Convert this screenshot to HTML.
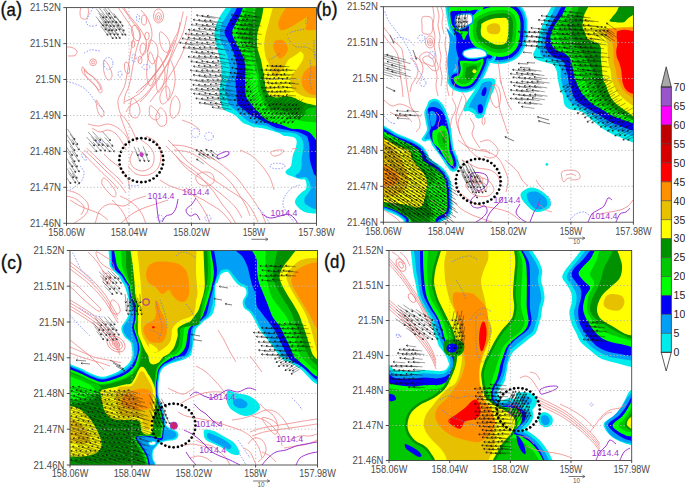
<!DOCTYPE html>
<html><head><meta charset="utf-8"><style>
html,body{margin:0;padding:0;background:#fff;}
svg{display:block;font-family:"Liberation Sans",sans-serif;}
</style></head><body>
<svg width="685" height="488" viewBox="0 0 685 488">
<rect width="685" height="488" fill="#fff"/>
<defs>
<clipPath id="clipa"><rect x="66.5" y="7.6" width="250.0" height="215.7"/></clipPath>
<clipPath id="clipb"><rect x="383.4" y="6.7" width="250.0" height="215.5"/></clipPath>
<clipPath id="clipc"><rect x="70.0" y="250.5" width="247.5" height="214.5"/></clipPath>
<clipPath id="clipd"><rect x="389.0" y="250.5" width="242.7" height="210.0"/></clipPath>
</defs>
<g clip-path="url(#clipa)">
<path d="M227.0,0.0 L226.0,7.6 C225.1,8.9 222.1,12.8 220.5,15.5 C218.9,18.2 217.5,21.1 216.5,24.0 C215.5,26.9 214.7,29.7 214.5,32.6 C214.3,35.5 214.7,38.4 215.2,41.2 C215.7,44.1 216.8,46.9 217.5,49.7 C218.2,52.5 219.0,55.4 219.6,58.2 C220.2,61.1 220.7,63.9 221.0,66.8 C221.3,69.6 221.6,72.6 221.5,75.3 C221.4,78.0 220.9,80.0 220.5,83.0 C220.1,86.0 219.1,90.2 219.2,93.5 C219.2,96.8 220.2,100.0 220.8,102.5 C221.4,105.0 221.5,106.7 222.5,108.2 C223.5,109.7 225.3,110.6 227.0,111.5 C228.7,112.4 230.8,112.7 232.7,113.8 C234.6,114.9 236.6,116.8 238.3,118.3 C240.0,119.8 241.1,121.7 242.8,122.8 C244.5,123.9 246.5,124.3 248.4,125.1 C250.3,125.8 251.9,126.8 254.1,127.3 C256.2,127.8 258.3,127.4 261.3,128.0 C264.3,128.6 268.9,129.8 272.0,130.7 C275.1,131.6 277.9,132.6 280.0,133.5 C282.1,134.4 282.4,135.6 284.4,136.1 C286.4,136.6 289.9,136.3 291.8,136.7 C293.7,137.1 294.7,137.6 295.5,138.5 C296.3,139.4 296.7,140.5 296.7,142.2 C296.7,143.8 296.1,146.3 295.5,148.4 C294.9,150.5 293.6,152.2 293.0,154.5 C292.4,156.8 292.2,159.8 291.8,161.9 C291.4,164.0 291.5,165.2 290.5,166.8 C289.5,168.4 286.2,170.0 285.6,171.2 C285.0,172.4 285.6,173.3 286.8,174.2 C288.0,175.1 290.7,175.8 293.0,176.7 C295.3,177.5 298.4,178.8 300.4,179.3 C302.4,179.8 303.8,178.8 304.8,179.5 C305.8,180.2 306.2,182.1 306.4,183.7 C306.6,185.3 306.7,187.6 305.9,189.1 C305.1,190.6 302.9,191.1 301.5,192.4 C300.1,193.7 298.3,195.1 297.2,196.7 C296.1,198.3 294.8,200.4 295.0,202.2 C295.2,204.0 297.0,206.1 298.3,207.6 C299.6,209.1 300.8,210.0 302.6,210.9 C304.4,211.8 306.8,212.6 309.1,213.0 C311.5,213.4 315.4,213.5 316.7,213.6 L330.0,214.0 L330.0,0.0 L227.0,0.0 Z" fill="#00ecec"/>
<path d="M232.5,0.0 L232.0,7.6 C231.2,8.9 228.7,12.8 227.0,15.5 C225.3,18.2 222.9,21.1 221.7,24.0 C220.5,26.9 219.9,29.7 219.8,32.6 C219.7,35.5 220.1,38.4 221.0,41.2 C221.9,44.1 223.8,46.9 225.0,49.7 C226.2,52.5 227.2,55.4 228.0,58.2 C228.8,61.1 229.2,63.9 229.5,66.8 C229.8,69.6 229.8,73.1 229.5,75.3 C229.2,77.5 228.2,78.1 227.5,80.0 C226.8,81.9 225.6,84.5 225.3,86.8 C225.0,89.0 225.4,90.9 225.9,93.5 C226.4,96.1 227.3,100.2 228.2,102.5 C229.1,104.8 230.0,105.5 231.5,107.0 C233.0,108.5 235.5,110.0 237.2,111.5 C238.9,113.0 240.0,114.5 241.7,116.0 C243.4,117.5 245.2,119.3 247.3,120.6 C249.4,121.9 251.8,123.2 254.1,123.9 C256.4,124.7 258.5,124.7 260.8,125.1 C263.1,125.5 265.3,125.5 268.0,126.5 C270.7,127.5 273.9,130.2 277.0,131.2 C280.1,132.2 283.7,132.0 286.8,132.4 C289.9,132.8 293.0,132.6 295.5,133.6 C298.0,134.6 300.3,136.7 301.6,138.5 C302.9,140.3 303.3,142.4 303.5,144.7 C303.7,147.0 303.1,149.6 302.8,152.1 C302.5,154.6 301.8,157.2 301.6,159.5 C301.4,161.8 301.9,163.5 301.6,165.6 C301.3,167.7 300.8,170.2 299.8,171.8 C298.8,173.5 295.8,174.5 295.5,175.5 C295.2,176.5 296.2,177.6 297.9,177.9 C299.6,178.2 304.0,176.6 305.9,177.2 C307.8,177.8 308.3,179.7 309.1,181.5 C309.9,183.3 311.0,186.0 310.8,188.0 C310.6,190.0 309.0,191.9 308.0,193.5 C307.0,195.1 305.3,196.2 304.8,197.8 C304.3,199.4 304.1,201.9 304.8,203.3 C305.5,204.8 307.7,205.6 309.1,206.5 C310.6,207.4 312.2,208.2 313.5,208.7 C314.8,209.1 316.2,209.1 316.7,209.2 L330.0,209.0 L330.0,0.0 L232.5,0.0 Z" fill="#01a0f6"/>
<path d="M237.5,0.0 L237.0,7.6 C236.3,8.9 234.5,12.8 233.0,15.5 C231.5,18.2 229.4,21.1 228.0,24.0 C226.6,26.9 224.4,29.7 224.5,32.6 C224.6,35.5 227.2,38.4 228.5,41.2 C229.8,44.1 231.3,46.9 232.5,49.7 C233.7,52.5 234.8,55.4 235.5,58.2 C236.2,61.1 236.8,63.9 237.0,66.8 C237.2,69.6 236.8,73.1 236.5,75.3 C236.2,77.5 235.6,78.1 235.5,80.0 C235.4,81.9 235.8,84.4 236.0,86.8 C236.2,89.2 236.4,91.8 236.6,94.6 C236.8,97.4 236.5,101.6 237.2,103.7 C237.9,105.8 239.1,105.7 240.6,107.0 C242.1,108.3 244.3,110.0 246.2,111.5 C248.1,113.0 249.9,114.9 251.8,116.0 C253.7,117.1 255.8,117.5 257.5,118.3 C259.2,119.1 260.5,120.0 262.3,120.9 C264.1,121.8 266.4,122.9 268.4,123.9 C270.4,124.9 273.1,126.3 274.5,127.0 C275.9,127.7 274.5,127.5 277.0,128.1 C279.5,128.7 285.6,129.8 289.3,130.5 C293.0,131.2 296.3,131.5 299.2,132.4 C302.1,133.3 304.9,134.7 306.5,136.1 C308.1,137.5 308.0,139.2 308.5,141.0 C309.0,142.8 309.3,144.7 309.5,147.2 C309.7,149.7 309.3,153.4 309.5,156.0 C309.7,158.6 310.0,160.8 310.5,163.0 C311.0,165.2 311.9,167.5 312.5,169.3 C313.1,171.1 313.3,172.8 314.0,174.0 C314.7,175.2 316.2,176.1 316.7,176.5 L330.0,177.0 L330.0,0.0 L237.5,0.0 Z" fill="#0000f6"/>
<path d="M243.5,0.0 L243.0,7.6 C242.5,8.9 241.2,12.8 240.0,15.5 C238.8,18.2 236.8,21.1 235.5,24.0 C234.2,26.9 232.1,29.7 232.0,32.6 C231.9,35.5 233.8,38.4 235.0,41.2 C236.2,44.1 238.1,46.9 239.5,49.7 C240.9,52.5 242.6,55.4 243.6,58.2 C244.6,61.1 245.0,63.9 245.3,66.8 C245.6,69.6 245.3,72.7 245.3,75.3 C245.3,77.9 245.1,79.9 245.1,82.2 C245.1,84.5 245.2,86.9 245.3,89.3 C245.5,91.7 245.3,94.3 246.0,96.5 C246.7,98.7 248.4,100.6 249.6,102.3 C250.8,104.0 252.1,105.3 253.2,106.6 C254.3,107.9 255.0,109.0 256.0,110.0 C257.0,111.0 257.9,111.4 259.0,112.5 C260.1,113.6 260.9,115.3 262.3,116.6 C263.7,117.9 265.4,119.2 267.2,120.2 C269.0,121.2 271.1,122.0 273.3,122.7 C275.6,123.4 278.3,123.7 280.7,124.5 C283.1,125.3 285.6,126.8 287.7,127.5 C289.8,128.2 291.1,128.7 293.4,129.0 C295.7,129.3 299.0,129.0 301.6,129.5 C304.2,130.0 306.9,130.7 309.0,132.0 C311.1,133.3 312.6,135.7 313.9,137.3 C315.2,138.9 316.5,140.8 317.0,141.5 L330.0,142.0 L330.0,0.0 L243.5,0.0 Z" fill="#00ff00"/>
<path d="M246.5,0.0 L246.0,7.6 C245.7,8.9 245.0,12.8 244.0,15.5 C243.0,18.2 241.2,21.1 240.0,24.0 C238.8,26.9 236.9,30.2 237.0,32.6 C237.1,35.0 238.9,36.0 240.4,38.2 C241.9,40.4 244.5,43.3 245.9,45.6 C247.3,47.9 248.0,49.6 249.0,52.0 C250.0,54.4 251.1,57.3 252.0,60.0 C252.9,62.7 253.7,65.5 254.5,68.0 C255.3,70.5 256.3,72.6 256.8,75.0 C257.3,77.4 257.3,79.8 257.5,82.2 C257.7,84.6 257.7,86.9 258.2,89.3 C258.7,91.7 259.4,94.1 260.4,96.5 C261.4,98.9 262.7,101.6 264.0,103.7 C265.3,105.8 266.7,107.5 268.0,109.0 C269.3,110.5 270.0,111.3 272.0,112.5 C274.0,113.7 277.0,115.1 280.0,116.0 C283.0,116.9 286.4,117.2 290.0,118.0 C293.6,118.8 297.1,120.2 301.6,121.0 C306.1,121.8 314.4,122.2 317.0,122.5 L330.0,123.0 L330.0,0.0 L246.5,0.0 Z" fill="#00c800"/>
<path d="M256.5,0.0 L256.0,7.6 C255.7,9.0 254.9,13.4 254.0,16.0 C253.1,18.6 251.3,20.9 250.5,23.4 C249.7,25.9 249.3,28.3 249.0,30.8 C248.7,33.3 248.4,35.7 248.7,38.2 C249.0,40.7 249.8,43.7 250.6,45.6 C251.4,47.5 253.0,47.6 253.8,49.7 C254.6,51.8 254.9,55.4 255.5,58.2 C256.1,61.1 256.6,64.0 257.2,66.8 C257.8,69.6 258.6,72.4 259.0,75.0 C259.4,77.6 259.3,79.8 259.7,82.2 C260.1,84.6 260.5,86.9 261.1,89.3 C261.7,91.7 262.2,94.1 263.3,96.5 C264.4,98.9 266.3,101.7 267.6,103.7 C268.9,105.7 269.4,107.3 271.0,108.5 C272.6,109.7 274.6,110.1 277.0,110.6 C279.4,111.1 282.5,110.7 285.2,111.4 C287.9,112.1 291.2,113.6 293.4,114.7 C295.6,115.8 296.9,117.6 298.3,118.0 C299.7,118.4 300.7,117.6 301.6,117.1 C302.6,116.5 303.3,115.8 304.0,114.7 C304.7,113.6 304.7,111.7 305.7,110.6 C306.7,109.5 307.9,108.6 309.8,108.1 C311.7,107.5 315.8,107.4 317.0,107.3 L330.0,107.0 L330.0,0.0 L256.5,0.0 Z" fill="#009000"/>
<path d="M264.0,0.0 L263.5,7.6 C263.3,9.0 262.7,13.4 262.1,16.0 C261.6,18.6 260.9,20.9 260.2,23.4 C259.5,25.9 258.4,28.3 257.9,30.8 C257.4,33.3 257.1,35.7 257.0,38.2 C256.9,40.7 256.8,43.3 257.0,45.6 C257.2,47.9 257.8,49.6 258.5,52.0 C259.2,54.4 260.3,57.3 261.0,60.0 C261.7,62.7 262.0,65.5 262.5,68.0 C263.0,70.5 263.6,72.6 264.0,75.0 C264.4,77.4 264.3,79.8 264.7,82.2 C265.1,84.6 265.4,87.2 266.1,89.3 C266.8,91.4 268.0,93.9 269.0,95.1 C270.0,96.3 270.7,96.1 272.0,96.5 C273.3,96.9 274.8,97.5 277.0,97.5 C279.2,97.5 282.5,96.6 285.2,96.6 C287.9,96.6 291.2,97.0 293.4,97.5 C295.6,98.0 296.5,99.1 298.3,99.9 C300.1,100.7 302.1,101.7 304.0,102.4 C305.9,103.1 307.6,103.5 309.8,104.0 C312.0,104.5 315.8,105.4 317.0,105.7 L330.0,106.0 L330.0,0.0 L264.0,0.0 Z" fill="#ffff00"/>
<path d="M273.5,0.0 L273.0,7.6 C272.6,9.0 271.2,13.4 270.5,16.0 C269.8,18.6 269.2,20.9 268.5,23.4 C267.8,25.9 267.1,28.3 266.5,30.8 C265.9,33.3 265.2,35.7 264.8,38.2 C264.4,40.7 264.2,43.1 264.2,45.6 C264.2,48.1 264.6,51.2 265.0,53.5 C265.4,55.8 265.8,57.6 266.6,59.6 C267.4,61.6 268.9,63.8 269.7,65.8 C270.5,67.8 270.8,70.3 271.5,71.9 C272.2,73.5 273.1,74.8 274.0,75.6 C274.9,76.4 275.9,77.4 277.0,76.8 C278.1,76.2 279.4,73.8 280.8,72.0 C282.2,70.2 283.8,67.9 285.1,65.8 C286.4,63.7 287.2,61.2 288.7,59.6 C290.2,58.0 292.6,57.0 294.3,55.9 C296.0,54.8 297.6,53.5 298.6,52.8 C299.7,52.1 299.8,51.3 300.6,51.6 C301.4,51.9 303.1,53.4 303.5,54.7 C303.9,56.0 303.6,57.8 302.9,59.6 C302.2,61.5 300.4,63.9 299.2,65.8 C298.0,67.6 296.7,69.3 295.5,70.7 C294.3,72.1 292.6,73.0 291.8,74.4 C291.0,75.8 290.7,77.2 290.6,79.3 C290.5,81.3 290.6,84.8 291.2,86.7 C291.8,88.7 293.2,89.8 294.5,91.0 C295.8,92.2 297.6,93.3 299.2,94.2 C300.8,95.1 302.2,95.9 304.1,96.5 C306.0,97.1 308.2,97.5 310.3,97.8 C312.4,98.1 315.9,98.4 317.0,98.5 L330.0,99.0 L330.0,0.0 L273.5,0.0 Z" fill="#e7c000"/>
<path d="M286.5,0.0 L286.5,7.6 C285.6,8.9 282.4,13.1 281.0,15.7 C279.6,18.3 278.6,21.1 278.3,23.3 C278.0,25.5 278.6,27.5 279.4,28.7 C280.2,29.9 281.3,30.6 283.2,30.3 C285.1,30.0 287.9,28.6 290.8,27.1 C293.7,25.6 297.9,22.6 300.6,21.1 C303.3,19.6 306.2,16.6 307.1,17.9 C308.0,19.2 305.6,26.6 306.0,28.7 C306.4,30.8 307.5,30.1 309.3,30.3 C311.1,30.5 315.7,29.9 317.0,29.8 L330.0,30.0 L330.0,0.0 L286.5,0.0 Z" fill="#ff9000"/>
<path d="M274.6,41.2 C276.0,40.0 279.9,39.3 282.0,39.9 C284.1,40.5 286.0,42.9 286.9,44.8 C287.8,46.6 288.1,49.0 287.5,51.0 C286.9,53.0 284.5,55.9 283.2,57.1 C281.9,58.3 280.7,59.0 279.5,58.4 C278.3,57.8 276.8,55.4 275.8,53.5 C274.8,51.6 273.6,49.3 273.4,47.3 C273.2,45.2 273.2,42.4 274.6,41.2 Z" fill="#ff9000"/>
<path d="M330.0,65.8 L317.0,65.8 C316.1,65.9 313.2,65.8 311.5,66.4 C309.8,67.0 308.0,68.1 306.6,69.4 C305.2,70.7 303.7,72.6 302.9,74.4 C302.1,76.2 301.7,78.5 301.7,80.5 C301.7,82.5 302.1,84.9 302.9,86.7 C303.7,88.5 305.2,90.3 306.6,91.6 C308.0,92.9 309.8,93.9 311.5,94.5 C313.2,95.1 316.1,94.9 317.0,95.0 L330.0,95.0 L330.0,65.8 Z" fill="#ff9000"/>
<path d="M80.7,7.6 C80.6,8.7 79.8,12.2 80.0,14.0 C80.2,15.8 80.9,17.8 82.0,18.5 C83.1,19.2 85.4,19.6 86.5,18.5 C87.6,17.4 88.3,13.8 88.6,12.0 C88.8,10.2 88.1,8.3 88.0,7.6" fill="none" stroke="#f08585" stroke-width="0.80"/>
<path d="M117.9,7.0 C118.7,8.1 120.9,11.6 122.4,13.8 C123.9,16.1 125.4,18.2 126.9,20.5 C128.4,22.8 130.3,24.7 131.4,27.3 C132.5,29.9 133.7,32.9 133.7,36.3 C133.7,39.7 132.2,43.5 131.4,47.6 C130.7,51.7 129.9,56.6 129.2,61.1 C128.4,65.6 127.7,70.5 126.9,74.7 C126.2,78.9 125.8,82.6 124.7,86.0 C123.6,89.4 121.2,92.4 120.1,95.0 C119.0,97.6 117.9,98.7 117.9,101.7 C117.9,104.7 119.0,110.3 120.1,113.0 C121.2,115.7 123.0,115.8 124.7,118.0 C126.4,120.2 128.4,123.3 130.0,126.0 C131.6,128.7 132.8,131.3 134.0,134.0 C135.2,136.7 136.5,140.7 137.0,142.0" fill="none" stroke="#f08585" stroke-width="0.80"/>
<path d="M122.0,7.0 C122.8,8.2 125.3,11.7 127.0,14.0 C128.7,16.3 130.3,18.7 132.0,21.0 C133.7,23.3 135.7,25.5 137.0,28.0 C138.3,30.5 140.0,32.8 140.0,36.0 C140.0,39.2 138.0,43.0 137.0,47.0 C136.0,51.0 134.9,55.5 134.0,60.0 C133.1,64.5 132.3,69.7 131.5,74.0 C130.7,78.3 130.1,82.3 129.0,86.0 C127.9,89.7 125.8,93.0 125.0,96.0 C124.2,99.0 124.2,102.7 124.0,104.0" fill="none" stroke="#f08585" stroke-width="0.80"/>
<path d="M183.3,11.5 C182.6,14.5 180.7,24.3 178.8,29.6 C176.9,34.9 174.2,38.2 172.0,43.1 C169.8,48.0 167.9,54.0 165.3,58.9 C162.7,63.8 158.8,68.7 156.2,72.4 C153.6,76.2 151.8,78.4 149.5,81.4 C147.2,84.4 145.3,87.9 142.7,90.5 C140.1,93.1 136.7,95.3 133.7,97.2 C130.7,99.1 126.2,101.0 124.7,101.7" fill="none" stroke="#f08585" stroke-width="0.80"/>
<path d="M187.0,16.0 C186.3,18.8 184.8,27.8 183.0,33.0 C181.2,38.2 178.3,42.2 176.0,47.0 C173.7,51.8 171.7,57.3 169.0,62.0 C166.3,66.7 162.7,71.2 160.0,75.0 C157.3,78.8 155.3,81.8 153.0,85.0 C150.7,88.2 148.5,91.3 146.0,94.0 C143.5,96.7 140.7,99.0 138.0,101.0 C135.3,103.0 132.0,104.2 130.0,106.0 C128.0,107.8 126.7,111.0 126.0,112.0" fill="none" stroke="#f08585" stroke-width="0.80"/>
<path d="M175.0,40.0 C173.8,42.5 170.5,50.3 168.0,55.0 C165.5,59.7 162.7,64.2 160.0,68.0 C157.3,71.8 154.7,75.0 152.0,78.0 C149.3,81.0 146.7,83.5 144.0,86.0 C141.3,88.5 137.3,91.8 136.0,93.0" fill="none" stroke="#f08585" stroke-width="0.80"/>
<path d="M171.0,50.0 C169.8,52.0 166.5,58.3 164.0,62.0 C161.5,65.7 158.7,68.7 156.0,72.0 C153.3,75.3 150.5,79.2 148.0,82.0 C145.5,84.8 142.2,87.8 141.0,89.0" fill="none" stroke="#f08585" stroke-width="0.80"/>
<ellipse cx="158.5" cy="16.0" rx="5.0" ry="7.0" fill="none" stroke="#f08585" stroke-width="0.80"/>
<ellipse cx="158.5" cy="17.0" rx="2.8" ry="4.2" fill="none" stroke="#f08585" stroke-width="0.80"/>
<ellipse cx="158.5" cy="17.5" rx="1.2" ry="2.0" fill="none" stroke="#f08585" stroke-width="0.80"/>
<path d="M82.9,66.8 C83.7,67.2 84.6,70.7 86.3,72.4 C88.0,74.1 90.8,75.0 93.1,76.9 C95.3,78.8 98.3,81.4 99.8,83.7 C101.3,86.0 102.1,89.0 102.1,90.5 C102.1,92.0 100.9,93.5 99.8,92.7 C98.7,92.0 97.2,88.2 95.3,86.0 C93.4,83.8 90.5,81.1 88.6,79.2 C86.7,77.3 85.1,76.2 84.0,74.7 C82.9,73.2 82.0,71.5 81.8,70.2 C81.6,68.9 82.2,66.4 82.9,66.8 Z" fill="none" stroke="#f08585" stroke-width="0.80"/>
<path d="M84.5,69.0 C85.0,68.8 86.4,71.5 88.0,73.0 C89.6,74.5 92.2,76.1 94.0,78.0 C95.8,79.9 97.9,82.7 99.0,84.5 C100.1,86.3 100.6,88.2 100.5,89.0 C100.4,89.8 99.6,90.3 98.5,89.5 C97.4,88.7 95.8,85.8 94.0,84.0 C92.2,82.2 89.5,80.2 88.0,78.5 C86.5,76.8 85.6,75.6 85.0,74.0 C84.4,72.4 84.0,69.2 84.5,69.0 Z" fill="none" stroke="#f08585" stroke-width="0.80"/>
<ellipse cx="93.1" cy="62.3" rx="3.4" ry="3.4" fill="none" stroke="#f08585" stroke-width="0.80"/>
<ellipse cx="93.1" cy="62.3" rx="1.5" ry="1.5" fill="none" stroke="#f08585" stroke-width="0.80"/>
<path d="M66.5,47.0 C67.4,47.1 70.2,46.8 72.0,47.5 C73.8,48.2 76.5,49.7 77.0,51.0 C77.5,52.3 76.5,54.7 75.0,55.5 C73.5,56.3 69.2,55.9 68.0,56.0" fill="none" stroke="#f08585" stroke-width="0.80"/>
<ellipse cx="136.0" cy="33.0" rx="4.0" ry="8.0" fill="none" stroke="#f08585" stroke-width="0.80" transform="rotate(-15.0 136.0 33.0)"/>
<ellipse cx="143.0" cy="49.0" rx="3.0" ry="6.0" fill="none" stroke="#f08585" stroke-width="0.80"/>
<ellipse cx="144.0" cy="20.0" rx="2.5" ry="5.0" fill="none" stroke="#f08585" stroke-width="0.80"/>
<ellipse cx="147.0" cy="36.0" rx="2.2" ry="4.0" fill="none" stroke="#f08585" stroke-width="0.80"/>
<ellipse cx="133.0" cy="44.0" rx="1.8" ry="3.5" fill="none" stroke="#f08585" stroke-width="0.80"/>
<ellipse cx="127.0" cy="68.0" rx="2.5" ry="6.0" fill="none" stroke="#f08585" stroke-width="0.80" transform="rotate(-10.0 127.0 68.0)"/>
<ellipse cx="140.0" cy="60.0" rx="2.0" ry="4.0" fill="none" stroke="#f08585" stroke-width="0.80"/>
<path d="M84.4,150.0 C86.2,151.7 91.6,156.7 95.0,160.0 C98.4,163.3 101.6,166.7 105.0,170.0 C108.4,173.3 112.5,176.9 115.2,179.6 C117.9,182.3 119.2,183.8 121.0,186.0 C122.8,188.2 125.2,191.8 126.0,193.0" fill="none" stroke="#f08585" stroke-width="0.80"/>
<path d="M86.5,148.0 C88.2,149.7 93.6,154.7 97.0,158.0 C100.4,161.3 103.7,164.8 107.0,168.0 C110.3,171.2 114.3,174.3 117.0,177.0 C119.7,179.7 122.0,182.8 123.0,184.0" fill="none" stroke="#f08585" stroke-width="0.80"/>
<path d="M82.0,152.0 C83.7,153.8 88.7,159.1 92.0,162.5 C95.3,165.9 98.7,169.2 102.0,172.5 C105.3,175.8 109.3,179.2 112.0,182.0 C114.7,184.8 117.0,187.8 118.0,189.0" fill="none" stroke="#f08585" stroke-width="0.80"/>
<path d="M104.0,178.0 C105.7,178.3 110.0,183.5 112.0,186.0 C114.0,188.5 115.7,191.2 116.0,193.0 C116.3,194.8 115.3,197.2 114.0,197.0 C112.7,196.8 110.0,194.2 108.0,192.0 C106.0,189.8 102.7,186.3 102.0,184.0 C101.3,181.7 102.3,177.7 104.0,178.0 Z" fill="none" stroke="#f08585" stroke-width="0.80"/>
<path d="M141.0,140.0 C142.3,141.0 146.8,143.5 149.0,146.0 C151.2,148.5 153.5,151.7 154.0,155.0 C154.5,158.3 153.8,163.3 152.0,166.0 C150.2,168.7 146.0,170.7 143.0,171.0 C140.0,171.3 136.2,169.8 134.0,168.0 C131.8,166.2 130.2,162.8 130.0,160.0 C129.8,157.2 132.5,152.5 133.0,151.0" fill="none" stroke="#f08585" stroke-width="0.80"/>
<path d="M146.0,136.0 C147.7,137.0 153.5,139.0 156.0,142.0 C158.5,145.0 160.7,149.7 161.0,154.0 C161.3,158.3 160.2,164.5 158.0,168.0 C155.8,171.5 151.7,174.0 148.0,175.0 C144.3,176.0 139.3,175.5 136.0,174.0 C132.7,172.5 129.3,167.3 128.0,166.0" fill="none" stroke="#f08585" stroke-width="0.80"/>
<path d="M120.0,115.0 C120.7,116.8 122.8,122.8 124.0,126.0 C125.2,129.2 126.0,131.3 127.0,134.0 C128.0,136.7 129.5,140.7 130.0,142.0" fill="none" stroke="#f08585" stroke-width="0.80"/>
<path d="M66.5,190.0 C68.4,190.7 74.4,191.7 78.0,194.0 C81.6,196.3 86.7,200.7 88.0,204.0 C89.3,207.3 88.0,211.0 86.0,214.0 C84.0,217.0 78.3,220.3 76.0,222.0 C73.7,223.7 72.7,223.7 72.0,224.0" fill="none" stroke="#f08585" stroke-width="0.80"/>
<path d="M66.5,196.0 C68.1,196.5 73.1,197.2 76.0,199.0 C78.9,200.8 83.2,204.3 84.0,207.0 C84.8,209.7 81.5,213.7 81.0,215.0" fill="none" stroke="#f08585" stroke-width="0.80"/>
<path d="M95.0,224.0 C95.8,221.7 97.5,213.3 100.0,210.0 C102.5,206.7 106.0,204.7 110.0,204.0 C114.0,203.3 120.0,206.7 124.0,206.0 C128.0,205.3 130.3,201.7 134.0,200.0 C137.7,198.3 144.0,196.7 146.0,196.0" fill="none" stroke="#f08585" stroke-width="0.80"/>
<path d="M172.0,145.0 C174.0,145.2 180.0,145.2 184.0,146.0 C188.0,146.8 192.3,148.3 196.0,150.0 C199.7,151.7 202.8,154.3 206.0,156.0 C209.2,157.7 211.7,158.0 215.0,160.0 C218.3,162.0 222.3,165.0 226.0,168.0 C229.7,171.0 233.7,174.3 237.0,178.0 C240.3,181.7 242.8,185.7 246.0,190.0 C249.2,194.3 253.3,200.0 256.0,204.0 C258.7,208.0 260.3,210.7 262.0,214.0 C263.7,217.3 265.3,222.3 266.0,224.0" fill="none" stroke="#f08585" stroke-width="0.80"/>
<path d="M174.0,150.0 C176.3,150.3 183.7,150.7 188.0,152.0 C192.3,153.3 196.3,155.7 200.0,158.0 C203.7,160.3 206.3,163.3 210.0,166.0 C213.7,168.7 218.3,171.0 222.0,174.0 C225.7,177.0 229.0,180.3 232.0,184.0 C235.0,187.7 237.7,192.3 240.0,196.0 C242.3,199.7 244.3,202.7 246.0,206.0 C247.7,209.3 249.3,214.3 250.0,216.0" fill="none" stroke="#f08585" stroke-width="0.80"/>
<path d="M176.0,156.0 C177.0,157.0 179.7,160.0 182.0,162.0 C184.3,164.0 187.3,166.0 190.0,168.0 C192.7,170.0 195.5,171.7 198.0,174.0 C200.5,176.3 202.3,179.0 205.0,182.0 C207.7,185.0 211.2,188.3 214.0,192.0 C216.8,195.7 219.3,200.3 222.0,204.0 C224.7,207.7 227.7,210.7 230.0,214.0 C232.3,217.3 235.0,222.3 236.0,224.0" fill="none" stroke="#f08585" stroke-width="0.80"/>
<path d="M160.0,180.0 C161.7,181.0 166.3,184.3 170.0,186.0 C173.7,187.7 177.7,188.3 182.0,190.0 C186.3,191.7 191.3,193.7 196.0,196.0 C200.7,198.3 205.7,201.3 210.0,204.0 C214.3,206.7 218.3,208.7 222.0,212.0 C225.7,215.3 230.3,222.0 232.0,224.0" fill="none" stroke="#f08585" stroke-width="0.80"/>
<path d="M120.0,224.0 C122.0,222.3 128.0,216.7 132.0,214.0 C136.0,211.3 140.0,209.7 144.0,208.0 C148.0,206.3 152.0,205.3 156.0,204.0 C160.0,202.7 166.0,200.7 168.0,200.0" fill="none" stroke="#f08585" stroke-width="0.80"/>
<path d="M182.0,120.0 C183.7,120.7 189.0,122.3 192.0,124.0 C195.0,125.7 198.7,129.0 200.0,130.0" fill="none" stroke="#f08585" stroke-width="0.80"/>
<path d="M196.0,176.0 C197.0,174.2 201.3,172.3 204.0,172.0 C206.7,171.7 210.3,172.3 212.0,174.0 C213.7,175.7 215.0,180.0 214.0,182.0 C213.0,184.0 208.7,185.8 206.0,186.0 C203.3,186.2 199.7,184.7 198.0,183.0 C196.3,181.3 195.0,177.8 196.0,176.0 Z" fill="none" stroke="#f08585" stroke-width="0.80"/>
<path d="M240.0,150.0 C242.0,151.0 248.3,153.3 252.0,156.0 C255.7,158.7 259.0,162.3 262.0,166.0 C265.0,169.7 268.0,174.0 270.0,178.0 C272.0,182.0 273.3,188.0 274.0,190.0" fill="none" stroke="#f08585" stroke-width="0.80"/>
<path d="M124.0,7.6 C124.7,8.7 126.5,11.9 128.0,14.0 C129.5,16.1 131.3,18.0 133.0,20.0 C134.7,22.0 136.5,24.0 138.0,26.0 C139.5,28.0 140.7,29.7 142.0,32.0 C143.3,34.3 145.3,37.3 146.0,40.0 C146.7,42.7 146.7,45.3 146.0,48.0 C145.3,50.7 143.3,53.7 142.0,56.0 C140.7,58.3 138.7,61.0 138.0,62.0" fill="none" stroke="#f08585" stroke-width="0.80"/>
<path d="M141.0,10.0 C141.8,11.0 144.5,13.7 146.0,16.0 C147.5,18.3 149.0,21.0 150.0,24.0 C151.0,27.0 152.0,30.7 152.0,34.0 C152.0,37.3 150.8,41.0 150.0,44.0 C149.2,47.0 147.5,50.7 147.0,52.0" fill="none" stroke="#f08585" stroke-width="0.80"/>
<path d="M150.0,40.0 C151.3,39.0 154.7,42.0 156.0,44.0 C157.3,46.0 158.0,49.3 158.0,52.0 C158.0,54.7 157.0,58.0 156.0,60.0 C155.0,62.0 153.3,64.3 152.0,64.0 C150.7,63.7 148.7,60.3 148.0,58.0 C147.3,55.7 147.7,53.0 148.0,50.0 C148.3,47.0 148.7,41.0 150.0,40.0 Z" fill="none" stroke="#f08585" stroke-width="0.80"/>
<path d="M160.0,32.0 C161.0,31.0 164.3,34.0 166.0,36.0 C167.7,38.0 169.7,41.3 170.0,44.0 C170.3,46.7 169.2,51.0 168.0,52.0 C166.8,53.0 164.3,51.7 163.0,50.0 C161.7,48.3 160.5,45.0 160.0,42.0 C159.5,39.0 159.0,33.0 160.0,32.0 Z" fill="none" stroke="#f08585" stroke-width="0.80"/>
<path d="M180.0,22.0 C179.7,24.0 179.0,30.0 178.0,34.0 C177.0,38.0 175.3,42.0 174.0,46.0 C172.7,50.0 171.7,54.0 170.0,58.0 C168.3,62.0 166.0,66.3 164.0,70.0 C162.0,73.7 160.0,77.0 158.0,80.0 C156.0,83.0 154.0,85.3 152.0,88.0 C150.0,90.7 148.0,93.7 146.0,96.0 C144.0,98.3 141.0,101.0 140.0,102.0" fill="none" stroke="#f08585" stroke-width="0.80"/>
<path d="M190.0,30.0 C189.3,32.3 187.7,39.3 186.0,44.0 C184.3,48.7 182.3,53.3 180.0,58.0 C177.7,62.7 174.7,67.7 172.0,72.0 C169.3,76.3 166.7,80.3 164.0,84.0 C161.3,87.7 158.3,91.0 156.0,94.0 C153.7,97.0 151.0,100.7 150.0,102.0" fill="none" stroke="#f08585" stroke-width="0.80"/>
<path d="M166.0,86.0 C167.7,85.3 169.7,89.7 170.0,92.0 C170.3,94.3 169.3,98.0 168.0,100.0 C166.7,102.0 163.3,104.7 162.0,104.0 C160.7,103.3 159.3,99.0 160.0,96.0 C160.7,93.0 164.3,86.7 166.0,86.0 Z" fill="none" stroke="#f08585" stroke-width="0.80"/>
<path d="M132.0,98.0 C133.3,96.3 136.7,101.7 138.0,104.0 C139.3,106.3 140.3,109.7 140.0,112.0 C139.7,114.3 137.7,117.7 136.0,118.0 C134.3,118.3 130.7,117.3 130.0,114.0 C129.3,110.7 130.7,99.7 132.0,98.0 Z" fill="none" stroke="#f08585" stroke-width="0.80"/>
<path d="M150.0,106.0 C151.0,105.0 154.3,108.3 156.0,110.0 C157.7,111.7 160.0,114.3 160.0,116.0 C160.0,117.7 157.7,120.0 156.0,120.0 C154.3,120.0 151.0,118.3 150.0,116.0 C149.0,113.7 149.0,107.0 150.0,106.0 Z" fill="none" stroke="#f08585" stroke-width="0.80"/>
<path d="M96.0,100.0 C96.3,99.0 98.7,104.0 100.0,106.0 C101.3,108.0 103.7,110.2 104.0,112.0 C104.3,113.8 103.0,117.0 102.0,117.0 C101.0,117.0 99.0,114.8 98.0,112.0 C97.0,109.2 95.7,101.0 96.0,100.0 Z" fill="none" stroke="#f08585" stroke-width="0.80"/>
<path d="M104.0,60.0 C105.0,59.3 108.7,65.3 110.0,68.0 C111.3,70.7 112.3,74.0 112.0,76.0 C111.7,78.0 109.3,80.7 108.0,80.0 C106.7,79.3 104.7,75.3 104.0,72.0 C103.3,68.7 103.0,60.7 104.0,60.0 Z" fill="none" stroke="#f08585" stroke-width="0.80"/>
<path d="M271.0,152.0 C272.0,151.2 275.9,150.2 278.0,150.0 C280.1,149.8 283.2,149.8 283.7,150.5 C284.2,151.2 282.3,153.1 281.0,154.0 C279.7,154.9 277.5,155.8 276.0,156.0 C274.5,156.2 272.8,155.7 272.0,155.0 C271.2,154.3 270.0,152.8 271.0,152.0 Z" fill="none" stroke="#f08585" stroke-width="0.80"/>
<path d="M292.0,149.0 L297.0,148.5" fill="none" stroke="#f08585" stroke-width="0.80"/>
<path d="M150.0,52.0 C151.2,51.0 153.0,57.0 154.0,60.0 C155.0,63.0 156.0,66.7 156.0,70.0 C156.0,73.3 155.0,77.3 154.0,80.0 C153.0,82.7 151.2,86.3 150.0,86.0 C148.8,85.7 147.5,81.3 147.0,78.0 C146.5,74.7 146.5,70.3 147.0,66.0 C147.5,61.7 148.8,53.0 150.0,52.0 Z" fill="none" stroke="#f08585" stroke-width="0.80"/>
<path d="M158.0,56.0 C159.2,55.3 161.8,60.7 163.0,64.0 C164.2,67.3 165.2,72.0 165.0,76.0 C164.8,80.0 163.2,85.3 162.0,88.0 C160.8,90.7 159.0,93.0 158.0,92.0 C157.0,91.0 156.3,86.0 156.0,82.0 C155.7,78.0 155.7,72.3 156.0,68.0 C156.3,63.7 156.8,56.7 158.0,56.0 Z" fill="none" stroke="#f08585" stroke-width="0.80"/>
<path d="M170.0,60.0 C171.2,59.3 173.2,66.3 174.0,70.0 C174.8,73.7 175.3,78.0 175.0,82.0 C174.7,86.0 173.2,91.0 172.0,94.0 C170.8,97.0 169.0,100.7 168.0,100.0 C167.0,99.3 166.2,94.3 166.0,90.0 C165.8,85.7 166.3,79.0 167.0,74.0 C167.7,69.0 168.8,60.7 170.0,60.0 Z" fill="none" stroke="#f08585" stroke-width="0.80"/>
<path d="M176.0,96.0 C177.3,96.7 179.7,101.0 180.0,104.0 C180.3,107.0 179.3,111.7 178.0,114.0 C176.7,116.3 173.3,118.7 172.0,118.0 C170.7,117.3 170.0,113.0 170.0,110.0 C170.0,107.0 171.0,102.3 172.0,100.0 C173.0,97.7 174.7,95.3 176.0,96.0 Z" fill="none" stroke="#f08585" stroke-width="0.80"/>
<path d="M160.0,108.0 C161.7,107.3 165.0,111.3 166.0,114.0 C167.0,116.7 167.0,122.0 166.0,124.0 C165.0,126.0 161.7,127.0 160.0,126.0 C158.3,125.0 156.0,121.0 156.0,118.0 C156.0,115.0 158.3,108.7 160.0,108.0 Z" fill="none" stroke="#f08585" stroke-width="0.80"/>
<path d="M92.0,128.0 C93.3,128.7 97.3,131.7 100.0,132.0 C102.7,132.3 105.3,129.7 108.0,130.0 C110.7,130.3 113.7,132.0 116.0,134.0 C118.3,136.0 120.3,139.3 122.0,142.0 C123.7,144.7 125.3,148.7 126.0,150.0" fill="none" stroke="#f08585" stroke-width="0.80"/>
<path d="M88.0,124.0 C89.7,124.3 94.7,126.0 98.0,126.0 C101.3,126.0 104.7,123.7 108.0,124.0 C111.3,124.3 115.0,126.0 118.0,128.0 C121.0,130.0 124.0,133.0 126.0,136.0 C128.0,139.0 129.3,144.3 130.0,146.0" fill="none" stroke="#f08585" stroke-width="0.80"/>
<path d="M104.0,154.0 C105.0,155.0 107.7,158.0 110.0,160.0 C112.3,162.0 115.7,164.0 118.0,166.0 C120.3,168.0 122.3,169.7 124.0,172.0 C125.7,174.3 127.0,177.0 128.0,180.0 C129.0,183.0 129.7,188.3 130.0,190.0" fill="none" stroke="#f08585" stroke-width="0.80"/>
<path d="M168.0,140.0 C169.7,141.7 175.0,146.7 178.0,150.0 C181.0,153.3 183.0,157.0 186.0,160.0 C189.0,163.0 192.3,165.3 196.0,168.0 C199.7,170.7 204.0,173.3 208.0,176.0 C212.0,178.7 216.0,181.3 220.0,184.0 C224.0,186.7 228.0,189.3 232.0,192.0 C236.0,194.7 240.7,197.0 244.0,200.0 C247.3,203.0 249.7,206.3 252.0,210.0 C254.3,213.7 257.0,220.0 258.0,222.0" fill="none" stroke="#f08585" stroke-width="0.80"/>
<path d="M166.0,146.0 C167.7,147.7 173.0,152.7 176.0,156.0 C179.0,159.3 181.0,163.0 184.0,166.0 C187.0,169.0 190.3,171.3 194.0,174.0 C197.7,176.7 202.3,179.3 206.0,182.0 C209.7,184.7 212.7,187.3 216.0,190.0 C219.3,192.7 222.7,195.0 226.0,198.0 C229.3,201.0 233.3,204.7 236.0,208.0 C238.7,211.3 241.0,216.3 242.0,218.0" fill="none" stroke="#f08585" stroke-width="0.80"/>
<path d="M186.0,188.0 C187.3,189.3 191.7,193.3 194.0,196.0 C196.3,198.7 198.0,201.0 200.0,204.0 C202.0,207.0 204.3,210.7 206.0,214.0 C207.7,217.3 209.3,222.3 210.0,224.0" fill="none" stroke="#f08585" stroke-width="0.80"/>
<path d="M70.0,200.0 C71.7,201.0 76.7,204.3 80.0,206.0 C83.3,207.7 86.7,208.7 90.0,210.0 C93.3,211.3 97.0,212.3 100.0,214.0 C103.0,215.7 106.7,219.0 108.0,220.0" fill="none" stroke="#f08585" stroke-width="0.80"/>
<path d="M120.0,196.0 C121.3,196.7 125.3,198.3 128.0,200.0 C130.7,201.7 133.7,203.7 136.0,206.0 C138.3,208.3 140.3,211.0 142.0,214.0 C143.7,217.0 145.3,222.3 146.0,224.0" fill="none" stroke="#f08585" stroke-width="0.80"/>
<path d="M112.0,200.0 C113.0,201.0 116.0,203.7 118.0,206.0 C120.0,208.3 122.3,211.0 124.0,214.0 C125.7,217.0 127.3,222.3 128.0,224.0" fill="none" stroke="#f08585" stroke-width="0.80"/>
<path d="M287.0,35.0 C288.0,34.4 290.8,32.3 293.0,31.5 C295.2,30.7 297.8,30.5 300.0,30.0 C302.2,29.5 305.0,28.8 306.0,28.5" fill="none" stroke="#7080c0" stroke-width="0.80" stroke-dasharray="1.5,1.3"/>
<path d="M288.0,38.0 C288.7,39.0 290.5,42.5 292.0,44.0 C293.5,45.5 294.8,46.5 297.0,47.0 C299.2,47.5 302.5,46.5 305.0,47.0 C307.5,47.5 310.2,48.5 312.0,50.0 C313.8,51.5 315.3,55.0 316.0,56.0" fill="none" stroke="#7080c0" stroke-width="0.80" stroke-dasharray="1.5,1.3"/>
<path d="M306.0,24.0 C306.0,23.3 305.3,21.2 306.0,20.0 C306.7,18.8 309.3,17.5 310.0,17.0" fill="none" stroke="#7080c0" stroke-width="0.80" stroke-dasharray="1.5,1.3"/>
<path d="M310.0,60.0 C310.2,61.7 311.0,66.7 311.0,70.0 C311.0,73.3 309.8,76.7 310.0,80.0 C310.2,83.3 311.7,88.3 312.0,90.0" fill="none" stroke="#7080c0" stroke-width="0.80" stroke-dasharray="1.5,1.3"/>
<path d="M314.0,40.0 C314.0,41.7 313.8,46.7 314.0,50.0 C314.2,53.3 314.8,58.3 315.0,60.0" fill="none" stroke="#7080c0" stroke-width="0.80" stroke-dasharray="1.5,1.3"/>
<path d="M269.0,60.0 C270.2,59.3 274.0,57.2 276.0,56.0 C278.0,54.8 280.2,53.5 281.0,53.0" fill="none" stroke="#7080c0" stroke-width="0.80" stroke-dasharray="1.5,1.3"/>
<path d="M268.0,72.0 C268.0,73.3 267.7,77.3 268.0,80.0 C268.3,82.7 269.7,86.7 270.0,88.0" fill="none" stroke="#7080c0" stroke-width="0.80" stroke-dasharray="1.5,1.3"/>
<ellipse cx="277.5" cy="166.0" rx="7.5" ry="2.8" fill="none" stroke="#7a86ff" stroke-width="0.80" stroke-dasharray="1.6,1.4"/>
<path d="M93.1,7.6 C92.3,9.0 89.7,13.5 88.6,16.0 C87.5,18.5 85.9,21.1 86.3,22.8 C86.7,24.5 88.9,25.8 90.8,26.2 C92.7,26.6 96.5,25.2 97.6,25.0" fill="none" stroke="#7a86ff" stroke-width="0.80" stroke-dasharray="1.6,1.4"/>
<path d="M84.0,53.2 C85.1,52.7 88.2,50.3 90.8,49.9 C93.4,49.5 98.3,50.8 99.8,51.0" fill="none" stroke="#7a86ff" stroke-width="0.80" stroke-dasharray="1.6,1.4"/>
<ellipse cx="108.4" cy="63.4" rx="4.5" ry="6.0" fill="none" stroke="#7a86ff" stroke-width="0.80" stroke-dasharray="1.6,1.4"/>
<path d="M66.5,81.4 C67.9,81.8 72.1,82.6 75.0,83.7 C77.9,84.8 81.4,86.3 84.0,88.2 C86.6,90.1 88.9,92.8 90.8,95.0 C92.7,97.2 93.8,99.8 95.3,101.7 C96.8,103.6 98.3,104.6 99.8,106.3 C101.2,108.0 103.3,111.0 104.0,112.0" fill="none" stroke="#7a86ff" stroke-width="0.80" stroke-dasharray="1.6,1.4"/>
<ellipse cx="138.0" cy="18.0" rx="1.5" ry="4.0" fill="none" stroke="#7a86ff" stroke-width="0.80" stroke-dasharray="1.6,1.4"/>
<ellipse cx="120.0" cy="74.0" rx="2.0" ry="3.0" fill="none" stroke="#7a86ff" stroke-width="0.80" stroke-dasharray="1.6,1.4"/>
<ellipse cx="134.0" cy="58.0" rx="2.0" ry="4.0" fill="none" stroke="#7a86ff" stroke-width="0.80" stroke-dasharray="1.6,1.4"/>
<ellipse cx="146.0" cy="67.0" rx="4.0" ry="2.5" fill="none" stroke="#7a86ff" stroke-width="0.80" stroke-dasharray="1.6,1.4"/>
<ellipse cx="195.5" cy="133.0" rx="4.2" ry="4.5" fill="none" stroke="#7a86ff" stroke-width="0.80" stroke-dasharray="1.6,1.4"/>
<ellipse cx="209.0" cy="136.3" rx="4.3" ry="4.0" fill="none" stroke="#7a86ff" stroke-width="0.80" stroke-dasharray="1.6,1.4"/>
<path d="M93.0,140.0 C93.8,140.3 96.3,141.7 98.0,142.0 C99.7,142.3 102.2,142.0 103.0,142.0" fill="none" stroke="#7a86ff" stroke-width="0.80" stroke-dasharray="1.6,1.4"/>
<ellipse cx="84.0" cy="157.0" rx="1.5" ry="4.0" fill="none" stroke="#7a86ff" stroke-width="0.80" stroke-dasharray="1.6,1.4" transform="rotate(-30.0 84.0 157.0)"/>
<path d="M80.0,166.0 C80.7,167.0 83.7,169.7 84.0,172.0 C84.3,174.3 83.3,177.7 82.0,180.0 C80.7,182.3 78.0,184.3 76.0,186.0 C74.0,187.7 71.0,189.3 70.0,190.0" fill="none" stroke="#7a86ff" stroke-width="0.80" stroke-dasharray="1.6,1.4"/>
<path d="M128.0,185.0 C129.0,185.2 132.0,186.0 134.0,186.0 C136.0,186.0 139.0,185.2 140.0,185.0" fill="none" stroke="#7a86ff" stroke-width="0.80" stroke-dasharray="1.6,1.4"/>
<path d="M300.0,185.0 C298.7,185.5 294.5,186.2 292.0,188.0 C289.5,189.8 286.5,193.2 285.0,196.0 C283.5,198.8 282.5,202.0 283.0,205.0 C283.5,208.0 286.2,211.2 288.0,214.0 C289.8,216.8 293.0,220.7 294.0,222.0" fill="none" stroke="#7a86ff" stroke-width="0.80" stroke-dasharray="1.6,1.4"/>
<path d="M258.0,208.0 C259.0,209.0 262.0,211.3 264.0,214.0 C266.0,216.7 269.0,222.3 270.0,224.0" fill="none" stroke="#7a86ff" stroke-width="0.80" stroke-dasharray="1.6,1.4"/>
<ellipse cx="160.0" cy="218.0" rx="3.0" ry="3.0" fill="none" stroke="#7a86ff" stroke-width="0.80" stroke-dasharray="1.6,1.4"/>
<ellipse cx="208.0" cy="218.0" rx="3.0" ry="3.0" fill="none" stroke="#7a86ff" stroke-width="0.80" stroke-dasharray="1.6,1.4"/>
<ellipse cx="223.0" cy="155.0" rx="6.5" ry="2.3" fill="none" stroke="#a035d0" stroke-width="1.00" transform="rotate(-22.0 223.0 155.0)"/>
<path d="M156.0,199.0 C156.2,200.5 156.7,205.2 157.0,208.0 C157.3,210.8 157.5,213.3 158.0,216.0 C158.5,218.7 159.7,222.7 160.0,224.0" fill="none" stroke="#a035d0" stroke-width="1.00"/>
<path d="M178.0,199.0 C177.7,200.5 177.0,205.5 176.0,208.0 C175.0,210.5 173.7,212.7 172.0,214.0 C170.3,215.3 167.7,214.7 166.0,216.0 C164.3,217.3 162.7,221.0 162.0,222.0" fill="none" stroke="#a035d0" stroke-width="1.00"/>
<path d="M196.0,198.0 C195.3,199.0 193.7,202.0 192.0,204.0 C190.3,206.0 186.3,208.0 186.0,210.0 C185.7,212.0 188.3,215.3 190.0,216.0 C191.7,216.7 194.3,213.3 196.0,214.0 C197.7,214.7 199.3,219.0 200.0,220.0" fill="none" stroke="#a035d0" stroke-width="1.00"/>
<path d="M262.0,214.0 C263.3,214.7 267.0,217.7 270.0,218.0 C273.0,218.3 277.0,216.7 280.0,216.0 C283.0,215.3 285.7,213.7 288.0,214.0 C290.3,214.3 292.3,216.3 294.0,218.0 C295.7,219.7 297.3,223.0 298.0,224.0" fill="none" stroke="#a035d0" stroke-width="1.00"/>
<text x="147.5" y="198.6" font-size="8.6" fill="#a035d0" text-anchor="start" textLength="27.0" lengthAdjust="spacingAndGlyphs">1014.4</text>
<text x="182.3" y="195.2" font-size="8.6" fill="#a035d0" text-anchor="start" textLength="27.0" lengthAdjust="spacingAndGlyphs">1014.4</text>
<text x="270.5" y="216.2" font-size="8.6" fill="#a035d0" text-anchor="start" textLength="27.0" lengthAdjust="spacingAndGlyphs">1014.4</text>
<path d="M210.2,17.9L196.5,15.2M215.4,18.4L201.7,15.7M220.8,18.4L207.1,15.8M207.1,22.4L193.3,19.7M212.3,22.6L198.5,20.0M218.0,23.0L204.2,20.3M223.5,23.1L209.7,20.4M204.8,27.2L191.0,24.6M209.5,26.6L195.8,23.9M215.6,27.7L201.9,25.1M220.1,27.5L206.3,24.8M225.9,26.7L212.1,24.0M202.1,32.3L188.4,29.6M207.1,32.3L193.3,29.7M212.2,31.2L198.5,28.6M218.0,31.2L204.2,28.5M222.9,31.6L209.2,29.0M228.8,31.3L215.1,28.7M198.9,36.4L185.2,33.7M204.5,36.5L190.8,33.8M209.8,36.5L196.1,33.8M215.7,36.3L202.0,33.7M220.5,36.6L206.7,33.9M225.7,36.1L211.9,33.4M195.7,41.1L182.0,38.4M201.8,40.4L188.1,37.7M207.2,40.9L193.5,38.2M212.7,40.8L198.9,38.1M218.1,41.2L204.4,38.5M222.7,40.4L209.0,37.7M228.9,41.5L215.1,38.8M193.4,45.3L179.7,42.6M198.8,45.7L185.1,43.0M204.1,45.4L190.4,42.7M210.1,45.0L196.4,42.3M215.3,45.8L201.5,43.1M220.3,45.2L206.6,42.5M226.3,45.2L212.6,42.6M196.7,50.1L182.9,47.4M202.1,49.7L188.4,47.1M206.9,50.3L193.1,47.6M212.9,50.1L199.2,47.4M217.5,49.7L203.8,47.0M223.3,49.8L209.6,47.1M229.0,50.5L215.3,47.9M204.7,54.5L191.0,51.8M209.6,54.6L195.8,52.0M215.1,54.6L201.3,52.0M221.1,54.3L207.3,51.7M225.4,55.3L211.6,52.6M201.9,59.4L188.1,56.7M206.8,59.1L193.1,56.5M212.1,58.8L198.4,56.1M218.0,59.1L204.2,56.4M223.6,58.8L209.9,56.1M229.2,59.6L215.4,56.9M204.6,64.0L190.8,61.3M209.7,64.5L195.9,61.8M215.3,63.7L201.6,61.1M220.3,64.4L206.5,61.7M225.9,64.3L212.2,61.6M231.2,63.6L217.5,60.9M207.2,69.0L193.5,66.3M211.9,68.3L198.2,65.6M217.6,68.6L203.9,65.9M223.2,68.5L209.4,65.8M229.0,67.9L215.3,65.3M204.2,72.9L190.4,70.2M209.6,73.3L195.9,70.6M215.3,73.0L201.5,70.3M220.2,72.9L206.5,70.3M225.5,73.2L211.8,70.5M231.6,73.0L217.9,70.3M207.0,77.6L193.2,74.9M212.5,78.0L198.7,75.3M217.8,78.0L204.0,75.3M223.2,77.4L209.5,74.8M228.7,78.0L215.0,75.3M233.6,77.6L219.8,75.0M204.1,82.3L190.3,79.6M209.3,82.7L195.6,80.0M215.4,82.8L201.6,80.1M220.9,82.5L207.2,79.9M226.3,82.4L212.5,79.7M230.9,82.4L217.2,79.8M236.2,81.9L222.4,79.2M206.5,87.3L192.8,84.7M212.0,87.3L198.3,84.7M218.1,87.3L204.3,84.7M223.8,87.0L210.1,84.4M229.0,86.4L215.3,83.7M234.4,86.9L220.6,84.3M204.4,91.9L190.7,89.3M209.5,91.2L195.7,88.5M214.9,91.7L201.1,89.0M220.9,91.4L207.1,88.7M225.8,91.4L212.1,88.7M231.2,91.4L217.4,88.8M236.3,91.5L222.5,88.9M207.3,96.2L193.5,93.5M212.5,96.3L198.7,93.6M218.3,95.7L204.6,93.0M222.8,96.4L209.0,93.8M229.2,96.2L215.4,93.5M234.0,96.4L220.3,93.7M239.1,95.9L225.4,93.2M209.5,101.0L195.8,98.3M215.1,101.2L201.3,98.5M220.7,100.5L206.9,97.8M225.6,100.2L211.9,97.5M231.3,100.6L217.6,97.9M236.4,100.6L222.6,97.9M212.9,105.4L199.1,102.7M217.8,105.6L204.1,102.9M223.7,105.2L210.0,102.5M229.0,105.9L215.2,103.2M234.0,105.0L220.3,102.3M225.7,109.8L212.0,107.2M231.6,109.4L217.9,106.8" fill="none" stroke="#111" stroke-width="0.40"/>
<path d="M197.7,16.3L196.5,15.2L198.0,14.7M203.0,16.8L201.7,15.7L203.3,15.2M208.3,16.8L207.1,15.8L208.7,15.3M194.6,20.8L193.3,19.7L194.9,19.2M199.8,21.0L198.5,20.0L200.1,19.5M205.5,21.4L204.2,20.3L205.8,19.8M211.0,21.4L209.7,20.4L211.3,19.9M192.3,25.6L191.0,24.6L192.6,24.0M197.0,25.0L195.8,23.9L197.3,23.4M203.1,26.1L201.9,25.1L203.4,24.5M207.6,25.9L206.3,24.8L207.9,24.3M213.4,25.1L212.1,24.0L213.7,23.5M189.6,30.7L188.4,29.6L190.0,29.1M194.6,30.7L193.3,29.7L194.9,29.2M199.8,29.6L198.5,28.6L200.1,28.0M205.5,29.6L204.2,28.5L205.8,28.0M210.4,30.0L209.2,29.0L210.7,28.4M216.3,29.7L215.1,28.7L216.6,28.1M186.4,34.7L185.2,33.7L186.7,33.2M192.1,34.8L190.8,33.8L192.4,33.3M197.4,34.9L196.1,33.8L197.7,33.3M203.2,34.7L202.0,33.7L203.5,33.2M208.0,35.0L206.7,33.9L208.3,33.4M213.2,34.5L211.9,33.4L213.5,32.9M183.2,39.5L182.0,38.4L183.5,37.9M189.3,38.8L188.1,37.7L189.7,37.2M194.7,39.3L193.5,38.2L195.0,37.7M200.2,39.1L198.9,38.1L200.5,37.6M205.6,39.6L204.4,38.5L205.9,38.0M210.2,38.8L209.0,37.7L210.5,37.2M216.4,39.9L215.1,38.8L216.7,38.3M180.9,43.7L179.7,42.6L181.2,42.1M186.3,44.0L185.1,43.0L186.6,42.5M191.6,43.8L190.4,42.7L192.0,42.2M197.6,43.4L196.4,42.3L197.9,41.8M202.8,44.2L201.5,43.1L203.1,42.6M207.9,43.6L206.6,42.5L208.2,42.0M213.9,43.6L212.6,42.6L214.2,42.0M184.2,48.5L182.9,47.4L184.5,46.9M189.6,48.1L188.4,47.1L189.9,46.6M194.4,48.7L193.1,47.6L194.7,47.1M200.5,48.5L199.2,47.4L200.8,46.9M205.1,48.1L203.8,47.0L205.4,46.5M210.8,48.2L209.6,47.1L211.1,46.6M216.6,48.9L215.3,47.9L216.9,47.4M192.2,52.8L191.0,51.8L192.5,51.3M197.1,53.0L195.8,52.0L197.4,51.5M202.6,53.0L201.3,52.0L202.9,51.4M208.6,52.7L207.3,51.7L208.9,51.1M212.9,53.7L211.6,52.6L213.2,52.1M189.4,57.7L188.1,56.7L189.7,56.2M194.3,57.5L193.1,56.5L194.6,56.0M199.7,57.2L198.4,56.1L200.0,55.6M205.5,57.5L204.2,56.4L205.8,55.9M211.2,57.2L209.9,56.1L211.5,55.6M216.7,58.0L215.4,56.9L217.0,56.4M192.1,62.4L190.8,61.3L192.4,60.8M197.2,62.9L195.9,61.8L197.5,61.3M202.8,62.1L201.6,61.1L203.1,60.6M207.8,62.8L206.5,61.7L208.1,61.2M213.5,62.7L212.2,61.6L213.8,61.1M218.7,62.0L217.5,60.9L219.0,60.4M194.7,67.4L193.5,66.3L195.0,65.8M199.4,66.7L198.2,65.6L199.8,65.1M205.1,67.0L203.9,65.9L205.4,65.4M210.7,66.9L209.4,65.8L211.0,65.3M216.5,66.3L215.3,65.3L216.8,64.8M191.7,71.3L190.4,70.2L192.0,69.7M197.1,71.7L195.9,70.6L197.4,70.1M202.8,71.4L201.5,70.3L203.1,69.8M207.7,71.3L206.5,70.3L208.0,69.7M213.0,71.6L211.8,70.5L213.3,70.0M219.1,71.4L217.9,70.3L219.5,69.8M194.5,76.0L193.2,74.9L194.8,74.4M200.0,76.4L198.7,75.3L200.3,74.8M205.3,76.4L204.0,75.3L205.6,74.8M210.7,75.8L209.5,74.8L211.0,74.2M216.2,76.4L215.0,75.3L216.5,74.8M221.1,76.0L219.8,75.0L221.4,74.5M191.6,80.7L190.3,79.6L191.9,79.1M196.8,81.1L195.6,80.0L197.1,79.5M202.9,81.2L201.6,80.1L203.2,79.6M208.4,80.9L207.2,79.9L208.7,79.4M213.8,80.8L212.5,79.7L214.1,79.2M218.4,80.8L217.2,79.8L218.7,79.3M223.7,80.3L222.4,79.2L224.0,78.7M194.0,85.7L192.8,84.7L194.3,84.2M199.5,85.7L198.3,84.7L199.8,84.2M205.6,85.7L204.3,84.7L205.9,84.2M211.3,85.4L210.1,84.4L211.6,83.8M216.5,84.8L215.3,83.7L216.9,83.2M221.9,85.3L220.6,84.3L222.2,83.8M192.0,90.3L190.7,89.3L192.3,88.7M197.0,89.5L195.7,88.5L197.3,88.0M202.4,90.1L201.1,89.0L202.7,88.5M208.4,89.8L207.1,88.7L208.7,88.2M213.3,89.8L212.1,88.7L213.6,88.2M218.7,89.8L217.4,88.8L219.0,88.3M223.8,89.9L222.5,88.9L224.1,88.4M194.8,94.5L193.5,93.5L195.1,93.0M200.0,94.7L198.7,93.6L200.3,93.1M205.9,94.1L204.6,93.0L206.2,92.5M210.3,94.8L209.0,93.8L210.6,93.3M216.7,94.5L215.4,93.5L217.0,93.0M221.5,94.8L220.3,93.7L221.8,93.2M226.6,94.2L225.4,93.2L226.9,92.7M197.0,99.4L195.8,98.3L197.3,97.8M202.6,99.5L201.3,98.5L202.9,98.0M208.2,98.8L206.9,97.8L208.5,97.3M213.2,98.6L211.9,97.5L213.5,97.0M218.9,99.0L217.6,97.9L219.2,97.4M223.9,99.0L222.6,97.9L224.2,97.4M200.4,103.8L199.1,102.7L200.7,102.2M205.4,104.0L204.1,102.9L205.7,102.4M211.2,103.6L210.0,102.5L211.5,102.0M216.5,104.3L215.2,103.2L216.8,102.7M221.6,103.4L220.3,102.3L221.9,101.8M213.3,108.2L212.0,107.2L213.6,106.7M219.2,107.8L217.9,106.8L219.5,106.3" fill="none" stroke="#111" stroke-width="0.75"/>
<path d="M255.5,13.4L242.7,11.3M244.1,16.9L231.3,14.9M248.4,17.9L235.5,15.9M253.3,17.8L240.5,15.8M257.5,17.0L244.6,15.0M261.1,17.6L248.3,15.5M242.7,22.2L229.9,20.2M247.1,21.3L234.2,19.3M250.9,22.0L238.1,20.0M255.0,21.4L242.2,19.4M259.2,21.3L246.3,19.3M244.6,26.0L231.7,23.9M249.2,26.3L236.4,24.3M253.4,26.6L240.5,24.6M257.1,26.1L244.3,24.1M261.4,26.1L248.6,24.1M247.0,30.1L234.2,28.0M250.3,30.8L237.4,28.7M254.8,30.7L241.9,28.6M259.2,30.4L246.3,28.4M244.4,34.7L231.6,32.6M248.9,34.7L236.0,32.7M252.7,35.3L239.9,33.3M256.9,35.1L244.1,33.1M261.8,34.5L249.0,32.5M246.9,39.6L234.1,37.5M250.5,39.2L237.7,37.2M254.6,39.4L241.8,37.3M258.7,39.7L245.8,37.6M244.8,44.4L232.0,42.3M248.1,43.6L235.3,41.5M253.5,44.1L240.6,42.1M257.0,44.3L244.2,42.3M261.5,44.2L248.6,42.2M246.6,47.8L233.7,45.7M250.7,48.8L237.8,46.7M254.8,47.6L242.0,45.6M258.7,47.8L245.8,45.8M244.3,52.1L231.4,50.1M249.3,52.5L236.5,50.5M252.6,52.1L239.7,50.1M256.6,52.2L243.7,50.2M246.3,57.6L233.5,55.6M250.4,57.1L237.5,55.0M255.3,56.9L242.5,54.9M244.0,61.3L231.1,59.3M248.4,61.9L235.6,59.9M253.3,61.4L240.5,59.4M256.6,61.1L243.7,59.1M246.2,65.3L233.4,63.2M251.3,65.9L238.5,63.9M255.6,65.7L242.8,63.7M244.5,69.7L231.7,67.7M248.4,70.7L235.5,68.6M253.4,70.7L240.6,68.7M256.9,70.4L244.1,68.4M242.8,74.7L230.0,72.6M246.8,74.8L234.0,72.8M250.5,75.1L237.7,73.1M255.6,74.1L242.7,72.1M245.0,78.6L232.2,76.5M249.3,79.2L236.4,77.2M252.4,78.6L239.6,76.6" fill="none" stroke="#111" stroke-width="0.40"/>
<path d="M244.0,12.4L242.7,11.3L244.2,10.8M232.6,15.9L231.3,14.9L232.8,14.3M236.8,16.9L235.5,15.9L237.1,15.3M241.8,16.8L240.5,15.8L242.0,15.2M245.9,16.0L244.6,15.0L246.2,14.5M249.5,16.6L248.3,15.5L249.8,15.0M231.2,21.2L229.9,20.2L231.4,19.6M235.5,20.3L234.2,19.3L235.8,18.7M239.4,21.0L238.1,20.0L239.7,19.4M243.5,20.4L242.2,19.4L243.7,18.8M247.6,20.3L246.3,19.3L247.9,18.7M233.0,25.0L231.7,23.9L233.3,23.4M237.7,25.3L236.4,24.3L237.9,23.7M241.8,25.6L240.5,24.6L242.1,24.0M245.6,25.1L244.3,24.1L245.8,23.5M249.9,25.1L248.6,24.1L250.1,23.5M235.5,29.1L234.2,28.0L235.7,27.5M238.7,29.8L237.4,28.7L239.0,28.2M243.2,29.6L241.9,28.6L243.5,28.1M247.6,29.4L246.3,28.4L247.9,27.8M232.9,33.6L231.6,32.6L233.1,32.1M237.3,33.7L236.0,32.7L237.6,32.1M241.2,34.3L239.9,33.3L241.5,32.7M245.4,34.1L244.1,33.1L245.6,32.5M250.3,33.5L249.0,32.5L250.5,31.9M235.4,38.5L234.1,37.5L235.6,37.0M239.0,38.2L237.7,37.2L239.2,36.6M243.1,38.3L241.8,37.3L243.3,36.8M247.1,38.6L245.8,37.6L247.4,37.1M233.3,43.4L232.0,42.3L233.5,41.8M236.6,42.5L235.3,41.5L236.8,41.0M241.9,43.1L240.6,42.1L242.2,41.5M245.5,43.3L244.2,42.3L245.7,41.8M249.9,43.2L248.6,42.2L250.2,41.6M235.0,46.8L233.7,45.7L235.3,45.2M239.1,47.8L237.8,46.7L239.4,46.2M243.3,46.6L242.0,45.6L243.5,45.0M247.1,46.8L245.8,45.8L247.4,45.2M232.7,51.1L231.4,50.1L233.0,49.5M237.8,51.5L236.5,50.5L238.0,49.9M241.0,51.1L239.7,50.1L241.3,49.5M245.0,51.2L243.7,50.2L245.3,49.6M234.8,56.6L233.5,55.6L235.0,55.0M238.8,56.0L237.5,55.0L239.1,54.5M243.8,55.9L242.5,54.9L244.1,54.3M232.4,60.3L231.1,59.3L232.7,58.7M236.9,60.9L235.6,59.9L237.1,59.3M241.8,60.4L240.5,59.4L242.0,58.8M245.0,60.1L243.7,59.1L245.3,58.5M234.6,64.3L233.4,63.2L234.9,62.7M239.8,64.9L238.5,63.9L240.0,63.3M244.1,64.7L242.8,63.7L244.3,63.1M233.0,68.7L231.7,67.7L233.2,67.1M236.8,69.6L235.5,68.6L237.1,68.1M241.9,69.7L240.6,68.7L242.1,68.1M245.4,69.4L244.1,68.4L245.6,67.8M231.3,73.6L230.0,72.6L231.5,72.1M235.3,73.8L234.0,72.8L235.5,72.2M239.0,74.1L237.7,73.1L239.2,72.5M244.0,73.1L242.7,72.1L244.3,71.5M233.5,77.6L232.2,76.5L233.7,76.0M237.7,78.2L236.4,77.2L238.0,76.6M240.8,77.6L239.6,76.6L241.1,76.0" fill="none" stroke="#111" stroke-width="0.75"/>
<path d="M102.2,4.8L109.6,14.2M96.3,8.6L103.6,18.0M99.4,8.1L106.8,17.6M103.5,9.0L110.9,18.4M107.9,8.1L115.3,17.5M98.7,13.1L106.1,22.6M101.7,13.2L109.0,22.7M105.8,12.9L113.1,22.3M109.2,13.2L116.5,22.7M113.5,13.2L120.9,22.7M96.0,16.5L103.4,25.9M99.6,16.4L107.0,25.8M103.6,17.0L111.0,26.5M107.0,17.1L114.4,26.5M111.2,16.6L118.6,26.1M115.6,16.8L123.0,26.3M98.7,20.5L106.1,30.0M102.2,21.5L109.6,30.9M105.1,21.4L112.5,30.9M109.3,21.2L116.7,30.6M112.7,20.5L120.1,30.0M116.7,21.6L124.1,31.1M100.5,25.8L107.9,35.3M103.6,25.1L111.0,34.6M107.6,25.6L115.0,35.1M110.9,25.6L118.3,35.0M115.6,25.7L123.0,35.2M118.4,25.8L125.8,35.3M105.8,29.2L113.1,38.7M109.3,29.1L116.7,38.5M112.8,29.1L120.2,38.5" fill="none" stroke="#111" stroke-width="0.40"/>
<path d="M109.3,12.6L109.6,14.2L108.1,13.6M103.4,16.4L103.6,18.0L102.1,17.4M106.6,16.0L106.8,17.6L105.3,16.9M110.7,16.8L110.9,18.4L109.4,17.8M115.1,15.9L115.3,17.5L113.8,16.9M105.8,20.9L106.1,22.6L104.6,21.9M108.8,21.1L109.0,22.7L107.5,22.0M112.9,20.7L113.1,22.3L111.6,21.7M116.3,21.0L116.5,22.7L115.0,22.0M120.7,21.1L120.9,22.7L119.4,22.0M103.2,24.3L103.4,25.9L101.9,25.3M106.7,24.2L107.0,25.8L105.5,25.2M110.7,24.8L111.0,26.5L109.4,25.8M114.1,24.9L114.4,26.5L112.9,25.9M118.3,24.5L118.6,26.1L117.1,25.5M122.7,24.7L123.0,26.3L121.5,25.7M105.8,28.3L106.1,30.0L104.5,29.3M109.3,29.3L109.6,30.9L108.1,30.3M112.3,29.2L112.5,30.9L111.0,30.2M116.5,29.0L116.7,30.6L115.2,30.0M119.8,28.4L120.1,30.0L118.6,29.3M123.9,29.4L124.1,31.1L122.6,30.4M107.7,33.6L107.9,35.3L106.4,34.6M110.8,32.9L111.0,34.6L109.5,33.9M114.8,33.4L115.0,35.1L113.5,34.4M118.1,33.4L118.3,35.0L116.8,34.4M122.7,33.5L123.0,35.2L121.4,34.5M125.6,33.6L125.8,35.3L124.3,34.6M112.9,37.1L113.1,38.7L111.6,38.1M116.4,36.9L116.7,38.5L115.2,37.9M119.9,36.9L120.2,38.5L118.7,37.9" fill="none" stroke="#111" stroke-width="0.75"/>
<path d="M276.8,66.6L266.8,65.8M281.5,66.7L271.6,65.9M285.6,66.8L275.7,65.9M289.7,66.8L279.7,65.9M270.7,70.8L260.8,69.9M275.6,70.5L265.7,69.6M279.8,71.0L269.9,70.1M284.1,70.5L274.1,69.7M287.4,71.1L277.4,70.2M292.4,70.7L282.5,69.8M295.8,70.4L285.8,69.5M272.8,75.2L262.9,74.4M277.2,75.6L267.3,74.7M282.1,75.1L272.1,74.2M286.0,75.3L276.0,74.4M290.3,75.6L280.4,74.7M293.6,74.9L283.7,74.0M271.2,78.8L261.2,78.0M275.7,79.4L265.8,78.5M279.0,79.5L269.1,78.7M283.5,79.0L273.5,78.1M287.9,78.9L277.9,78.0M291.7,79.8L281.8,78.9M296.5,78.8L286.6,77.9M273.3,83.4L263.4,82.5M277.2,83.5L267.3,82.6M281.1,84.2L271.2,83.4M285.2,83.5L275.3,82.7M290.3,83.5L280.3,82.6M294.8,83.3L284.8,82.5M299.0,84.1L289.0,83.2M271.3,88.4L261.3,87.5M275.2,88.3L265.3,87.5M279.8,88.0L269.9,87.1M283.6,88.2L273.7,87.3M287.8,87.4L277.8,86.6M292.4,87.7L282.4,86.8M296.3,88.3L286.3,87.4M273.0,91.9L263.1,91.1M277.3,92.7L267.4,91.9M281.3,92.1L271.3,91.3M286.2,92.4L276.3,91.5M289.7,92.2L279.7,91.3M294.2,91.8L284.2,90.9M275.5,97.1L265.5,96.2M280.0,96.4L270.0,95.5M283.8,96.3L273.8,95.4M287.8,96.5L277.8,95.6M292.4,97.1L282.5,96.2M296.0,95.9L286.1,95.1" fill="none" stroke="#111" stroke-width="0.40"/>
<path d="M268.2,66.7L266.8,65.8L268.3,65.1M272.9,66.8L271.6,65.9L273.1,65.2M277.0,66.8L275.7,65.9L277.2,65.2M281.1,66.8L279.7,65.9L281.3,65.3M262.1,70.9L260.8,69.9L262.3,69.3M267.0,70.5L265.7,69.6L267.2,68.9M271.2,71.0L269.9,70.1L271.4,69.4M275.5,70.6L274.1,69.7L275.6,69.0M278.8,71.1L277.4,70.2L278.9,69.6M283.8,70.7L282.5,69.8L284.0,69.1M287.2,70.4L285.8,69.5L287.3,68.8M264.2,75.3L262.9,74.4L264.4,73.7M268.6,75.6L267.3,74.7L268.8,74.0M273.5,75.1L272.1,74.2L273.6,73.5M277.4,75.3L276.0,74.4L277.5,73.7M281.8,75.7L280.4,74.7L281.9,74.1M285.0,74.9L283.7,74.0L285.2,73.3M262.6,78.9L261.2,78.0L262.7,77.3M267.1,79.4L265.8,78.5L267.3,77.8M270.4,79.6L269.1,78.7L270.6,78.0M274.9,79.0L273.5,78.1L275.0,77.4M279.3,79.0L277.9,78.0L279.4,77.4M283.1,79.8L281.8,78.9L283.3,78.2M287.9,78.8L286.6,77.9L288.1,77.2M264.7,83.5L263.4,82.5L264.9,81.9M268.6,83.6L267.3,82.6L268.8,82.0M272.5,84.3L271.2,83.4L272.7,82.7M276.6,83.6L275.3,82.7L276.8,82.0M281.7,83.6L280.3,82.6L281.8,82.0M286.2,83.4L284.8,82.5L286.3,81.8M290.4,84.2L289.0,83.2L290.5,82.6M262.7,88.5L261.3,87.5L262.8,86.9M266.6,88.4L265.3,87.5L266.8,86.8M271.2,88.0L269.9,87.1L271.4,86.4M275.0,88.2L273.7,87.3L275.2,86.6M279.2,87.5L277.8,86.6L279.3,85.9M283.8,87.7L282.4,86.8L283.9,86.1M287.7,88.3L286.3,87.4L287.8,86.7M264.4,92.0L263.1,91.1L264.6,90.4M268.7,92.8L267.4,91.9L268.9,91.2M272.7,92.2L271.3,91.3L272.8,90.6M277.6,92.4L276.3,91.5L277.8,90.8M281.1,92.3L279.7,91.3L281.2,90.7M285.6,91.9L284.2,90.9L285.7,90.3M266.9,97.2L265.5,96.2L267.0,95.6M271.4,96.4L270.0,95.5L271.5,94.8M275.2,96.4L273.8,95.4L275.3,94.8M279.2,96.6L277.8,95.6L279.3,95.0M283.8,97.1L282.5,96.2L284.0,95.5M287.4,96.0L286.1,95.1L287.6,94.4" fill="none" stroke="#111" stroke-width="0.75"/>
<path d="M253.3,76.8L245.6,83.2M243.3,80.8L235.6,87.3M248.0,81.1L240.4,87.5M251.6,81.3L243.9,87.7M255.8,80.9L248.1,87.4M245.3,85.8L237.6,92.3M250.0,86.2L242.3,92.6M254.2,85.3L246.6,91.8M257.7,85.8L250.0,92.2M243.5,90.0L235.8,96.4M247.9,89.7L240.3,96.1M251.2,89.9L243.6,96.3M255.7,90.1L248.0,96.5M260.4,90.2L252.7,96.6M242.0,94.0L234.3,100.4M245.5,94.2L237.9,100.6M249.7,93.9L242.0,100.4M254.2,95.0L246.6,101.4M257.8,94.4L250.1,100.8M261.3,93.9L253.7,100.3M244.2,99.4L236.5,105.8M248.3,99.2L240.6,105.6M252.2,99.1L244.6,105.5M255.5,98.8L247.8,105.2M259.7,98.2L252.0,104.6M263.3,98.5L255.6,104.9M267.5,99.0L259.9,105.4M272.4,98.7L264.7,105.2M276.4,99.4L268.7,105.8M280.4,98.6L272.7,105.1M283.5,98.5L275.8,104.9M287.5,98.4L279.8,104.9M292.0,99.3L284.3,105.7M296.2,98.8L288.6,105.2M300.0,99.1L292.4,105.6M303.3,99.0L295.7,105.4M245.4,103.5L237.8,110.0M249.6,103.5L242.0,110.0M254.4,103.1L246.7,109.5M257.7,103.7L250.1,110.2M262.1,102.8L254.4,109.2M265.4,102.8L257.7,109.2M270.3,103.6L262.7,110.0M273.4,103.6L265.7,110.0M278.4,103.4L270.7,109.8M281.7,103.2L274.0,109.7M285.4,102.6L277.7,109.0M290.4,103.4L282.7,109.8M293.9,103.7L286.2,110.1M297.8,103.6L290.1,110.1M302.2,102.8L294.6,109.3M305.5,102.9L297.9,109.4M247.5,107.5L239.9,113.9M251.4,108.1L243.7,114.5M255.7,107.5L248.0,114.0M259.9,108.1L252.3,114.5M263.7,108.1L256.1,114.5M267.8,107.6L260.2,114.1M271.9,107.0L264.2,113.4M275.8,107.2L268.1,113.6M279.2,107.9L271.6,114.4M283.4,107.6L275.8,114.0M288.1,107.7L280.4,114.1M291.6,107.6L284.0,114.0M295.9,107.9L288.2,114.4M299.4,107.7L291.7,114.1M303.5,107.3L295.9,113.7M257.8,112.0L250.1,118.5M261.8,112.5L254.1,118.9M266.1,112.4L258.4,118.9M270.4,111.7L262.7,118.1M273.9,112.5L266.2,118.9M278.2,111.6L270.6,118.0M281.4,111.9L273.7,118.3M285.3,111.7L277.7,118.1M289.3,112.2L281.7,118.6M294.2,112.5L286.5,118.9M297.4,112.2L289.8,118.7M302.0,111.6L294.4,118.0M306.3,112.5L298.6,119.0M263.5,116.2L255.8,122.6M268.1,115.8L260.4,122.2M271.9,116.3L264.2,122.7M275.3,116.2L267.6,122.6M280.0,116.4L272.3,122.8M283.3,117.0L275.6,123.4M288.2,117.0L280.5,123.4M291.4,116.1L283.7,122.5M295.3,116.7L287.6,123.1M299.6,115.9L291.9,122.4" fill="none" stroke="#111" stroke-width="0.40"/>
<path d="M247.3,82.9L245.6,83.2L246.2,81.7M237.3,86.9L235.6,87.3L236.2,85.7M242.0,87.2L240.4,87.5L241.0,86.0M245.6,87.4L243.9,87.7L244.5,86.2M249.7,87.1L248.1,87.4L248.7,85.8M239.3,91.9L237.6,92.3L238.2,90.7M244.0,92.3L242.3,92.6L242.9,91.1M248.2,91.4L246.6,91.8L247.1,90.2M251.7,91.9L250.0,92.2L250.6,90.7M237.5,96.1L235.8,96.4L236.4,94.9M241.9,95.8L240.3,96.1L240.9,94.6M245.2,96.0L243.6,96.3L244.2,94.8M249.6,96.2L248.0,96.5L248.6,95.0M254.3,96.3L252.7,96.6L253.3,95.1M235.9,100.1L234.3,100.4L234.9,98.9M239.5,100.3L237.9,100.6L238.5,99.1M243.6,100.0L242.0,100.4L242.6,98.8M248.2,101.1L246.6,101.4L247.2,99.9M251.7,100.5L250.1,100.8L250.7,99.3M255.3,100.0L253.7,100.3L254.3,98.8M238.2,105.5L236.5,105.8L237.1,104.3M242.2,105.3L240.6,105.6L241.2,104.0M246.2,105.2L244.6,105.5L245.1,104.0M249.5,104.9L247.8,105.2L248.4,103.7M253.6,104.3L252.0,104.6L252.6,103.1M257.2,104.6L255.6,104.9L256.2,103.4M261.5,105.1L259.9,105.4L260.5,103.9M266.3,104.8L264.7,105.2L265.3,103.6M270.3,105.5L268.7,105.8L269.3,104.3M274.3,104.7L272.7,105.1L273.3,103.5M277.5,104.6L275.8,104.9L276.4,103.3M281.4,104.5L279.8,104.9L280.4,103.3M285.9,105.4L284.3,105.7L284.9,104.2M290.2,104.9L288.6,105.2L289.2,103.7M294.0,105.3L292.4,105.6L292.9,104.0M297.3,105.1L295.7,105.4L296.3,103.9M239.4,109.6L237.8,110.0L238.4,108.4M243.6,109.7L242.0,110.0L242.6,108.4M248.4,109.2L246.7,109.5L247.3,108.0M251.7,109.8L250.1,110.2L250.6,108.6M256.1,108.9L254.4,109.2L255.0,107.7M259.3,108.9L257.7,109.2L258.3,107.7M264.3,109.7L262.7,110.0L263.2,108.4M267.4,109.7L265.7,110.0L266.3,108.5M272.4,109.5L270.7,109.8L271.3,108.3M275.6,109.4L274.0,109.7L274.6,108.1M279.3,108.7L277.7,109.0L278.3,107.5M284.4,109.5L282.7,109.8L283.3,108.3M287.8,109.8L286.2,110.1L286.8,108.6M291.7,109.7L290.1,110.1L290.7,108.5M296.2,109.0L294.6,109.3L295.2,107.7M299.5,109.1L297.9,109.4L298.5,107.8M241.5,113.6L239.9,113.9L240.5,112.4M245.3,114.2L243.7,114.5L244.3,113.0M249.6,113.7L248.0,114.0L248.6,112.4M253.9,114.2L252.3,114.5L252.9,113.0M257.7,114.2L256.1,114.5L256.7,113.0M261.8,113.7L260.2,114.1L260.8,112.5M265.8,113.1L264.2,113.4L264.8,111.9M269.7,113.3L268.1,113.6L268.7,112.1M273.2,114.1L271.6,114.4L272.2,112.8M277.4,113.7L275.8,114.0L276.4,112.4M282.1,113.8L280.4,114.1L281.0,112.5M285.6,113.7L284.0,114.0L284.5,112.5M289.9,114.0L288.2,114.4L288.8,112.8M293.3,113.8L291.7,114.1L292.3,112.5M297.5,113.4L295.9,113.7L296.5,112.2M251.7,118.1L250.1,118.5L250.7,116.9M255.8,118.6L254.1,118.9L254.7,117.4M260.0,118.6L258.4,118.9L259.0,117.3M264.3,117.8L262.7,118.1L263.3,116.6M267.9,118.6L266.2,118.9L266.8,117.4M272.2,117.7L270.6,118.0L271.2,116.4M275.3,118.0L273.7,118.3L274.3,116.8M279.3,117.8L277.7,118.1L278.2,116.6M283.3,118.3L281.7,118.6L282.2,117.1M288.1,118.6L286.5,118.9L287.1,117.4M291.4,118.4L289.8,118.7L290.3,117.1M296.0,117.7L294.4,118.0L295.0,116.4M300.2,118.7L298.6,119.0L299.2,117.4M257.4,122.3L255.8,122.6L256.4,121.1M262.1,121.9L260.4,122.2L261.0,120.7M265.9,122.4L264.2,122.7L264.8,121.2M269.2,122.3L267.6,122.6L268.2,121.1M273.9,122.5L272.3,122.8L272.9,121.3M277.3,123.1L275.6,123.4L276.2,121.9M282.1,123.1L280.5,123.4L281.1,121.8M285.3,122.2L283.7,122.5L284.3,121.0M289.2,122.8L287.6,123.1L288.2,121.6M293.5,122.1L291.9,122.4L292.5,120.8" fill="none" stroke="#111" stroke-width="0.75"/>
<path d="M67.3,128.9L74.8,139.6M66.1,133.8L73.6,144.5M70.2,134.1L77.6,144.8M67.4,140.1L74.9,150.7M71.8,139.4L79.2,150.0M64.9,144.9L72.4,155.5M69.9,145.7L77.4,156.3M67.5,151.3L74.9,161.9M71.7,150.8L79.2,161.5M65.4,156.4L72.8,167.0M69.8,156.4L77.3,167.1M68.3,161.8L75.7,172.4M71.8,161.2L79.3,171.8M66.1,167.2L73.5,177.8M69.7,167.7L77.1,178.4M63.4,173.0L70.8,183.6M68.2,172.4L75.7,183.1M72.1,173.1L79.6,183.8" fill="none" stroke="#111" stroke-width="0.40"/>
<path d="M74.6,137.9L74.8,139.6L73.3,138.8M73.4,142.8L73.6,144.5L72.1,143.8M77.5,143.1L77.6,144.8L76.2,144.1M74.7,149.1L74.9,150.7L73.4,150.0M79.1,148.4L79.2,150.0L77.8,149.3M72.2,153.9L72.4,155.5L70.9,154.8M77.2,154.7L77.4,156.3L75.9,155.6M74.8,160.3L74.9,161.9L73.5,161.2M79.0,159.8L79.2,161.5L77.7,160.7M72.7,165.4L72.8,167.0L71.3,166.3M77.1,165.4L77.3,167.1L75.8,166.3M75.5,170.8L75.7,172.4L74.2,171.7M79.1,170.2L79.3,171.8L77.8,171.1M73.3,176.2L73.5,177.8L72.0,177.1M76.9,176.7L77.1,178.4L75.6,177.6M70.7,182.0L70.8,183.6L69.3,182.9M75.5,181.4L75.7,183.1L74.2,182.3M79.4,182.1L79.6,183.8L78.1,183.1" fill="none" stroke="#111" stroke-width="0.75"/>
<path d="M88.2,132.0L96.2,140.9M92.6,131.5L100.6,140.5M102.5,131.7L110.5,140.6M86.5,137.0L94.6,145.9M91.2,136.6L99.2,145.5M95.2,136.6L103.2,145.5M100.1,137.5L108.1,146.5M104.8,137.4L112.8,146.3M88.8,142.8L96.8,151.7M93.1,142.0L101.1,151.0M97.5,142.2L105.5,151.1M102.1,142.9L110.2,151.8M106.6,143.0L114.7,151.9" fill="none" stroke="#111" stroke-width="0.40"/>
<path d="M95.8,139.3L96.2,140.9L94.6,140.4M100.3,138.9L100.6,140.5L99.1,139.9M110.1,139.0L110.5,140.6L108.9,140.1M94.2,144.3L94.6,145.9L93.0,145.4M98.8,143.9L99.2,145.5L97.6,145.0M102.8,143.9L103.2,145.5L101.6,145.0M107.8,144.9L108.1,146.5L106.6,145.9M112.5,144.7L112.8,146.3L111.3,145.8M96.5,150.1L96.8,151.7L95.3,151.2M100.8,149.4L101.1,151.0L99.6,150.4M105.2,149.5L105.5,151.1L104.0,150.6M109.8,150.2L110.2,151.8L108.6,151.3M114.3,150.3L114.7,151.9L113.1,151.4" fill="none" stroke="#111" stroke-width="0.75"/>
<path d="M134.0,146.8L138.2,155.8M137.9,147.5L142.1,156.6M143.0,146.4L147.2,155.5M135.9,152.2L140.2,161.3M140.5,152.4L144.7,161.5M144.7,152.7L148.9,161.7" fill="none" stroke="#111" stroke-width="0.40"/>
<path d="M138.4,154.2L138.2,155.8L136.9,154.9M142.2,154.9L142.1,156.6L140.8,155.6M147.3,153.8L147.2,155.5L145.9,154.5M140.3,159.6L140.2,161.3L138.8,160.3M144.8,159.8L144.7,161.5L143.4,160.5M149.1,160.1L148.9,161.7L147.6,160.8" fill="none" stroke="#111" stroke-width="0.75"/>
<path d="M203.4,154.8L196.1,149.7M207.9,155.5L200.6,150.3M213.2,154.5L205.8,149.4M218.0,155.6L210.6,150.5M206.2,159.1L198.8,153.9M210.3,159.3L202.9,154.1M214.6,159.5L207.2,154.4M219.6,160.0L212.2,154.8M204.0,164.2L196.6,159.1" fill="none" stroke="#111" stroke-width="0.40"/>
<path d="M196.8,151.2L196.1,149.7L197.7,149.9M201.3,151.8L200.6,150.3L202.2,150.5M206.5,150.9L205.8,149.4L207.4,149.5M211.4,152.0L210.6,150.5L212.3,150.6M199.6,155.4L198.8,153.9L200.5,154.1M203.7,155.6L202.9,154.1L204.6,154.3M208.0,155.9L207.2,154.4L208.9,154.5M213.0,156.3L212.2,154.8L213.9,155.0M197.3,160.6L196.6,159.1L198.2,159.3" fill="none" stroke="#111" stroke-width="0.75"/>
<circle cx="163.3" cy="160.2" r="1.35" fill="#000"/>
<circle cx="162.9" cy="164.5" r="1.35" fill="#000"/>
<circle cx="161.6" cy="168.6" r="1.35" fill="#000"/>
<circle cx="159.6" cy="172.4" r="1.35" fill="#000"/>
<circle cx="156.9" cy="175.8" r="1.35" fill="#000"/>
<circle cx="153.5" cy="178.5" r="1.35" fill="#000"/>
<circle cx="149.7" cy="180.5" r="1.35" fill="#000"/>
<circle cx="145.6" cy="181.8" r="1.35" fill="#000"/>
<circle cx="141.3" cy="182.2" r="1.35" fill="#000"/>
<circle cx="137.0" cy="181.8" r="1.35" fill="#000"/>
<circle cx="132.9" cy="180.5" r="1.35" fill="#000"/>
<circle cx="129.1" cy="178.5" r="1.35" fill="#000"/>
<circle cx="125.7" cy="175.8" r="1.35" fill="#000"/>
<circle cx="123.0" cy="172.4" r="1.35" fill="#000"/>
<circle cx="121.0" cy="168.6" r="1.35" fill="#000"/>
<circle cx="119.7" cy="164.5" r="1.35" fill="#000"/>
<circle cx="119.3" cy="160.2" r="1.35" fill="#000"/>
<circle cx="119.7" cy="155.9" r="1.35" fill="#000"/>
<circle cx="121.0" cy="151.8" r="1.35" fill="#000"/>
<circle cx="123.0" cy="148.0" r="1.35" fill="#000"/>
<circle cx="125.7" cy="144.6" r="1.35" fill="#000"/>
<circle cx="129.1" cy="141.9" r="1.35" fill="#000"/>
<circle cx="132.9" cy="139.9" r="1.35" fill="#000"/>
<circle cx="137.0" cy="138.6" r="1.35" fill="#000"/>
<circle cx="141.3" cy="138.2" r="1.35" fill="#000"/>
<circle cx="145.6" cy="138.6" r="1.35" fill="#000"/>
<circle cx="149.7" cy="139.9" r="1.35" fill="#000"/>
<circle cx="153.5" cy="141.9" r="1.35" fill="#000"/>
<circle cx="156.9" cy="144.6" r="1.35" fill="#000"/>
<circle cx="159.6" cy="148.0" r="1.35" fill="#000"/>
<circle cx="161.6" cy="151.8" r="1.35" fill="#000"/>
<circle cx="162.9" cy="155.9" r="1.35" fill="#000"/>
<circle cx="141.6" cy="154.5" r="2.2" fill="#c040c0"/>
</g>
<path d="M129.0,7.6V223.3M191.5,7.6V223.3M254.0,7.6V223.3M66.5,43.6H316.5M66.5,79.5H316.5M66.5,115.5H316.5M66.5,151.4H316.5M66.5,187.3H316.5" stroke="#b4b4b4" stroke-width="0.9" stroke-dasharray="1.2,2.2" fill="none"/>
<rect x="66.5" y="7.6" width="250.0" height="215.7" fill="none" stroke="#444" stroke-width="0.9"/>
<path d="M63.3,7.6H66.5M63.3,43.6H66.5M63.3,79.5H66.5M63.3,115.5H66.5M63.3,151.4H66.5M63.3,187.3H66.5M63.3,223.3H66.5M66.5,223.3V225.8M129.0,223.3V225.8M191.5,223.3V225.8M254.0,223.3V225.8M316.5,223.3V225.8" stroke="#3a3a3a" stroke-width="0.9" fill="none"/>
<text x="61.0" y="11.3" font-size="10.3" fill="#4a4a4a" text-anchor="end" textLength="31.0" lengthAdjust="spacingAndGlyphs">21.52N</text>
<text x="61.0" y="47.3" font-size="10.3" fill="#4a4a4a" text-anchor="end" textLength="31.0" lengthAdjust="spacingAndGlyphs">21.51N</text>
<text x="61.0" y="83.2" font-size="10.3" fill="#4a4a4a" text-anchor="end" textLength="25.5" lengthAdjust="spacingAndGlyphs">21.5N</text>
<text x="61.0" y="119.2" font-size="10.3" fill="#4a4a4a" text-anchor="end" textLength="31.0" lengthAdjust="spacingAndGlyphs">21.49N</text>
<text x="61.0" y="155.1" font-size="10.3" fill="#4a4a4a" text-anchor="end" textLength="31.0" lengthAdjust="spacingAndGlyphs">21.48N</text>
<text x="61.0" y="191.0" font-size="10.3" fill="#4a4a4a" text-anchor="end" textLength="31.0" lengthAdjust="spacingAndGlyphs">21.47N</text>
<text x="61.0" y="227.0" font-size="10.3" fill="#4a4a4a" text-anchor="end" textLength="31.0" lengthAdjust="spacingAndGlyphs">21.46N</text>
<text x="66.5" y="235.7" font-size="10.0" fill="#4a4a4a" text-anchor="middle" textLength="36.5" lengthAdjust="spacingAndGlyphs">158.06W</text>
<text x="129.0" y="235.7" font-size="10.0" fill="#4a4a4a" text-anchor="middle" textLength="36.5" lengthAdjust="spacingAndGlyphs">158.04W</text>
<text x="191.5" y="235.7" font-size="10.0" fill="#4a4a4a" text-anchor="middle" textLength="36.5" lengthAdjust="spacingAndGlyphs">158.02W</text>
<text x="254.0" y="235.7" font-size="10.0" fill="#4a4a4a" text-anchor="middle" textLength="22.5" lengthAdjust="spacingAndGlyphs">158W</text>
<text x="316.5" y="235.7" font-size="10.0" fill="#4a4a4a" text-anchor="middle" textLength="36.5" lengthAdjust="spacingAndGlyphs">157.98W</text>
<path d="M251.5,239.3H268.0 M265.5,237.9L268.0,239.3L265.5,240.7" stroke="#555" stroke-width="0.8" fill="none"/>
<g clip-path="url(#clipb)">
<path d="M552.0,0.0 L551.5,6.7 C550.8,8.1 548.5,12.1 547.0,15.2 C545.5,18.3 543.7,22.1 542.3,25.5 C540.9,28.9 539.5,32.6 538.7,35.7 C537.9,38.8 538.1,41.6 537.5,44.0 C536.9,46.4 535.7,48.3 535.0,50.0 C534.3,51.7 533.1,52.7 533.1,54.1 C533.1,55.5 533.8,57.4 535.0,58.5 C536.2,59.6 538.1,60.2 540.3,61.0 C542.5,61.8 545.8,62.3 548.0,63.0 C550.2,63.7 552.1,63.8 553.5,65.0 C554.9,66.2 555.8,68.5 556.5,70.5 C557.2,72.5 557.1,74.8 557.5,77.0 C557.9,79.2 558.2,81.8 558.7,84.0 C559.2,86.2 559.8,88.2 560.5,90.0 C561.2,91.8 562.1,92.5 562.8,95.1 C563.5,97.7 563.5,103.0 564.9,105.4 C566.3,107.8 568.3,108.5 571.0,109.5 C573.7,110.5 577.9,109.8 581.3,111.5 C584.7,113.2 588.1,117.0 591.5,119.7 C594.9,122.4 598.4,125.5 601.8,127.9 C605.2,130.3 608.6,132.4 612.0,134.1 C615.4,135.8 618.9,136.8 622.3,138.2 C625.7,139.6 630.8,141.6 632.5,142.3 L645.0,143.0 L645.0,0.0 L552.0,0.0 Z" fill="#00ecec"/>
<path d="M556.0,0.0 L555.6,6.7 C554.9,8.1 553.0,12.1 551.5,15.2 C550.0,18.3 547.9,22.1 546.4,25.5 C544.9,28.9 543.1,32.6 542.3,35.7 C541.5,38.8 541.9,41.6 541.5,44.0 C541.1,46.4 540.1,48.2 540.0,50.0 C539.9,51.8 540.2,53.7 541.0,55.0 C541.8,56.3 543.2,57.0 545.0,57.8 C546.8,58.6 549.9,59.2 552.0,60.0 C554.1,60.8 556.1,61.2 557.5,62.5 C558.9,63.8 559.9,65.4 560.5,68.0 C561.1,70.6 560.6,75.0 561.0,78.0 C561.4,81.0 562.1,83.7 562.8,86.0 C563.5,88.3 564.3,90.2 565.0,92.0 C565.7,93.8 566.0,95.1 567.0,97.0 C568.0,98.9 569.0,101.6 571.0,103.3 C573.0,105.0 576.1,105.7 579.2,107.4 C582.3,109.1 586.1,111.2 589.5,113.6 C592.9,116.0 596.3,119.4 599.7,121.8 C603.1,124.2 606.2,126.2 610.0,127.9 C613.8,129.6 618.5,130.6 622.3,132.0 C626.0,133.4 630.8,135.4 632.5,136.1 L645.0,137.0 L645.0,0.0 L556.0,0.0 Z" fill="#01a0f6"/>
<path d="M562.0,0.0 L561.3,6.7 C560.5,8.1 558.4,12.1 556.6,15.2 C554.8,18.3 552.2,22.1 550.5,25.5 C548.8,28.9 547.2,32.6 546.4,35.7 C545.5,38.8 545.5,42.0 545.4,44.0 C545.3,46.0 545.5,46.6 546.0,48.0 C546.5,49.4 547.0,50.8 548.3,52.3 C549.5,53.8 552.0,56.0 553.5,57.0 C555.0,58.0 555.5,57.9 557.0,58.5 C558.5,59.1 561.0,59.5 562.3,60.5 C563.6,61.5 564.4,62.8 565.0,64.4 C565.6,66.0 565.5,68.1 566.0,70.0 C566.5,71.9 567.4,73.7 567.9,76.0 C568.4,78.3 568.5,82.0 569.0,84.0 C569.5,86.0 570.1,85.8 571.0,88.0 C571.9,90.2 572.7,94.7 574.1,97.2 C575.5,99.8 576.6,101.2 579.2,103.3 C581.8,105.3 586.1,107.5 589.5,109.5 C592.9,111.5 596.3,113.5 599.7,115.6 C603.1,117.6 606.6,120.1 610.0,121.8 C613.4,123.5 616.8,124.5 620.2,125.9 C623.6,127.3 628.8,129.3 630.5,130.0 L645.0,131.0 L645.0,0.0 L562.0,0.0 Z" fill="#0000f6"/>
<path d="M566.5,0.0 L566.0,6.7 C565.3,8.1 563.8,12.1 562.0,15.2 C560.2,18.2 556.9,21.6 555.0,25.0 C553.1,28.4 551.0,32.1 550.5,35.5 C550.0,38.9 550.9,42.8 552.0,45.3 C553.1,47.8 555.0,49.3 557.0,50.6 C559.0,51.9 562.0,51.8 564.0,53.0 C566.0,54.2 568.0,55.6 569.3,57.6 C570.6,59.6 571.2,62.1 572.0,65.0 C572.8,67.9 573.2,71.8 574.0,75.0 C574.8,78.2 576.0,81.5 577.0,84.0 C578.0,86.5 579.0,88.2 580.0,90.0 C581.0,91.8 581.4,92.9 583.3,95.1 C585.2,97.3 588.4,100.9 591.5,103.3 C594.6,105.7 598.4,107.5 601.8,109.5 C605.2,111.5 608.6,113.9 612.0,115.6 C615.4,117.3 618.5,118.3 622.3,119.7 C626.1,121.1 632.9,123.1 635.0,123.8 L645.0,124.0 L645.0,0.0 L566.5,0.0 Z" fill="#00ff00"/>
<path d="M572.5,0.0 L572.0,6.7 C571.3,8.1 569.9,12.1 567.8,15.2 C565.7,18.2 561.0,21.7 559.5,25.0 C558.0,28.3 558.1,31.6 558.5,35.0 C558.9,38.4 560.5,42.7 562.0,45.3 C563.5,47.9 565.8,48.5 567.6,50.6 C569.4,52.7 571.0,55.0 572.8,57.6 C574.5,60.2 576.6,63.4 578.1,66.3 C579.6,69.2 580.3,72.2 581.6,75.1 C582.9,78.0 584.7,81.1 586.0,83.8 C587.3,86.5 587.2,87.8 589.5,91.0 C591.8,94.2 596.0,99.9 599.7,103.3 C603.5,106.7 607.2,109.1 612.0,111.5 C616.8,113.9 625.7,116.7 628.4,117.7 L645.0,118.0 L645.0,0.0 L572.5,0.0 Z" fill="#00c800"/>
<path d="M580.0,0.0 L579.2,6.7 C578.5,8.1 577.0,12.1 575.1,15.2 C573.2,18.3 568.7,22.1 568.0,25.5 C567.3,28.9 569.7,32.3 571.0,35.7 C572.3,39.1 574.0,43.0 576.0,46.0 C578.0,49.0 581.0,51.3 583.0,54.0 C585.0,56.7 586.5,59.2 588.0,62.0 C589.5,64.8 590.8,67.5 592.0,70.5 C593.2,73.5 594.0,76.6 595.0,80.0 C596.0,83.4 596.4,88.0 597.7,91.0 C599.0,94.0 601.3,96.0 603.0,98.0 C604.7,100.0 605.4,101.0 607.9,103.3 C610.4,105.5 614.1,108.8 618.2,111.5 C622.3,114.2 630.1,118.3 632.5,119.7 L645.0,120.0 L645.0,0.0 L580.0,0.0 Z" fill="#009000"/>
<path d="M589.0,0.0 L588.4,6.7 C587.9,7.6 586.3,10.3 585.5,12.0 C584.7,13.7 583.9,15.3 583.5,17.0 C583.1,18.7 583.2,20.5 583.0,22.0 C582.8,23.5 582.1,24.4 582.4,26.1 C582.7,27.8 584.0,30.2 584.8,32.3 C585.6,34.3 586.1,36.9 587.3,38.4 C588.5,39.9 590.1,40.2 592.0,41.0 C593.9,41.8 596.9,42.2 598.4,43.4 C599.9,44.6 600.4,46.0 600.8,48.3 C601.2,50.5 600.6,53.4 600.8,56.9 C601.0,60.4 601.6,65.4 602.0,69.2 C602.4,73.0 602.6,77.4 603.3,80.0 C603.9,82.6 605.1,83.2 605.9,85.0 C606.7,86.8 606.9,88.6 607.9,91.0 C608.9,93.4 610.3,96.8 612.0,99.2 C613.7,101.6 615.8,103.4 618.2,105.4 C620.6,107.5 623.6,109.5 626.4,111.5 C629.2,113.5 633.6,116.7 635.0,117.7 L645.0,118.0 L645.0,0.0 L589.0,0.0 Z" fill="#ffff00"/>
<path d="M618.8,0.0 L618.8,6.9 C618.4,7.7 617.6,10.1 616.5,11.8 C615.4,13.6 613.1,15.8 612.0,17.4 C610.9,19.0 608.7,20.4 609.8,21.3 C610.9,22.2 616.4,22.4 618.8,22.5 C621.2,22.6 622.9,22.6 624.4,21.9 C625.9,21.2 626.4,19.6 627.8,18.5 C629.2,17.4 632.0,15.7 632.9,15.1 L645.0,15.0 L645.0,0.0 L618.8,0.0 Z" fill="#009000"/>
<path d="M597.1,31.1 C597.5,29.9 602.2,29.2 605.7,28.6 C609.2,28.0 613.5,27.7 618.0,27.4 C622.5,27.1 630.3,26.9 632.8,26.8 L645.0,26.5 L645.0,107.0 L635.0,106.0 C634.6,105.9 634.3,106.5 632.5,105.4 C630.7,104.3 626.4,100.9 624.3,99.2 C622.2,97.5 621.4,96.5 620.0,95.0 C618.6,93.5 617.3,92.5 616.0,90.0 C614.7,87.5 612.9,83.3 612.0,80.0 C611.1,76.7 611.1,72.8 610.5,70.0 C609.9,67.2 609.0,66.2 608.5,63.0 C608.0,59.8 607.9,54.2 607.6,50.7 C607.4,47.2 607.7,44.6 607.0,42.1 C606.3,39.6 604.9,37.8 603.3,36.0 C601.6,34.2 596.7,32.3 597.1,31.1 Z" fill="#e7c000"/>
<path d="M607.0,29.5 C608.3,28.4 612.1,28.6 615.0,28.3 C617.9,28.0 621.2,27.9 624.2,27.8 C627.2,27.7 631.4,27.6 632.8,27.5 L645.0,27.0 L645.0,100.0 L635.0,99.2 C633.9,98.5 630.5,96.8 628.4,95.1 C626.3,93.4 624.0,91.4 622.3,89.0 C620.6,86.6 619.2,83.1 618.2,80.8 C617.2,78.5 616.9,76.9 616.5,75.0 C616.1,73.1 616.0,71.2 615.6,69.2 C615.2,67.2 614.3,65.0 614.0,63.0 C613.7,61.0 613.9,59.5 613.7,56.9 C613.6,54.2 613.4,49.8 613.1,47.1 C612.8,44.4 612.9,43.0 611.9,40.9 C610.9,38.8 607.8,36.7 607.0,34.8 C606.2,32.9 605.7,30.6 607.0,29.5 Z" fill="#ff9000"/>
<path d="M618.0,31.1 C619.2,30.7 621.7,29.8 624.2,29.8 C626.7,29.8 631.4,30.9 632.8,31.1 L645.0,31.0 L645.0,95.0 L635.0,94.1 C634.2,93.9 632.1,93.9 630.5,93.1 C628.9,92.2 626.7,90.8 625.4,89.0 C624.1,87.2 623.1,84.3 622.5,82.0 C621.9,79.7 622.0,77.1 621.7,75.0 C621.5,72.9 621.4,71.2 621.0,69.2 C620.6,67.2 620.0,65.0 619.3,63.0 C618.6,61.0 617.3,58.9 616.8,56.9 C616.3,54.9 616.1,52.8 616.2,50.7 C616.3,48.7 617.3,46.7 617.4,44.6 C617.5,42.5 616.9,40.0 616.8,38.0 C616.7,36.0 616.6,33.4 616.8,32.3 C617.0,31.1 616.8,31.5 618.0,31.1 Z" fill="#ff0000"/>
<path d="M482.0,23.4 C483.4,22.3 487.4,20.4 490.0,19.5 C492.6,18.6 495.2,18.3 497.8,18.1 C500.4,17.9 503.9,17.4 505.7,18.1 C507.4,18.8 507.9,19.9 508.3,22.1 C508.7,24.3 508.5,28.2 508.3,31.3 C508.1,34.4 507.9,38.3 507.0,40.5 C506.1,42.7 505.1,43.8 503.1,44.4 C501.1,45.0 497.8,45.0 495.2,44.4 C492.6,43.8 489.5,41.8 487.3,40.5 C485.1,39.2 483.1,38.0 482.0,36.5 C480.9,35.0 480.8,33.0 480.7,31.3 C480.6,29.6 481.2,27.3 481.4,26.0 C481.6,24.7 480.6,24.5 482.0,23.4 Z" fill="#00ecec" stroke="#00ecec" stroke-width="38.0" stroke-linejoin="round"/>
<path d="M482.0,23.4 C483.4,22.3 487.4,20.4 490.0,19.5 C492.6,18.6 495.2,18.3 497.8,18.1 C500.4,17.9 503.9,17.4 505.7,18.1 C507.4,18.8 507.9,19.9 508.3,22.1 C508.7,24.3 508.5,28.2 508.3,31.3 C508.1,34.4 507.9,38.3 507.0,40.5 C506.1,42.7 505.1,43.8 503.1,44.4 C501.1,45.0 497.8,45.0 495.2,44.4 C492.6,43.8 489.5,41.8 487.3,40.5 C485.1,39.2 483.1,38.0 482.0,36.5 C480.9,35.0 480.8,33.0 480.7,31.3 C480.6,29.6 481.2,27.3 481.4,26.0 C481.6,24.7 480.6,24.5 482.0,23.4 Z" fill="#01a0f6" stroke="#01a0f6" stroke-width="34.6" stroke-linejoin="round"/>
<path d="M482.0,23.4 C483.4,22.3 487.4,20.4 490.0,19.5 C492.6,18.6 495.2,18.3 497.8,18.1 C500.4,17.9 503.9,17.4 505.7,18.1 C507.4,18.8 507.9,19.9 508.3,22.1 C508.7,24.3 508.5,28.2 508.3,31.3 C508.1,34.4 507.9,38.3 507.0,40.5 C506.1,42.7 505.1,43.8 503.1,44.4 C501.1,45.0 497.8,45.0 495.2,44.4 C492.6,43.8 489.5,41.8 487.3,40.5 C485.1,39.2 483.1,38.0 482.0,36.5 C480.9,35.0 480.8,33.0 480.7,31.3 C480.6,29.6 481.2,27.3 481.4,26.0 C481.6,24.7 480.6,24.5 482.0,23.4 Z" fill="#0000f6" stroke="#0000f6" stroke-width="30.6" stroke-linejoin="round"/>
<path d="M449.2,0.0 L449.2,6.7 C449.3,7.7 449.6,10.6 449.9,12.9 C450.2,15.2 450.7,18.2 451.2,20.8 C451.7,23.4 452.4,26.5 453.1,28.7 C453.8,30.9 454.9,32.1 455.5,34.0 C456.1,35.9 456.4,37.8 456.5,40.0 C456.6,42.2 455.9,44.8 456.0,47.0 C456.1,49.2 456.6,51.1 457.0,53.0 C457.4,54.9 458.6,57.0 458.7,58.6 C458.8,60.2 457.9,61.2 457.9,62.9 C457.9,64.6 458.8,67.0 458.7,68.7 C458.6,70.4 458.2,72.0 457.2,73.0 C456.2,74.0 454.0,73.5 452.9,74.4 C451.8,75.4 450.8,77.0 450.8,78.7 C450.8,80.4 451.6,82.9 452.9,84.4 C454.2,86.0 456.5,87.3 458.7,88.0 C460.9,88.7 463.4,89.0 465.8,88.7 C468.2,88.4 470.9,87.6 473.0,85.9 C475.1,84.2 477.0,81.3 478.7,78.7 C480.4,76.1 481.8,72.7 483.0,70.1 C484.2,67.5 485.2,64.8 485.9,62.9 C486.6,61.0 486.3,59.2 487.0,58.5 C487.7,57.8 489.1,59.3 489.9,58.9 C490.7,58.5 492.6,57.5 492.0,56.0 C491.4,54.5 488.3,51.7 486.0,50.0 C483.7,48.3 480.5,47.7 478.0,46.0 C475.5,44.3 472.3,42.7 471.0,40.0 C469.7,37.3 469.8,33.3 470.0,30.0 C470.2,26.7 471.0,23.0 472.0,20.0 C473.0,17.0 474.7,14.2 476.0,12.0 C477.3,9.8 479.3,7.6 480.0,6.7 L480.0,0.0 L449.2,0.0 Z" fill="#00ecec" stroke="#00ecec" stroke-width="7.6" stroke-linejoin="round"/>
<path d="M449.2,0.0 L449.2,6.7 C449.3,7.7 449.6,10.6 449.9,12.9 C450.2,15.2 450.7,18.2 451.2,20.8 C451.7,23.4 452.4,26.5 453.1,28.7 C453.8,30.9 454.9,32.1 455.5,34.0 C456.1,35.9 456.4,37.8 456.5,40.0 C456.6,42.2 455.9,44.8 456.0,47.0 C456.1,49.2 456.6,51.1 457.0,53.0 C457.4,54.9 458.6,57.0 458.7,58.6 C458.8,60.2 457.9,61.2 457.9,62.9 C457.9,64.6 458.8,67.0 458.7,68.7 C458.6,70.4 458.2,72.0 457.2,73.0 C456.2,74.0 454.0,73.5 452.9,74.4 C451.8,75.4 450.8,77.0 450.8,78.7 C450.8,80.4 451.6,82.9 452.9,84.4 C454.2,86.0 456.5,87.3 458.7,88.0 C460.9,88.7 463.4,89.0 465.8,88.7 C468.2,88.4 470.9,87.6 473.0,85.9 C475.1,84.2 477.0,81.3 478.7,78.7 C480.4,76.1 481.8,72.7 483.0,70.1 C484.2,67.5 485.2,64.8 485.9,62.9 C486.6,61.0 486.3,59.2 487.0,58.5 C487.7,57.8 489.1,59.3 489.9,58.9 C490.7,58.5 492.6,57.5 492.0,56.0 C491.4,54.5 488.3,51.7 486.0,50.0 C483.7,48.3 480.5,47.7 478.0,46.0 C475.5,44.3 472.3,42.7 471.0,40.0 C469.7,37.3 469.8,33.3 470.0,30.0 C470.2,26.7 471.0,23.0 472.0,20.0 C473.0,17.0 474.7,14.2 476.0,12.0 C477.3,9.8 479.3,7.6 480.0,6.7 L480.0,0.0 L449.2,0.0 Z" fill="#01a0f6" stroke="#01a0f6" stroke-width="4.0" stroke-linejoin="round"/>
<path d="M449.2,0.0 L449.2,6.7 C449.3,7.7 449.6,10.6 449.9,12.9 C450.2,15.2 450.7,18.2 451.2,20.8 C451.7,23.4 452.4,26.5 453.1,28.7 C453.8,30.9 454.9,32.1 455.5,34.0 C456.1,35.9 456.4,37.8 456.5,40.0 C456.6,42.2 455.9,44.8 456.0,47.0 C456.1,49.2 456.6,51.1 457.0,53.0 C457.4,54.9 458.6,57.0 458.7,58.6 C458.8,60.2 457.9,61.2 457.9,62.9 C457.9,64.6 458.8,67.0 458.7,68.7 C458.6,70.4 458.2,72.0 457.2,73.0 C456.2,74.0 454.0,73.5 452.9,74.4 C451.8,75.4 450.8,77.0 450.8,78.7 C450.8,80.4 451.6,82.9 452.9,84.4 C454.2,86.0 456.5,87.3 458.7,88.0 C460.9,88.7 463.4,89.0 465.8,88.7 C468.2,88.4 470.9,87.6 473.0,85.9 C475.1,84.2 477.0,81.3 478.7,78.7 C480.4,76.1 481.8,72.7 483.0,70.1 C484.2,67.5 485.2,64.8 485.9,62.9 C486.6,61.0 486.3,59.2 487.0,58.5 C487.7,57.8 489.1,59.3 489.9,58.9 C490.7,58.5 492.6,57.5 492.0,56.0 C491.4,54.5 488.3,51.7 486.0,50.0 C483.7,48.3 480.5,47.7 478.0,46.0 C475.5,44.3 472.3,42.7 471.0,40.0 C469.7,37.3 469.8,33.3 470.0,30.0 C470.2,26.7 471.0,23.0 472.0,20.0 C473.0,17.0 474.7,14.2 476.0,12.0 C477.3,9.8 479.3,7.6 480.0,6.7 L480.0,0.0 L449.2,0.0 Z" fill="#0000f6"/>
<path d="M446.5,28.0 C446.8,27.2 449.6,31.0 451.0,33.0 C452.4,35.0 454.3,37.2 455.0,40.0 C455.7,42.8 454.8,47.0 455.0,50.0 C455.2,53.0 456.3,55.3 456.5,58.0 C456.7,60.7 456.6,63.7 456.0,66.0 C455.4,68.3 454.2,70.3 453.0,72.0 C451.8,73.7 449.9,76.7 449.0,76.0 C448.1,75.3 447.8,71.0 447.5,68.0 C447.2,65.0 447.2,61.3 447.5,58.0 C447.8,54.7 448.7,51.3 449.0,48.0 C449.3,44.7 449.9,41.3 449.5,38.0 C449.1,34.7 446.2,28.8 446.5,28.0 Z" fill="#01a0f6"/>
<path d="M482.0,23.4 C483.4,22.3 487.4,20.4 490.0,19.5 C492.6,18.6 495.2,18.3 497.8,18.1 C500.4,17.9 503.9,17.4 505.7,18.1 C507.4,18.8 507.9,19.9 508.3,22.1 C508.7,24.3 508.5,28.2 508.3,31.3 C508.1,34.4 507.9,38.3 507.0,40.5 C506.1,42.7 505.1,43.8 503.1,44.4 C501.1,45.0 497.8,45.0 495.2,44.4 C492.6,43.8 489.5,41.8 487.3,40.5 C485.1,39.2 483.1,38.0 482.0,36.5 C480.9,35.0 480.8,33.0 480.7,31.3 C480.6,29.6 481.2,27.3 481.4,26.0 C481.6,24.7 480.6,24.5 482.0,23.4 Z" fill="#00ff00" stroke="#00ff00" stroke-width="24.0" stroke-linejoin="round"/>
<path d="M482.0,23.4 C483.4,22.3 487.4,20.4 490.0,19.5 C492.6,18.6 495.2,18.3 497.8,18.1 C500.4,17.9 503.9,17.4 505.7,18.1 C507.4,18.8 507.9,19.9 508.3,22.1 C508.7,24.3 508.5,28.2 508.3,31.3 C508.1,34.4 507.9,38.3 507.0,40.5 C506.1,42.7 505.1,43.8 503.1,44.4 C501.1,45.0 497.8,45.0 495.2,44.4 C492.6,43.8 489.5,41.8 487.3,40.5 C485.1,39.2 483.1,38.0 482.0,36.5 C480.9,35.0 480.8,33.0 480.7,31.3 C480.6,29.6 481.2,27.3 481.4,26.0 C481.6,24.7 480.6,24.5 482.0,23.4 Z" fill="#00c800" stroke="#00c800" stroke-width="16.0" stroke-linejoin="round"/>
<path d="M482.0,23.4 C483.4,22.3 487.4,20.4 490.0,19.5 C492.6,18.6 495.2,18.3 497.8,18.1 C500.4,17.9 503.9,17.4 505.7,18.1 C507.4,18.8 507.9,19.9 508.3,22.1 C508.7,24.3 508.5,28.2 508.3,31.3 C508.1,34.4 507.9,38.3 507.0,40.5 C506.1,42.7 505.1,43.8 503.1,44.4 C501.1,45.0 497.8,45.0 495.2,44.4 C492.6,43.8 489.5,41.8 487.3,40.5 C485.1,39.2 483.1,38.0 482.0,36.5 C480.9,35.0 480.8,33.0 480.7,31.3 C480.6,29.6 481.2,27.3 481.4,26.0 C481.6,24.7 480.6,24.5 482.0,23.4 Z" fill="#009000" stroke="#009000" stroke-width="9.0" stroke-linejoin="round"/>
<path d="M482.0,23.4 C483.4,22.3 487.4,20.4 490.0,19.5 C492.6,18.6 495.2,18.3 497.8,18.1 C500.4,17.9 503.9,17.4 505.7,18.1 C507.4,18.8 507.9,19.9 508.3,22.1 C508.7,24.3 508.5,28.2 508.3,31.3 C508.1,34.4 507.9,38.3 507.0,40.5 C506.1,42.7 505.1,43.8 503.1,44.4 C501.1,45.0 497.8,45.0 495.2,44.4 C492.6,43.8 489.5,41.8 487.3,40.5 C485.1,39.2 483.1,38.0 482.0,36.5 C480.9,35.0 480.8,33.0 480.7,31.3 C480.6,29.6 481.2,27.3 481.4,26.0 C481.6,24.7 480.6,24.5 482.0,23.4 Z" fill="#ffff00"/>
<path d="M487.3,26.0 C488.2,24.7 490.6,23.6 492.6,23.4 C494.6,23.2 497.8,23.6 499.1,24.7 C500.4,25.8 500.6,28.5 500.4,30.0 C500.2,31.5 499.3,33.2 497.8,33.9 C496.3,34.5 492.9,34.3 491.2,33.9 C489.4,33.5 487.9,32.6 487.3,31.3 C486.7,30.0 486.4,27.3 487.3,26.0 Z" fill="#e7c000"/>
<path d="M449.0,0.0 L449.0,6.6 C448.9,7.7 448.6,10.7 448.7,13.2 C448.8,15.7 449.1,19.1 449.6,21.4 C450.2,23.7 451.1,25.6 452.0,27.1 C452.9,28.6 454.1,29.4 455.3,30.4 C456.5,31.4 458.3,31.9 459.4,32.9 C460.5,33.9 461.3,35.0 461.9,36.1 C462.5,37.2 462.6,38.9 463.0,39.5 C463.4,40.1 464.0,40.1 464.5,39.5 C465.0,38.9 465.4,37.2 466.0,36.1 C466.6,35.0 467.5,33.8 467.8,33.0 C468.1,32.2 468.2,31.8 467.6,31.5 C467.0,31.2 465.7,31.4 464.3,31.2 C462.9,31.0 461.0,30.9 459.4,30.4 C457.8,29.9 455.9,29.2 454.5,28.0 C453.1,26.8 451.9,24.8 451.2,23.0 C450.5,21.2 450.4,19.2 450.4,17.3 C450.4,15.4 449.6,12.7 451.2,11.6 C452.8,10.5 456.9,11.2 460.0,11.0 C463.1,10.8 467.6,10.9 470.0,10.7 C472.4,10.5 471.9,10.0 474.1,9.9 C476.3,9.8 481.5,10.0 483.0,10.0 L483.0,0.0 L449.0,0.0 Z" fill="#00ff00"/>
<path d="M457.0,16.5 C458.2,15.4 461.3,15.1 463.5,14.8 C465.7,14.5 468.6,14.4 470.0,14.8 C471.4,15.2 471.4,16.1 471.7,17.3 C472.0,18.5 472.4,21.0 471.7,22.2 C471.0,23.4 469.0,23.9 467.6,24.7 C466.2,25.5 464.9,26.4 463.5,27.1 C462.1,27.8 460.5,28.9 459.4,28.8 C458.3,28.7 457.4,27.5 456.9,26.3 C456.3,25.1 456.1,23.0 456.1,21.4 C456.1,19.8 455.8,17.6 457.0,16.5 Z" fill="#01a0f6" stroke="#01a0f6" stroke-width="3.2" stroke-linejoin="round"/>
<path d="M457.0,16.5 C458.2,15.4 461.3,15.1 463.5,14.8 C465.7,14.5 468.6,14.4 470.0,14.8 C471.4,15.2 471.4,16.1 471.7,17.3 C472.0,18.5 472.4,21.0 471.7,22.2 C471.0,23.4 469.0,23.9 467.6,24.7 C466.2,25.5 464.9,26.4 463.5,27.1 C462.1,27.8 460.5,28.9 459.4,28.8 C458.3,28.7 457.4,27.5 456.9,26.3 C456.3,25.1 456.1,23.0 456.1,21.4 C456.1,19.8 455.8,17.6 457.0,16.5 Z" fill="#ffffff"/>
<path d="M467.0,50.5 C468.7,50.0 471.8,49.2 474.0,49.0 C476.2,48.8 478.2,49.0 480.0,49.5 C481.8,50.0 484.0,51.1 485.0,52.0 C486.0,52.9 486.3,54.2 486.0,55.0 C485.7,55.8 484.7,56.1 483.0,56.5 C481.3,56.9 478.5,57.3 476.0,57.5 C473.5,57.7 470.0,57.9 468.0,57.5 C466.0,57.1 464.7,55.9 464.0,55.0 C463.3,54.1 463.5,52.8 464.0,52.0 C464.5,51.2 465.3,51.0 467.0,50.5 Z" fill="#01a0f6" stroke="#01a0f6" stroke-width="2.8" stroke-linejoin="round"/>
<path d="M467.0,50.5 C468.7,50.0 471.8,49.2 474.0,49.0 C476.2,48.8 478.2,49.0 480.0,49.5 C481.8,50.0 484.0,51.1 485.0,52.0 C486.0,52.9 486.3,54.2 486.0,55.0 C485.7,55.8 484.7,56.1 483.0,56.5 C481.3,56.9 478.5,57.3 476.0,57.5 C473.5,57.7 470.0,57.9 468.0,57.5 C466.0,57.1 464.7,55.9 464.0,55.0 C463.3,54.1 463.5,52.8 464.0,52.0 C464.5,51.2 465.3,51.0 467.0,50.5 Z" fill="#00ecec" stroke="#00ecec" stroke-width="1.4" stroke-linejoin="round"/>
<path d="M467.0,50.5 C468.7,50.0 471.8,49.2 474.0,49.0 C476.2,48.8 478.2,49.0 480.0,49.5 C481.8,50.0 484.0,51.1 485.0,52.0 C486.0,52.9 486.3,54.2 486.0,55.0 C485.7,55.8 484.7,56.1 483.0,56.5 C481.3,56.9 478.5,57.3 476.0,57.5 C473.5,57.7 470.0,57.9 468.0,57.5 C466.0,57.1 464.7,55.9 464.0,55.0 C463.3,54.1 463.5,52.8 464.0,52.0 C464.5,51.2 465.3,51.0 467.0,50.5 Z" fill="#ffffff"/>
<path d="M460.5,61.0 C461.9,60.7 466.1,61.0 468.7,61.0 C471.3,61.0 473.7,61.4 476.0,61.0 C478.3,60.6 481.2,58.7 482.5,58.5 C483.8,58.3 483.4,59.2 483.5,60.0 C483.6,60.8 483.8,61.4 483.3,63.0 C482.9,64.6 481.9,67.1 480.8,69.5 C479.7,71.9 478.2,75.1 476.7,77.5 C475.1,79.9 473.4,82.5 471.5,84.0 C469.6,85.5 467.5,86.2 465.5,86.5 C463.5,86.8 461.2,86.7 459.5,86.0 C457.8,85.3 456.0,83.7 455.0,82.5 C454.0,81.3 453.3,79.7 453.3,78.7 C453.3,77.7 454.1,77.1 455.0,76.5 C455.9,75.9 458.1,76.2 459.0,75.0 C459.9,73.8 460.5,71.0 460.7,69.0 C460.9,67.0 460.0,64.3 460.0,63.0 C460.0,61.7 459.1,61.3 460.5,61.0 Z" fill="#00ff00"/>
<path d="M463.0,63.5 C464.2,62.4 467.7,63.5 470.0,63.5 C472.3,63.5 475.2,63.8 477.0,63.5 C478.8,63.2 479.8,61.9 480.5,62.0 C481.2,62.1 481.3,62.8 481.0,64.0 C480.7,65.2 479.6,66.9 478.5,69.0 C477.4,71.1 476.0,74.3 474.5,76.5 C473.0,78.7 471.1,80.8 469.5,82.0 C467.9,83.2 466.6,83.8 465.0,84.0 C463.4,84.2 461.3,84.0 460.0,83.5 C458.7,83.0 457.6,81.8 457.0,81.0 C456.4,80.2 456.2,79.5 456.5,79.0 C456.8,78.5 458.1,78.5 459.0,78.0 C459.9,77.5 461.3,77.3 462.0,76.0 C462.7,74.7 462.8,72.1 463.0,70.0 C463.2,67.9 461.8,64.6 463.0,63.5 Z" fill="#00c800"/>
<path d="M467.0,67.0 C468.3,66.1 472.3,65.5 474.0,65.5 C475.7,65.5 476.8,65.8 477.0,67.0 C477.2,68.2 476.0,71.0 475.0,73.0 C474.0,75.0 472.3,77.8 471.0,79.0 C469.7,80.2 468.0,80.5 467.0,80.0 C466.0,79.5 465.2,77.5 465.0,76.0 C464.8,74.5 465.7,72.5 466.0,71.0 C466.3,69.5 465.7,67.9 467.0,67.0 Z" fill="#009000"/>
<circle cx="474.4" cy="71.2" r="2" fill="#ffff00"/>
<path d="M481.6,80.1 C483.5,78.7 486.7,78.7 488.8,78.7 C490.9,78.7 493.7,78.7 494.5,80.1 C495.3,81.5 494.5,84.7 493.8,87.3 C493.1,89.9 491.5,92.6 490.2,95.9 C488.9,99.2 487.1,104.1 485.9,107.4 C484.7,110.8 484.4,114.3 483.0,116.0 C481.6,117.7 478.7,117.9 477.3,117.4 C475.9,116.9 475.8,114.3 474.4,113.1 C473.0,111.9 470.4,110.8 468.7,110.3 C467.0,109.8 464.9,111.3 464.4,110.3 C463.9,109.3 464.6,106.9 465.8,104.5 C467.0,102.1 469.7,98.8 471.6,95.9 C473.5,93.0 475.6,89.9 477.3,87.3 C479.0,84.7 479.7,81.5 481.6,80.1 Z" fill="#00ecec" stroke="#00ecec" stroke-width="1.6" stroke-linejoin="round"/>
<path d="M482.5,83.0 C484.2,81.8 487.4,81.6 489.0,81.5 C490.6,81.4 491.6,81.4 492.0,82.5 C492.4,83.6 492.2,85.8 491.5,88.0 C490.8,90.2 489.2,92.8 488.0,96.0 C486.8,99.2 485.5,104.0 484.5,107.0 C483.5,110.0 483.1,112.8 482.0,114.0 C480.9,115.2 479.0,115.0 478.0,114.5 C477.0,114.0 477.0,112.1 476.0,111.0 C475.0,109.9 473.2,108.6 472.0,108.0 C470.8,107.4 469.3,108.2 469.0,107.5 C468.7,106.8 469.2,105.8 470.0,104.0 C470.8,102.2 472.5,99.5 474.0,97.0 C475.5,94.5 477.6,91.3 479.0,89.0 C480.4,86.7 480.8,84.2 482.5,83.0 Z" fill="#01a0f6"/>
<path d="M483.0,88.7 C483.7,87.5 485.3,86.9 485.9,87.3 C486.5,87.7 486.7,89.6 486.5,91.0 C486.3,92.4 485.3,95.3 484.5,95.9 C483.7,96.5 481.8,95.7 481.5,94.5 C481.2,93.3 482.3,89.9 483.0,88.7 Z" fill="#0000f6"/>
<path d="M478.0,105.5 C478.5,104.2 480.7,104.1 481.5,104.5 C482.3,104.9 482.9,106.7 483.0,108.0 C483.1,109.3 482.8,111.8 482.0,112.5 C481.2,113.2 479.2,113.7 478.5,112.5 C477.8,111.3 477.5,106.8 478.0,105.5 Z" fill="#0000f6"/>
<path d="M429.6,100.3 C431.2,99.2 434.3,98.5 436.3,99.0 C438.3,99.5 440.1,101.2 441.6,103.0 C443.2,104.8 444.5,107.3 445.6,109.7 C446.7,112.1 447.4,114.5 448.3,117.6 C449.2,120.7 450.3,124.7 451.0,128.3 C451.7,131.9 451.9,135.7 452.3,139.0 C452.7,142.3 452.9,145.6 453.6,148.3 C454.3,151.0 455.7,152.9 456.5,155.0 C457.3,157.1 458.2,159.0 458.5,161.0 C458.8,163.0 458.9,165.3 458.5,167.0 C458.1,168.7 457.2,170.3 456.0,171.0 C454.8,171.7 452.7,172.0 451.0,171.0 C449.3,170.0 447.8,167.4 446.0,165.0 C444.2,162.6 441.9,158.6 440.3,156.3 C438.7,154.0 437.6,152.8 436.3,151.0 C435.0,149.2 433.4,147.4 432.3,145.6 C431.2,143.8 430.9,141.0 429.6,140.3 C428.3,139.6 425.6,141.8 424.3,141.6 C423.0,141.4 421.6,140.1 421.6,139.0 C421.6,137.9 423.4,136.6 424.3,135.0 C425.2,133.4 426.8,131.8 427.0,129.6 C427.2,127.4 426.1,124.5 425.6,121.6 C425.2,118.7 424.1,114.9 424.3,112.3 C424.5,109.7 426.1,107.7 427.0,105.7 C427.9,103.7 428.1,101.4 429.6,100.3 Z" fill="#00ecec"/>
<path d="M431.0,102.5 C432.3,101.7 434.9,101.1 436.5,101.5 C438.1,101.9 439.2,103.4 440.5,105.0 C441.8,106.6 443.0,108.7 444.0,111.0 C445.0,113.3 445.6,116.0 446.5,119.0 C447.4,122.0 448.5,125.7 449.2,129.0 C449.9,132.3 450.1,135.8 450.6,139.0 C451.1,142.2 451.3,145.8 452.0,148.5 C452.7,151.2 454.0,153.4 454.8,155.5 C455.6,157.6 456.5,159.2 456.8,161.0 C457.1,162.8 457.1,165.1 456.8,166.5 C456.5,167.9 455.8,168.8 455.0,169.3 C454.2,169.8 453.1,170.2 451.8,169.3 C450.6,168.4 449.2,166.3 447.5,164.0 C445.8,161.7 443.4,157.8 441.8,155.5 C440.2,153.2 439.2,151.8 437.8,150.0 C436.4,148.2 434.8,146.4 433.6,144.5 C432.4,142.6 431.8,139.6 430.5,138.8 C429.2,138.0 427.0,139.6 426.0,139.5 C425.0,139.4 424.2,139.3 424.3,138.5 C424.4,137.7 425.8,136.0 426.5,134.5 C427.2,133.0 428.7,131.8 428.8,129.6 C428.9,127.4 427.8,124.4 427.4,121.6 C427.0,118.8 426.0,115.0 426.2,112.5 C426.4,110.0 427.7,108.2 428.5,106.5 C429.3,104.8 429.7,103.3 431.0,102.5 Z" fill="#01a0f6"/>
<path d="M433.6,107.0 C435.6,107.2 438.5,108.4 440.3,109.7 C442.1,111.0 443.2,112.8 444.3,115.0 C445.4,117.2 446.2,120.1 447.0,123.0 C447.8,125.9 448.4,129.2 449.0,132.3 C449.6,135.4 449.8,138.5 450.3,141.6 C450.9,144.7 451.5,148.3 452.3,151.0 C453.1,153.7 454.4,155.7 455.0,158.0 C455.6,160.3 456.2,163.2 456.0,165.0 C455.8,166.8 454.7,168.5 453.5,168.5 C452.3,168.5 450.6,166.8 449.0,165.0 C447.4,163.2 445.7,160.1 444.0,158.0 C442.3,155.9 440.5,154.4 439.0,152.3 C437.5,150.2 436.3,147.8 435.0,145.6 C433.7,143.4 431.9,141.2 431.0,139.0 C430.1,136.8 429.6,134.3 429.6,132.3 C429.6,130.3 431.0,129.2 431.0,127.0 C431.0,124.8 430.1,121.5 429.6,119.0 C429.2,116.5 428.5,114.1 428.3,112.3 C428.1,110.5 427.4,109.2 428.3,108.3 C429.2,107.4 431.6,106.8 433.6,107.0 Z" fill="#0000f6"/>
<path d="M429.5,113.0 C429.8,110.6 432.3,111.0 433.5,111.5 C434.7,112.0 436.2,113.9 436.5,116.0 C436.8,118.1 435.8,122.3 435.0,124.0 C434.2,125.7 432.4,127.8 431.5,126.0 C430.6,124.2 429.2,115.4 429.5,113.0 Z" fill="#01a0f6"/>
<path d="M436.3,129.6 C437.7,128.7 440.1,126.0 441.6,125.6 C443.2,125.2 444.5,125.7 445.6,127.0 C446.7,128.3 447.7,131.2 448.3,133.6 C448.9,136.0 448.8,138.7 449.0,141.6 C449.2,144.5 449.1,148.3 449.6,151.0 C450.2,153.7 451.7,155.8 452.3,158.0 C452.9,160.2 453.6,162.7 453.5,164.0 C453.4,165.3 452.6,166.5 451.5,166.0 C450.4,165.5 448.4,162.8 447.0,161.0 C445.6,159.2 444.3,157.1 443.0,155.0 C441.7,152.9 440.6,150.3 439.0,148.3 C437.4,146.3 434.7,145.1 433.6,143.0 C432.5,140.9 432.4,138.0 432.3,136.0 C432.2,134.0 432.3,132.1 433.0,131.0 C433.7,129.9 434.9,130.5 436.3,129.6 Z" fill="#00ff00"/>
<path d="M439.0,132.3 C440.4,131.3 444.3,129.9 445.6,131.0 C446.9,132.1 446.8,136.1 447.0,139.0 C447.2,141.9 446.7,145.5 447.0,148.3 C447.3,151.1 448.5,153.7 449.0,156.0 C449.5,158.3 450.3,161.3 450.0,162.0 C449.7,162.7 448.2,161.8 447.0,160.0 C445.8,158.2 444.3,153.5 443.0,151.0 C441.7,148.5 440.0,147.3 439.0,145.0 C438.0,142.7 437.0,139.1 437.0,137.0 C437.0,134.9 437.6,133.3 439.0,132.3 Z" fill="#00c800"/>
<path d="M443.0,136.3 C443.4,136.0 444.6,135.9 445.0,137.0 C445.4,138.1 445.8,142.0 445.5,143.0 C445.2,144.0 444.0,143.7 443.5,143.0 C443.0,142.3 442.6,140.1 442.5,139.0 C442.4,137.9 442.6,136.6 443.0,136.3 Z" fill="#009000"/>
<path d="M370.0,125.0 L383.0,128.3 C384.1,129.0 387.5,131.0 389.7,132.3 C391.9,133.6 393.9,135.1 396.3,136.3 C398.7,137.5 401.6,138.5 404.3,139.6 C407.0,140.7 409.9,141.8 412.3,143.0 C414.8,144.2 417.2,145.7 419.0,147.0 C420.8,148.3 421.9,149.4 423.0,151.0 C424.1,152.6 424.9,154.8 425.6,156.3 C426.3,157.8 425.9,158.8 427.0,160.0 C428.1,161.2 430.1,162.2 432.0,163.5 C433.9,164.8 436.6,166.4 438.5,168.0 C440.4,169.6 442.1,171.2 443.5,173.0 C444.9,174.8 446.1,176.6 447.0,179.0 C447.9,181.4 448.4,184.4 448.8,187.3 C449.2,190.2 449.1,193.4 449.2,196.4 C449.3,199.4 449.7,202.8 449.6,205.4 C449.5,208.0 449.1,210.2 448.5,212.0 C447.9,213.8 447.0,215.4 445.8,216.4 C444.6,217.4 442.8,217.4 441.4,218.2 C440.0,219.0 438.4,220.0 437.5,221.0 C436.6,222.0 440.7,223.5 436.0,224.0 C431.3,224.5 414.5,224.8 409.5,224.0 C404.5,223.2 407.2,220.4 406.0,219.0 C404.8,217.6 403.5,216.6 402.0,215.5 C400.5,214.4 398.8,213.4 397.0,212.5 C395.2,211.6 393.0,210.6 391.0,209.8 C389.0,209.0 386.0,207.9 385.0,207.5 L370.0,207.0 L370.0,125.0 Z" fill="#00ecec" stroke="#00ecec" stroke-width="5.6" stroke-linejoin="round"/>
<path d="M370.0,125.0 L383.0,128.3 C384.1,129.0 387.5,131.0 389.7,132.3 C391.9,133.6 393.9,135.1 396.3,136.3 C398.7,137.5 401.6,138.5 404.3,139.6 C407.0,140.7 409.9,141.8 412.3,143.0 C414.8,144.2 417.2,145.7 419.0,147.0 C420.8,148.3 421.9,149.4 423.0,151.0 C424.1,152.6 424.9,154.8 425.6,156.3 C426.3,157.8 425.9,158.8 427.0,160.0 C428.1,161.2 430.1,162.2 432.0,163.5 C433.9,164.8 436.6,166.4 438.5,168.0 C440.4,169.6 442.1,171.2 443.5,173.0 C444.9,174.8 446.1,176.6 447.0,179.0 C447.9,181.4 448.4,184.4 448.8,187.3 C449.2,190.2 449.1,193.4 449.2,196.4 C449.3,199.4 449.7,202.8 449.6,205.4 C449.5,208.0 449.1,210.2 448.5,212.0 C447.9,213.8 447.0,215.4 445.8,216.4 C444.6,217.4 442.8,217.4 441.4,218.2 C440.0,219.0 438.4,220.0 437.5,221.0 C436.6,222.0 440.7,223.5 436.0,224.0 C431.3,224.5 414.5,224.8 409.5,224.0 C404.5,223.2 407.2,220.4 406.0,219.0 C404.8,217.6 403.5,216.6 402.0,215.5 C400.5,214.4 398.8,213.4 397.0,212.5 C395.2,211.6 393.0,210.6 391.0,209.8 C389.0,209.0 386.0,207.9 385.0,207.5 L370.0,207.0 L370.0,125.0 Z" fill="#01a0f6" stroke="#01a0f6" stroke-width="2.8" stroke-linejoin="round"/>
<path d="M370.0,125.0 L383.0,128.3 C384.1,129.0 387.5,131.0 389.7,132.3 C391.9,133.6 393.9,135.1 396.3,136.3 C398.7,137.5 401.6,138.5 404.3,139.6 C407.0,140.7 409.9,141.8 412.3,143.0 C414.8,144.2 417.2,145.7 419.0,147.0 C420.8,148.3 421.9,149.4 423.0,151.0 C424.1,152.6 424.9,154.8 425.6,156.3 C426.3,157.8 425.9,158.8 427.0,160.0 C428.1,161.2 430.1,162.2 432.0,163.5 C433.9,164.8 436.6,166.4 438.5,168.0 C440.4,169.6 442.1,171.2 443.5,173.0 C444.9,174.8 446.1,176.6 447.0,179.0 C447.9,181.4 448.4,184.4 448.8,187.3 C449.2,190.2 449.1,193.4 449.2,196.4 C449.3,199.4 449.7,202.8 449.6,205.4 C449.5,208.0 449.1,210.2 448.5,212.0 C447.9,213.8 447.0,215.4 445.8,216.4 C444.6,217.4 442.8,217.4 441.4,218.2 C440.0,219.0 438.4,220.0 437.5,221.0 C436.6,222.0 440.7,223.5 436.0,224.0 C431.3,224.5 414.5,224.8 409.5,224.0 C404.5,223.2 407.2,220.4 406.0,219.0 C404.8,217.6 403.5,216.6 402.0,215.5 C400.5,214.4 398.8,213.4 397.0,212.5 C395.2,211.6 393.0,210.6 391.0,209.8 C389.0,209.0 386.0,207.9 385.0,207.5 L370.0,207.0 L370.0,125.0 Z" fill="#0000f6"/>
<path d="M370.0,128.0 L383.0,131.0 C384.3,131.7 388.3,133.7 391.0,135.0 C393.7,136.3 395.9,137.4 399.0,139.0 C402.1,140.6 406.5,142.5 409.6,144.3 C412.7,146.1 415.6,147.8 417.6,149.6 C419.6,151.4 420.7,153.3 421.6,155.0 C422.5,156.7 421.9,158.5 423.0,160.0 C424.1,161.5 426.0,162.7 428.0,164.0 C430.0,165.3 432.8,166.5 435.0,168.0 C437.2,169.5 439.4,171.2 441.0,173.0 C442.6,174.8 443.6,176.7 444.5,179.0 C445.4,181.3 446.1,184.2 446.5,187.0 C446.9,189.8 446.8,193.0 447.0,196.0 C447.2,199.0 447.6,202.5 447.5,205.0 C447.4,207.5 446.9,209.4 446.2,211.0 C445.4,212.6 444.2,213.7 443.0,214.5 C441.8,215.3 440.2,215.2 439.0,216.0 C437.8,216.8 436.3,218.2 435.5,219.5 C434.7,220.8 438.1,223.2 434.0,224.0 C429.9,224.8 415.2,224.8 411.0,224.0 C406.8,223.2 409.6,220.4 408.5,219.0 C407.4,217.6 406.2,216.7 404.5,215.5 C402.8,214.3 400.6,213.1 398.5,212.0 C396.4,210.9 394.2,209.9 392.0,209.0 C389.8,208.1 386.2,206.9 385.0,206.5 L370.0,206.0 L370.0,128.0 Z" fill="#00ff00"/>
<path d="M370.0,133.0 L383.0,135.0 C384.1,135.4 387.5,136.5 389.7,137.6 C391.9,138.7 393.4,140.3 396.3,141.6 C399.2,142.9 404.1,144.0 407.0,145.6 C409.9,147.2 411.8,148.9 413.6,151.0 C415.4,153.1 416.0,156.0 417.6,158.0 C419.2,160.0 420.9,161.3 423.0,163.0 C425.1,164.7 427.8,166.2 430.0,168.0 C432.2,169.8 435.3,172.0 436.0,174.0 C436.7,176.0 435.2,177.7 434.0,180.0 C432.8,182.3 429.7,184.4 429.0,188.0 C428.3,191.6 429.0,197.9 429.7,201.7 C430.4,205.5 432.1,208.7 433.2,211.0 C434.2,213.3 436.0,214.2 436.0,215.5 C436.0,216.8 433.8,217.6 433.0,219.0 C432.2,220.4 434.3,223.2 431.0,224.0 C427.7,224.8 416.5,224.8 413.0,224.0 C409.5,223.2 411.2,220.5 410.0,219.0 C408.8,217.5 407.7,216.2 406.0,215.0 C404.3,213.8 402.2,213.0 400.0,212.0 C397.8,211.0 395.5,210.0 393.0,209.0 C390.5,208.0 386.3,206.5 385.0,206.0 L370.0,205.5 L370.0,133.0 Z" fill="#00c800"/>
<path d="M370.0,134.5 L383.0,136.3 C384.3,137.0 388.3,139.0 391.0,140.3 C393.7,141.6 396.1,143.0 399.0,144.3 C401.9,145.6 406.1,146.8 408.3,148.3 C410.5,149.9 411.4,151.7 412.3,153.6 C413.2,155.5 413.1,158.1 414.0,160.0 C414.9,161.9 416.3,163.3 418.0,165.0 C419.7,166.7 422.3,168.2 424.0,170.0 C425.7,171.8 427.5,173.5 428.0,176.0 C428.5,178.5 427.3,181.8 427.0,185.0 C426.7,188.2 425.8,191.7 426.0,195.0 C426.2,198.3 427.2,202.2 428.0,205.0 C428.8,207.8 430.7,209.8 431.0,212.0 C431.3,214.2 430.5,216.0 430.0,218.0 C429.5,220.0 430.7,223.0 428.0,224.0 C425.3,225.0 416.8,224.8 414.0,224.0 C411.2,223.2 412.2,220.4 411.0,219.0 C409.8,217.6 408.7,216.6 407.0,215.5 C405.3,214.4 403.2,213.5 401.0,212.5 C398.8,211.5 396.5,210.4 394.0,209.5 C391.5,208.6 387.3,207.4 386.0,207.0 L370.0,206.0 L370.0,134.5 Z" fill="#009000"/>
<path d="M370.0,136.0 L383.0,137.6 C383.9,138.1 386.1,139.0 388.3,140.3 C390.5,141.6 394.2,144.5 396.3,145.6 C398.4,146.7 398.7,146.1 401.0,147.0 C403.3,147.9 408.3,149.3 410.1,151.2 C411.9,153.1 410.4,155.8 411.9,158.5 C413.4,161.2 417.0,164.8 419.1,167.5 C421.2,170.2 423.1,172.3 424.5,174.7 C425.9,177.1 426.9,179.2 427.2,181.9 C427.5,184.6 426.7,188.5 426.3,191.0 C425.9,193.5 425.3,195.6 425.0,197.0 C424.7,198.4 424.9,197.9 424.5,199.3 C424.1,200.7 423.8,203.8 422.7,205.2 C421.6,206.6 419.8,207.3 418.0,207.5 C416.2,207.7 415.1,207.0 412.2,206.4 C409.3,205.8 404.2,204.6 400.5,204.0 C396.8,203.4 392.9,203.2 390.0,202.8 C387.1,202.4 384.2,201.9 383.0,201.7 L370.0,201.5 L370.0,136.0 Z" fill="#ffff00"/>
<path d="M370.0,139.0 L383.0,140.4 C384.5,141.3 389.6,143.7 392.0,145.8 C394.4,147.9 395.6,150.3 397.4,153.0 C399.2,155.7 401.4,159.1 402.9,162.1 C404.4,165.1 405.6,168.1 406.5,171.1 C407.4,174.1 408.3,177.4 408.3,180.1 C408.3,182.8 407.7,185.2 406.5,187.3 C405.3,189.4 403.4,191.3 401.0,192.8 C398.6,194.3 395.0,195.7 392.0,196.4 C389.0,197.2 384.5,197.2 383.0,197.3 L370.0,197.5 L370.0,139.0 Z" fill="#e7c000"/>
<path d="M370.0,163.5 L383.0,163.9 C384.2,164.5 387.8,166.0 390.2,167.5 C392.6,169.0 395.9,171.1 397.4,172.9 C398.9,174.7 399.5,176.5 399.2,178.3 C398.9,180.1 397.4,182.2 395.6,183.7 C393.8,185.2 390.5,186.7 388.4,187.3 C386.3,187.9 383.9,187.3 383.0,187.3 L370.0,187.3 L370.0,163.5 Z" fill="#ff9000"/>
<path d="M522.6,191.8 C524.3,190.3 528.3,187.9 531.5,187.9 C534.7,187.9 538.8,189.9 541.8,191.8 C544.8,193.7 548.1,196.9 549.4,199.4 C550.7,201.9 550.7,205.2 549.4,207.1 C548.1,209.0 544.3,210.3 541.8,210.9 C539.2,211.5 536.7,212.0 534.1,210.9 C531.5,209.8 528.5,206.8 526.4,204.5 C524.3,202.2 521.9,199.0 521.3,196.9 C520.7,194.8 520.9,193.3 522.6,191.8 Z" fill="#00ecec" stroke="#00ecec" stroke-width="1.0" stroke-linejoin="round"/>
<path d="M527.7,193.0 C529.2,191.7 533.6,191.0 536.6,191.8 C539.6,192.7 543.9,195.8 545.6,198.1 C547.3,200.4 548.0,203.9 546.9,205.8 C545.8,207.7 541.6,209.4 539.2,209.6 C536.9,209.8 534.7,208.8 532.8,207.1 C530.9,205.4 528.6,201.8 527.7,199.4 C526.9,197.1 526.2,194.3 527.7,193.0 Z" fill="#01a0f6"/>
<circle cx="546.9" cy="164.4" r="1.4" fill="#00ecec"/>
<path d="M384.8,11.5 C385.4,13.0 387.0,17.9 388.5,20.7 C390.0,23.5 392.1,25.6 394.0,28.1 C395.9,30.6 397.8,33.0 399.6,35.5 C401.5,38.0 403.3,39.7 405.1,42.8 C406.9,45.9 408.8,49.9 410.6,53.9 C412.4,57.9 414.6,63.7 416.1,66.8 C417.6,69.9 418.5,70.1 419.8,72.3 C421.1,74.5 423.3,78.7 424.0,80.0" fill="none" stroke="#7a86ff" stroke-width="0.80" stroke-dasharray="1.6,1.4"/>
<path d="M394.0,39.0 C395.0,38.7 397.5,37.0 400.0,37.3 C402.5,37.5 406.6,39.0 409.0,40.5 C411.4,42.0 413.6,45.1 414.5,46.0" fill="none" stroke="#7a86ff" stroke-width="0.80" stroke-dasharray="1.6,1.4"/>
<ellipse cx="421.5" cy="38.0" rx="3.5" ry="3.0" fill="none" stroke="#7a86ff" stroke-width="0.80" stroke-dasharray="1.6,1.4"/>
<ellipse cx="432.0" cy="55.0" rx="3.0" ry="3.5" fill="none" stroke="#7a86ff" stroke-width="0.80" stroke-dasharray="1.6,1.4"/>
<ellipse cx="423.0" cy="83.0" rx="3.0" ry="3.5" fill="none" stroke="#7a86ff" stroke-width="0.80" stroke-dasharray="1.6,1.4"/>
<path d="M384.0,116.0 C385.0,117.0 388.0,120.7 390.0,122.0 C392.0,123.3 395.0,123.7 396.0,124.0" fill="none" stroke="#7a86ff" stroke-width="0.80" stroke-dasharray="1.6,1.4"/>
<path d="M383.0,26.3 C383.9,27.5 386.7,31.2 388.5,33.6 C390.3,36.1 391.9,38.5 394.0,41.0 C396.1,43.5 399.8,45.6 401.4,48.4 C402.9,51.2 402.7,53.9 403.3,57.6 C403.9,61.3 404.5,65.9 405.1,70.5 C405.7,75.1 406.3,81.0 406.9,85.2 C407.5,89.4 408.3,92.8 408.8,95.9 C409.3,99.0 409.1,101.3 410.0,104.0 C410.9,106.7 413.3,110.7 414.0,112.0" fill="none" stroke="#f08585" stroke-width="0.80"/>
<path d="M383.0,34.0 C383.7,35.0 385.5,38.0 387.0,40.0 C388.5,42.0 390.3,43.8 392.0,46.0 C393.7,48.2 395.8,50.3 397.0,53.0 C398.2,55.7 398.5,58.5 399.0,62.0 C399.5,65.5 399.5,70.0 400.0,74.0 C400.5,78.0 401.5,82.2 402.0,86.0 C402.5,89.8 402.8,95.2 403.0,97.0" fill="none" stroke="#f08585" stroke-width="0.80"/>
<path d="M432.7,6.7 C432.9,8.2 433.9,12.8 434.0,16.0 C434.1,19.2 432.8,22.7 433.0,26.0 C433.2,29.3 434.8,32.7 435.0,36.0 C435.2,39.3 433.8,42.7 434.0,46.0 C434.2,49.3 435.8,52.7 436.0,56.0 C436.2,59.3 434.8,62.7 435.0,66.0 C435.2,69.3 436.8,72.7 437.0,76.0 C437.2,79.3 435.8,82.7 436.0,86.0 C436.2,89.3 437.7,94.3 438.0,96.0" fill="none" stroke="#f08585" stroke-width="0.80"/>
<path d="M437.0,6.7 C437.3,8.2 438.8,12.8 439.0,16.0 C439.2,19.2 437.8,22.7 438.0,26.0 C438.2,29.3 439.8,32.7 440.0,36.0 C440.2,39.3 438.8,42.7 439.0,46.0 C439.2,49.3 440.8,52.7 441.0,56.0 C441.2,59.3 439.8,62.7 440.0,66.0 C440.2,69.3 441.8,72.7 442.0,76.0 C442.2,79.3 441.2,84.3 441.0,86.0" fill="none" stroke="#f08585" stroke-width="0.80"/>
<path d="M441.0,6.7 C441.3,7.9 442.8,11.1 443.0,14.0 C443.2,16.9 441.8,20.7 442.0,24.0 C442.2,27.3 443.7,32.3 444.0,34.0" fill="none" stroke="#f08585" stroke-width="0.80"/>
<path d="M422.6,17.0 C424.1,15.8 429.3,16.2 431.0,17.5 C432.7,18.8 432.7,22.3 432.7,25.0 C432.7,27.7 432.6,32.3 431.0,33.6 C429.4,34.9 424.5,34.4 423.0,33.0 C421.5,31.6 422.1,27.7 422.0,25.0 C421.9,22.3 421.1,18.2 422.6,17.0 Z" fill="none" stroke="#f08585" stroke-width="0.80"/>
<ellipse cx="430.0" cy="42.0" rx="4.6" ry="6.0" fill="none" stroke="#f08585" stroke-width="0.80"/>
<ellipse cx="430.0" cy="42.0" rx="2.6" ry="3.6" fill="none" stroke="#f08585" stroke-width="0.80"/>
<ellipse cx="430.0" cy="42.0" rx="1.0" ry="1.5" fill="none" stroke="#f08585" stroke-width="0.80"/>
<path d="M420.0,56.0 C420.8,54.3 424.0,52.2 426.0,52.0 C428.0,51.8 430.2,53.3 432.0,55.0 C433.8,56.7 436.0,59.5 437.0,62.0 C438.0,64.5 438.8,68.7 438.0,70.0 C437.2,71.3 434.0,71.0 432.0,70.0 C430.0,69.0 427.8,65.3 426.0,64.0 C424.2,62.7 422.0,63.3 421.0,62.0 C420.0,60.7 419.2,57.7 420.0,56.0 Z" fill="none" stroke="#f08585" stroke-width="0.80"/>
<path d="M423.0,58.0 C423.7,57.0 426.3,55.7 428.0,56.0 C429.7,56.3 432.0,58.3 433.0,60.0 C434.0,61.7 434.7,65.2 434.0,66.0 C433.3,66.8 430.7,65.7 429.0,65.0 C427.3,64.3 425.0,63.2 424.0,62.0 C423.0,60.8 422.3,59.0 423.0,58.0 Z" fill="none" stroke="#f08585" stroke-width="0.80"/>
<path d="M384.0,100.0 C385.3,101.0 389.3,105.3 392.0,106.0 C394.7,106.7 397.0,103.7 400.0,104.0 C403.0,104.3 407.0,106.0 410.0,108.0 C413.0,110.0 416.3,113.0 418.0,116.0 C419.7,119.0 420.3,123.3 420.0,126.0 C419.7,128.7 416.7,131.0 416.0,132.0" fill="none" stroke="#f08585" stroke-width="0.80"/>
<path d="M390.0,112.0 C391.3,112.7 395.3,115.3 398.0,116.0 C400.7,116.7 403.7,115.0 406.0,116.0 C408.3,117.0 411.0,121.0 412.0,122.0" fill="none" stroke="#f08585" stroke-width="0.80"/>
<path d="M455.0,64.0 C455.5,65.7 458.2,70.3 458.0,74.0 C457.8,77.7 455.0,82.3 454.0,86.0 C453.0,89.7 452.3,94.3 452.0,96.0" fill="none" stroke="#f08585" stroke-width="0.80"/>
<path d="M462.0,96.0 C461.3,98.0 459.0,104.3 458.0,108.0 C457.0,111.7 456.0,114.7 456.0,118.0 C456.0,121.3 457.0,124.7 458.0,128.0 C459.0,131.3 460.3,134.7 462.0,138.0 C463.7,141.3 465.7,145.0 468.0,148.0 C470.3,151.0 473.3,154.0 476.0,156.0 C478.7,158.0 482.7,159.3 484.0,160.0" fill="none" stroke="#f08585" stroke-width="0.80"/>
<path d="M494.0,84.0 C494.7,86.0 497.0,91.7 498.0,96.0 C499.0,100.3 499.0,105.7 500.0,110.0 C501.0,114.3 502.7,118.0 504.0,122.0 C505.3,126.0 507.3,132.0 508.0,134.0" fill="none" stroke="#f08585" stroke-width="0.80"/>
<path d="M500.0,80.0 C500.7,82.0 502.7,88.0 504.0,92.0 C505.3,96.0 506.7,101.0 508.0,104.0 C509.3,107.0 511.3,109.0 512.0,110.0" fill="none" stroke="#f08585" stroke-width="0.80"/>
<path d="M458.0,140.0 C459.3,141.0 463.0,144.3 466.0,146.0 C469.0,147.7 472.3,149.0 476.0,150.0 C479.7,151.0 484.3,150.7 488.0,152.0 C491.7,153.3 495.3,155.3 498.0,158.0 C500.7,160.7 502.3,164.3 504.0,168.0 C505.7,171.7 507.7,176.0 508.0,180.0 C508.3,184.0 506.3,190.0 506.0,192.0" fill="none" stroke="#f08585" stroke-width="0.80"/>
<path d="M462.0,160.0 C463.3,160.7 467.3,162.7 470.0,164.0 C472.7,165.3 474.7,167.0 478.0,168.0 C481.3,169.0 486.7,168.7 490.0,170.0 C493.3,171.3 496.3,173.3 498.0,176.0 C499.7,178.7 499.7,184.3 500.0,186.0" fill="none" stroke="#f08585" stroke-width="0.80"/>
<path d="M456.0,190.0 C457.3,191.0 461.3,194.0 464.0,196.0 C466.7,198.0 469.0,200.3 472.0,202.0 C475.0,203.7 478.3,205.0 482.0,206.0 C485.7,207.0 489.7,207.0 494.0,208.0 C498.3,209.0 503.7,210.0 508.0,212.0 C512.3,214.0 518.0,218.7 520.0,220.0" fill="none" stroke="#f08585" stroke-width="0.80"/>
<path d="M452.0,200.0 C453.3,201.3 457.0,205.7 460.0,208.0 C463.0,210.3 466.7,212.3 470.0,214.0 C473.3,215.7 476.3,216.7 480.0,218.0 C483.7,219.3 490.0,221.3 492.0,222.0" fill="none" stroke="#f08585" stroke-width="0.80"/>
<path d="M466.0,184.0 C466.7,182.0 471.3,181.0 474.0,180.0 C476.7,179.0 479.3,177.7 482.0,178.0 C484.7,178.3 488.0,180.0 490.0,182.0 C492.0,184.0 494.3,187.7 494.0,190.0 C493.7,192.3 490.7,195.0 488.0,196.0 C485.3,197.0 481.0,196.7 478.0,196.0 C475.0,195.3 472.0,194.0 470.0,192.0 C468.0,190.0 465.3,186.0 466.0,184.0 Z" fill="none" stroke="#f08585" stroke-width="0.80"/>
<path d="M472.0,184.0 C472.7,182.5 477.5,181.7 480.0,182.0 C482.5,182.3 486.3,184.5 487.0,186.0 C487.7,187.5 485.8,190.2 484.0,191.0 C482.2,191.8 478.0,192.2 476.0,191.0 C474.0,189.8 471.3,185.5 472.0,184.0 Z" fill="none" stroke="#f08585" stroke-width="0.80"/>
<path d="M446.0,36.0 C445.8,37.7 444.8,42.7 445.0,46.0 C445.2,49.3 446.8,52.7 447.0,56.0 C447.2,59.3 445.8,62.7 446.0,66.0 C446.2,69.3 447.8,72.7 448.0,76.0 C448.2,79.3 446.8,82.7 447.0,86.0 C447.2,89.3 448.7,94.3 449.0,96.0" fill="none" stroke="#f08585" stroke-width="0.80"/>
<path d="M410.0,58.0 C410.8,58.7 413.7,60.0 415.0,62.0 C416.3,64.0 417.8,67.3 418.0,70.0 C418.2,72.7 417.0,75.7 416.0,78.0 C415.0,80.3 413.0,81.7 412.0,84.0 C411.0,86.3 410.3,90.7 410.0,92.0" fill="none" stroke="#f08585" stroke-width="0.80"/>
<path d="M414.0,56.0 C415.0,56.7 418.5,58.0 420.0,60.0 C421.5,62.0 422.8,65.3 423.0,68.0 C423.2,70.7 422.2,73.3 421.0,76.0 C419.8,78.7 416.8,82.7 416.0,84.0" fill="none" stroke="#f08585" stroke-width="0.80"/>
<path d="M497.5,60.0 C497.8,61.3 498.6,65.3 499.0,68.0 C499.4,70.7 499.6,73.3 500.0,76.0 C500.4,78.7 501.2,82.7 501.5,84.0" fill="none" stroke="#f08585" stroke-width="0.80"/>
<path d="M492.0,86.0 C493.0,84.8 494.8,83.9 496.0,84.6 C497.2,85.3 498.8,87.8 499.5,90.0 C500.2,92.2 500.6,95.3 500.5,98.0 C500.4,100.7 499.9,104.5 499.0,106.0 C498.1,107.5 496.3,108.0 495.0,107.0 C493.7,106.0 491.8,102.5 491.0,100.0 C490.2,97.5 489.8,94.3 490.0,92.0 C490.2,89.7 491.0,87.2 492.0,86.0 Z" fill="none" stroke="#f08585" stroke-width="0.80"/>
<ellipse cx="483.5" cy="121.0" rx="1.5" ry="4.0" fill="none" stroke="#f08585" stroke-width="0.80"/>
<path d="M480.0,142.0 C481.3,141.7 485.7,139.7 488.0,140.0 C490.3,140.3 492.3,142.3 494.0,144.0 C495.7,145.7 497.7,148.0 498.0,150.0 C498.3,152.0 497.3,154.7 496.0,156.0 C494.7,157.3 492.0,158.0 490.0,158.0 C488.0,158.0 485.0,156.3 484.0,156.0" fill="none" stroke="#f08585" stroke-width="0.80"/>
<path d="M480.0,150.0 C481.0,150.0 484.3,149.3 486.0,150.0 C487.7,150.7 489.3,153.3 490.0,154.0" fill="none" stroke="#f08585" stroke-width="0.80"/>
<path d="M462.0,92.0 C462.7,93.3 465.7,97.3 466.0,100.0 C466.3,102.7 465.0,105.3 464.0,108.0 C463.0,110.7 461.0,113.3 460.0,116.0 C459.0,118.7 458.0,121.0 458.0,124.0 C458.0,127.0 459.7,132.3 460.0,134.0" fill="none" stroke="#f08585" stroke-width="0.80"/>
<path d="M452.0,98.0 C452.7,99.7 456.0,104.7 456.0,108.0 C456.0,111.3 453.0,114.7 452.0,118.0 C451.0,121.3 450.3,126.3 450.0,128.0" fill="none" stroke="#f08585" stroke-width="0.80"/>
<path d="M436.0,112.0 C436.7,113.0 439.7,115.7 440.0,118.0 C440.3,120.3 437.7,123.3 438.0,126.0 C438.3,128.7 440.7,131.7 442.0,134.0 C443.3,136.3 445.3,139.0 446.0,140.0" fill="none" stroke="#f08585" stroke-width="0.80"/>
<path d="M470.0,118.0 C470.7,119.3 473.7,123.3 474.0,126.0 C474.3,128.7 471.7,131.3 472.0,134.0 C472.3,136.7 474.7,139.7 476.0,142.0 C477.3,144.3 479.3,147.0 480.0,148.0" fill="none" stroke="#f08585" stroke-width="0.80"/>
<path d="M505.0,160.0 C506.2,161.0 509.8,164.0 512.0,166.0 C514.2,168.0 516.3,169.7 518.0,172.0 C519.7,174.3 520.3,177.7 522.0,180.0 C523.7,182.3 527.0,185.0 528.0,186.0" fill="none" stroke="#f08585" stroke-width="0.80"/>
<path d="M442.0,150.0 C443.0,151.0 446.3,153.7 448.0,156.0 C449.7,158.3 450.7,161.7 452.0,164.0 C453.3,166.3 455.3,169.0 456.0,170.0" fill="none" stroke="#f08585" stroke-width="0.80"/>
<path d="M430.0,200.0 C431.0,200.7 434.0,202.3 436.0,204.0 C438.0,205.7 440.3,208.0 442.0,210.0 C443.7,212.0 445.0,214.0 446.0,216.0 C447.0,218.0 447.7,221.0 448.0,222.0" fill="none" stroke="#f08585" stroke-width="0.80"/>
<path d="M384.0,210.0 C385.0,210.7 388.0,212.7 390.0,214.0 C392.0,215.3 394.3,216.7 396.0,218.0 C397.7,219.3 399.3,221.3 400.0,222.0" fill="none" stroke="#f08585" stroke-width="0.80"/>
<path d="M386.0,200.0 C387.3,200.7 391.3,202.7 394.0,204.0 C396.7,205.3 400.7,207.3 402.0,208.0" fill="none" stroke="#f08585" stroke-width="0.80"/>
<path d="M562.0,172.0 C563.3,170.7 567.3,170.0 570.0,170.0 C572.7,170.0 576.3,170.7 578.0,172.0 C579.7,173.3 580.7,176.7 580.0,178.0 C579.3,179.3 576.0,180.0 574.0,180.0 C572.0,180.0 569.7,177.7 568.0,178.0 C566.3,178.3 565.0,182.0 564.0,182.0 C563.0,182.0 562.3,179.7 562.0,178.0 C561.7,176.3 560.7,173.3 562.0,172.0 Z" fill="none" stroke="#f08585" stroke-width="0.80"/>
<path d="M566.0,175.0 C567.0,174.8 570.3,173.8 572.0,174.0 C573.7,174.2 575.3,175.7 576.0,176.0" fill="none" stroke="#f08585" stroke-width="0.80"/>
<path d="M536.0,180.0 C536.7,181.0 538.7,184.3 540.0,186.0 C541.3,187.7 543.3,189.3 544.0,190.0" fill="none" stroke="#f08585" stroke-width="0.80"/>
<path d="M540.0,205.0 C541.0,205.8 544.0,208.8 546.0,210.0 C548.0,211.2 551.0,211.7 552.0,212.0" fill="none" stroke="#f08585" stroke-width="0.80"/>
<path d="M600.0,214.0 C601.7,213.7 606.7,212.7 610.0,212.0 C613.3,211.3 617.0,211.0 620.0,210.0 C623.0,209.0 625.8,207.7 628.0,206.0 C630.2,204.3 632.2,201.0 633.0,200.0" fill="none" stroke="#f08585" stroke-width="0.80"/>
<path d="M570.0,220.0 C571.0,219.0 573.7,215.3 576.0,214.0 C578.3,212.7 581.7,211.7 584.0,212.0 C586.3,212.3 589.0,215.3 590.0,216.0" fill="none" stroke="#7a86ff" stroke-width="0.80" stroke-dasharray="1.6,1.4"/>
<path d="M548.0,196.0 C548.5,197.0 550.8,200.0 551.0,202.0 C551.2,204.0 549.3,207.0 549.0,208.0" fill="none" stroke="#7a86ff" stroke-width="0.80" stroke-dasharray="1.6,1.4"/>
<path d="M476.0,195.0 C475.2,195.8 471.7,198.2 471.0,200.0 C470.3,201.8 470.8,204.7 472.0,206.0 C473.2,207.3 475.8,208.0 478.0,208.0 C480.2,208.0 483.5,205.3 485.0,206.0 C486.5,206.7 487.5,210.0 487.0,212.0 C486.5,214.0 483.8,216.3 482.0,218.0 C480.2,219.7 477.0,221.3 476.0,222.0" fill="none" stroke="#a035d0" stroke-width="1.00"/>
<path d="M503.0,197.0 C502.2,198.2 499.8,201.8 498.0,204.0 C496.2,206.2 493.7,208.0 492.0,210.0 C490.3,212.0 489.0,214.0 488.0,216.0 C487.0,218.0 486.3,221.0 486.0,222.0" fill="none" stroke="#a035d0" stroke-width="1.00"/>
<path d="M520.0,204.0 C519.3,205.3 516.0,209.7 516.0,212.0 C516.0,214.3 518.3,216.3 520.0,218.0 C521.7,219.7 525.0,221.3 526.0,222.0" fill="none" stroke="#a035d0" stroke-width="1.00"/>
<path d="M540.0,198.0 C539.7,199.3 539.0,203.7 538.0,206.0 C537.0,208.3 535.3,209.3 534.0,212.0 C532.7,214.7 530.7,220.3 530.0,222.0" fill="none" stroke="#a035d0" stroke-width="1.00"/>
<path d="M588.0,222.0 C588.7,220.7 590.3,216.0 592.0,214.0 C593.7,212.0 596.0,211.3 598.0,210.0 C600.0,208.7 602.3,208.0 604.0,206.0 C605.7,204.0 606.7,199.0 608.0,198.0 C609.3,197.0 611.3,199.7 612.0,200.0" fill="none" stroke="#a035d0" stroke-width="1.00"/>
<path d="M616.0,222.0 C616.7,220.7 618.3,215.7 620.0,214.0 C621.7,212.3 624.3,213.0 626.0,212.0 C627.7,211.0 629.3,208.7 630.0,208.0" fill="none" stroke="#a035d0" stroke-width="1.00"/>
<text x="493.5" y="203.2" font-size="8.6" fill="#a035d0" text-anchor="start" textLength="27.0" lengthAdjust="spacingAndGlyphs">1014.4</text>
<text x="590.5" y="218.5" font-size="8.6" fill="#a035d0" text-anchor="start" textLength="27.0" lengthAdjust="spacingAndGlyphs">1014.4</text>
<path d="M391.9,142.8L378.4,134.1M396.1,142.7L382.7,134.0M400.3,142.2L386.9,133.5M394.2,147.5L380.8,138.7M398.2,147.3L384.8,138.6M403.0,147.3L389.6,138.6M406.9,146.8L393.5,138.0M411.5,147.7L398.1,139.0M392.4,151.2L378.9,142.4M395.8,151.9L382.4,143.2M401.0,151.5L387.6,142.8M405.5,151.0L392.1,142.3M409.2,151.3L395.8,142.6M413.8,151.2L400.4,142.4M417.8,151.4L404.4,142.6M423.2,152.1L409.8,143.4M389.8,155.7L376.3,147.0M394.4,155.4L381.0,146.7M398.7,156.5L385.3,147.8M402.3,156.1L388.9,147.4M407.5,156.4L394.1,147.7M411.8,155.7L398.4,147.0M416.0,156.5L402.6,147.8M421.0,155.5L407.6,146.8M424.4,155.5L411.0,146.8M428.7,155.9L415.3,147.2M392.0,159.8L378.6,151.1M396.6,160.8L383.1,152.1M401.0,160.7L387.6,152.0M404.5,160.3L391.1,151.6M409.0,160.7L395.6,152.0M413.5,160.6L400.1,151.9M418.0,160.6L404.6,151.9M422.5,159.8L409.1,151.1M427.0,160.1L413.6,151.4M432.0,160.1L418.6,151.4M394.7,164.6L381.3,155.9M398.3,165.3L384.9,156.6M402.4,164.2L389.0,155.5M406.8,165.1L393.4,156.4M412.0,164.7L398.6,156.0M416.3,164.2L402.8,155.5M420.7,164.7L407.3,156.0M424.9,164.6L411.5,155.9M429.2,164.4L415.8,155.7M433.2,164.7L419.7,156.0M437.8,165.0L424.4,156.3M391.4,169.1L378.0,160.4M396.3,169.4L382.9,160.7M401.2,169.5L387.8,160.8M405.3,169.5L391.8,160.8M409.7,169.6L396.3,160.9M414.1,169.4L400.7,160.7M418.0,169.7L404.6,160.9M422.6,169.3L409.2,160.6M427.5,169.7L414.1,161.0M432.1,168.6L418.7,159.9M435.7,168.9L422.3,160.2M440.2,168.7L426.8,160.0M390.0,173.2L376.5,164.5M393.9,173.7L380.5,165.0M398.7,173.3L385.3,164.6M403.5,173.3L390.0,164.6M407.0,174.0L393.6,165.3M411.3,173.8L397.9,165.1M415.7,173.7L402.3,165.0M420.2,173.4L406.8,164.7M425.4,173.5L412.0,164.8M429.2,173.7L415.8,165.0M433.4,173.2L420.0,164.5M438.0,173.3L424.6,164.6M442.1,174.1L428.7,165.4M446.4,173.9L432.9,165.2M391.4,178.1L377.9,169.4M396.5,177.6L383.1,168.9M400.1,178.0L386.7,169.3M404.6,177.7L391.2,169.0M409.5,178.4L396.0,169.7M413.8,177.5L400.3,168.8M418.7,178.3L405.2,169.6M422.7,177.4L409.3,168.7M426.7,177.8L413.3,169.1M431.6,177.6L418.2,168.9M436.3,178.4L422.9,169.7M440.8,178.4L427.4,169.7M444.1,178.1L430.7,169.3M448.6,178.4L435.2,169.7M390.1,182.5L376.7,173.8M394.3,182.3L380.8,173.6M398.9,182.2L385.5,173.4M402.6,182.2L389.2,173.5M407.1,182.5L393.6,173.8M412.2,181.8L398.8,173.1M415.6,182.4L402.2,173.7M420.7,182.0L407.3,173.3M424.6,181.8L411.2,173.1M428.8,182.4L415.3,173.6M433.9,182.5L420.5,173.8M437.7,181.9L424.3,173.2M443.0,182.4L429.6,173.7M446.8,182.6L433.4,173.9M451.6,182.4L438.2,173.7M391.6,186.2L378.1,177.5M396.1,186.8L382.7,178.1M400.9,186.4L387.4,177.7M405.4,186.7L391.9,178.0M409.1,187.2L395.7,178.5M414.3,187.2L400.9,178.5M418.5,186.4L405.1,177.7M423.0,187.2L409.6,178.5M427.1,187.2L413.7,178.5M432.1,186.6L418.7,177.9M436.4,187.3L423.0,178.6M440.7,186.2L427.2,177.5M444.5,186.9L431.1,178.2M449.2,187.1L435.8,178.3M453.7,186.4L440.3,177.6M390.2,190.8L376.7,182.1M394.7,191.2L381.3,182.5M398.8,191.4L385.4,182.7M403.4,191.0L389.9,182.3M406.8,191.0L393.4,182.3M411.3,191.2L397.9,182.5M416.5,191.0L403.1,182.3M420.1,190.6L406.6,181.9M424.8,191.3L411.4,182.5M428.7,191.4L415.3,182.6M433.4,190.7L419.9,182.0M438.6,191.2L425.2,182.5M443.0,191.2L429.6,182.5M446.5,190.8L433.0,182.1M451.2,191.3L437.8,182.6M456.0,191.5L442.6,182.7M392.1,195.3L378.7,186.5M396.2,195.4L382.8,186.7M400.7,195.3L387.3,186.6M405.2,195.5L391.7,186.8M409.0,195.9L395.5,187.2M414.0,195.9L400.6,187.2M418.6,195.8L405.2,187.1M423.3,195.4L409.9,186.7M427.0,195.0L413.6,186.2M431.7,195.7L418.3,186.9M436.0,196.2L422.6,187.4M439.9,195.2L426.5,186.5M445.0,195.9L431.6,187.2M449.1,195.0L435.7,186.3M453.4,195.9L439.9,187.2M457.9,195.5L444.5,186.8M394.2,200.2L380.8,191.5M398.9,200.3L385.5,191.5M402.8,199.7L389.3,190.9M407.6,200.3L394.2,191.6M412.2,199.6L398.8,190.9M416.5,200.4L403.1,191.7M420.0,199.7L406.6,191.0M425.1,199.5L411.7,190.8M429.7,199.7L416.3,191.0M433.9,199.7L420.5,191.0M437.8,199.6L424.4,190.9M442.5,200.2L429.1,191.5M446.6,200.2L433.2,191.5M451.1,200.1L437.7,191.4M455.6,199.6L442.1,190.9M391.5,203.8L378.1,195.1M396.5,204.3L383.1,195.5M400.3,204.8L386.8,196.1M405.3,203.8L391.9,195.1M409.8,204.5L396.4,195.8M413.8,204.4L400.4,195.6M418.9,204.2L405.4,195.5M422.9,204.5L409.5,195.8M426.9,204.2L413.5,195.5M431.8,204.5L418.4,195.8M435.9,204.4L422.4,195.7M440.0,204.7L426.6,196.0M444.1,204.5L430.7,195.8M449.1,204.0L435.6,195.3M453.6,204.5L440.2,195.7M457.4,204.3L444.0,195.6M393.9,208.6L380.5,199.8M398.2,208.2L384.7,199.5M402.5,208.3L389.1,199.6M407.5,209.2L394.0,200.5M411.4,208.3L398.0,199.6M416.2,208.3L402.7,199.6M420.4,209.1L407.0,200.4M424.6,209.0L411.1,200.3M429.4,208.3L415.9,199.5M433.4,208.9L420.0,200.2M437.6,208.4L424.2,199.7M442.6,209.1L429.2,200.4M446.9,209.0L433.5,200.2M450.7,208.5L437.3,199.8M455.5,209.3L442.1,200.5M401.2,213.5L387.8,204.8M405.2,212.8L391.8,204.1M410.0,212.7L396.6,203.9M414.5,213.5L401.0,204.8M418.6,213.2L405.2,204.5M422.3,213.0L408.9,204.3M427.3,213.3L413.9,204.6M431.4,213.5L418.0,204.8M435.4,212.9L422.0,204.2M439.8,212.9L426.4,204.2M445.1,213.5L431.6,204.7M448.7,212.9L435.3,204.2M453.0,213.4L439.6,204.6M457.8,212.8L444.4,204.1M411.5,217.4L398.1,208.6M415.7,218.1L402.3,209.3M420.4,217.2L407.0,208.5M424.3,217.2L410.9,208.5M429.8,217.4L416.3,208.6M433.9,217.2L420.5,208.5M438.3,217.5L424.9,208.8M442.8,217.6L429.4,208.9M446.8,217.3L433.3,208.6M451.4,218.0L438.0,209.2M455.9,217.5L442.5,208.8M414.5,221.8L401.1,213.0M418.2,222.5L404.7,213.8M422.3,221.8L408.9,213.1M427.3,221.7L413.8,213.0M431.2,222.3L417.8,213.6M436.0,222.2L422.6,213.5M440.7,222.4L427.2,213.7M445.2,222.3L431.8,213.6M449.7,222.0L436.3,213.2M453.8,222.0L440.3,213.3" fill="none" stroke="#111" stroke-width="0.50"/>
<path d="M379.2,135.6L378.4,134.1L380.1,134.2M383.5,135.5L382.7,134.0L384.3,134.1M387.7,134.9L386.9,133.5L388.6,133.6M381.5,140.2L380.8,138.7L382.4,138.9M385.5,140.0L384.8,138.6L386.4,138.7M390.3,140.0L389.6,138.6L391.2,138.7M394.3,139.5L393.5,138.0L395.2,138.2M398.9,140.4L398.1,139.0L399.8,139.1M379.7,143.9L378.9,142.4L380.6,142.6M383.1,144.7L382.4,143.2L384.0,143.3M388.4,144.3L387.6,142.8L389.3,142.9M392.9,143.8L392.1,142.3L393.7,142.4M396.6,144.0L395.8,142.6L397.4,142.7M401.2,143.9L400.4,142.4L402.0,142.6M405.1,144.1L404.4,142.6L406.0,142.8M410.5,144.9L409.8,143.4L411.4,143.5M377.1,148.4L376.3,147.0L378.0,147.1M381.8,148.1L381.0,146.7L382.7,146.8M386.1,149.2L385.3,147.8L387.0,147.9M389.7,148.8L388.9,147.4L390.6,147.5M394.8,149.1L394.1,147.7L395.7,147.8M399.2,148.4L398.4,147.0L400.0,147.1M403.3,149.2L402.6,147.8L404.2,147.9M408.3,148.3L407.6,146.8L409.2,146.9M411.8,148.2L411.0,146.8L412.6,146.9M416.1,148.6L415.3,147.2L417.0,147.3M379.3,152.6L378.6,151.1L380.2,151.2M383.9,153.5L383.1,152.1L384.8,152.2M388.4,153.4L387.6,152.0L389.3,152.1M391.9,153.1L391.1,151.6L392.7,151.7M396.3,153.4L395.6,152.0L397.2,152.1M400.9,153.4L400.1,151.9L401.7,152.0M405.4,153.3L404.6,151.9L406.2,152.0M409.8,152.5L409.1,151.1L410.7,151.2M414.3,152.9L413.6,151.4L415.2,151.5M419.3,152.9L418.6,151.4L420.2,151.5M382.0,157.3L381.3,155.9L382.9,156.0M385.6,158.1L384.9,156.6L386.5,156.7M389.8,157.0L389.0,155.5L390.7,155.6M394.2,157.9L393.4,156.4L395.0,156.5M399.4,157.4L398.6,156.0L400.2,156.1M403.6,156.9L402.8,155.5L404.5,155.6M408.0,157.4L407.3,156.0L408.9,156.1M412.3,157.4L411.5,155.9L413.2,156.0M416.5,157.2L415.8,155.7L417.4,155.8M420.5,157.4L419.7,156.0L421.4,156.1M425.2,157.7L424.4,156.3L426.0,156.4M378.8,161.9L378.0,160.4L379.6,160.5M383.7,162.2L382.9,160.7L384.5,160.8M388.5,162.2L387.8,160.8L389.4,160.9M392.6,162.2L391.8,160.8L393.5,160.9M397.1,162.3L396.3,160.9L397.9,161.0M401.5,162.1L400.7,160.7L402.4,160.8M405.4,162.4L404.6,160.9L406.2,161.1M409.9,162.0L409.2,160.6L410.8,160.7M414.9,162.5L414.1,161.0L415.7,161.1M419.4,161.3L418.7,159.9L420.3,160.0M423.0,161.7L422.3,160.2L423.9,160.3M427.5,161.5L426.8,160.0L428.4,160.1M377.3,165.9L376.5,164.5L378.2,164.6M381.3,166.5L380.5,165.0L382.1,165.1M386.1,166.0L385.3,164.6L387.0,164.7M390.8,166.1L390.0,164.6L391.7,164.7M394.4,166.7L393.6,165.3L395.2,165.4M398.6,166.5L397.9,165.1L399.5,165.2M403.1,166.4L402.3,165.0L404.0,165.1M407.6,166.2L406.8,164.7L408.5,164.8M412.8,166.3L412.0,164.8L413.7,164.9M416.6,166.4L415.8,165.0L417.5,165.1M420.8,165.9L420.0,164.5L421.7,164.6M425.3,166.0L424.6,164.6L426.2,164.7M429.5,166.9L428.7,165.4L430.4,165.5M433.7,166.7L432.9,165.2L434.6,165.3M378.7,170.8L377.9,169.4L379.6,169.5M383.9,170.4L383.1,168.9L384.8,169.0M387.5,170.8L386.7,169.3L388.3,169.4M392.0,170.5L391.2,169.0L392.8,169.1M396.8,171.2L396.0,169.7L397.7,169.8M401.1,170.3L400.3,168.8L402.0,168.9M406.0,171.1L405.2,169.6L406.9,169.7M410.1,170.2L409.3,168.7L411.0,168.8M414.1,170.6L413.3,169.1L415.0,169.2M418.9,170.4L418.2,168.9L419.8,169.0M423.6,171.1L422.9,169.7L424.5,169.8M428.2,171.2L427.4,169.7L429.0,169.8M431.5,170.8L430.7,169.3L432.4,169.5M436.0,171.2L435.2,169.7L436.8,169.8M377.4,175.2L376.7,173.8L378.3,173.9M381.6,175.1L380.8,173.6L382.5,173.7M386.2,174.9L385.5,173.4L387.1,173.6M390.0,174.9L389.2,173.5L390.9,173.6M394.4,175.3L393.6,173.8L395.3,173.9M399.5,174.6L398.8,173.1L400.4,173.2M402.9,175.1L402.2,173.7L403.8,173.8M408.1,174.7L407.3,173.3L408.9,173.4M412.0,174.6L411.2,173.1L412.9,173.2M416.1,175.1L415.3,173.6L417.0,173.8M421.3,175.3L420.5,173.8L422.2,173.9M425.1,174.6L424.3,173.2L425.9,173.3M430.4,175.1L429.6,173.7L431.3,173.8M434.2,175.3L433.4,173.9L435.0,174.0M438.9,175.1L438.2,173.7L439.8,173.8M378.9,178.9L378.1,177.5L379.8,177.6M383.5,179.5L382.7,178.1L384.4,178.2M388.2,179.1L387.4,177.7L389.1,177.8M392.7,179.5L391.9,178.0L393.6,178.1M396.5,179.9L395.7,178.5L397.3,178.6M401.6,180.0L400.9,178.5L402.5,178.6M405.9,179.2L405.1,177.7L406.7,177.8M410.4,180.0L409.6,178.5L411.3,178.6M414.5,180.0L413.7,178.5L415.4,178.6M419.4,179.4L418.7,177.9L420.3,178.0M423.8,180.0L423.0,178.6L424.7,178.7M428.0,178.9L427.2,177.5L428.9,177.6M431.9,179.6L431.1,178.2L432.8,178.3M436.6,179.8L435.8,178.3L437.5,178.5M441.0,179.1L440.3,177.6L441.9,177.8M377.5,183.5L376.7,182.1L378.4,182.2M382.1,184.0L381.3,182.5L382.9,182.6M386.2,184.2L385.4,182.7L387.1,182.8M390.7,183.7L389.9,182.3L391.6,182.4M394.2,183.8L393.4,182.3L395.0,182.4M398.7,183.9L397.9,182.5L399.5,182.6M403.8,183.7L403.1,182.3L404.7,182.4M407.4,183.3L406.6,181.9L408.3,182.0M412.2,184.0L411.4,182.5L413.0,182.7M416.1,184.1L415.3,182.6L417.0,182.8M420.7,183.4L419.9,182.0L421.6,182.1M426.0,183.9L425.2,182.5L426.8,182.6M430.3,183.9L429.6,182.5L431.2,182.6M433.8,183.6L433.0,182.1L434.7,182.2M438.6,184.1L437.8,182.6L439.4,182.7M443.4,184.2L442.6,182.7L444.3,182.9M379.4,188.0L378.7,186.5L380.3,186.7M383.6,188.2L382.8,186.7L384.5,186.8M388.1,188.0L387.3,186.6L388.9,186.7M392.5,188.2L391.7,186.8L393.4,186.9M396.3,188.7L395.5,187.2L397.2,187.3M401.4,188.7L400.6,187.2L402.2,187.3M405.9,188.6L405.2,187.1L406.8,187.2M410.7,188.2L409.9,186.7L411.5,186.8M414.3,187.7L413.6,186.2L415.2,186.4M419.1,188.4L418.3,186.9L419.9,187.1M423.4,188.9L422.6,187.4L424.2,187.6M427.3,188.0L426.5,186.5L428.2,186.6M432.3,188.7L431.6,187.2L433.2,187.3M436.4,187.8L435.7,186.3L437.3,186.4M440.7,188.7L439.9,187.2L441.6,187.3M445.3,188.3L444.5,186.8L446.1,186.9M381.6,192.9L380.8,191.5L382.5,191.6M386.3,193.0L385.5,191.5L387.2,191.7M390.1,192.4L389.3,190.9L391.0,191.1M395.0,193.0L394.2,191.6L395.9,191.7M399.6,192.3L398.8,190.9L400.4,191.0M403.9,193.2L403.1,191.7L404.8,191.8M407.4,192.5L406.6,191.0L408.2,191.1M412.4,192.3L411.7,190.8L413.3,190.9M417.1,192.4L416.3,191.0L417.9,191.1M421.3,192.5L420.5,191.0L422.2,191.1M425.1,192.3L424.4,190.9L426.0,191.0M429.9,193.0L429.1,191.5L430.7,191.6M433.9,192.9L433.2,191.5L434.8,191.6M438.5,192.9L437.7,191.4L439.3,191.5M442.9,192.3L442.1,190.9L443.8,191.0M378.8,196.6L378.1,195.1L379.7,195.2M383.9,197.0L383.1,195.5L384.8,195.7M387.6,197.6L386.8,196.1L388.5,196.2M392.6,196.5L391.9,195.1L393.5,195.2M397.1,197.2L396.4,195.8L398.0,195.9M401.2,197.1L400.4,195.6L402.1,195.8M406.2,196.9L405.4,195.5L407.1,195.6M410.2,197.3L409.5,195.8L411.1,195.9M414.3,196.9L413.5,195.5L415.2,195.6M419.2,197.3L418.4,195.8L420.0,195.9M423.2,197.1L422.4,195.7L424.1,195.8M427.3,197.4L426.6,196.0L428.2,196.1M431.5,197.3L430.7,195.8L432.4,195.9M436.4,196.8L435.6,195.3L437.3,195.4M441.0,197.2L440.2,195.7L441.8,195.9M444.8,197.1L444.0,195.6L445.6,195.7M381.3,201.3L380.5,199.8L382.1,200.0M385.5,201.0L384.7,199.5L386.4,199.6M389.9,201.1L389.1,199.6L390.8,199.7M394.8,201.9L394.0,200.5L395.7,200.6M398.7,201.0L398.0,199.6L399.6,199.7M403.5,201.0L402.7,199.6L404.4,199.7M407.7,201.8L407.0,200.4L408.6,200.5M411.9,201.7L411.1,200.3L412.8,200.4M416.7,201.0L415.9,199.5L417.6,199.7M420.8,201.6L420.0,200.2L421.6,200.3M425.0,201.1L424.2,199.7L425.8,199.8M430.0,201.9L429.2,200.4L430.8,200.5M434.3,201.7L433.5,200.2L435.2,200.4M438.1,201.3L437.3,199.8L438.9,199.9M442.8,202.0L442.1,200.5L443.7,200.7M388.5,206.2L387.8,204.8L389.4,204.9M392.6,205.5L391.8,204.1L393.4,204.2M397.4,205.4L396.6,203.9L398.2,204.1M401.8,206.2L401.0,204.8L402.7,204.9M405.9,205.9L405.2,204.5L406.8,204.6M409.7,205.7L408.9,204.3L410.5,204.4M414.7,206.1L413.9,204.6L415.5,204.7M418.7,206.3L418.0,204.8L419.6,204.9M422.7,205.6L422.0,204.2L423.6,204.3M427.2,205.7L426.4,204.2L428.0,204.3M432.4,206.2L431.6,204.7L433.3,204.9M436.0,205.7L435.3,204.2L436.9,204.3M440.4,206.1L439.6,204.6L441.3,204.8M445.2,205.6L444.4,204.1L446.1,204.2M398.8,210.1L398.1,208.6L399.7,208.8M403.1,210.8L402.3,209.3L404.0,209.5M407.8,209.9L407.0,208.5L408.6,208.6M411.7,210.0L410.9,208.5L412.6,208.6M417.1,210.1L416.3,208.6L418.0,208.8M421.3,210.0L420.5,208.5L422.1,208.6M425.6,210.2L424.9,208.8L426.5,208.9M430.1,210.3L429.4,208.9L431.0,209.0M434.1,210.0L433.3,208.6L435.0,208.7M438.8,210.7L438.0,209.2L439.6,209.4M443.3,210.3L442.5,208.8L444.2,208.9M401.9,214.5L401.1,213.0L402.7,213.1M405.5,215.3L404.7,213.8L406.4,213.9M409.7,214.6L408.9,213.1L410.5,213.2M414.6,214.4L413.8,213.0L415.5,213.1M418.6,215.1L417.8,213.6L419.5,213.7M423.4,215.0L422.6,213.5L424.3,213.6M428.0,215.1L427.2,213.7L428.9,213.8M432.5,215.1L431.8,213.6L433.4,213.7M437.0,214.7L436.3,213.2L437.9,213.4M441.1,214.7L440.3,213.3L442.0,213.4" fill="none" stroke="#111" stroke-width="0.75"/>
<path d="M408.4,111.7L396.5,110.7M418.9,111.7L406.9,110.6M407.1,116.1L395.1,115.1M411.2,115.0L399.2,114.0M416.1,115.9L404.1,114.9M421.6,116.0L409.6,115.0M409.0,119.0L397.1,118.0" fill="none" stroke="#111" stroke-width="0.40"/>
<path d="M397.8,111.6L396.5,110.7L398.0,110.0M408.3,111.6L406.9,110.6L408.4,110.0M396.5,116.0L395.1,115.1L396.6,114.4M400.6,114.9L399.2,114.0L400.7,113.3M405.5,115.8L404.1,114.9L405.6,114.2M411.0,115.9L409.6,115.0L411.1,114.3M398.4,118.9L397.1,118.0L398.6,117.3" fill="none" stroke="#111" stroke-width="0.75"/>
<path d="M578.3,13.5L564.4,11.5M583.6,13.5L569.7,11.5M555.0,17.6L541.1,15.7M559.6,18.0L545.8,16.1M564.9,17.8L551.0,15.9M570.9,17.7L557.0,15.7M575.1,17.9L561.2,15.9M580.9,17.1L567.1,15.1M585.4,17.5L571.5,15.6M590.6,18.0L576.7,16.0M552.2,21.9L538.3,19.9M557.5,22.0L543.7,20.1M562.0,22.6L548.2,20.6M567.6,21.9L553.7,19.9M572.8,22.5L559.0,20.5M578.7,22.0L564.8,20.0M583.2,21.5L569.3,19.5M589.0,21.6L575.1,19.6M593.8,21.8L579.9,19.8M598.7,21.8L584.9,19.9M555.0,25.9L541.1,24.0M559.8,26.9L546.0,24.9M565.6,26.4L551.8,24.5M570.7,26.5L556.9,24.5M575.6,26.6L561.7,24.6M581.3,26.8L567.5,24.8M585.9,26.7L572.0,24.8M591.3,26.3L577.4,24.4M596.7,26.9L582.8,24.9M601.7,27.0L587.8,25.1M552.1,30.7L538.2,28.7M556.8,31.5L542.9,29.6M562.4,30.5L548.5,28.6M567.4,30.7L553.5,28.7M573.4,30.6L559.5,28.6M577.9,30.5L564.0,28.5M583.3,30.6L569.4,28.7M588.3,31.3L574.5,29.3M594.2,31.4L580.4,29.4M598.4,30.8L584.5,28.9M604.6,30.4L590.7,28.5M555.0,35.4L541.1,33.5M559.6,35.2L545.8,33.2M564.9,35.0L551.0,33.0M570.5,35.1L556.7,33.1M576.0,35.6L562.1,33.7M580.2,35.5L566.3,33.5M586.1,34.9L572.2,33.0M591.1,34.9L577.3,33.0M596.7,34.9L582.8,32.9M601.7,36.1L587.8,34.1M607.1,35.2L593.3,33.2M552.5,39.4L538.6,37.4M557.2,40.1L543.3,38.2M562.1,40.3L548.3,38.4M568.2,40.0L554.3,38.1M572.8,40.4L558.9,38.4M578.1,39.6L564.3,37.7M583.1,39.6L569.2,37.6M588.9,40.0L575.1,38.0M594.0,40.4L580.1,38.4M599.5,39.6L585.6,37.7M604.0,40.4L590.2,38.5M549.7,44.1L535.9,42.2M554.3,43.9L540.5,42.0M559.8,44.2L545.9,42.2M565.2,45.0L551.3,43.1M569.9,44.5L556.1,42.6M576.0,44.6L562.1,42.6M580.8,44.8L566.9,42.8M585.4,45.0L571.5,43.1M591.4,44.8L577.5,42.9M596.7,44.0L582.9,42.0M601.0,44.1L587.1,42.1M606.7,45.0L592.9,43.1M551.9,49.5L538.1,47.6M557.9,49.2L544.0,47.3M563.0,49.3L549.1,47.4M567.9,48.8L554.1,46.8M572.7,48.7L558.8,46.7M577.6,49.5L563.7,47.5M583.1,48.4L569.2,46.5M588.3,48.5L574.4,46.5M593.7,48.8L579.8,46.8M598.5,48.9L584.7,47.0M604.0,48.8L590.2,46.9M555.3,53.3L541.4,51.4M559.4,54.0L545.5,52.1M565.1,53.1L551.3,51.2M569.9,53.2L556.0,51.2M575.3,53.0L561.4,51.1M580.2,54.1L566.3,52.1M586.3,53.0L572.5,51.1M591.1,53.8L577.2,51.9M596.3,53.0L582.5,51.0M601.3,53.3L587.5,51.4M607.2,53.6L593.4,51.6M557.2,57.7L543.3,55.8M561.9,57.5L548.1,55.5M567.3,57.9L553.5,56.0M573.3,57.6L559.4,55.7M578.1,58.1L564.2,56.2M583.5,57.4L569.6,55.5M589.0,58.1L575.2,56.1M593.5,57.7L579.6,55.7M599.2,58.5L585.3,56.5M603.9,57.9L590.1,55.9M609.4,57.6L595.5,55.6M559.6,62.9L545.8,61.0M565.5,62.1L551.6,60.2M570.4,62.7L556.5,60.7M575.6,62.6L561.8,60.6M580.4,62.5L566.6,60.6M585.8,62.8L571.9,60.9M591.0,63.0L577.1,61.1M596.4,62.1L582.6,60.2M601.4,62.0L587.6,60.1M607.0,61.9L593.2,60.0M567.4,66.4L553.6,64.4M572.9,67.3L559.0,65.4M577.7,67.5L563.9,65.6M583.3,66.6L569.5,64.6M588.1,66.8L574.2,64.9M593.7,66.6L579.8,64.6M598.4,67.0L584.6,65.0M603.8,66.9L590.0,65.0M609.3,67.2L595.4,65.3M575.7,71.3L561.8,69.3M580.6,71.8L566.8,69.8M585.6,71.8L571.7,69.9M591.0,70.9L577.2,69.0M596.1,71.5L582.3,69.6M601.1,72.0L587.2,70.0M607.2,71.5L593.4,69.5M578.5,75.6L564.6,73.6M583.1,76.1L569.2,74.2M588.0,76.4L574.1,74.4M593.5,76.4L579.6,74.4M598.9,75.6L585.0,73.6M603.6,75.5L589.7,73.6M609.0,76.3L595.2,74.3M581.2,80.2L567.3,78.3M586.4,80.8L572.5,78.8M590.5,81.0L576.7,79.0M596.7,80.5L582.8,78.6M602.0,80.4L588.1,78.5M606.2,80.1L592.3,78.1M611.7,80.9L597.8,79.0" fill="none" stroke="#111" stroke-width="0.40"/>
<path d="M565.7,12.5L564.4,11.5L565.9,11.0M571.0,12.5L569.7,11.5L571.2,10.9M542.4,16.7L541.1,15.7L542.6,15.1M547.1,17.1L545.8,16.1L547.3,15.5M552.4,16.9L551.0,15.9L552.6,15.3M558.3,16.7L557.0,15.7L558.6,15.1M562.6,16.9L561.2,15.9L562.8,15.3M568.4,16.1L567.1,15.1L568.6,14.6M572.8,16.6L571.5,15.6L573.1,15.0M578.0,17.0L576.7,16.0L578.2,15.4M539.6,20.9L538.3,19.9L539.9,19.4M545.0,21.1L543.7,20.1L545.2,19.5M549.5,21.6L548.2,20.6L549.7,20.0M555.0,20.9L553.7,19.9L555.2,19.4M560.3,21.5L559.0,20.5L560.5,19.9M566.1,21.0L564.8,20.0L566.3,19.4M570.7,20.5L569.3,19.5L570.9,18.9M576.5,20.6L575.1,19.6L576.7,19.0M581.2,20.8L579.9,19.8L581.5,19.3M586.2,20.8L584.9,19.9L586.4,19.3M542.4,25.0L541.1,24.0L542.6,23.4M547.3,25.9L546.0,24.9L547.5,24.3M553.1,25.5L551.8,24.5L553.3,23.9M558.2,25.5L556.9,24.5L558.4,23.9M563.0,25.6L561.7,24.6L563.2,24.0M568.8,25.8L567.5,24.8L569.0,24.2M573.4,25.8L572.0,24.8L573.6,24.2M578.8,25.3L577.4,24.4L579.0,23.8M584.1,25.9L582.8,24.9L584.3,24.3M589.1,26.0L587.8,25.1L589.3,24.5M539.5,29.7L538.2,28.7L539.7,28.2M544.2,30.6L542.9,29.6L544.5,29.0M549.8,29.6L548.5,28.6L550.0,28.0M554.8,29.7L553.5,28.7L555.1,28.1M560.8,29.6L559.5,28.6L561.0,28.1M565.3,29.5L564.0,28.5L565.5,28.0M570.7,29.7L569.4,28.7L571.0,28.1M575.8,30.3L574.5,29.3L576.0,28.7M581.7,30.4L580.4,29.4L581.9,28.8M585.8,29.9L584.5,28.9L586.1,28.3M592.0,29.5L590.7,28.5L592.2,27.9M542.4,34.5L541.1,33.5L542.7,32.9M547.1,34.2L545.8,33.2L547.3,32.6M552.3,34.0L551.0,33.0L552.5,32.4M558.0,34.1L556.7,33.1L558.2,32.5M563.5,34.7L562.1,33.7L563.7,33.1M567.7,34.5L566.3,33.5L567.9,32.9M573.5,34.0L572.2,33.0L573.7,32.4M578.6,34.0L577.3,33.0L578.8,32.4M584.1,33.9L582.8,32.9L584.3,32.3M589.1,35.1L587.8,34.1L589.4,33.5M594.6,34.2L593.3,33.2L594.8,32.6M540.0,38.4L538.6,37.4L540.2,36.8M544.6,39.2L543.3,38.2L544.9,37.6M549.6,39.4L548.3,38.4L549.8,37.8M555.7,39.1L554.3,38.1L555.9,37.5M560.2,39.4L558.9,38.4L560.4,37.9M565.6,38.6L564.3,37.7L565.8,37.1M570.5,38.6L569.2,37.6L570.7,37.0M576.4,39.0L575.1,38.0L576.6,37.4M581.4,39.4L580.1,38.4L581.6,37.8M587.0,38.6L585.6,37.7L587.2,37.1M591.5,39.5L590.2,38.5L591.7,37.9M537.2,43.2L535.9,42.2L537.4,41.6M541.8,43.0L540.5,42.0L542.0,41.4M547.2,43.2L545.9,42.2L547.5,41.6M552.6,44.1L551.3,43.1L552.8,42.5M557.4,43.6L556.1,42.6L557.6,42.0M563.4,43.6L562.1,42.6L563.6,42.1M568.2,43.8L566.9,42.8L568.4,42.3M572.8,44.1L571.5,43.1L573.0,42.5M578.8,43.9L577.5,42.9L579.0,42.3M584.2,43.0L582.9,42.0L584.4,41.5M588.5,43.1L587.1,42.1L588.7,41.5M594.2,44.0L592.9,43.1L594.4,42.5M539.4,48.6L538.1,47.6L539.6,47.0M545.3,48.3L544.0,47.3L545.5,46.7M550.5,48.4L549.1,47.4L550.7,46.8M555.4,47.8L554.1,46.8L555.6,46.2M560.1,47.7L558.8,46.7L560.3,46.1M565.1,48.5L563.7,47.5L565.3,46.9M570.5,47.4L569.2,46.5L570.8,45.9M575.8,47.5L574.4,46.5L576.0,46.0M581.1,47.8L579.8,46.8L581.3,46.2M586.0,48.0L584.7,47.0L586.2,46.4M591.5,47.8L590.2,46.9L591.7,46.3M542.7,52.4L541.4,51.4L543.0,50.8M546.8,53.1L545.5,52.1L547.1,51.5M552.6,52.2L551.3,51.2L552.8,50.6M557.3,52.2L556.0,51.2L557.6,50.6M562.8,52.1L561.4,51.1L563.0,50.5M567.6,53.1L566.3,52.1L567.9,51.5M573.8,52.1L572.5,51.1L574.0,50.5M578.6,52.9L577.2,51.9L578.8,51.3M583.8,52.0L582.5,51.0L584.0,50.4M588.8,52.4L587.5,51.4L589.0,50.8M594.7,52.6L593.4,51.6L594.9,51.0M544.6,56.8L543.3,55.8L544.8,55.2M549.4,56.5L548.1,55.5L549.6,54.9M554.8,57.0L553.5,56.0L555.0,55.4M560.7,56.7L559.4,55.7L560.9,55.1M565.5,57.2L564.2,56.2L565.8,55.6M570.9,56.4L569.6,55.5L571.2,54.9M576.5,57.1L575.2,56.1L576.7,55.5M580.9,56.7L579.6,55.7L581.2,55.1M586.6,57.5L585.3,56.5L586.8,56.0M591.4,56.9L590.1,55.9L591.6,55.3M596.9,56.6L595.5,55.6L597.1,55.0M547.1,62.0L545.8,61.0L547.3,60.4M552.9,61.2L551.6,60.2L553.1,59.6M557.8,61.7L556.5,60.7L558.0,60.2M563.1,61.6L561.8,60.6L563.3,60.1M567.9,61.6L566.6,60.6L568.1,60.0M573.2,61.9L571.9,60.9L573.4,60.3M578.4,62.1L577.1,61.1L578.7,60.5M583.9,61.2L582.6,60.2L584.1,59.6M588.9,61.1L587.6,60.1L589.1,59.5M594.5,61.0L593.2,60.0L594.7,59.4M554.9,65.4L553.6,64.4L555.1,63.8M560.3,66.4L559.0,65.4L560.5,64.8M565.2,66.5L563.9,65.6L565.4,65.0M570.8,65.6L569.5,64.6L571.0,64.0M575.5,65.9L574.2,64.9L575.7,64.3M581.2,65.6L579.8,64.6L581.4,64.0M585.9,66.0L584.6,65.0L586.1,64.4M591.3,66.0L590.0,65.0L591.5,64.4M596.7,66.3L595.4,65.3L596.9,64.7M563.1,70.3L561.8,69.3L563.4,68.7M568.1,70.8L566.8,69.8L568.3,69.2M573.1,70.9L571.7,69.9L573.3,69.3M578.5,70.0L577.2,69.0L578.7,68.4M583.6,70.6L582.3,69.6L583.8,69.0M588.6,71.0L587.2,70.0L588.8,69.4M594.7,70.5L593.4,69.5L594.9,68.9M565.9,74.6L564.6,73.6L566.2,73.0M570.5,75.2L569.2,74.2L570.7,73.6M575.4,75.4L574.1,74.4L575.7,73.8M581.0,75.4L579.6,74.4L581.2,73.8M586.3,74.6L585.0,73.6L586.6,73.0M591.0,74.6L589.7,73.6L591.2,73.0M596.5,75.3L595.2,74.3L596.7,73.7M568.7,79.3L567.3,78.3L568.9,77.7M573.9,79.8L572.5,78.8L574.1,78.2M578.0,80.0L576.7,79.0L578.2,78.4M584.2,79.5L582.8,78.6L584.4,78.0M589.4,79.5L588.1,78.5L589.7,77.9M593.6,79.1L592.3,78.1L593.8,77.5M599.2,79.9L597.8,79.0L599.4,78.4" fill="none" stroke="#111" stroke-width="0.75"/>
<path d="M585.1,77.4L574.7,83.4M599.7,77.6L589.3,83.6M605.0,77.6L594.6,83.6M609.8,77.5L599.4,83.5M573.2,81.1L562.8,87.1M577.2,81.3L566.9,87.3M582.3,81.2L571.9,87.2M587.1,81.7L576.7,87.7M593.1,81.2L582.7,87.2M597.5,81.1L587.2,87.1M603.2,81.9L592.8,87.9M607.9,81.0L597.5,87.0M612.3,81.7L601.9,87.7M570.5,85.8L560.1,91.8M575.2,85.7L564.9,91.7M580.1,86.0L569.7,92.0M584.9,86.2L574.5,92.2M589.9,85.5L579.6,91.5M595.8,85.2L585.4,91.2M600.1,85.9L589.7,91.9M605.1,86.2L594.7,92.2M610.4,85.8L600.0,91.8M614.6,86.4L604.2,92.4M577.3,90.6L566.9,96.6M583.2,90.1L572.8,96.1M587.5,90.2L577.1,96.2M593.2,90.8L582.8,96.8M598.0,90.1L587.6,96.1M602.6,90.4L592.2,96.4M607.5,90.5L597.1,96.5M612.5,90.3L602.1,96.3M617.7,90.2L607.3,96.2M580.3,94.0L570.0,100.0M585.5,94.7L575.1,100.7M590.2,94.0L579.8,100.0M594.6,94.1L584.2,100.1M600.6,94.5L590.3,100.5M604.7,95.0L594.3,101.0M610.2,94.4L599.8,100.4M615.1,94.2L604.7,100.2M619.6,94.9L609.2,100.9M582.6,99.2L572.2,105.2M587.7,99.3L577.3,105.3M593.2,98.7L582.8,104.7M597.5,99.1L587.1,105.1M602.3,98.4L591.9,104.4M608.1,99.0L597.7,105.0M612.5,99.2L602.2,105.2M617.4,98.8L607.0,104.8M622.3,98.9L611.9,104.9M584.6,103.2L574.2,109.2M589.7,103.2L579.4,109.2M594.9,103.6L584.5,109.6M600.6,103.1L590.2,109.1M605.1,102.9L594.7,108.9M609.7,103.0L599.3,109.0M614.7,103.8L604.3,109.8M619.9,103.6L609.6,109.6M625.5,103.1L615.1,109.1M587.6,107.4L577.2,113.4M592.8,108.3L582.4,114.3M597.4,107.9L587.0,113.9M602.4,108.4L592.0,114.4M607.9,107.9L597.5,113.9M612.7,107.5L602.3,113.5M618.2,107.8L607.8,113.8M623.2,108.1L612.9,114.1M628.2,107.6L617.8,113.6M632.9,107.9L622.5,113.9M594.9,111.8L584.5,117.8M600.7,112.0L590.3,118.0M605.5,111.9L595.1,117.9M610.8,112.7L600.4,118.7M614.9,112.6L604.5,118.6M619.8,112.6L609.4,118.6M624.6,112.0L614.2,118.0M629.6,112.6L619.2,118.6M634.9,112.3L624.6,118.3M597.4,116.1L587.0,122.1M602.2,116.8L591.8,122.8M608.3,117.0L597.9,123.0M612.7,117.2L602.4,123.2M617.1,116.4L606.7,122.4M622.1,116.7L611.7,122.7M628.2,116.4L617.8,122.4M632.7,116.4L622.3,122.4M637.5,116.1L627.1,122.1M610.8,121.2L600.4,127.2M615.1,120.9L604.7,126.9M620.3,121.4L609.9,127.4M625.2,120.5L614.9,126.5M630.0,120.5L619.7,126.5M635.4,121.4L625.0,127.4M618.0,125.0L607.6,131.0M622.4,125.0L612.0,131.0M628.3,125.1L617.9,131.1M632.3,124.8L621.9,130.8M637.4,125.2L627.0,131.2M625.2,129.9L614.8,135.9M629.7,129.4L619.3,135.4M634.7,129.6L624.3,135.6M633.3,134.0L622.9,140.0M638.1,134.1L627.7,140.1" fill="none" stroke="#111" stroke-width="0.40"/>
<path d="M576.3,83.4L574.7,83.4L575.5,82.0M591.0,83.6L589.3,83.6L590.2,82.2M596.2,83.6L594.6,83.6L595.4,82.2M601.0,83.5L599.4,83.5L600.2,82.1M564.4,87.1L562.8,87.1L563.6,85.7M568.5,87.3L566.9,87.3L567.7,85.9M573.6,87.2L571.9,87.2L572.8,85.8M578.4,87.7L576.7,87.7L577.6,86.3M584.3,87.2L582.7,87.2L583.5,85.8M588.8,87.1L587.2,87.1L588.0,85.7M594.5,87.8L592.8,87.9L593.7,86.4M599.1,87.0L597.5,87.0L598.3,85.6M603.6,87.7L601.9,87.7L602.8,86.3M561.7,91.8L560.1,91.8L560.9,90.4M566.5,91.7L564.9,91.7L565.7,90.3M571.4,92.0L569.7,92.0L570.6,90.6M576.1,92.2L574.5,92.2L575.3,90.8M581.2,91.5L579.6,91.5L580.4,90.1M587.0,91.2L585.4,91.2L586.2,89.8M591.3,91.8L589.7,91.9L590.5,90.5M596.4,92.2L594.7,92.2L595.6,90.8M601.7,91.8L600.0,91.8L600.9,90.4M605.9,92.4L604.2,92.4L605.1,91.0M568.6,96.5L566.9,96.6L567.8,95.2M574.4,96.1L572.8,96.1L573.6,94.7M578.7,96.2L577.1,96.2L577.9,94.8M584.4,96.7L582.8,96.8L583.6,95.4M589.2,96.1L587.6,96.1L588.4,94.7M593.8,96.4L592.2,96.4L593.0,95.0M598.7,96.5L597.1,96.5L597.9,95.1M603.8,96.3L602.1,96.3L603.0,94.9M609.0,96.2L607.3,96.2L608.2,94.8M571.6,100.0L570.0,100.0L570.8,98.6M576.8,100.7L575.1,100.7L576.0,99.3M581.4,100.0L579.8,100.0L580.6,98.6M585.9,100.1L584.2,100.1L585.1,98.7M591.9,100.5L590.3,100.5L591.1,99.1M595.9,100.9L594.3,101.0L595.1,99.6M601.4,100.4L599.8,100.4L600.6,99.0M606.3,100.2L604.7,100.2L605.5,98.8M610.9,100.9L609.2,100.9L610.1,99.5M573.9,105.1L572.2,105.2L573.1,103.8M578.9,105.3L577.3,105.3L578.1,103.9M584.5,104.6L582.8,104.7L583.7,103.3M588.8,105.1L587.1,105.1L588.0,103.7M593.6,104.4L591.9,104.4L592.8,103.0M599.3,105.0L597.7,105.0L598.5,103.6M603.8,105.1L602.2,105.2L603.0,103.8M608.7,104.8L607.0,104.8L607.9,103.4M613.5,104.9L611.9,104.9L612.7,103.5M575.9,109.2L574.2,109.2L575.1,107.8M581.0,109.1L579.4,109.2L580.2,107.8M586.2,109.6L584.5,109.6L585.4,108.2M591.9,109.1L590.2,109.1L591.1,107.7M596.3,108.9L594.7,108.9L595.5,107.5M600.9,109.0L599.3,109.0L600.1,107.6M605.9,109.8L604.3,109.8L605.1,108.4M611.2,109.6L609.6,109.6L610.4,108.2M616.8,109.1L615.1,109.1L616.0,107.7M578.9,113.4L577.2,113.4L578.1,112.0M584.1,114.3L582.4,114.3L583.3,112.9M588.7,113.9L587.0,113.9L587.9,112.5M593.6,114.3L592.0,114.4L592.8,112.9M599.1,113.9L597.5,113.9L598.3,112.5M604.0,113.5L602.3,113.5L603.2,112.1M609.5,113.8L607.8,113.8L608.7,112.4M614.5,114.1L612.9,114.1L613.7,112.7M619.4,113.6L617.8,113.6L618.6,112.2M624.1,113.9L622.5,113.9L623.3,112.5M586.1,117.7L584.5,117.8L585.3,116.4M592.0,118.0L590.3,118.0L591.2,116.6M596.8,117.9L595.1,117.9L596.0,116.5M602.0,118.7L600.4,118.7L601.2,117.3M606.1,118.6L604.5,118.6L605.3,117.2M611.1,118.6L609.4,118.6L610.3,117.2M615.9,118.0L614.2,118.0L615.1,116.6M620.9,118.6L619.2,118.6L620.1,117.2M626.2,118.3L624.6,118.3L625.4,116.9M588.7,122.0L587.0,122.1L587.9,120.7M593.5,122.8L591.8,122.8L592.7,121.4M599.5,123.0L597.9,123.0L598.7,121.6M604.0,123.1L602.4,123.2L603.2,121.8M608.4,122.3L606.7,122.4L607.6,121.0M613.4,122.6L611.7,122.7L612.6,121.3M619.4,122.4L617.8,122.4L618.6,121.0M624.0,122.3L622.3,122.4L623.2,120.9M628.8,122.1L627.1,122.1L628.0,120.7M602.0,127.1L600.4,127.2L601.2,125.7M606.4,126.8L604.7,126.9L605.6,125.4M611.5,127.4L609.9,127.4L610.7,126.0M616.5,126.5L614.9,126.5L615.7,125.1M621.3,126.5L619.7,126.5L620.5,125.1M626.7,127.4L625.0,127.4L625.9,126.0M609.3,131.0L607.6,131.0L608.5,129.6M613.7,130.9L612.0,131.0L612.9,129.6M619.5,131.1L617.9,131.1L618.7,129.7M623.5,130.8L621.9,130.8L622.7,129.4M628.7,131.2L627.0,131.2L627.9,129.8M616.4,135.8L614.8,135.9L615.6,134.5M621.0,135.4L619.3,135.4L620.2,134.0M625.9,135.6L624.3,135.6L625.1,134.2M624.5,140.0L622.9,140.0L623.7,138.6M629.4,140.1L627.7,140.1L628.6,138.7" fill="none" stroke="#111" stroke-width="0.75"/>
<path d="M542.9,29.2L530.9,27.9M530.1,32.9L518.2,31.7M536.1,32.9L524.1,31.7M540.6,33.0L528.7,31.8M545.7,33.1L533.8,31.8M550.1,33.0L538.1,31.8M533.0,37.3L521.1,36.0M538.2,37.4L526.2,36.1M543.0,37.3L531.0,36.0M547.9,38.0L535.9,36.7M530.5,42.4L518.6,41.2M535.8,42.2L523.8,41.0M540.6,42.0L528.7,40.7M545.6,42.5L533.7,41.2M550.0,42.7L538.1,41.4M532.5,46.4L520.6,45.2M537.5,46.5L525.5,45.3M542.9,46.8L530.9,45.6M547.9,47.1L536.0,45.9" fill="none" stroke="#111" stroke-width="0.40"/>
<path d="M532.3,28.9L530.9,27.9L532.4,27.3M519.6,32.6L518.2,31.7L519.7,31.0M525.5,32.6L524.1,31.7L525.6,31.0M530.0,32.7L528.7,31.8L530.2,31.1M535.2,32.8L533.8,31.8L535.3,31.2M539.5,32.7L538.1,31.8L539.7,31.1M522.5,37.0L521.1,36.0L522.6,35.4M527.6,37.1L526.2,36.1L527.8,35.5M532.4,37.0L531.0,36.0L532.6,35.4M537.3,37.7L535.9,36.7L537.4,36.1M519.9,42.1L518.6,41.2L520.1,40.5M525.2,41.9L523.8,41.0L525.4,40.3M530.1,41.7L528.7,40.7L530.2,40.1M535.0,42.2L533.7,41.2L535.2,40.6M539.4,42.3L538.1,41.4L539.6,40.8M522.0,46.1L520.6,45.2L522.1,44.5M526.9,46.2L525.5,45.3L527.0,44.6M532.3,46.5L530.9,45.6L532.4,44.9M537.3,46.8L536.0,45.9L537.5,45.3" fill="none" stroke="#111" stroke-width="0.75"/>
<path d="M393.0,57.1L373.7,51.6M397.1,59.9L377.9,54.3M405.9,60.1L386.6,54.6M401.8,63.5L382.6,58.0M410.6,63.7L391.4,58.2M397.0,66.6L377.8,61.1M406.3,67.0L387.1,61.5M393.0,70.2L373.8,64.7M401.8,70.3L382.6,64.7M410.7,70.5L391.4,65.0M397.0,73.4L377.7,67.9M406.1,73.9L386.9,68.4M392.7,76.9L373.5,71.4M401.4,77.0L382.1,71.5M410.9,76.9L391.6,71.4" fill="none" stroke="#111" stroke-width="0.40"/>
<path d="M374.9,52.8L373.7,51.6L375.3,51.2M379.1,55.5L377.9,54.3L379.5,54.0M387.8,55.8L386.6,54.6L388.2,54.2M383.7,59.1L382.6,58.0L384.2,57.6M392.6,59.4L391.4,58.2L393.0,57.9M378.9,62.3L377.8,61.1L379.4,60.7M388.3,62.7L387.1,61.5L388.7,61.1M374.9,65.9L373.8,64.7L375.4,64.4M383.8,65.9L382.6,64.7L384.2,64.4M392.6,66.1L391.4,65.0L393.0,64.6M378.9,69.1L377.7,67.9L379.3,67.5M388.0,69.6L386.9,68.4L388.5,68.0M374.7,72.6L373.5,71.4L375.1,71.0M383.3,72.7L382.1,71.5L383.7,71.1M392.8,72.6L391.6,71.4L393.2,71.0" fill="none" stroke="#111" stroke-width="0.75"/>
<path d="M525.5,71.5L512.6,69.7M530.9,71.1L518.0,69.3M536.1,71.2L523.3,69.4M541.6,71.2L528.7,69.3M523.1,75.5L510.2,73.7M529.1,74.6L516.2,72.8M534.0,75.7L521.1,73.8M539.6,75.0L526.8,73.2M544.5,75.6L531.6,73.8M525.6,79.1L512.8,77.3M531.3,79.1L518.4,77.3M537.1,79.8L524.2,78.0M541.8,79.8L528.9,78.0M546.9,78.8L534.0,77.0M523.3,83.9L510.5,82.1M528.9,84.1L516.0,82.3M534.4,83.2L521.5,81.4M539.6,84.0L526.8,82.2M544.2,83.5L531.4,81.7M549.7,83.1L536.8,81.3M526.4,87.3L513.5,85.5M531.2,88.3L518.4,86.5M537.0,87.7L524.1,85.9M541.7,87.9L528.9,86.1M547.1,87.9L534.3,86.1M523.3,91.8L510.4,90.0M528.9,91.8L516.0,90.0M533.9,92.3L521.0,90.5M539.0,91.5L526.2,89.7M544.8,91.8L532.0,90.0M525.8,95.9L512.9,94.1M531.2,96.4L518.3,94.6M536.1,96.7L523.2,94.9M542.3,96.5L529.4,94.7M547.5,96.2L534.6,94.4M523.0,100.2L510.2,98.4M528.2,100.1L515.3,98.3M533.7,100.1L520.8,98.3M539.8,100.7L527.0,98.9M544.9,99.7L532.0,97.9M531.0,104.4L518.1,102.6M536.9,104.3L524.1,102.5M542.3,104.4L529.4,102.6M534.4,108.4L521.5,106.6" fill="none" stroke="#111" stroke-width="0.40"/>
<path d="M513.9,70.7L512.6,69.7L514.1,69.1M519.3,70.3L518.0,69.3L519.5,68.7M524.6,70.4L523.3,69.4L524.8,68.8M530.1,70.3L528.7,69.3L530.3,68.8M511.5,74.7L510.2,73.7L511.7,73.1M517.6,73.8L516.2,72.8L517.8,72.2M522.4,74.8L521.1,73.8L522.6,73.3M528.1,74.2L526.8,73.2L528.3,72.6M532.9,74.8L531.6,73.8L533.2,73.2M514.1,78.3L512.8,77.3L514.3,76.7M519.7,78.3L518.4,77.3L520.0,76.7M525.6,79.0L524.2,78.0L525.8,77.4M530.3,79.0L528.9,78.0L530.5,77.4M535.4,78.0L534.0,77.0L535.6,76.4M511.8,83.0L510.5,82.1L512.0,81.5M517.4,83.3L516.0,82.3L517.6,81.7M522.8,82.4L521.5,81.4L523.0,80.8M528.1,83.2L526.8,82.2L528.3,81.6M532.7,82.7L531.4,81.7L532.9,81.1M538.2,82.3L536.8,81.3L538.4,80.7M514.8,86.4L513.5,85.5L515.1,84.9M519.7,87.5L518.4,86.5L519.9,85.9M525.4,86.9L524.1,85.9L525.6,85.3M530.2,87.0L528.9,86.1L530.4,85.5M535.6,87.1L534.3,86.1L535.8,85.5M511.8,91.0L510.4,90.0L512.0,89.4M517.3,91.0L516.0,90.0L517.6,89.4M522.3,91.5L521.0,90.5L522.6,89.9M527.5,90.7L526.2,89.7L527.7,89.1M533.3,91.0L532.0,90.0L533.5,89.4M514.2,95.1L512.9,94.1L514.4,93.5M519.6,95.6L518.3,94.6L519.8,94.0M524.5,95.9L523.2,94.9L524.7,94.3M530.7,95.7L529.4,94.7L531.0,94.1M535.9,95.4L534.6,94.4L536.1,93.8M511.5,99.4L510.2,98.4L511.7,97.8M516.6,99.3L515.3,98.3L516.9,97.7M522.1,99.3L520.8,98.3L522.4,97.7M528.3,99.8L527.0,98.9L528.5,98.3M533.3,98.9L532.0,97.9L533.6,97.3M519.4,103.5L518.1,102.6L519.6,102.0M525.4,103.5L524.1,102.5L525.6,101.9M530.7,103.6L529.4,102.6L531.0,102.0M522.9,107.5L521.5,106.6L523.1,106.0" fill="none" stroke="#111" stroke-width="0.75"/>
<path d="M528.0,64.0L518.0,63.5M519.4,64.4L518.0,63.5L519.5,62.8M530.0,68.0L520.0,67.5M521.4,68.4L520.0,67.5L521.5,66.8M535.0,63.0L527.0,62.6M528.4,63.5L527.0,62.6L528.5,61.9M544.0,58.0L534.0,57.1M535.4,58.1L534.0,57.1L535.5,56.5M532.0,53.0L523.0,52.2M524.4,53.1L523.0,52.2L524.5,51.5" fill="none" stroke="#111" stroke-width="0.50"/>
<path d="M616.4,30.0L606.5,23.1M606.6,33.2L596.8,26.3M610.8,33.5L601.0,26.7M614.5,33.7L604.6,26.8M605.3,37.5L595.5,30.6M609.3,37.6L599.4,30.7M613.3,37.1L603.5,30.2M616.7,37.4L606.9,30.5M606.4,42.0L596.6,35.1M611.1,41.0L601.2,34.1M615.0,41.3L605.2,34.5" fill="none" stroke="#111" stroke-width="0.40"/>
<path d="M607.3,24.6L606.5,23.1L608.2,23.3M597.5,27.8L596.8,26.3L598.4,26.5M601.7,28.1L601.0,26.7L602.6,26.8M605.4,28.3L604.6,26.8L606.3,27.0M596.2,32.1L595.5,30.6L597.1,30.7M600.2,32.2L599.4,30.7L601.1,30.9M604.2,31.7L603.5,30.2L605.1,30.3M607.6,32.0L606.9,30.5L608.6,30.7M597.3,36.6L596.6,35.1L598.2,35.3M602.0,35.6L601.2,34.1L602.9,34.2M605.9,35.9L605.2,34.5L606.8,34.6" fill="none" stroke="#111" stroke-width="0.75"/>
<path d="M458.1,9.2L456.4,19.0M460.5,9.4L458.8,19.3M466.5,9.1L464.8,18.9M457.3,13.6L455.6,23.5M460.4,13.0L458.6,22.8M462.8,13.4L461.0,23.3M465.5,12.5L463.8,22.4M468.1,12.7L466.4,22.6M458.9,17.6L457.1,27.5M460.9,17.5L459.2,27.3M463.1,17.6L461.4,27.5M466.0,17.1L464.3,27.0M456.7,20.5L455.0,30.4M459.2,21.2L457.4,31.0M462.4,21.5L460.7,31.3M465.4,21.0L463.7,30.8M468.0,20.7L466.2,30.6M456.3,24.8L454.6,34.6M459.0,24.9L457.3,34.8M463.1,24.6L461.4,34.4" fill="none" stroke="#111" stroke-width="0.40"/>
<path d="M457.4,17.8L456.4,19.0L455.8,17.5M459.8,18.0L458.8,19.3L458.3,17.7M465.8,17.6L464.8,18.9L464.2,17.4M456.6,22.2L455.6,23.5L455.1,21.9M459.7,21.5L458.6,22.8L458.1,21.3M462.1,22.0L461.0,23.3L460.5,21.7M464.8,21.1L463.8,22.4L463.3,20.8M467.4,21.3L466.4,22.6L465.8,21.0M458.2,26.2L457.1,27.5L456.6,25.9M460.2,26.0L459.2,27.3L458.6,25.8M462.4,26.2L461.4,27.5L460.8,25.9M465.3,25.7L464.3,27.0L463.7,25.4M456.0,29.1L455.0,30.4L454.4,28.8M458.5,29.8L457.4,31.0L456.9,29.5M461.7,30.0L460.7,31.3L460.2,29.7M464.7,29.6L463.7,30.8L463.1,29.3M467.3,29.3L466.2,30.6L465.7,29.0M455.6,33.3L454.6,34.6L454.1,33.1M458.3,33.5L457.3,34.8L456.7,33.2M462.4,33.1L461.4,34.4L460.9,32.9" fill="none" stroke="#111" stroke-width="0.75"/>
<path d="M390.0,35.0L393.8,43.2M393.9,41.4L393.8,43.2L392.4,42.1M413.0,50.0L416.4,59.4M416.7,57.7L416.4,59.4L415.1,58.2M386.0,87.0L395.1,91.2M394.0,89.8L395.1,91.2L393.3,91.3M549.0,120.0L537.4,116.9M538.7,118.1L537.4,116.9L539.1,116.5M550.0,124.0L538.4,120.9M539.7,122.1L538.4,120.9L540.1,120.5M514.0,141.0L504.9,136.8M506.0,138.2L504.9,136.8L506.7,136.7" fill="none" stroke="#111" stroke-width="0.55"/>
<circle cx="500.7" cy="181.3" r="1.35" fill="#000"/>
<circle cx="500.3" cy="185.5" r="1.35" fill="#000"/>
<circle cx="499.1" cy="189.6" r="1.35" fill="#000"/>
<circle cx="497.1" cy="193.4" r="1.35" fill="#000"/>
<circle cx="494.5" cy="196.8" r="1.35" fill="#000"/>
<circle cx="491.3" cy="199.5" r="1.35" fill="#000"/>
<circle cx="487.6" cy="201.7" r="1.35" fill="#000"/>
<circle cx="483.6" cy="203.1" r="1.35" fill="#000"/>
<circle cx="479.4" cy="203.7" r="1.35" fill="#000"/>
<circle cx="475.1" cy="203.5" r="1.35" fill="#000"/>
<circle cx="471.0" cy="202.5" r="1.35" fill="#000"/>
<circle cx="467.1" cy="200.7" r="1.35" fill="#000"/>
<circle cx="463.6" cy="198.2" r="1.35" fill="#000"/>
<circle cx="460.7" cy="195.1" r="1.35" fill="#000"/>
<circle cx="458.4" cy="191.6" r="1.35" fill="#000"/>
<circle cx="456.8" cy="187.6" r="1.35" fill="#000"/>
<circle cx="456.0" cy="183.4" r="1.35" fill="#000"/>
<circle cx="456.0" cy="179.2" r="1.35" fill="#000"/>
<circle cx="456.8" cy="175.0" r="1.35" fill="#000"/>
<circle cx="458.4" cy="171.0" r="1.35" fill="#000"/>
<circle cx="460.7" cy="167.5" r="1.35" fill="#000"/>
<circle cx="463.6" cy="164.4" r="1.35" fill="#000"/>
<circle cx="467.1" cy="161.9" r="1.35" fill="#000"/>
<circle cx="471.0" cy="160.1" r="1.35" fill="#000"/>
<circle cx="475.1" cy="159.1" r="1.35" fill="#000"/>
<circle cx="479.4" cy="158.9" r="1.35" fill="#000"/>
<circle cx="483.6" cy="159.5" r="1.35" fill="#000"/>
<circle cx="487.6" cy="160.9" r="1.35" fill="#000"/>
<circle cx="491.3" cy="163.1" r="1.35" fill="#000"/>
<circle cx="494.5" cy="165.8" r="1.35" fill="#000"/>
<circle cx="497.1" cy="169.2" r="1.35" fill="#000"/>
<circle cx="499.1" cy="173.0" r="1.35" fill="#000"/>
<circle cx="500.3" cy="177.1" r="1.35" fill="#000"/>
<path d="M471.0,174.0 C472.2,172.8 475.5,172.3 478.0,172.5 C480.5,172.7 484.3,173.4 486.0,175.0 C487.7,176.6 488.3,179.8 488.0,182.0 C487.7,184.2 485.7,186.6 484.0,188.0 C482.3,189.4 479.8,190.8 478.0,190.5 C476.2,190.2 474.2,187.8 473.0,186.0 C471.8,184.2 471.3,182.0 471.0,180.0 C470.7,178.0 469.8,175.2 471.0,174.0 Z" fill="none" stroke="#a035d0" stroke-width="1.00"/>
<path d="M475.0,177.0 C475.7,175.8 478.7,175.5 480.0,176.0 C481.3,176.5 483.0,178.7 483.0,180.0 C483.0,181.3 481.2,183.5 480.0,184.0 C478.8,184.5 476.8,184.2 476.0,183.0 C475.2,181.8 474.3,178.2 475.0,177.0 Z" fill="none" stroke="#f08585" stroke-width="0.80"/>
<path d="M456.7,159.6L463.7,172.9M462.4,159.8L469.4,173.0M458.5,164.7L465.5,178.0M461.6,164.6L468.6,177.8M465.1,163.8L472.1,177.0M468.2,164.5L475.3,177.8M470.6,164.5L477.6,177.8M460.2,169.7L467.2,183.0M462.9,169.0L470.0,182.2M466.3,169.1L473.4,182.3M469.9,169.0L476.9,182.2M473.0,168.8L480.1,182.0M461.7,174.2L468.7,187.4M464.3,174.7L471.4,188.0M467.3,174.2L474.3,187.5M470.9,174.4L477.9,187.6M473.7,174.7L480.7,187.9M477.3,173.9L484.3,187.1M466.0,179.4L473.1,192.6M469.4,179.9L476.4,193.1M472.1,179.7L479.2,193.0M475.7,179.9L482.8,193.1M479.1,178.8L486.1,192.0M470.3,184.9L477.3,198.1" fill="none" stroke="#111" stroke-width="0.40"/>
<path d="M463.7,171.4L463.7,172.9L462.5,172.1M469.4,171.6L469.4,173.0L468.2,172.2M465.6,176.5L465.5,178.0L464.3,177.2M468.6,176.4L468.6,177.8L467.4,177.0M472.1,175.6L472.1,177.0L470.9,176.3M475.3,176.4L475.3,177.8L474.1,177.0M477.7,176.3L477.6,177.8L476.4,177.0M467.3,181.5L467.2,183.0L466.0,182.2M470.0,180.8L470.0,182.2L468.7,181.4M473.4,180.9L473.4,182.3L472.2,181.6M476.9,180.8L476.9,182.2L475.7,181.4M480.1,180.6L480.1,182.0L478.9,181.3M468.7,186.0L468.7,187.4L467.5,186.7M471.4,186.5L471.4,188.0L470.1,187.2M474.4,186.0L474.3,187.5L473.1,186.7M478.0,186.2L477.9,187.6L476.7,186.9M480.8,186.5L480.7,187.9L479.5,187.2M484.3,185.7L484.3,187.1L483.1,186.3M473.1,191.2L473.1,192.6L471.9,191.9M476.5,191.7L476.4,193.1L475.2,192.3M479.2,191.5L479.2,193.0L478.0,192.2M482.8,191.7L482.8,193.1L481.6,192.3M486.2,190.6L486.1,192.0L484.9,191.2M477.4,196.7L477.3,198.1L476.1,197.3" fill="none" stroke="#111" stroke-width="0.75"/>
</g>
<path d="M445.9,6.7V222.2M508.4,6.7V222.2M570.9,6.7V222.2M383.4,42.6H633.4M383.4,78.5H633.4M383.4,114.5H633.4M383.4,150.4H633.4M383.4,186.3H633.4" stroke="#b4b4b4" stroke-width="0.9" stroke-dasharray="1.2,2.2" fill="none"/>
<rect x="383.4" y="6.7" width="250.0" height="215.5" fill="none" stroke="#444" stroke-width="0.9"/>
<path d="M380.2,6.7H383.4M380.2,42.6H383.4M380.2,78.5H383.4M380.2,114.5H383.4M380.2,150.4H383.4M380.2,186.3H383.4M380.2,222.2H383.4M383.4,222.2V224.7M445.9,222.2V224.7M508.4,222.2V224.7M570.9,222.2V224.7M633.4,222.2V224.7" stroke="#3a3a3a" stroke-width="0.9" fill="none"/>
<text x="377.9" y="10.4" font-size="10.3" fill="#4a4a4a" text-anchor="end" textLength="31.0" lengthAdjust="spacingAndGlyphs">21.52N</text>
<text x="377.9" y="46.3" font-size="10.3" fill="#4a4a4a" text-anchor="end" textLength="31.0" lengthAdjust="spacingAndGlyphs">21.51N</text>
<text x="377.9" y="82.2" font-size="10.3" fill="#4a4a4a" text-anchor="end" textLength="25.5" lengthAdjust="spacingAndGlyphs">21.5N</text>
<text x="377.9" y="118.2" font-size="10.3" fill="#4a4a4a" text-anchor="end" textLength="31.0" lengthAdjust="spacingAndGlyphs">21.49N</text>
<text x="377.9" y="154.1" font-size="10.3" fill="#4a4a4a" text-anchor="end" textLength="31.0" lengthAdjust="spacingAndGlyphs">21.48N</text>
<text x="377.9" y="190.0" font-size="10.3" fill="#4a4a4a" text-anchor="end" textLength="31.0" lengthAdjust="spacingAndGlyphs">21.47N</text>
<text x="377.9" y="225.9" font-size="10.3" fill="#4a4a4a" text-anchor="end" textLength="31.0" lengthAdjust="spacingAndGlyphs">21.46N</text>
<text x="383.4" y="234.6" font-size="10.0" fill="#4a4a4a" text-anchor="middle" textLength="36.5" lengthAdjust="spacingAndGlyphs">158.06W</text>
<text x="445.9" y="234.6" font-size="10.0" fill="#4a4a4a" text-anchor="middle" textLength="36.5" lengthAdjust="spacingAndGlyphs">158.04W</text>
<text x="508.4" y="234.6" font-size="10.0" fill="#4a4a4a" text-anchor="middle" textLength="36.5" lengthAdjust="spacingAndGlyphs">158.02W</text>
<text x="570.9" y="234.6" font-size="10.0" fill="#4a4a4a" text-anchor="middle" textLength="22.5" lengthAdjust="spacingAndGlyphs">158W</text>
<text x="633.4" y="234.6" font-size="10.0" fill="#4a4a4a" text-anchor="middle" textLength="36.5" lengthAdjust="spacingAndGlyphs">157.98W</text>
<path d="M568.4,238.2H584.9 M582.4,236.8L584.9,238.2L582.4,239.6" stroke="#555" stroke-width="0.8" fill="none"/>
<text x="576.4" y="244.2" font-size="6.3" fill="#555" text-anchor="middle">10</text>
<g clip-path="url(#clipc)">
<path d="M108.5,240.0 L108.5,245.0 L108.7,252.0 C108.8,253.0 109.0,255.8 109.2,258.0 C109.4,260.2 109.0,263.2 109.7,265.4 C110.4,267.6 112.0,269.3 113.5,271.0 C115.0,272.7 117.1,273.9 118.4,275.6 C119.7,277.3 120.5,279.3 121.5,281.0 C122.5,282.7 123.6,283.4 124.6,285.9 C125.6,288.4 126.9,292.9 127.7,296.1 C128.5,299.3 129.3,302.4 129.6,305.0 C129.9,307.6 130.2,309.0 129.6,311.4 C129.0,313.8 127.7,316.9 126.3,319.6 C124.9,322.3 121.8,325.1 121.4,327.8 C121.0,330.5 122.5,333.6 124.0,336.0 C125.5,338.4 129.2,340.3 130.5,342.5 C131.8,344.7 131.7,346.8 132.0,349.0 C132.3,351.2 132.7,353.8 132.3,356.0 C131.9,358.2 130.9,360.3 129.6,362.2 C128.3,364.1 126.3,365.7 124.7,367.1 C123.1,368.5 121.6,369.3 119.8,370.4 C118.0,371.4 116.8,372.3 113.9,373.4 C111.0,374.5 106.3,376.8 102.5,376.8 C98.7,376.8 94.5,374.7 91.0,373.4 C87.5,372.1 85.2,370.3 81.8,368.8 C78.3,367.3 72.2,365.0 70.3,364.2 L60.0,364.0 L60.0,475.0 L156.0,475.0 L155.3,463.0 C154.9,462.2 153.4,460.3 153.0,458.4 C152.6,456.5 152.5,453.4 153.0,451.5 C153.5,449.6 154.8,448.4 156.0,447.0 C157.2,445.6 158.3,444.0 160.0,443.0 C161.7,442.0 163.7,441.5 166.0,441.0 C168.3,440.5 172.0,440.7 174.0,440.0 C176.0,439.3 177.4,438.3 178.0,437.0 C178.6,435.7 178.5,433.3 177.5,432.0 C176.5,430.7 173.8,430.1 172.0,429.0 C170.2,427.9 167.6,427.2 166.5,425.7 C165.4,424.2 165.9,421.9 165.5,420.0 C165.1,418.1 164.6,416.2 164.0,414.0 C163.4,411.8 162.7,409.0 162.0,407.0 C161.3,405.0 160.6,404.0 160.0,402.0 C159.4,400.0 158.8,398.0 158.5,395.0 C158.2,392.0 158.4,387.0 158.5,384.2 C158.6,381.4 159.0,380.1 159.3,378.0 C159.7,375.9 159.8,373.7 160.6,371.9 C161.4,370.1 162.5,368.4 164.3,367.0 C166.1,365.6 169.0,364.3 171.6,363.3 C174.2,362.3 177.6,361.6 180.0,360.8 C182.4,360.0 184.2,359.5 186.0,358.5 C187.8,357.5 189.8,356.9 190.9,355.0 C192.0,353.1 192.1,350.2 192.7,346.9 C193.3,343.6 193.9,338.1 194.5,335.0 C195.1,331.9 195.5,330.2 196.4,328.5 C197.3,326.8 198.8,326.2 200.0,325.0 C201.2,323.8 202.4,322.3 203.8,321.1 C205.2,319.9 207.0,319.3 208.5,318.0 C210.0,316.7 211.8,315.4 212.9,313.2 C214.0,311.0 214.7,307.1 215.0,305.0 C215.3,302.9 214.9,304.1 215.0,300.9 C215.1,297.6 215.1,288.6 215.5,285.5 C215.9,282.4 216.8,284.1 217.6,282.5 C218.3,280.9 219.2,277.5 220.0,276.0 C220.8,274.5 220.9,273.9 222.2,273.3 C223.5,272.7 226.2,271.3 227.9,272.1 C229.6,272.9 230.8,275.8 232.5,277.9 C234.2,280.0 236.1,283.0 238.2,284.7 C240.3,286.4 243.8,286.7 245.1,288.2 C246.4,289.7 246.7,291.8 246.3,293.9 C245.9,296.0 243.2,298.5 242.8,300.8 C242.4,303.1 242.8,305.8 244.0,307.7 C245.2,309.6 248.0,310.4 249.7,312.3 C251.4,314.2 252.8,316.5 254.3,319.2 C255.8,321.9 257.0,325.3 258.9,328.4 C260.8,331.5 263.5,334.5 265.8,337.6 C268.1,340.7 270.4,343.7 272.7,346.8 C275.0,349.9 277.7,353.7 279.6,356.0 C281.5,358.3 282.5,359.5 284.0,360.5 C285.5,361.5 286.1,360.5 288.8,361.9 C291.5,363.3 297.1,366.5 300.2,368.8 C303.2,371.1 304.8,373.4 307.1,375.7 C309.4,378.0 312.2,381.2 314.0,382.6 C315.8,384.1 317.1,384.1 317.7,384.4 L330.0,385.0 L330.0,240.0 L108.5,240.0 Z" fill="#00ecec"/>
<path d="M110.6,240.0 L110.6,245.0 L110.8,252.0 C110.8,253.0 111.0,255.8 111.1,258.0 C111.2,260.2 110.8,263.2 111.5,265.4 C112.2,267.6 114.0,269.3 115.5,271.0 C117.0,272.7 119.1,273.9 120.5,275.6 C121.9,277.3 122.7,279.3 123.8,281.0 C124.9,282.7 126.3,283.4 127.2,285.9 C128.1,288.4 128.6,292.9 129.2,296.1 C129.8,299.3 130.7,302.4 131.0,305.0 C131.3,307.6 131.4,309.0 131.0,311.4 C130.6,313.8 129.8,316.9 128.5,319.6 C127.2,322.3 123.4,325.1 123.0,327.8 C122.6,330.5 124.4,333.6 126.0,336.0 C127.6,338.4 131.2,340.3 132.5,342.5 C133.8,344.7 133.6,346.8 133.8,349.0 C134.1,351.2 134.4,353.7 134.0,356.0 C133.6,358.3 132.6,360.9 131.3,363.0 C130.0,365.1 127.9,366.9 126.2,368.4 C124.5,369.9 123.0,370.7 121.0,371.8 C119.0,372.9 117.6,373.9 114.5,375.0 C111.4,376.1 106.4,378.4 102.5,378.4 C98.6,378.4 94.5,376.3 91.0,375.0 C87.5,373.7 85.2,371.9 81.8,370.4 C78.3,368.9 72.2,366.6 70.3,365.8 L60.0,365.6 L60.0,475.0 L155.0,475.0 L154.3,463.0 C153.9,462.2 152.4,460.3 152.0,458.4 C151.6,456.5 151.5,453.5 152.0,451.5 C152.5,449.5 153.8,448.0 155.0,446.5 C156.2,445.0 157.2,443.4 159.0,442.3 C160.8,441.2 163.7,440.6 166.0,440.0 C168.3,439.4 171.2,439.2 173.0,438.5 C174.8,437.8 176.1,437.0 176.5,436.0 C176.9,435.0 176.4,433.5 175.5,432.5 C174.6,431.5 172.5,430.8 170.8,429.8 C169.1,428.8 166.5,427.9 165.5,426.3 C164.5,424.7 165.0,422.1 164.6,420.0 C164.2,417.9 163.8,416.2 163.2,414.0 C162.6,411.8 161.9,409.0 161.2,407.0 C160.5,405.0 159.8,404.0 159.2,402.0 C158.6,400.0 157.9,398.0 157.7,395.0 C157.4,392.0 157.6,387.0 157.7,384.2 C157.8,381.4 158.2,380.1 158.5,378.0 C158.8,375.9 159.0,373.3 159.8,371.3 C160.6,369.3 161.6,367.5 163.5,366.0 C165.4,364.5 168.3,363.3 171.0,362.3 C173.7,361.3 177.3,360.6 179.5,359.8 C181.7,359.0 182.6,358.3 184.0,357.5 C185.4,356.7 186.7,356.8 188.0,355.0 C189.3,353.2 191.1,350.2 191.8,346.9 C192.6,343.6 192.2,338.1 192.5,335.0 C192.8,331.9 192.7,330.2 193.6,328.5 C194.5,326.8 196.6,325.8 198.0,324.5 C199.4,323.2 200.7,322.1 202.0,321.0 C203.3,319.9 204.7,319.3 206.0,318.0 C207.3,316.7 208.6,316.1 209.8,313.2 C211.0,310.3 212.2,305.5 213.0,300.9 C213.8,296.3 213.9,289.1 214.5,285.5 C215.1,281.9 215.7,281.1 216.5,279.0 C217.3,276.9 218.6,274.5 219.5,273.0 C220.4,271.5 220.5,270.6 222.0,270.0 C223.5,269.4 226.5,268.6 228.5,269.6 C230.5,270.6 232.2,273.6 234.0,275.8 C235.8,278.0 237.5,280.9 239.6,282.6 C241.7,284.4 245.2,284.4 246.6,286.3 C248.0,288.2 248.5,291.5 248.2,293.9 C247.9,296.3 245.2,298.6 244.8,300.8 C244.4,303.0 244.9,305.3 246.0,307.0 C247.1,308.7 249.5,309.1 251.2,311.0 C252.8,312.9 254.3,315.5 255.9,318.2 C257.4,320.9 258.6,324.3 260.5,327.4 C262.4,330.5 265.1,333.5 267.4,336.6 C269.7,339.7 272.0,342.8 274.3,345.8 C276.6,348.8 279.3,352.6 281.2,354.8 C283.1,357.0 283.9,358.0 285.5,358.8 C287.1,359.6 287.9,358.5 290.5,359.8 C293.1,361.1 298.4,364.3 301.4,366.6 C304.4,368.9 306.1,371.4 308.4,373.7 C310.7,376.0 313.6,379.2 315.2,380.6 C316.8,382.0 317.5,381.8 318.0,382.0 L330.0,383.0 L330.0,240.0 L110.6,240.0 Z" fill="#01a0f6"/>
<path d="M111.6,240.0 L111.6,245.0 L111.8,252.0 C111.8,253.0 111.9,255.8 112.0,258.0 C112.1,260.2 111.5,263.2 112.3,265.4 C113.0,267.6 115.0,269.3 116.5,271.0 C118.0,272.7 120.1,273.9 121.5,275.6 C122.9,277.3 123.7,279.3 124.8,281.0 C125.9,282.7 127.1,283.4 128.0,285.9 C128.9,288.4 129.2,292.9 130.0,296.1 C130.8,299.3 132.3,302.4 133.0,305.0 C133.7,307.6 133.9,309.0 134.0,311.4 C134.1,313.8 134.0,316.9 133.7,319.6 C133.4,322.3 131.9,325.1 132.0,327.8 C132.1,330.5 133.7,333.6 134.5,336.0 C135.3,338.4 136.4,340.3 137.0,342.5 C137.6,344.7 137.9,346.8 137.8,349.0 C137.7,351.2 137.3,353.5 136.5,356.0 C135.7,358.5 134.3,361.6 132.9,363.9 C131.5,366.1 129.7,368.0 128.0,369.5 C126.3,371.0 124.7,371.9 122.5,373.0 C120.3,374.1 118.3,375.2 115.0,376.3 C111.7,377.4 106.5,379.6 102.5,379.6 C98.5,379.6 94.5,377.5 91.0,376.2 C87.5,374.9 85.2,373.1 81.8,371.6 C78.3,370.1 72.2,367.8 70.3,367.0 L60.0,367.0 L60.0,475.0 L150.0,475.0 L149.8,464.0 C149.5,462.8 149.0,459.1 148.2,456.8 C147.4,454.6 146.3,452.6 145.1,450.5 C143.9,448.4 142.3,446.6 141.0,444.3 C139.7,442.1 135.7,438.2 137.2,437.0 C138.7,435.8 146.0,436.5 150.0,437.0 C154.0,437.5 159.0,440.2 161.2,440.0 C163.4,439.8 162.8,437.7 163.2,436.0 C163.6,434.3 163.7,431.8 163.8,430.0 C163.9,428.2 164.0,426.7 164.0,425.0 C164.0,423.3 163.9,421.8 163.6,420.0 C163.3,418.2 162.9,416.2 162.3,414.0 C161.8,411.8 161.0,409.0 160.3,407.0 C159.7,405.0 159.0,404.0 158.4,402.0 C157.8,400.0 157.2,398.0 156.9,395.0 C156.7,392.0 156.8,387.0 156.9,384.2 C157.0,381.4 157.3,380.2 157.7,378.0 C158.0,375.8 158.2,372.9 159.0,370.8 C159.8,368.7 161.0,366.9 162.8,365.3 C164.6,363.7 167.8,362.5 170.0,361.3 C172.2,360.1 174.0,358.9 176.0,358.0 C178.0,357.1 180.5,356.5 182.0,356.0 C183.5,355.5 183.8,356.5 185.0,355.0 C186.2,353.5 188.1,350.2 189.0,346.9 C189.9,343.6 190.0,338.1 190.5,335.0 C191.0,331.9 190.9,330.2 191.8,328.5 C192.7,326.8 194.6,325.8 196.0,324.5 C197.4,323.2 198.7,322.2 200.0,321.0 C201.3,319.8 202.9,318.8 204.0,317.5 C205.1,316.2 205.8,316.0 206.8,313.2 C207.8,310.4 208.6,305.5 209.8,300.9 C211.0,296.3 212.7,290.5 213.9,285.5 C215.1,280.5 217.0,276.8 217.0,271.0 C217.0,265.2 214.6,254.2 214.1,250.8 L214.1,240.0 L111.6,240.0 Z" fill="#0000f6"/>
<path d="M235.9,240.0 L235.9,250.8 C237.1,251.9 240.9,254.6 242.8,257.2 C244.7,259.8 246.2,263.3 247.4,266.4 C248.6,269.5 248.9,272.6 249.7,275.6 C250.5,278.7 251.0,281.6 252.0,284.7 C253.0,287.8 254.7,290.4 255.5,293.9 C256.3,297.3 255.7,302.3 256.6,305.4 C257.6,308.5 259.3,309.6 261.2,312.3 C263.1,315.0 265.8,318.4 268.1,321.5 C270.4,324.6 273.1,327.6 275.0,330.7 C276.9,333.8 278.1,336.8 279.6,339.9 C281.1,342.9 282.8,346.1 284.2,349.0 C285.6,351.9 286.7,355.0 288.0,357.0 C289.3,359.0 289.8,359.5 292.0,361.0 C294.2,362.5 298.3,364.2 301.0,366.0 C303.7,367.8 305.8,370.0 308.0,372.0 C310.2,374.0 312.8,376.8 314.5,378.0 C316.2,379.2 317.4,379.2 318.0,379.5 L330.0,380.0 L330.0,240.0 L235.9,240.0 Z" fill="#0000f6"/>
<path d="M114.1,240.0 L114.1,245.0 L114.3,252.0 C114.5,253.0 115.1,255.8 115.5,258.0 C115.9,260.2 116.2,263.2 116.9,265.4 C117.7,267.6 118.9,269.3 120.0,271.0 C121.1,272.7 122.5,273.9 123.6,275.6 C124.7,277.3 125.6,279.3 126.6,281.0 C127.6,282.7 128.9,283.4 129.7,285.9 C130.5,288.4 130.2,292.9 131.2,296.1 C132.2,299.3 134.8,302.4 135.5,305.0 C136.2,307.6 135.5,309.0 135.5,311.4 C135.5,313.8 135.8,316.9 135.5,319.6 C135.2,322.3 133.8,325.1 134.0,327.8 C134.2,330.5 135.8,333.6 136.5,336.0 C137.2,338.4 138.0,340.3 138.5,342.5 C139.0,344.7 139.6,346.8 139.5,349.0 C139.4,351.2 138.8,353.3 138.0,356.0 C137.2,358.7 136.3,362.5 135.0,365.0 C133.7,367.5 131.8,369.3 130.0,371.0 C128.2,372.7 126.3,373.8 124.0,375.0 C121.7,376.2 119.6,377.3 116.0,378.5 C112.4,379.7 106.7,382.0 102.5,382.0 C98.3,382.0 94.5,379.8 91.0,378.5 C87.5,377.2 85.2,375.5 81.8,374.0 C78.3,372.5 72.2,370.2 70.3,369.5 L60.0,369.5 L60.0,475.0 L148.5,475.0 L148.3,464.0 C148.0,462.8 147.5,459.2 146.7,457.0 C145.9,454.8 144.8,453.0 143.6,451.0 C142.4,449.0 140.8,447.2 139.5,445.0 C138.2,442.8 135.4,439.0 135.5,437.5 C135.6,436.0 137.6,436.2 140.0,436.0 C142.4,435.8 146.7,435.7 150.0,436.0 C153.3,436.3 158.0,438.0 160.0,438.0 C162.0,438.0 161.6,437.3 162.0,436.0 C162.4,434.7 162.5,431.8 162.6,430.0 C162.7,428.2 162.8,426.7 162.8,425.0 C162.8,423.3 162.7,421.8 162.4,420.0 C162.2,418.2 161.8,416.2 161.3,414.0 C160.8,411.8 159.9,409.0 159.3,407.0 C158.7,405.0 158.1,404.0 157.5,402.0 C156.9,400.0 156.2,398.0 156.0,395.0 C155.8,392.0 155.9,387.0 156.0,384.2 C156.1,381.4 156.5,380.3 156.8,378.0 C157.1,375.7 157.2,372.5 158.0,370.3 C158.8,368.1 160.0,366.4 161.5,364.8 C163.0,363.2 165.2,361.9 167.0,360.6 C168.8,359.3 170.5,357.9 172.5,357.0 C174.5,356.1 176.8,356.7 179.0,355.0 C181.2,353.3 184.0,350.2 185.4,346.9 C186.8,343.6 186.9,338.1 187.5,335.0 C188.1,331.9 188.1,330.2 189.0,328.5 C189.9,326.8 191.7,326.1 193.0,325.0 C194.3,323.9 195.6,323.2 197.0,322.0 C198.4,320.8 200.4,319.5 201.5,318.0 C202.6,316.5 202.6,316.1 203.7,313.2 C204.8,310.3 206.4,305.5 207.8,300.9 C209.2,296.3 210.9,290.5 211.9,285.5 C212.9,280.5 214.1,276.8 213.9,271.0 C213.7,265.2 211.2,254.2 210.7,250.8 L210.7,240.0 L114.1,240.0 Z" fill="#00ff00"/>
<path d="M252.0,240.0 L252.0,250.8 C252.8,252.2 255.8,256.1 256.6,259.5 C257.4,262.9 256.6,267.2 257.0,271.0 C257.4,274.8 257.8,278.7 258.9,282.5 C260.0,286.3 262.0,290.1 263.5,293.9 C265.0,297.7 266.6,301.6 268.1,305.4 C269.6,309.2 270.8,313.4 272.7,316.9 C274.6,320.3 277.7,323.0 279.6,326.1 C281.5,329.2 282.7,332.2 284.2,335.3 C285.7,338.4 287.5,341.7 288.8,344.5 C290.1,347.3 291.1,349.9 292.0,352.0 C292.9,354.1 293.2,355.3 294.5,357.0 C295.8,358.7 297.9,360.2 300.0,362.0 C302.1,363.8 304.8,366.0 307.0,368.0 C309.2,370.0 311.2,372.5 313.0,374.0 C314.8,375.5 317.2,376.5 318.0,377.0 L330.0,378.0 L330.0,240.0 L252.0,240.0 Z" fill="#00ff00"/>
<path d="M120.8,240.0 L120.8,245.0 L121.0,252.0 C121.1,253.0 121.3,255.8 121.5,258.0 C121.7,260.2 121.7,263.2 122.0,265.4 C122.3,267.6 122.9,269.3 123.5,271.0 C124.1,272.7 124.8,273.9 125.6,275.6 C126.3,277.3 127.2,279.3 128.0,281.0 C128.8,282.7 129.8,283.4 130.5,285.9 C131.2,288.4 131.0,292.9 132.0,296.1 C133.0,299.3 135.8,302.4 136.5,305.0 C137.2,307.6 136.3,309.0 136.3,311.4 C136.3,313.8 136.5,316.9 136.3,319.6 C136.1,322.3 134.8,325.1 135.0,327.8 C135.2,330.5 136.8,333.6 137.5,336.0 C138.2,338.4 139.0,340.3 139.5,342.5 C140.0,344.7 140.5,346.8 140.5,349.0 C140.5,351.2 140.1,353.2 139.5,356.0 C138.9,358.8 138.2,363.2 137.0,366.0 C135.8,368.8 133.8,370.7 132.0,372.5 C130.2,374.3 128.5,375.7 126.0,377.0 C123.5,378.3 120.9,379.3 117.0,380.5 C113.1,381.7 106.8,384.0 102.5,384.0 C98.2,384.0 94.5,381.8 91.0,380.5 C87.5,379.2 85.2,377.5 81.8,376.0 C78.3,374.5 72.2,372.2 70.3,371.5 L60.0,371.5 L60.0,475.0 L147.0,475.0 L146.8,464.0 C146.5,462.9 146.0,459.3 145.2,457.2 C144.4,455.1 143.3,453.2 142.1,451.3 C140.9,449.4 139.3,447.7 138.0,445.5 C136.7,443.3 133.7,439.7 134.0,438.0 C134.3,436.3 137.3,435.9 140.0,435.5 C142.7,435.1 146.8,435.2 150.0,435.5 C153.2,435.8 157.2,436.9 159.0,437.0 C160.8,437.1 160.6,437.2 161.0,436.0 C161.4,434.8 161.4,431.8 161.5,430.0 C161.6,428.2 161.7,426.7 161.7,425.0 C161.7,423.3 161.5,421.8 161.3,420.0 C161.1,418.2 160.8,416.2 160.3,414.0 C159.8,411.8 158.9,409.0 158.3,407.0 C157.7,405.0 157.0,404.0 156.5,402.0 C156.0,400.0 155.4,398.0 155.2,395.0 C155.0,392.0 155.1,387.0 155.2,384.2 C155.3,381.4 155.7,380.4 156.0,378.0 C156.3,375.6 156.3,372.2 157.0,370.0 C157.7,367.8 158.7,366.2 160.0,364.5 C161.3,362.8 163.3,361.5 165.0,360.0 C166.7,358.5 168.2,356.5 170.0,355.5 C171.8,354.5 174.1,355.4 176.0,354.0 C177.9,352.6 180.4,350.1 181.7,346.9 C182.9,343.7 183.1,338.1 183.5,335.0 C183.9,331.9 183.7,330.0 184.4,328.5 C185.2,327.0 186.6,326.8 188.0,326.0 C189.4,325.2 191.2,325.0 193.0,324.0 C194.8,323.0 197.4,321.8 199.0,320.0 C200.6,318.2 201.4,316.4 202.5,313.2 C203.6,310.0 204.3,305.5 205.5,300.9 C206.7,296.3 208.9,290.5 209.8,285.5 C210.7,280.5 211.0,276.8 210.9,271.0 C210.8,265.2 209.7,254.2 209.5,250.8 L209.5,240.0 L120.8,240.0 Z" fill="#00c800"/>
<path d="M265.8,240.0 L265.8,250.8 C265.8,254.2 265.0,263.8 265.8,271.0 C266.6,278.2 268.1,287.8 270.4,293.9 C272.7,300.0 276.9,303.9 279.6,307.7 C282.3,311.5 284.6,313.4 286.5,316.9 C288.4,320.3 289.6,324.6 291.1,328.4 C292.6,332.2 294.4,336.3 295.6,339.9 C296.8,343.5 297.6,347.1 298.5,350.0 C299.4,352.9 299.8,355.0 301.0,357.0 C302.2,359.0 304.2,360.2 306.0,362.0 C307.8,363.8 310.0,366.3 312.0,368.0 C314.0,369.7 317.0,371.3 318.0,372.0 L330.0,373.0 L330.0,240.0 L265.8,240.0 Z" fill="#00c800"/>
<path d="M126.0,240.0 L126.0,245.0 L126.1,252.0 C126.1,253.0 126.1,255.8 126.1,258.0 C126.1,260.2 126.0,263.2 126.1,265.4 C126.2,267.6 126.5,269.3 126.8,271.0 C127.1,272.7 127.2,273.9 127.7,275.6 C128.2,277.3 128.9,279.3 129.5,281.0 C130.1,282.7 130.5,283.4 131.0,285.9 C131.5,288.4 131.5,292.9 132.5,296.1 C133.5,299.3 136.2,302.4 137.0,305.0 C137.8,307.6 137.0,309.0 137.0,311.4 C137.0,313.8 137.2,316.9 137.0,319.6 C136.8,322.3 135.8,325.1 136.0,327.8 C136.2,330.5 137.8,333.6 138.5,336.0 C139.2,338.4 140.0,340.3 140.5,342.5 C141.0,344.7 141.4,346.8 141.5,349.0 C141.6,351.2 141.5,353.1 141.0,356.0 C140.5,358.9 139.8,363.6 138.5,366.5 C137.2,369.4 135.4,371.6 133.5,373.5 C131.6,375.4 129.6,376.7 127.0,378.0 C124.4,379.3 122.1,380.3 118.0,381.5 C113.9,382.7 107.0,385.0 102.5,385.0 C98.0,385.0 94.5,382.8 91.0,381.5 C87.5,380.2 85.2,378.5 81.8,377.0 C78.3,375.5 72.2,373.2 70.3,372.5 L60.0,372.5 L60.0,475.0 L145.5,475.0 L145.3,464.0 C145.0,462.9 144.5,459.6 143.7,457.5 C142.9,455.4 141.8,453.5 140.6,451.6 C139.4,449.7 137.8,448.2 136.5,446.0 C135.2,443.8 131.9,440.3 132.5,438.5 C133.1,436.7 137.1,435.6 140.0,435.0 C142.9,434.4 147.0,434.8 150.0,435.0 C153.0,435.2 156.3,436.3 158.0,436.5 C159.7,436.7 159.6,437.1 160.0,436.0 C160.4,434.9 160.4,431.8 160.5,430.0 C160.6,428.2 160.7,426.7 160.7,425.0 C160.7,423.3 160.5,421.8 160.3,420.0 C160.1,418.2 159.8,416.2 159.3,414.0 C158.8,411.8 157.9,409.0 157.3,407.0 C156.7,405.0 156.1,404.0 155.6,402.0 C155.1,400.0 154.6,398.0 154.4,395.0 C154.2,392.0 154.3,387.0 154.4,384.2 C154.5,381.4 154.7,380.4 155.0,378.0 C155.3,375.6 155.5,372.1 156.0,370.0 C156.5,367.9 157.0,367.0 158.0,365.5 C159.0,364.0 160.2,362.9 162.0,361.0 C163.8,359.1 167.3,355.4 169.0,354.0 C170.7,352.6 170.5,353.7 172.0,352.5 C173.5,351.3 176.7,349.8 178.0,346.9 C179.3,344.0 179.6,338.1 180.0,335.0 C180.4,331.9 179.0,330.0 180.7,328.5 C182.4,327.0 186.9,326.9 190.0,326.1 C193.1,325.3 197.4,326.0 199.2,323.8 C201.0,321.6 200.0,317.0 200.6,313.2 C201.2,309.4 201.7,305.5 202.7,300.9 C203.7,296.3 206.0,290.5 206.8,285.5 C207.7,280.5 207.7,276.8 207.8,271.0 C207.9,265.2 207.3,254.2 207.2,250.8 L207.2,240.0 L126.0,240.0 Z" fill="#009000"/>
<path d="M277.3,240.0 L277.3,250.8 C276.9,252.6 275.8,257.7 275.0,261.8 C274.2,265.9 272.3,271.0 272.7,275.6 C273.1,280.2 275.4,285.1 277.3,289.3 C279.2,293.5 281.9,297.0 284.2,300.8 C286.5,304.6 289.2,308.5 291.1,312.3 C293.0,316.1 294.1,320.0 295.6,323.8 C297.1,327.6 298.8,331.8 300.2,335.3 C301.6,338.8 302.9,342.1 304.0,345.0 C305.1,347.9 305.8,350.5 307.0,353.0 C308.2,355.5 309.2,357.8 311.0,360.0 C312.8,362.2 316.8,365.0 318.0,366.0 L330.0,367.0 L330.0,240.0 L277.3,240.0 Z" fill="#009000"/>
<path d="M130.6,240.0 L130.7,252.0 C130.9,253.0 131.3,255.8 131.7,258.0 C132.0,260.2 132.5,263.2 132.8,265.4 C133.1,267.6 133.1,269.3 133.3,271.0 C133.5,272.7 133.6,273.9 133.8,275.6 C134.0,277.3 134.1,279.3 134.3,281.0 C134.5,282.7 134.6,283.4 134.8,285.9 C135.0,288.4 134.8,292.9 135.3,296.1 C135.8,299.3 137.6,302.4 138.0,305.0 C138.4,307.6 138.0,309.0 138.0,311.4 C138.0,313.8 137.8,316.9 137.8,319.6 C137.8,322.3 137.7,325.2 137.8,327.8 C137.9,330.4 137.8,332.6 138.4,335.0 C139.0,337.4 140.5,339.9 141.5,342.4 C142.5,344.9 143.5,347.6 144.6,349.8 C145.7,352.1 147.5,353.9 148.3,355.9 C149.1,357.9 148.7,360.6 149.5,362.0 C150.3,363.4 151.6,364.5 153.2,364.5 C154.8,364.5 157.7,363.2 159.3,362.0 C160.9,360.8 161.3,358.5 163.0,357.1 C164.7,355.7 167.3,355.0 169.2,353.4 C171.0,351.8 172.9,349.6 174.1,347.3 C175.3,345.1 176.0,341.9 176.6,339.9 C177.2,337.8 177.6,336.9 177.8,335.0 C178.0,333.1 176.9,330.2 177.8,328.5 C178.7,326.8 181.0,325.7 183.0,324.5 C185.0,323.3 188.3,322.6 190.0,321.5 C191.7,320.4 191.9,319.4 193.0,318.0 C194.1,316.6 195.6,314.5 196.5,313.2 C197.4,311.9 197.7,312.0 198.5,310.0 C199.3,308.0 200.7,303.7 201.5,301.0 C202.3,298.3 202.9,296.5 203.5,293.9 C204.1,291.3 204.7,289.3 204.8,285.5 C204.9,281.7 204.5,276.8 204.3,271.0 C204.1,265.2 203.6,254.2 203.5,250.8 L203.5,240.0 L130.6,240.0 Z" fill="#ffff00"/>
<path d="M295.6,240.0 L295.6,250.8 C294.5,252.2 291.1,256.5 288.8,259.5 C286.5,262.5 283.4,265.6 281.9,268.7 C280.4,271.8 279.2,274.5 279.6,277.9 C280.0,281.3 282.3,285.5 284.2,289.3 C286.1,293.1 288.8,297.0 291.1,300.8 C293.4,304.6 296.0,308.5 297.9,312.3 C299.8,316.1 301.0,319.6 302.5,323.8 C304.0,328.0 305.9,333.7 307.1,337.6 C308.4,341.5 309.0,344.1 310.0,347.0 C311.0,349.9 311.7,352.8 313.0,355.0 C314.3,357.2 317.2,359.2 318.0,360.0 L330.0,361.0 L330.0,240.0 L295.6,240.0 Z" fill="#ffff00"/>
<path d="M137.3,240.0 L137.4,252.0 C137.5,253.0 137.8,255.8 138.1,258.0 C138.3,260.2 138.7,263.2 138.9,265.4 C139.1,267.6 139.2,269.3 139.4,271.0 C139.6,272.7 139.8,273.9 140.0,275.6 C140.2,277.3 140.3,279.3 140.5,281.0 C140.7,282.7 140.8,283.4 141.0,285.9 C141.2,288.4 141.3,292.9 141.5,296.1 C141.7,299.3 142.0,302.4 142.0,305.0 C142.0,307.6 141.7,309.0 141.5,311.4 C141.3,313.8 141.1,316.9 141.0,319.6 C140.9,322.3 140.8,325.2 141.0,327.8 C141.2,330.4 141.3,332.6 142.1,335.0 C142.9,337.4 144.5,340.1 145.8,342.4 C147.1,344.6 148.9,346.9 150.1,348.5 C151.3,350.1 152.1,351.6 153.2,352.2 C154.3,352.8 155.5,352.6 156.9,352.2 C158.3,351.8 160.2,350.8 161.8,349.8 C163.4,348.8 165.3,347.6 166.7,346.1 C168.1,344.7 169.6,343.0 170.4,341.1 C171.2,339.2 171.3,337.1 171.6,335.0 C171.9,332.9 171.3,330.7 172.4,328.5 C173.5,326.3 176.1,323.6 178.0,322.0 C179.9,320.4 182.0,319.9 184.0,319.0 C186.0,318.1 188.4,317.6 190.0,316.9 C191.6,316.2 192.5,316.2 193.4,314.6 C194.3,313.0 195.1,309.3 195.5,307.0 C195.9,304.7 195.7,303.1 196.0,300.9 C196.3,298.7 197.3,296.5 197.5,293.9 C197.7,291.3 197.2,289.3 197.0,285.5 C196.8,281.7 196.1,276.8 196.0,271.0 C195.9,265.2 196.4,254.2 196.5,250.8 L196.5,240.0 L137.3,240.0 Z" fill="#e7c000"/>
<path d="M297.9,261.8 C300.6,259.8 302.6,259.6 305.0,259.0 C307.4,258.4 310.8,258.2 312.0,258.0 L330.0,257.5 L330.0,362.0 L318.6,360.0 C317.8,356.6 315.5,345.9 314.0,339.9 C312.5,333.9 310.9,328.4 309.4,323.8 C307.9,319.2 306.7,316.1 304.8,312.3 C302.9,308.5 300.2,304.6 297.9,300.8 C295.6,297.0 293.0,293.1 291.1,289.3 C289.2,285.5 286.9,280.9 286.5,277.9 C286.1,274.8 286.9,273.7 288.8,271.0 C290.7,268.3 295.2,263.8 297.9,261.8 Z" fill="#e7c000"/>
<path d="M150.7,264.0 C152.8,262.8 155.7,261.7 159.9,261.5 C164.1,261.3 171.7,261.8 175.9,263.0 C180.1,264.2 183.0,266.5 185.1,269.0 C187.2,271.5 187.7,275.2 188.3,278.0 C189.0,280.8 188.8,283.7 189.0,286.0 C189.2,288.3 189.5,290.3 189.4,292.0 C189.3,293.7 189.1,294.6 188.4,296.1 C187.7,297.7 186.8,300.4 185.3,301.3 C183.8,302.2 181.2,302.2 179.2,301.3 C177.1,300.4 174.7,298.0 173.0,296.1 C171.3,294.2 170.8,290.4 169.0,290.0 C167.2,289.6 164.5,294.4 162.2,293.9 C159.9,293.4 157.6,288.9 155.3,287.0 C153.0,285.1 149.9,284.4 148.4,282.5 C146.9,280.6 146.3,277.9 146.1,275.6 C145.9,273.3 146.4,270.7 147.2,268.8 C148.0,266.9 148.6,265.2 150.7,264.0 Z" fill="#ff9000"/>
<path d="M155.6,300.2 C156.2,299.5 157.8,301.6 158.7,303.3 C159.5,305.0 159.8,308.3 160.7,310.5 C161.5,312.7 162.9,314.6 163.8,316.6 C164.7,318.7 165.4,320.4 165.9,322.8 C166.4,325.2 167.1,328.4 166.9,331.0 C166.8,333.6 166.0,336.3 165.0,338.2 C164.0,340.1 163.4,341.8 161.0,342.4 C158.6,343.0 153.1,343.1 150.5,342.0 C147.9,340.9 146.6,338.1 145.4,336.1 C144.2,334.1 143.3,331.9 143.3,330.0 C143.3,328.1 144.2,326.2 145.4,324.8 C146.6,323.4 149.0,322.8 150.5,321.8 C152.0,320.8 153.7,320.1 154.6,318.7 C155.5,317.3 156.0,315.5 156.1,313.6 C156.2,311.7 155.2,309.6 155.1,307.4 C155.0,305.2 155.0,300.9 155.6,300.2 Z" fill="#ff9000"/>
<path d="M149.0,344.0 C149.5,343.2 152.5,345.0 154.0,346.0 C155.5,347.0 157.7,349.0 158.0,350.0 C158.3,351.0 157.2,351.8 156.0,352.0 C154.8,352.2 152.2,352.3 151.0,351.0 C149.8,349.7 148.5,344.8 149.0,344.0 Z" fill="#ffff00"/>
<path d="M330.0,262.0 L318.0,262.0 C316.7,262.2 312.2,262.9 310.0,263.5 C307.8,264.1 307.2,264.2 304.8,265.5 C302.4,266.8 297.9,268.6 295.6,271.0 C293.3,273.4 291.1,276.8 291.1,280.2 C291.1,283.6 293.7,287.8 295.6,291.6 C297.5,295.4 300.2,299.3 302.5,303.1 C304.8,306.9 307.5,311.2 309.4,314.6 C311.3,318.1 312.5,321.1 314.0,323.8 C315.5,326.5 317.8,329.6 318.6,330.7 L330.0,331.0 L330.0,262.0 Z" fill="#ff9000"/>
<path d="M101.3,390.4 C103.6,388.9 111.3,388.0 115.3,387.0 C119.2,386.0 122.4,385.1 125.0,384.5 C127.6,383.9 129.3,384.6 130.9,383.5 C132.5,382.4 133.6,380.1 134.8,378.0 C136.0,375.9 137.0,372.8 138.0,371.0 C139.0,369.2 139.9,367.5 141.0,367.0 C142.1,366.5 143.4,367.0 144.6,368.2 C145.8,369.4 147.1,372.3 148.3,374.3 C149.5,376.3 150.6,377.3 151.8,380.0 C153.0,382.7 154.7,386.0 155.3,390.4 C155.9,394.8 155.6,401.2 155.3,406.1 C155.0,411.0 154.2,415.6 153.6,420.0 C153.0,424.4 153.0,429.8 151.8,432.2 C150.6,434.6 148.3,434.7 146.6,434.5 C144.9,434.3 142.6,433.1 141.4,431.0 C140.2,428.9 141.3,423.6 139.6,421.8 C137.8,420.0 134.4,420.3 130.9,420.0 C127.4,419.7 122.2,420.4 118.7,420.0 C115.2,419.6 112.3,418.8 110.0,417.4 C107.7,415.9 106.1,413.8 104.8,411.3 C103.5,408.8 102.8,405.2 102.2,402.6 C101.6,400.0 101.5,397.7 101.3,395.7 C101.1,393.7 99.0,391.8 101.3,390.4 Z" fill="#ffff00"/>
<path d="M118.0,388.0 C119.5,386.1 122.7,386.9 125.0,386.5 C127.3,386.1 130.0,386.9 132.0,385.5 C134.0,384.1 135.7,380.2 137.0,378.0 C138.3,375.8 138.9,373.0 140.0,372.0 C141.1,371.0 142.4,371.2 143.5,372.0 C144.6,372.8 145.3,375.0 146.5,377.0 C147.7,379.0 149.4,381.5 150.5,384.0 C151.6,386.5 152.6,388.3 153.0,392.0 C153.4,395.7 153.2,401.5 153.0,406.0 C152.8,410.5 152.1,415.3 151.5,419.0 C150.9,422.7 150.3,426.2 149.5,428.0 C148.7,429.8 147.6,430.7 146.5,430.0 C145.4,429.3 143.8,425.8 143.0,424.0 C142.2,422.2 143.3,420.2 141.5,419.0 C139.7,417.8 135.2,417.5 132.0,417.0 C128.8,416.5 124.3,417.2 122.0,416.0 C119.7,414.8 119.0,413.0 118.0,410.0 C117.0,407.0 116.0,401.7 116.0,398.0 C116.0,394.3 116.5,389.9 118.0,388.0 Z" fill="#e7c000"/>
<path d="M122.2,399.0 C123.1,397.0 124.6,394.2 127.5,392.5 C130.4,390.8 135.8,389.4 139.5,389.0 C143.2,388.6 147.4,389.0 149.5,390.4 C151.6,391.8 151.9,394.8 152.2,397.4 C152.5,400.0 152.2,404.1 151.3,406.1 C150.4,408.1 149.1,409.0 146.6,409.6 C144.1,410.2 139.3,409.9 136.1,409.6 C132.9,409.3 129.8,408.8 127.5,407.9 C125.2,407.0 123.1,405.9 122.2,404.4 C121.3,402.9 121.3,401.0 122.2,399.0 Z" fill="#ff9000"/>
<path d="M60.0,405.0 L70.0,406.1 C71.7,406.7 76.9,407.3 80.4,409.6 C83.9,411.9 87.7,415.6 90.9,420.0 C94.1,424.4 97.9,431.3 99.6,435.7 C101.3,440.1 101.9,443.3 101.3,446.2 C100.7,449.1 99.0,451.4 96.1,453.1 C93.2,454.8 88.2,456.0 83.9,456.6 C79.6,457.2 72.3,456.6 70.0,456.6 L60.0,456.0 L60.0,405.0 Z" fill="#ffff00"/>
<path d="M60.0,416.0 L70.0,418.0 C71.7,419.0 77.0,421.7 80.0,424.0 C83.0,426.3 86.3,429.3 88.0,432.0 C89.7,434.7 90.7,438.0 90.0,440.0 C89.3,442.0 87.0,443.7 84.0,444.0 C81.0,444.3 74.0,442.3 72.0,442.0 L60.0,440.0 L60.0,416.0 Z" fill="#e7c000"/>
<path d="M227.9,390.6 C229.4,389.7 232.7,392.1 235.9,392.9 C239.2,393.7 243.9,393.9 247.4,395.2 C250.9,396.5 254.5,398.8 256.6,400.9 C258.7,403.0 260.4,405.7 260.0,407.8 C259.6,409.9 256.8,412.2 254.3,413.6 C251.8,415.0 248.2,416.1 245.1,415.9 C242.0,415.7 238.6,413.9 235.9,412.4 C233.2,410.9 230.5,409.0 229.0,406.7 C227.5,404.4 226.9,401.3 226.7,398.6 C226.5,395.9 226.4,391.6 227.9,390.6 Z" fill="#00ecec"/>
<path d="M233.6,399.8 C234.8,398.8 238.2,398.0 240.5,398.6 C242.8,399.2 246.6,401.7 247.4,403.2 C248.2,404.7 246.6,407.0 245.1,407.8 C243.6,408.6 240.1,408.4 238.2,407.8 C236.3,407.2 234.4,405.7 233.6,404.4 C232.8,403.1 232.4,400.8 233.6,399.8 Z" fill="#01a0f6"/>
<path d="M204.9,429.6 C206.4,429.0 210.1,429.8 213.0,430.8 C215.9,431.8 218.8,433.5 222.2,435.4 C225.6,437.3 230.7,439.6 233.6,442.3 C236.5,445.0 238.6,449.4 239.4,451.5 C240.2,453.6 239.5,454.5 238.2,454.9 C236.8,455.3 233.6,454.8 231.3,453.8 C229.0,452.9 227.2,450.7 224.5,449.2 C221.8,447.7 218.4,446.1 215.3,444.6 C212.2,443.1 208.0,441.7 206.1,440.0 C204.2,438.3 204.0,435.9 203.8,434.2 C203.6,432.5 203.4,430.2 204.9,429.6 Z" fill="#00ecec"/>
<path d="M208.4,433.1 C209.7,432.9 212.3,434.4 215.0,435.5 C217.7,436.6 221.8,438.3 224.5,440.0 C227.2,441.7 230.6,444.2 231.3,445.7 C232.1,447.2 230.6,449.1 229.0,449.2 C227.4,449.2 224.8,447.4 222.0,446.0 C219.2,444.6 214.5,442.5 212.0,441.0 C209.5,439.5 207.6,438.3 207.0,437.0 C206.4,435.7 207.1,433.4 208.4,433.1 Z" fill="#01a0f6"/>
<path d="M149.5,442.5 C150.2,442.1 153.0,441.7 154.0,441.8 C155.0,441.9 155.5,442.6 155.5,443.0 C155.5,443.4 154.9,444.2 154.0,444.5 C153.1,444.8 150.8,444.8 150.0,444.5 C149.2,444.2 148.8,442.9 149.5,442.5 Z" fill="#00ecec" stroke="#00ecec" stroke-width="1.6" stroke-linejoin="round"/>
<path d="M149.5,442.5 C150.2,442.1 153.0,441.7 154.0,441.8 C155.0,441.9 155.5,442.6 155.5,443.0 C155.5,443.4 154.9,444.2 154.0,444.5 C153.1,444.8 150.8,444.8 150.0,444.5 C149.2,444.2 148.8,442.9 149.5,442.5 Z" fill="#ffffff"/>
<path d="M60.0,372.5 L70.3,373.0 C72.2,373.8 78.3,376.0 81.8,377.5 C85.2,379.0 88.0,380.6 91.0,382.0 C94.0,383.4 98.5,384.3 100.0,386.0 C101.5,387.7 100.8,390.0 100.0,392.0 C99.2,394.0 97.3,396.3 95.0,398.0 C92.7,399.7 89.5,401.0 86.0,402.0 C82.5,403.0 76.0,403.7 74.0,404.0 L60.0,404.0 L60.0,372.5 Z" fill="#00c800"/>
<path d="M60.0,376.0 L70.3,376.5 C72.2,377.2 78.5,379.6 81.8,381.0 C85.1,382.4 87.8,383.5 90.0,385.0 C92.2,386.5 95.0,388.2 95.0,390.0 C95.0,391.8 92.5,394.5 90.0,396.0 C87.5,397.5 83.7,398.3 80.0,399.0 C76.3,399.7 70.0,399.8 68.0,400.0 L60.0,399.0 L60.0,376.0 Z" fill="#00ff00"/>
<circle cx="153.4" cy="327.2" r="1.2" fill="#ff0000"/>
<path d="M156.0,302.0 C156.3,303.3 157.3,307.3 158.0,310.0 C158.7,312.7 159.3,315.3 160.0,318.0 C160.7,320.7 161.8,323.3 162.0,326.0 C162.2,328.7 161.7,331.7 161.0,334.0 C160.3,336.3 158.5,339.0 158.0,340.0" fill="none" stroke="#7080c0" stroke-width="0.80" stroke-dasharray="1.5,1.3"/>
<path d="M160.0,300.0 C160.5,301.3 162.0,305.0 163.0,308.0 C164.0,311.0 165.3,314.7 166.0,318.0 C166.7,321.3 166.8,326.3 167.0,328.0" fill="none" stroke="#7080c0" stroke-width="0.80" stroke-dasharray="1.5,1.3"/>
<path d="M150.0,330.0 C151.0,330.3 154.3,331.0 156.0,332.0 C157.7,333.0 159.3,335.3 160.0,336.0" fill="none" stroke="#7080c0" stroke-width="0.80" stroke-dasharray="1.5,1.3"/>
<path d="M176.0,256.0 C177.0,255.3 179.7,252.3 182.0,252.0 C184.3,251.7 187.7,253.0 190.0,254.0 C192.3,255.0 195.0,257.3 196.0,258.0" fill="none" stroke="#7080c0" stroke-width="0.80" stroke-dasharray="1.5,1.3"/>
<path d="M186.0,304.0 C187.0,305.3 190.3,309.3 192.0,312.0 C193.7,314.7 195.3,318.7 196.0,320.0" fill="none" stroke="#7080c0" stroke-width="0.80" stroke-dasharray="1.5,1.3"/>
<path d="M70.0,262.0 C71.3,263.0 75.0,265.7 78.0,268.0 C81.0,270.3 84.7,273.0 88.0,276.0 C91.3,279.0 95.0,282.7 98.0,286.0 C101.0,289.3 103.7,292.7 106.0,296.0 C108.3,299.3 110.0,302.7 112.0,306.0 C114.0,309.3 117.0,314.3 118.0,316.0" fill="none" stroke="#f08585" stroke-width="0.80"/>
<path d="M70.0,265.5 C71.3,266.5 75.0,269.2 78.0,271.5 C81.0,273.8 84.7,276.5 88.0,279.5 C91.3,282.5 95.0,286.2 98.0,289.5 C101.0,292.8 103.7,296.2 106.0,299.5 C108.3,302.8 110.0,306.2 112.0,309.5 C114.0,312.8 117.0,317.8 118.0,319.5" fill="none" stroke="#f08585" stroke-width="0.80"/>
<path d="M70.0,269.0 C71.3,270.0 75.0,272.7 78.0,275.0 C81.0,277.3 84.7,280.0 88.0,283.0 C91.3,286.0 95.0,289.7 98.0,293.0 C101.0,296.3 103.7,299.7 106.0,303.0 C108.3,306.3 110.0,309.7 112.0,313.0 C114.0,316.3 117.0,321.3 118.0,323.0" fill="none" stroke="#f08585" stroke-width="0.80"/>
<path d="M70.0,300.0 C71.7,301.0 76.3,303.7 80.0,306.0 C83.7,308.3 88.3,311.3 92.0,314.0 C95.7,316.7 99.0,319.3 102.0,322.0 C105.0,324.7 107.7,327.3 110.0,330.0 C112.3,332.7 114.3,335.3 116.0,338.0 C117.7,340.7 119.3,344.7 120.0,346.0" fill="none" stroke="#f08585" stroke-width="0.80"/>
<path d="M70.0,303.0 C71.7,304.0 76.3,306.7 80.0,309.0 C83.7,311.3 88.3,314.3 92.0,317.0 C95.7,319.7 99.0,322.3 102.0,325.0 C105.0,327.7 107.7,330.3 110.0,333.0 C112.3,335.7 114.3,338.3 116.0,341.0 C117.7,343.7 119.3,347.7 120.0,349.0" fill="none" stroke="#f08585" stroke-width="0.80"/>
<path d="M70.0,306.0 C71.7,307.0 76.3,309.7 80.0,312.0 C83.7,314.3 88.3,317.3 92.0,320.0 C95.7,322.7 99.0,325.3 102.0,328.0 C105.0,330.7 107.7,333.3 110.0,336.0 C112.3,338.7 114.3,341.3 116.0,344.0 C117.7,346.7 119.3,350.7 120.0,352.0" fill="none" stroke="#f08585" stroke-width="0.80"/>
<path d="M70.0,309.0 C71.7,310.0 76.3,312.7 80.0,315.0 C83.7,317.3 88.3,320.3 92.0,323.0 C95.7,325.7 99.0,328.3 102.0,331.0 C105.0,333.7 107.7,336.3 110.0,339.0 C112.3,341.7 114.3,344.3 116.0,347.0 C117.7,349.7 119.3,353.7 120.0,355.0" fill="none" stroke="#f08585" stroke-width="0.80"/>
<path d="M70.0,340.0 C71.7,341.3 76.7,345.3 80.0,348.0 C83.3,350.7 87.0,353.3 90.0,356.0 C93.0,358.7 95.7,361.7 98.0,364.0 C100.3,366.3 103.0,369.0 104.0,370.0" fill="none" stroke="#f08585" stroke-width="0.80"/>
<path d="M88.0,252.0 C89.0,253.0 92.0,255.7 94.0,258.0 C96.0,260.3 98.3,263.3 100.0,266.0 C101.7,268.7 103.3,272.7 104.0,274.0" fill="none" stroke="#f08585" stroke-width="0.80"/>
<path d="M112.0,300.0 C113.3,299.3 116.7,302.0 118.0,304.0 C119.3,306.0 120.7,310.3 120.0,312.0 C119.3,313.7 115.7,314.7 114.0,314.0 C112.3,313.3 110.3,310.3 110.0,308.0 C109.7,305.7 110.7,300.7 112.0,300.0 Z" fill="none" stroke="#f08585" stroke-width="0.80"/>
<ellipse cx="107.0" cy="279.0" rx="4.0" ry="6.0" fill="none" stroke="#f08585" stroke-width="0.80"/>
<ellipse cx="107.0" cy="279.0" rx="2.0" ry="3.0" fill="none" stroke="#f08585" stroke-width="0.80"/>
<ellipse cx="116.0" cy="344.0" rx="10.0" ry="7.0" fill="none" stroke="#f08585" stroke-width="0.80" transform="rotate(35.0 116.0 344.0)"/>
<ellipse cx="116.0" cy="344.0" rx="7.0" ry="4.8" fill="none" stroke="#f08585" stroke-width="0.80" transform="rotate(35.0 116.0 344.0)"/>
<ellipse cx="116.0" cy="344.0" rx="4.2" ry="2.8" fill="none" stroke="#f08585" stroke-width="0.80" transform="rotate(35.0 116.0 344.0)"/>
<ellipse cx="116.0" cy="344.0" rx="1.8" ry="1.2" fill="none" stroke="#f08585" stroke-width="0.80" transform="rotate(35.0 116.0 344.0)"/>
<path d="M70.0,281.0 C71.3,281.8 75.4,283.9 78.0,286.0 C80.6,288.1 82.9,291.0 85.4,293.5 C87.9,296.0 90.5,298.4 93.0,301.0 C95.5,303.6 99.9,307.3 100.7,309.0 C101.5,310.7 99.8,311.7 98.0,311.0 C96.2,310.3 92.7,307.2 90.0,305.0 C87.3,302.8 84.7,300.5 82.0,298.0 C79.3,295.5 76.0,291.8 74.0,290.0 C72.0,288.2 70.7,287.5 70.0,287.0" fill="none" stroke="#f08585" stroke-width="0.80"/>
<path d="M96.0,252.0 C96.7,251.0 101.3,254.3 104.0,256.0 C106.7,257.7 110.3,259.7 112.0,262.0 C113.7,264.3 114.7,269.0 114.0,270.0 C113.3,271.0 110.3,269.3 108.0,268.0 C105.7,266.7 102.0,264.7 100.0,262.0 C98.0,259.3 95.3,253.0 96.0,252.0 Z" fill="none" stroke="#f08585" stroke-width="0.80"/>
<path d="M70.0,347.0 C72.0,347.8 77.7,350.2 82.0,352.0 C86.3,353.8 91.3,356.2 95.6,357.5 C99.9,358.8 103.7,359.1 108.0,360.0 C112.3,360.9 119.0,362.2 121.2,362.7" fill="none" stroke="#f08585" stroke-width="0.80"/>
<path d="M70.0,353.0 C72.3,353.8 79.3,356.5 84.0,358.0 C88.7,359.5 93.7,360.7 98.0,362.0 C102.3,363.3 108.0,365.3 110.0,366.0" fill="none" stroke="#f08585" stroke-width="0.80"/>
<path d="M110.0,360.0L120.4,366.0M119.5,364.6L120.4,366.0L118.7,366.0M113.0,363.0L123.4,369.0M122.5,367.6L123.4,369.0L121.7,369.0M116.0,366.0L124.7,371.0M123.8,369.6L124.7,371.0L123.0,371.0M86.0,361.0L76.0,360.1M77.4,361.1L76.0,360.1L77.5,359.5M90.0,364.0L81.0,363.2M82.4,364.1L81.0,363.2L82.5,362.5" fill="none" stroke="#111" stroke-width="0.50"/>
<path d="M72.6,252.6 C73.4,254.1 75.7,258.7 77.2,261.8 C78.7,264.9 79.9,268.3 81.8,271.0 C83.7,273.7 86.7,275.7 88.7,277.9 C90.7,280.1 93.1,283.0 94.0,284.0" fill="none" stroke="#7a86ff" stroke-width="0.80" stroke-dasharray="1.6,1.4"/>
<path d="M79.5,307.7 C81.4,308.9 87.2,313.1 91.0,314.6 C94.8,316.1 100.6,316.5 102.5,316.9" fill="none" stroke="#7a86ff" stroke-width="0.80" stroke-dasharray="1.6,1.4"/>
<path d="M70.0,315.0 C71.0,316.2 73.7,319.5 76.0,322.0 C78.3,324.5 81.7,327.7 84.0,330.0 C86.3,332.3 89.0,335.0 90.0,336.0" fill="none" stroke="#7a86ff" stroke-width="0.80" stroke-dasharray="1.6,1.4"/>
<path d="M196.0,366.0 C197.7,367.0 202.7,369.3 206.0,372.0 C209.3,374.7 213.0,378.7 216.0,382.0 C219.0,385.3 222.0,388.3 224.0,392.0 C226.0,395.7 227.3,402.0 228.0,404.0" fill="none" stroke="#f08585" stroke-width="0.80"/>
<path d="M218.0,330.0 C219.0,331.7 222.0,336.3 224.0,340.0 C226.0,343.7 228.0,348.3 230.0,352.0 C232.0,355.7 235.0,360.3 236.0,362.0" fill="none" stroke="#f08585" stroke-width="0.80"/>
<path d="M232.0,420.0 C234.0,419.7 240.0,419.0 244.0,418.0 C248.0,417.0 252.3,415.3 256.0,414.0 C259.7,412.7 262.7,410.3 266.0,410.0 C269.3,409.7 273.0,410.3 276.0,412.0 C279.0,413.7 281.7,417.0 284.0,420.0 C286.3,423.0 289.0,428.3 290.0,430.0" fill="none" stroke="#f08585" stroke-width="0.80"/>
<path d="M252.0,416.0 C254.0,416.7 260.7,418.3 264.0,420.0 C267.3,421.7 269.3,423.3 272.0,426.0 C274.7,428.7 278.3,432.7 280.0,436.0 C281.7,439.3 281.7,444.3 282.0,446.0" fill="none" stroke="#f08585" stroke-width="0.80"/>
<path d="M180.0,404.0 C181.7,403.0 186.7,399.7 190.0,398.0 C193.3,396.3 196.7,395.0 200.0,394.0 C203.3,393.0 206.3,392.3 210.0,392.0 C213.7,391.7 220.0,392.0 222.0,392.0" fill="none" stroke="#f08585" stroke-width="0.80"/>
<path d="M178.0,412.0 C179.3,412.7 183.0,415.0 186.0,416.0 C189.0,417.0 192.7,417.3 196.0,418.0 C199.3,418.7 202.7,419.3 206.0,420.0 C209.3,420.7 212.3,421.0 216.0,422.0 C219.7,423.0 224.0,424.7 228.0,426.0 C232.0,427.3 236.3,428.3 240.0,430.0 C243.7,431.7 247.0,433.3 250.0,436.0 C253.0,438.7 256.0,442.3 258.0,446.0 C260.0,449.7 261.3,456.0 262.0,458.0" fill="none" stroke="#f08585" stroke-width="0.80"/>
<path d="M182.0,446.0 C183.7,445.7 188.7,444.0 192.0,444.0 C195.3,444.0 198.7,445.3 202.0,446.0 C205.3,446.7 210.3,447.7 212.0,448.0" fill="none" stroke="#f08585" stroke-width="0.80"/>
<path d="M262.0,418.0 C262.3,416.3 269.3,418.7 272.0,420.0 C274.7,421.3 277.3,423.7 278.0,426.0 C278.7,428.3 277.3,433.3 276.0,434.0 C274.7,434.7 272.3,432.7 270.0,430.0 C267.7,427.3 261.7,419.7 262.0,418.0 Z" fill="none" stroke="#f08585" stroke-width="0.80"/>
<path d="M290.0,440.0 C291.7,439.3 296.7,436.7 300.0,436.0 C303.3,435.3 307.2,436.3 310.0,436.0 C312.8,435.7 315.8,434.3 317.0,434.0" fill="none" stroke="#f08585" stroke-width="0.80"/>
<path d="M284.0,448.0 C286.0,447.7 292.0,446.7 296.0,446.0 C300.0,445.3 304.5,445.0 308.0,444.0 C311.5,443.0 315.5,440.7 317.0,440.0" fill="none" stroke="#f08585" stroke-width="0.80"/>
<path d="M250.0,356.0 C251.0,357.3 254.0,361.3 256.0,364.0 C258.0,366.7 261.0,370.7 262.0,372.0" fill="none" stroke="#f08585" stroke-width="0.80"/>
<path d="M262.0,452.0 C263.3,452.7 267.7,454.3 270.0,456.0 C272.3,457.7 275.0,461.0 276.0,462.0" fill="none" stroke="#f08585" stroke-width="0.80"/>
<path d="M168.0,388.0 C169.3,388.7 173.3,391.0 176.0,392.0 C178.7,393.0 181.0,394.7 184.0,394.0 C187.0,393.3 192.3,389.0 194.0,388.0" fill="none" stroke="#f08585" stroke-width="0.80"/>
<path d="M238.0,452.0 C238.7,453.0 240.7,455.8 242.0,458.0 C243.3,460.2 245.3,463.8 246.0,465.0" fill="none" stroke="#7a86ff" stroke-width="0.80" stroke-dasharray="1.6,1.4"/>
<path d="M250.0,432.0 C252.0,431.3 258.0,429.0 262.0,428.0 C266.0,427.0 270.0,426.7 274.0,426.0 C278.0,425.3 282.0,424.7 286.0,424.0 C290.0,423.3 294.0,422.7 298.0,422.0 C302.0,421.3 306.8,420.5 310.0,420.0 C313.2,419.5 315.8,419.2 317.0,419.0" fill="none" stroke="#f08585" stroke-width="0.80"/>
<path d="M252.0,436.0 C254.0,435.3 260.0,433.0 264.0,432.0 C268.0,431.0 271.7,430.7 276.0,430.0 C280.3,429.3 285.3,428.7 290.0,428.0 C294.7,427.3 299.5,426.7 304.0,426.0 C308.5,425.3 314.8,424.3 317.0,424.0" fill="none" stroke="#f08585" stroke-width="0.80"/>
<path d="M248.0,444.0 C249.0,443.0 251.7,438.7 254.0,438.0 C256.3,437.3 260.0,438.3 262.0,440.0 C264.0,441.7 265.7,445.3 266.0,448.0 C266.3,450.7 265.3,453.7 264.0,456.0 C262.7,458.3 259.0,461.0 258.0,462.0" fill="none" stroke="#f08585" stroke-width="0.80"/>
<path d="M244.0,448.0 C245.0,448.7 248.3,450.0 250.0,452.0 C251.7,454.0 253.0,457.8 254.0,460.0 C255.0,462.2 255.7,464.2 256.0,465.0" fill="none" stroke="#f08585" stroke-width="0.80"/>
<path d="M196.0,440.0 C197.3,440.7 201.3,443.0 204.0,444.0 C206.7,445.0 209.3,444.7 212.0,446.0 C214.7,447.3 217.7,450.0 220.0,452.0 C222.3,454.0 224.3,455.8 226.0,458.0 C227.7,460.2 229.3,463.8 230.0,465.0" fill="none" stroke="#f08585" stroke-width="0.80"/>
<path d="M190.0,458.0 C191.3,457.7 195.3,456.0 198.0,456.0 C200.7,456.0 203.7,457.0 206.0,458.0 C208.3,459.0 211.0,461.3 212.0,462.0" fill="none" stroke="#f08585" stroke-width="0.80"/>
<path d="M260.0,404.0 C261.0,405.0 264.0,408.3 266.0,410.0 C268.0,411.7 270.3,412.3 272.0,414.0 C273.7,415.7 275.0,418.0 276.0,420.0 C277.0,422.0 277.7,425.0 278.0,426.0" fill="none" stroke="#f08585" stroke-width="0.80"/>
<path d="M238.0,440.0 C238.7,441.0 240.7,444.0 242.0,446.0 C243.3,448.0 244.7,450.0 246.0,452.0 C247.3,454.0 249.3,457.0 250.0,458.0" fill="none" stroke="#7a86ff" stroke-width="0.80" stroke-dasharray="1.6,1.4"/>
<path d="M292.0,398.0 C293.0,399.0 296.3,402.0 298.0,404.0 C299.7,406.0 301.3,409.0 302.0,410.0" fill="none" stroke="#7a86ff" stroke-width="0.80" stroke-dasharray="1.6,1.4"/>
<path d="M190.0,396.0 C191.0,395.3 193.7,392.0 196.0,392.0 C198.3,392.0 201.3,395.0 204.0,396.0 C206.7,397.0 209.3,398.3 212.0,398.0 C214.7,397.7 217.3,395.3 220.0,394.0 C222.7,392.7 225.0,390.3 228.0,390.0 C231.0,389.7 234.7,392.3 238.0,392.0 C241.3,391.7 245.0,388.3 248.0,388.0 C251.0,387.7 254.7,389.7 256.0,390.0" fill="none" stroke="#a035d0" stroke-width="1.00"/>
<path d="M194.0,404.0 C195.0,405.0 198.0,408.3 200.0,410.0 C202.0,411.7 204.0,412.3 206.0,414.0 C208.0,415.7 209.7,418.0 212.0,420.0 C214.3,422.0 218.7,425.0 220.0,426.0" fill="none" stroke="#a035d0" stroke-width="1.00"/>
<path d="M184.0,430.0 C185.3,430.7 189.3,432.3 192.0,434.0 C194.7,435.7 197.7,438.0 200.0,440.0 C202.3,442.0 204.0,444.0 206.0,446.0 C208.0,448.0 209.7,450.3 212.0,452.0 C214.3,453.7 217.0,454.7 220.0,456.0 C223.0,457.3 226.7,458.5 230.0,460.0 C233.3,461.5 238.3,464.2 240.0,465.0" fill="none" stroke="#a035d0" stroke-width="1.00"/>
<path d="M186.0,452.0 C186.7,453.0 188.3,455.8 190.0,458.0 C191.7,460.2 195.0,463.8 196.0,465.0" fill="none" stroke="#a035d0" stroke-width="1.00"/>
<path d="M262.0,465.0 C263.0,463.8 265.7,460.2 268.0,458.0 C270.3,455.8 273.0,453.3 276.0,452.0 C279.0,450.7 282.7,451.0 286.0,450.0 C289.3,449.0 292.7,447.0 296.0,446.0 C299.3,445.0 302.5,444.7 306.0,444.0 C309.5,443.3 315.2,442.3 317.0,442.0" fill="none" stroke="#a035d0" stroke-width="1.00"/>
<path d="M296.0,465.0 C296.7,463.8 298.0,459.8 300.0,458.0 C302.0,456.2 305.2,455.0 308.0,454.0 C310.8,453.0 315.5,452.3 317.0,452.0" fill="none" stroke="#a035d0" stroke-width="1.00"/>
<text x="208.5" y="399.8" font-size="8.6" fill="#a035d0" text-anchor="start" textLength="27.0" lengthAdjust="spacingAndGlyphs">1014.4</text>
<text x="195.7" y="427.3" font-size="8.6" fill="#a035d0" text-anchor="start" textLength="27.0" lengthAdjust="spacingAndGlyphs">1014.4</text>
<text x="199.2" y="452.6" font-size="8.6" fill="#a035d0" text-anchor="start" textLength="27.0" lengthAdjust="spacingAndGlyphs">1014.4</text>
<text x="276.1" y="442.3" font-size="8.6" fill="#a035d0" text-anchor="start" textLength="27.0" lengthAdjust="spacingAndGlyphs">1014.4</text>
<circle cx="173.8" cy="425.7" r="3.6" fill="#d0206a" stroke="#a035d0" stroke-width="1"/>
<circle cx="146.1" cy="302" r="3.2" fill="none" stroke="#b04090" stroke-width="1.2"/>
<path d="M81.0,390.9L68.6,386.9M84.8,390.6L72.5,386.6M90.6,390.5L78.3,386.5M83.5,394.8L71.1,390.8M88.4,394.2L76.0,390.2M92.5,395.0L80.2,391.0M97.3,395.0L85.0,390.9M102.3,394.2L89.9,390.1M106.5,395.2L94.1,391.2M111.3,394.2L99.0,390.2M116.4,394.9L104.0,390.8M121.8,394.6L109.4,390.6M126.2,395.0L113.8,390.9M130.7,394.5L118.4,390.4M135.9,394.8L123.6,390.8M140.0,394.1L127.7,390.1M80.9,398.6L68.5,394.6M85.7,399.5L73.3,395.5M90.0,398.3L77.6,394.3M94.8,398.6L82.5,394.6M99.4,398.4L87.0,394.3M104.1,399.3L91.8,395.3M108.8,399.0L96.5,395.0M113.8,398.5L101.5,394.5M119.4,398.7L107.0,394.6M123.4,398.9L111.0,394.8M128.8,398.9L116.5,394.9M133.8,398.8L121.4,394.8M138.2,399.2L125.8,395.2M142.9,399.2L130.6,395.2M78.5,403.7L66.1,399.7M83.2,403.3L70.8,399.3M87.4,403.6L75.0,399.6M92.1,403.1L79.8,399.1M97.0,403.1L84.6,399.0M102.0,403.1L89.6,399.1M107.2,403.3L94.9,399.2M111.5,403.5L99.1,399.5M116.9,403.6L104.5,399.6M120.8,403.3L108.5,399.3M126.7,402.9L114.3,398.9M130.6,403.6L118.3,399.6M135.6,403.1L123.3,399.1M141.0,403.1L128.6,399.1M145.0,402.9L132.7,398.8M80.4,407.8L68.1,403.8M84.9,407.2L72.5,403.2M90.3,407.5L78.0,403.5M95.0,408.0L82.6,404.0M99.5,407.1L87.2,403.1M104.0,407.5L91.7,403.5M109.1,407.5L96.8,403.5M113.6,406.9L101.2,402.9M118.8,407.8L106.5,403.8M123.5,408.0L111.2,404.0M128.7,407.4L116.3,403.4M133.7,407.2L121.4,403.2M138.3,407.9L125.9,403.9M143.0,407.3L130.7,403.3M147.3,407.6L134.9,403.6M78.2,412.3L65.9,408.3M83.2,411.8L70.8,407.8M88.2,411.6L75.8,407.6M92.4,412.0L80.1,408.0M97.4,411.5L85.1,407.5M102.1,412.2L89.7,408.2M106.7,412.1L94.3,408.0M111.2,412.4L98.9,408.3M116.8,411.6L104.4,407.6M122.0,412.2L109.6,408.1M125.7,411.5L113.3,407.5M131.0,412.4L118.6,408.4M135.4,411.3L123.0,407.2M140.4,411.3L128.0,407.2M145.3,411.9L132.9,407.8M80.0,416.5L67.6,412.5M85.3,416.1L72.9,412.1M90.2,416.3L77.8,412.3M95.5,416.5L83.1,412.5M100.1,415.9L87.7,411.9M104.2,415.6L91.8,411.6M109.8,415.6L97.4,411.6M114.3,416.6L101.9,412.6M118.8,416.0L106.4,412.0M123.7,416.6L111.3,412.6M128.8,416.5L116.4,412.5M132.8,416.4L120.5,412.4M138.1,416.0L125.8,412.0M143.4,416.4L131.0,412.4M148.3,416.4L135.9,412.4M78.2,420.8L65.9,416.7M82.9,420.0L70.6,416.0M87.9,420.9L75.5,416.8M93.0,420.0L80.7,415.9M97.2,420.1L84.9,416.1M102.0,421.0L89.6,416.9M106.9,420.2L94.5,416.2M111.5,420.3L99.1,416.3M116.8,420.2L104.4,416.2M121.0,420.1L108.6,416.1M125.9,420.9L113.5,416.9M130.6,420.7L118.2,416.7M135.3,420.8L122.9,416.7M140.3,420.7L127.9,416.7M145.3,419.9L132.9,415.9M149.7,420.8L137.3,416.8M80.6,424.7L68.3,420.7M85.2,424.9L72.8,420.9M90.2,424.2L77.8,420.2M95.1,424.5L82.7,420.5M100.2,424.8L87.8,420.8M104.9,424.3L92.5,420.2M109.6,424.8L97.3,420.8M114.6,425.2L102.2,421.2M119.0,424.8L106.7,420.8M124.1,424.4L111.7,420.4M128.6,425.1L116.3,421.0M133.5,424.8L121.1,420.7M138.6,425.3L126.2,421.3M142.7,424.2L130.3,420.2M147.9,424.3L135.6,420.3M78.2,429.4L65.9,425.4M83.4,428.6L71.1,424.6M87.7,428.6L75.4,424.6M92.5,428.6L80.2,424.6M97.8,428.8L85.5,424.8M102.0,429.5L89.7,425.5M107.4,428.8L95.0,424.8M111.8,429.2L99.4,425.2M116.2,428.6L103.8,424.6M121.8,428.6L109.4,424.6M126.4,429.3L114.1,425.3M131.1,428.8L118.7,424.8M136.2,429.4L123.8,425.3M140.1,429.5L127.7,425.5M145.5,428.8L133.2,424.7M149.8,428.5L137.4,424.5M81.0,433.7L68.6,429.7M85.2,432.9L72.8,428.9M89.7,433.2L77.3,429.2M94.7,432.8L82.4,428.8M99.5,433.7L87.2,429.7M104.1,433.2L91.7,429.2M109.4,432.9L97.0,428.9M113.6,432.8L101.3,428.8M118.6,433.9L106.2,429.9M124.2,433.6L111.9,429.5M129.1,433.1L116.7,429.1M133.1,433.8L120.7,429.7M138.3,433.8L125.9,429.8M142.8,433.2L130.4,429.2M148.0,433.8L135.7,429.8M152.2,433.0L139.8,429.0M83.5,437.7L71.1,433.7M87.4,437.8L75.0,433.8M92.8,437.1L80.4,433.1M97.9,437.8L85.5,433.8M102.2,437.4L89.8,433.4M106.6,437.6L94.2,433.6M111.6,437.3L99.3,433.3M116.8,437.8L104.4,433.8M121.9,438.2L109.6,434.2M126.1,437.9L113.8,433.9M130.8,437.5L118.5,433.5M135.9,438.2L123.5,434.2M140.0,437.6L127.7,433.5M145.2,438.0L132.8,434.0M150.7,437.6L138.4,433.6M80.1,442.0L67.7,438.0M85.5,442.1L73.1,438.1M90.5,441.9L78.2,437.8M95.0,442.2L82.7,438.2M99.2,441.6L86.9,437.6M104.8,442.5L92.4,438.5M109.9,441.6L97.6,437.6M114.7,441.6L102.4,437.6M118.9,441.5L106.6,437.5M123.9,441.8L111.5,437.8M128.8,442.5L116.4,438.4M132.9,442.1L120.6,438.1M138.3,441.6L125.9,437.6M142.4,442.4L130.1,438.4M148.0,442.1L135.7,438.0M152.1,442.4L139.7,438.4M83.0,446.1L70.7,442.1M88.3,446.2L76.0,442.2M92.8,446.5L80.4,442.5M97.9,445.8L85.5,441.8M102.0,446.7L89.6,442.7M107.1,446.1L94.7,442.0M112.2,445.8L99.9,441.7M116.3,445.7L103.9,441.7M121.6,446.2L109.2,442.2M125.9,446.1L113.6,442.1M130.7,446.5L118.3,442.4M136.1,446.1L123.7,442.0M141.0,445.7L128.7,441.6M145.5,445.8L133.1,441.8M149.7,446.3L137.4,442.3M80.1,450.0L67.7,446.0M84.9,450.4L72.6,446.3M90.6,450.3L78.2,446.2M94.5,450.8L82.2,446.8M100.2,451.1L87.8,447.1M104.0,450.1L91.7,446.1M109.3,451.1L96.9,447.1M114.2,451.0L101.9,447.0M118.7,450.5L106.3,446.5M124.0,450.2L111.6,446.2M128.6,450.9L116.2,446.9M133.8,450.7L121.4,446.7M138.6,451.1L126.2,447.1M143.1,450.2L130.7,446.2M147.4,450.0L135.1,446.0M78.3,455.3L65.9,451.2M83.2,454.7L70.8,450.7M87.9,454.3L75.5,450.3M92.3,454.6L79.9,450.6M97.7,455.0L85.4,451.0M102.3,454.7L89.9,450.7M106.8,454.7L94.4,450.7M111.2,454.6L98.9,450.6M117.1,455.2L104.7,451.2M121.1,454.8L108.7,450.8M126.5,454.4L114.1,450.4M130.8,454.9L118.4,450.9M135.4,455.3L123.0,451.3M140.0,455.3L127.6,451.2M145.6,454.7L133.2,450.7M149.9,455.3L137.6,451.2M80.8,458.8L68.5,454.7M85.2,458.6L72.8,454.6M90.3,459.0L78.0,455.0M94.8,459.4L82.4,455.3M99.5,458.7L87.1,454.7M104.9,459.6L92.6,455.6M109.8,459.2L97.4,455.2M114.4,459.5L102.1,455.5M118.4,458.9L106.1,454.9M123.6,459.4L111.2,455.4M128.4,459.4L116.0,455.4M133.1,459.6L120.7,455.6M138.1,459.2L125.7,455.2M143.1,459.5L130.8,455.5M147.9,458.8L135.5,454.7M82.8,463.9L70.4,459.9M87.6,463.9L75.3,459.9M92.8,463.3L80.5,459.3M97.6,462.8L85.3,458.8M101.7,463.5L89.3,459.5M106.8,463.3L94.4,459.3M112.0,463.4L99.7,459.4M116.7,463.7L104.4,459.7M121.8,462.9L109.4,458.9M126.6,463.7L114.2,459.7M130.7,462.9L118.3,458.9M135.4,462.9L123.0,458.9M140.7,464.0L128.3,460.0M145.4,463.1L133.0,459.1M149.8,464.0L137.4,460.0" fill="none" stroke="#111" stroke-width="0.40"/>
<path d="M69.7,388.1L68.6,386.9L70.2,386.6M73.6,387.8L72.5,386.6L74.1,386.3M79.4,387.7L78.3,386.5L79.9,386.2M72.2,392.0L71.1,390.8L72.7,390.5M77.1,391.4L76.0,390.2L77.6,389.9M81.3,392.2L80.2,391.0L81.8,390.6M86.1,392.1L85.0,390.9L86.6,390.6M91.0,391.3L89.9,390.1L91.5,389.8M95.3,392.4L94.1,391.2L95.8,390.9M100.1,391.4L99.0,390.2L100.6,389.9M105.1,392.1L104.0,390.8L105.6,390.5M110.6,391.8L109.4,390.6L111.1,390.2M114.9,392.1L113.8,390.9L115.4,390.6M119.5,391.6L118.4,390.4L120.0,390.1M124.7,392.0L123.6,390.8L125.2,390.4M128.8,391.3L127.7,390.1L129.3,389.8M69.7,395.8L68.5,394.6L70.2,394.3M74.5,396.7L73.3,395.5L75.0,395.2M78.8,395.5L77.6,394.3L79.3,394.0M83.6,395.8L82.5,394.6L84.1,394.3M88.2,395.6L87.0,394.3L88.6,394.0M92.9,396.5L91.8,395.3L93.4,395.0M97.6,396.2L96.5,395.0L98.1,394.7M102.6,395.7L101.5,394.5L103.1,394.2M108.1,395.9L107.0,394.6L108.6,394.3M112.2,396.0L111.0,394.8L112.7,394.5M117.6,396.1L116.5,394.9L118.1,394.6M122.6,396.0L121.4,394.8L123.1,394.5M127.0,396.4L125.8,395.2L127.5,394.8M131.7,396.4L130.6,395.2L132.2,394.8M67.2,400.9L66.1,399.7L67.7,399.4M72.0,400.5L70.8,399.3L72.5,399.0M76.1,400.8L75.0,399.6L76.6,399.3M80.9,400.3L79.8,399.1L81.4,398.8M85.7,400.3L84.6,399.0L86.2,398.7M90.7,400.3L89.6,399.1L91.2,398.8M96.0,400.4L94.9,399.2L96.5,398.9M100.2,400.7L99.1,399.5L100.7,399.2M105.6,400.8L104.5,399.6L106.1,399.3M109.6,400.5L108.5,399.3L110.1,399.0M115.4,400.1L114.3,398.9L115.9,398.6M119.4,400.8L118.3,399.6L119.9,399.3M124.4,400.3L123.3,399.1L124.9,398.8M129.7,400.3L128.6,399.1L130.2,398.7M133.8,400.1L132.7,398.8L134.3,398.5M69.2,405.0L68.1,403.8L69.7,403.5M73.6,404.4L72.5,403.2L74.1,402.9M79.1,404.7L78.0,403.5L79.6,403.2M83.7,405.2L82.6,404.0L84.2,403.7M88.3,404.3L87.2,403.1L88.8,402.8M92.8,404.7L91.7,403.5L93.3,403.2M97.9,404.7L96.8,403.5L98.4,403.1M102.3,404.1L101.2,402.9L102.8,402.6M107.6,405.0L106.5,403.8L108.1,403.5M112.3,405.2L111.2,404.0L112.8,403.7M117.4,404.6L116.3,403.4L117.9,403.1M122.5,404.4L121.4,403.2L123.0,402.9M127.1,405.1L125.9,403.9L127.6,403.6M131.8,404.5L130.7,403.3L132.3,403.0M136.1,404.8L134.9,403.6L136.6,403.3M67.0,409.5L65.9,408.3L67.5,408.0M71.9,409.0L70.8,407.8L72.4,407.5M77.0,408.8L75.8,407.6L77.5,407.2M81.2,409.2L80.1,408.0L81.7,407.7M86.2,408.7L85.1,407.5L86.7,407.1M90.8,409.4L89.7,408.2L91.3,407.9M95.4,409.2L94.3,408.0L95.9,407.7M100.0,409.5L98.9,408.3L100.5,408.0M105.6,408.8L104.4,407.6L106.1,407.3M110.7,409.4L109.6,408.1L111.2,407.8M114.4,408.7L113.3,407.5L114.9,407.2M119.7,409.6L118.6,408.4L120.2,408.1M124.1,408.5L123.0,407.2L124.6,406.9M129.1,408.5L128.0,407.2L129.6,406.9M134.0,409.0L132.9,407.8L134.5,407.5M68.8,413.7L67.6,412.5L69.3,412.1M74.1,413.3L72.9,412.1L74.6,411.8M78.9,413.5L77.8,412.3L79.4,412.0M84.2,413.7L83.1,412.5L84.7,412.2M88.8,413.1L87.7,411.9L89.3,411.6M92.9,412.8L91.8,411.6L93.4,411.3M98.6,412.8L97.4,411.6L99.1,411.2M103.0,413.8L101.9,412.6L103.5,412.3M107.5,413.2L106.4,412.0L108.0,411.6M112.4,413.8L111.3,412.6L112.9,412.3M117.6,413.7L116.4,412.5L118.1,412.2M121.6,413.6L120.5,412.4L122.1,412.1M126.9,413.2L125.8,412.0L127.4,411.7M132.1,413.6L131.0,412.4L132.6,412.1M137.0,413.6L135.9,412.4L137.5,412.1M67.0,417.9L65.9,416.7L67.5,416.4M71.7,417.2L70.6,416.0L72.2,415.6M76.6,418.0L75.5,416.8L77.1,416.5M81.8,417.1L80.7,415.9L82.3,415.6M86.0,417.3L84.9,416.1L86.5,415.7M90.7,418.1L89.6,416.9L91.2,416.6M95.6,417.4L94.5,416.2L96.1,415.9M100.3,417.5L99.1,416.3L100.8,416.0M105.5,417.4L104.4,416.2L106.0,415.9M109.8,417.3L108.6,416.1L110.3,415.7M114.7,418.1L113.5,416.9L115.1,416.6M119.3,417.9L118.2,416.7L119.8,416.4M124.1,417.9L122.9,416.7L124.6,416.4M129.1,417.9L127.9,416.7L129.6,416.4M134.1,417.1L132.9,415.9L134.6,415.6M138.5,418.0L137.3,416.8L138.9,416.4M69.4,421.9L68.3,420.7L69.9,420.4M74.0,422.1L72.8,420.9L74.5,420.6M78.9,421.4L77.8,420.2L79.4,419.8M83.9,421.7L82.7,420.5L84.4,420.2M89.0,422.0L87.8,420.8L89.5,420.4M93.7,421.4L92.5,420.2L94.2,419.9M98.4,422.0L97.3,420.8L98.9,420.5M103.4,422.4L102.2,421.2L103.9,420.8M107.8,422.0L106.7,420.8L108.3,420.5M112.9,421.6L111.7,420.4L113.4,420.1M117.4,422.2L116.3,421.0L117.9,420.7M122.3,421.9L121.1,420.7L122.7,420.4M127.4,422.5L126.2,421.3L127.9,420.9M131.5,421.4L130.3,420.2L131.9,419.9M136.7,421.5L135.6,420.3L137.2,420.0M67.0,426.6L65.9,425.4L67.5,425.1M72.2,425.8L71.1,424.6L72.7,424.2M76.5,425.8L75.4,424.6L77.0,424.3M81.3,425.8L80.2,424.6L81.8,424.2M86.6,426.0L85.5,424.8L87.1,424.5M90.8,426.7L89.7,425.5L91.3,425.2M96.1,426.0L95.0,424.8L96.6,424.5M100.5,426.4L99.4,425.2L101.0,424.9M105.0,425.8L103.8,424.6L105.5,424.2M110.6,425.8L109.4,424.6L111.1,424.3M115.2,426.5L114.1,425.3L115.7,425.0M119.9,426.0L118.7,424.8L120.3,424.5M125.0,426.5L123.8,425.3L125.5,425.0M128.8,426.7L127.7,425.5L129.3,425.2M134.3,425.9L133.2,424.7L134.8,424.4M138.5,425.7L137.4,424.5L139.0,424.2M69.7,430.9L68.6,429.7L70.2,429.4M74.0,430.1L72.8,428.9L74.5,428.6M78.4,430.4L77.3,429.2L78.9,428.9M83.5,430.0L82.4,428.8L84.0,428.4M88.3,430.9L87.2,429.7L88.8,429.4M92.8,430.4L91.7,429.2L93.3,428.9M98.2,430.1L97.0,428.9L98.7,428.6M102.4,430.0L101.3,428.8L102.9,428.5M107.3,431.1L106.2,429.9L107.8,429.5M113.0,430.7L111.9,429.5L113.5,429.2M117.8,430.3L116.7,429.1L118.3,428.8M121.8,430.9L120.7,429.7L122.3,429.4M127.1,431.0L125.9,429.8L127.6,429.5M131.6,430.4L130.4,429.2L132.1,428.9M136.8,431.0L135.7,429.8L137.3,429.4M140.9,430.2L139.8,429.0L141.4,428.7M72.2,434.9L71.1,433.7L72.7,433.4M76.1,435.0L75.0,433.8L76.6,433.5M81.5,434.3L80.4,433.1L82.0,432.8M86.6,435.0L85.5,433.8L87.1,433.5M90.9,434.6L89.8,433.4L91.4,433.1M95.3,434.8L94.2,433.6L95.8,433.2M100.4,434.5L99.3,433.3L100.9,433.0M105.5,435.0L104.4,433.8L106.0,433.5M110.7,435.4L109.6,434.2L111.2,433.8M114.9,435.1L113.8,433.9L115.4,433.5M119.6,434.7L118.5,433.5L120.1,433.2M124.6,435.4L123.5,434.2L125.1,433.9M128.8,434.8L127.7,433.5L129.3,433.2M133.9,435.2L132.8,434.0L134.4,433.6M139.5,434.8L138.4,433.6L140.0,433.2M68.8,439.2L67.7,438.0L69.3,437.7M74.2,439.3L73.1,438.1L74.7,437.8M79.3,439.1L78.2,437.8L79.8,437.5M83.8,439.4L82.7,438.2L84.3,437.9M88.0,438.8L86.9,437.6L88.5,437.3M93.6,439.7L92.4,438.5L94.1,438.1M98.7,438.8L97.6,437.6L99.2,437.3M103.5,438.8L102.4,437.6L104.0,437.3M107.7,438.7L106.6,437.5L108.2,437.2M112.7,439.0L111.5,437.8L113.2,437.4M117.6,439.6L116.4,438.4L118.1,438.1M121.7,439.3L120.6,438.1L122.2,437.8M127.1,438.8L125.9,437.6L127.6,437.3M131.2,439.6L130.1,438.4L131.7,438.1M136.8,439.2L135.7,438.0L137.3,437.7M140.9,439.6L139.7,438.4L141.4,438.1M71.8,443.3L70.7,442.1L72.3,441.8M77.1,443.4L76.0,442.2L77.6,441.8M81.6,443.7L80.4,442.5L82.0,442.2M86.7,443.0L85.5,441.8L87.2,441.5M90.7,443.9L89.6,442.7L91.2,442.4M95.9,443.2L94.7,442.0L96.4,441.7M101.0,442.9L99.9,441.7L101.5,441.4M105.0,442.9L103.9,441.7L105.5,441.4M110.3,443.4L109.2,442.2L110.8,441.9M114.7,443.3L113.6,442.1L115.2,441.8M119.4,443.6L118.3,442.4L119.9,442.1M124.9,443.3L123.7,442.0L125.3,441.7M129.8,442.9L128.7,441.6L130.3,441.3M134.2,443.0L133.1,441.8L134.7,441.5M138.5,443.5L137.4,442.3L139.0,441.9M68.8,447.2L67.7,446.0L69.3,445.7M73.7,447.5L72.6,446.3L74.2,446.0M79.3,447.4L78.2,446.2L79.8,445.9M83.3,448.0L82.2,446.8L83.8,446.5M88.9,448.3L87.8,447.1L89.4,446.8M92.8,447.3L91.7,446.1L93.3,445.8M98.1,448.3L96.9,447.1L98.6,446.8M103.0,448.2L101.9,447.0L103.5,446.6M107.4,447.7L106.3,446.5L107.9,446.1M112.8,447.4L111.6,446.2L113.3,445.8M117.4,448.1L116.2,446.9L117.9,446.6M122.5,447.9L121.4,446.7L123.0,446.4M127.3,448.3L126.2,447.1L127.8,446.8M131.9,447.4L130.7,446.2L132.4,445.9M136.2,447.2L135.1,446.0L136.7,445.6M67.1,452.4L65.9,451.2L67.6,450.9M72.0,451.9L70.8,450.7L72.5,450.3M76.6,451.5L75.5,450.3L77.1,450.0M81.0,451.8L79.9,450.6L81.5,450.3M86.5,452.2L85.4,451.0L87.0,450.7M91.1,451.9L89.9,450.7L91.6,450.3M95.6,451.9L94.4,450.7L96.1,450.3M100.0,451.8L98.9,450.6L100.5,450.3M105.8,452.4L104.7,451.2L106.3,450.9M109.8,452.0L108.7,450.8L110.3,450.5M115.2,451.6L114.1,450.4L115.7,450.1M119.6,452.1L118.4,450.9L120.1,450.6M124.2,452.5L123.0,451.3L124.7,451.0M128.8,452.5L127.6,451.2L129.3,450.9M134.3,451.9L133.2,450.7L134.8,450.4M138.7,452.4L137.6,451.2L139.2,450.9M69.6,455.9L68.5,454.7L70.1,454.4M73.9,455.8L72.8,454.6L74.4,454.3M79.1,456.2L78.0,455.0L79.6,454.7M83.5,456.5L82.4,455.3L84.0,455.0M88.2,455.9L87.1,454.7L88.7,454.3M93.7,456.8L92.6,455.6L94.2,455.2M98.5,456.4L97.4,455.2L99.0,454.8M103.2,456.7L102.1,455.5L103.7,455.2M107.2,456.1L106.1,454.9L107.7,454.5M112.4,456.6L111.2,455.4L112.9,455.1M117.1,456.6L116.0,455.4L117.6,455.1M121.8,456.8L120.7,455.6L122.3,455.3M126.9,456.4L125.7,455.2L127.4,454.9M131.9,456.7L130.8,455.5L132.4,455.2M136.6,456.0L135.5,454.7L137.1,454.4M71.5,461.1L70.4,459.9L72.0,459.6M76.4,461.1L75.3,459.9L76.9,459.6M81.6,460.5L80.5,459.3L82.1,458.9M86.4,460.0L85.3,458.8L86.9,458.5M90.4,460.7L89.3,459.5L90.9,459.2M95.5,460.5L94.4,459.3L96.0,459.0M100.8,460.6L99.7,459.4L101.3,459.0M105.5,460.9L104.4,459.7L106.0,459.4M110.5,460.1L109.4,458.9L111.0,458.6M115.3,460.9L114.2,459.7L115.8,459.4M119.4,460.1L118.3,458.9L119.9,458.6M124.2,460.1L123.0,458.9L124.7,458.6M129.4,461.2L128.3,460.0L129.9,459.7M134.1,460.3L133.0,459.1L134.6,458.8M138.5,461.2L137.4,460.0L139.0,459.6" fill="none" stroke="#111" stroke-width="0.75"/>
<path d="M98.9,271.6L106.7,279.3M102.7,270.5L110.5,278.3M107.7,270.7L115.4,278.4M111.3,271.4L119.1,279.2M100.1,275.7L107.9,283.4M105.7,275.6L113.5,283.4M109.2,275.5L117.0,283.3M113.6,275.6L121.3,283.3M102.6,281.6L110.4,289.4M107.0,281.5L114.7,289.3M112.1,281.2L119.9,289.0M105.0,286.7L112.8,294.5M109.5,285.6L117.3,293.4M114.1,286.5L121.9,294.3" fill="none" stroke="#111" stroke-width="0.40"/>
<path d="M106.2,277.8L106.7,279.3L105.1,278.9M110.0,276.7L110.5,278.3L108.9,277.8M115.0,276.9L115.4,278.4L113.9,278.0M118.6,277.6L119.1,279.2L117.5,278.7M107.4,281.9L107.9,283.4L106.3,283.0M113.0,281.8L113.5,283.4L111.9,283.0M116.5,281.7L117.0,283.3L115.4,282.9M120.9,281.8L121.3,283.3L119.8,282.9M110.0,287.8L110.4,289.4L108.8,289.0M114.3,287.7L114.7,289.3L113.2,288.8M119.5,287.4L119.9,289.0L118.3,288.5M112.3,292.9L112.8,294.5L111.2,294.0M116.8,291.8L117.3,293.4L115.7,292.9M121.4,292.7L121.9,294.3L120.3,293.8" fill="none" stroke="#111" stroke-width="0.75"/>
<path d="M94.7,317.3L101.8,325.8M99.2,316.7L106.3,325.1M104.2,316.9L111.3,325.4M108.0,316.6L115.0,325.0M92.6,322.1L99.7,330.5M96.9,322.2L103.9,330.6M102.0,321.9L109.0,330.3M106.2,321.3L113.3,329.8M109.9,322.4L117.0,330.8M94.5,326.4L101.5,334.9M99.7,327.1L106.8,335.5M103.3,326.6L110.3,335.0M107.9,326.5L115.0,334.9M112.1,326.8L119.2,335.2M96.6,331.3L103.7,339.7M100.9,332.2L108.0,340.7M106.3,331.9L113.3,340.3M110.0,331.4L117.1,339.8" fill="none" stroke="#111" stroke-width="0.40"/>
<path d="M101.5,324.2L101.8,325.8L100.3,325.2M106.0,323.5L106.3,325.1L104.8,324.6M111.0,323.8L111.3,325.4L109.8,324.8M114.7,323.4L115.0,325.0L113.5,324.4M99.4,328.9L99.7,330.5L98.1,329.9M103.6,329.0L103.9,330.6L102.4,330.0M108.7,328.7L109.0,330.3L107.5,329.7M112.9,328.1L113.3,329.8L111.7,329.2M116.7,329.2L117.0,330.8L115.5,330.2M101.2,333.3L101.5,334.9L100.0,334.3M106.4,333.9L106.8,335.5L105.2,334.9M110.0,333.4L110.3,335.0L108.8,334.4M114.7,333.3L115.0,334.9L113.4,334.4M118.9,333.6L119.2,335.2L117.7,334.7M103.3,338.1L103.7,339.7L102.1,339.2M107.7,339.0L108.0,340.7L106.4,340.1M113.0,338.7L113.3,340.3L111.8,339.7M116.8,338.2L117.1,339.8L115.5,339.2" fill="none" stroke="#111" stroke-width="0.75"/>
<path d="M125.1,293.8L125.9,302.8M129.2,294.0L130.0,303.0M131.9,293.2L132.6,302.2M135.6,293.8L136.3,302.7M139.8,294.1L140.5,303.0M127.3,297.7L128.1,306.6M130.4,297.6L131.2,306.5M134.2,298.0L134.9,307.0M137.7,297.8L138.5,306.8M125.7,302.2L126.5,311.2M129.2,302.5L129.9,311.5M132.1,301.7L132.9,310.6M135.6,302.6L136.4,311.6M139.7,302.0L140.5,311.0M127.5,305.8L128.3,314.8M130.9,306.9L131.7,315.9M134.0,306.3L134.8,315.2M137.2,306.0L137.9,315.0M140.8,306.1L141.6,315.0" fill="none" stroke="#111" stroke-width="0.40"/>
<path d="M126.5,301.3L125.9,302.8L124.9,301.5M130.6,301.5L130.0,303.0L129.1,301.6M133.3,300.7L132.6,302.2L131.7,300.8M137.0,301.2L136.3,302.7L135.4,301.4M141.2,301.5L140.5,303.0L139.6,301.7M128.7,305.1L128.1,306.6L127.1,305.3M131.8,305.0L131.2,306.5L130.2,305.2M135.6,305.5L134.9,307.0L134.0,305.6M139.2,305.2L138.5,306.8L137.6,305.4M127.2,309.7L126.5,311.2L125.6,309.8M130.6,310.0L129.9,311.5L129.0,310.1M133.6,309.1L132.9,310.6L132.0,309.3M137.1,310.1L136.4,311.6L135.5,310.2M141.2,309.5L140.5,311.0L139.6,309.6M129.0,313.3L128.3,314.8L127.4,313.4M132.4,314.4L131.7,315.9L130.8,314.5M135.5,313.7L134.8,315.2L133.9,313.9M138.6,313.5L137.9,315.0L137.0,313.6M142.2,313.5L141.6,315.0L140.7,313.7" fill="none" stroke="#111" stroke-width="0.75"/>
<path d="M269.9,267.0L259.9,265.9M275.3,266.5L265.4,265.5M280.2,267.0L270.3,265.9M284.6,267.3L274.7,266.3M289.8,266.8L279.9,265.8M295.4,266.7L285.4,265.7M271.8,271.2L261.8,270.2M277.9,271.8L267.9,270.7M283.0,272.3L273.0,271.2M287.8,271.6L277.8,270.6M292.8,271.4L282.9,270.4M298.3,272.3L288.3,271.2M269.6,276.6L259.6,275.6M275.2,276.7L265.3,275.7M280.2,276.4L270.2,275.3M284.7,276.2L274.7,275.1M290.8,276.3L280.9,275.2M295.8,276.0L285.8,275.0M271.6,281.1L261.6,280.1M276.9,281.5L266.9,280.4M282.2,280.5L272.2,279.4" fill="none" stroke="#111" stroke-width="0.40"/>
<path d="M261.3,266.9L259.9,265.9L261.4,265.3M266.7,266.4L265.4,265.5L266.9,264.8M271.6,266.9L270.3,265.9L271.8,265.3M276.0,267.2L274.7,266.3L276.2,265.6M281.2,266.7L279.9,265.8L281.4,265.1M286.8,266.6L285.4,265.7L286.9,265.0M263.2,271.1L261.8,270.2L263.3,269.5M269.3,271.7L267.9,270.7L269.4,270.1M274.4,272.2L273.0,271.2L274.5,270.6M279.2,271.5L277.8,270.6L279.3,269.9M284.2,271.3L282.9,270.4L284.4,269.7M289.7,272.2L288.3,271.2L289.9,270.6M261.0,276.5L259.6,275.6L261.1,274.9M266.6,276.6L265.3,275.7L266.8,275.0M271.6,276.3L270.2,275.3L271.7,274.7M276.1,276.1L274.7,275.1L276.3,274.5M282.2,276.2L280.9,275.2L282.4,274.6M287.2,275.9L285.8,275.0L287.4,274.3M263.0,281.0L261.6,280.1L263.2,279.4M268.3,281.4L266.9,280.4L268.5,279.8M273.6,280.4L272.2,279.4L273.8,278.8" fill="none" stroke="#111" stroke-width="0.75"/>
<path d="M284.7,325.6L273.8,324.4M289.6,325.4L278.7,324.3M295.2,324.8L284.2,323.7M300.1,325.0L289.2,323.8M306.2,325.6L295.2,324.4M272.5,328.9L261.5,327.7M276.8,329.0L265.8,327.9M281.9,328.9L270.9,327.7M287.2,329.2L276.2,328.1M293.2,329.4L282.3,328.3M298.0,329.2L287.1,328.0M302.7,329.5L291.7,328.3M308.5,328.9L297.6,327.7M264.3,333.6L253.4,332.5M268.8,333.3L257.9,332.2M274.8,333.8L263.9,332.7M279.2,334.3L268.2,333.1M284.6,333.5L273.7,332.4M289.5,333.5L278.5,332.4M295.3,334.3L284.4,333.1M300.2,333.8L289.3,332.6M305.2,334.0L294.2,332.8M310.6,333.6L299.7,332.5M267.2,337.7L256.3,336.6M271.8,337.7L260.9,336.6M277.4,338.7L266.4,337.5M281.8,338.4L270.9,337.2M287.2,338.1L276.3,337.0M292.8,338.0L281.8,336.9M298.1,338.0L287.1,336.8M303.1,338.0L292.1,336.9M308.2,337.7L297.2,336.6M269.2,343.1L258.2,341.9M274.1,342.6L263.1,341.5M279.8,342.7L268.9,341.6M285.2,342.4L274.2,341.3M290.6,342.8L279.6,341.6M294.8,342.7L283.8,341.6M300.5,343.1L289.6,341.9M305.9,342.8L295.0,341.6M311.1,342.8L300.1,341.7M271.9,346.9L260.9,345.7M277.0,347.1L266.0,345.9M282.5,346.8L271.5,345.7M287.6,346.7L276.6,345.5M293.2,347.2L282.3,346.0M298.1,347.3L287.2,346.1M302.5,346.6L291.6,345.4M308.1,346.9L297.2,345.8M313.3,347.0L302.4,345.8M269.5,351.3L258.6,350.1M274.9,351.7L263.9,350.6M280.2,350.8L269.3,349.6M285.0,351.0L274.0,349.8M290.5,351.9L279.6,350.8M295.5,351.2L284.5,350.0M300.9,351.4L290.0,350.2M305.9,351.0L295.0,349.9M272.4,355.4L261.4,354.3M277.4,355.6L266.4,354.4M282.8,355.6L271.9,354.4M288.0,355.8L277.1,354.6M292.1,355.6L281.1,354.5M297.8,355.4L286.8,354.2" fill="none" stroke="#111" stroke-width="0.40"/>
<path d="M275.1,325.4L273.8,324.4L275.3,323.8M280.0,325.2L278.7,324.3L280.2,323.6M285.6,324.6L284.2,323.7L285.7,323.0M290.5,324.8L289.2,323.8L290.7,323.2M296.6,325.4L295.2,324.4L296.8,323.8M262.9,328.7L261.5,327.7L263.0,327.1M267.2,328.8L265.8,327.9L267.3,327.2M272.3,328.6L270.9,327.7L272.4,327.1M277.6,329.0L276.2,328.1L277.7,327.4M283.6,329.2L282.3,328.3L283.8,327.6M288.4,329.0L287.1,328.0L288.6,327.4M293.1,329.2L291.7,328.3L293.3,327.7M299.0,328.7L297.6,327.7L299.1,327.1M254.7,333.4L253.4,332.5L254.9,331.8M259.3,333.1L257.9,332.2L259.4,331.5M265.2,333.6L263.9,332.7L265.4,332.0M269.6,334.1L268.2,333.1L269.7,332.5M275.0,333.3L273.7,332.4L275.2,331.7M279.9,333.3L278.5,332.4L280.0,331.7M285.8,334.0L284.4,333.1L285.9,332.5M290.6,333.6L289.3,332.6L290.8,332.0M295.6,333.8L294.2,332.8L295.7,332.2M301.0,333.4L299.7,332.5L301.2,331.8M257.7,337.5L256.3,336.6L257.8,335.9M262.2,337.5L260.9,336.6L262.4,335.9M267.8,338.5L266.4,337.5L267.9,336.9M272.2,338.2L270.9,337.2L272.4,336.6M277.6,337.9L276.3,337.0L277.8,336.3M283.2,337.8L281.8,336.9L283.3,336.2M288.5,337.8L287.1,336.8L288.6,336.2M293.5,337.8L292.1,336.9L293.6,336.2M298.6,337.5L297.2,336.6L298.8,336.0M259.6,342.8L258.2,341.9L259.7,341.3M264.5,342.4L263.1,341.5L264.6,340.8M270.2,342.5L268.9,341.6L270.4,340.9M275.6,342.2L274.2,341.3L275.8,340.6M281.0,342.6L279.6,341.6L281.2,341.0M285.2,342.5L283.8,341.6L285.3,340.9M290.9,342.9L289.6,341.9L291.1,341.3M296.3,342.6L295.0,341.6L296.5,341.0M301.5,342.6L300.1,341.7L301.7,341.0M262.3,346.7L260.9,345.7L262.5,345.1M267.4,346.8L266.0,345.9L267.6,345.3M272.9,346.6L271.5,345.7L273.0,345.0M278.0,346.5L276.6,345.5L278.1,344.9M283.6,347.0L282.3,346.0L283.8,345.4M288.5,347.1L287.2,346.1L288.7,345.5M292.9,346.4L291.6,345.4L293.1,344.8M298.5,346.7L297.2,345.8L298.7,345.1M303.8,346.8L302.4,345.8L303.9,345.2M259.9,351.1L258.6,350.1L260.1,349.5M265.3,351.5L263.9,350.6L265.5,350.0M270.6,350.6L269.3,349.6L270.8,349.0M275.4,350.8L274.0,349.8L275.5,349.2M280.9,351.7L279.6,350.8L281.1,350.1M285.9,351.0L284.5,350.0L286.0,349.4M291.3,351.2L290.0,350.2L291.5,349.6M296.3,350.8L295.0,349.9L296.5,349.2M262.8,355.2L261.4,354.3L262.9,353.6M267.8,355.3L266.4,354.4L267.9,353.8M273.2,355.4L271.9,354.4L273.4,353.8M278.4,355.6L277.1,354.6L278.6,354.0M282.5,355.4L281.1,354.5L282.7,353.9M288.2,355.2L286.8,354.2L288.4,353.6" fill="none" stroke="#111" stroke-width="0.75"/>
<path d="M149.0,394.5L154.0,403.2M153.0,394.6L158.0,403.3M156.8,395.2L161.8,403.9M151.4,398.7L156.4,407.4M154.7,398.8L159.7,407.4M157.4,398.7L162.4,407.4M161.2,398.6L166.2,407.2M149.7,402.2L154.7,410.8M152.8,402.1L157.8,410.8M156.1,402.3L161.1,410.9M160.2,402.9L165.2,411.6M151.0,407.2L156.0,415.8M154.6,406.4L159.6,415.1M158.3,406.6L163.3,415.3M161.2,406.8L166.2,415.5M149.3,410.1L154.3,418.7M152.9,410.2L157.9,418.8M156.4,410.5L161.4,419.1M159.2,411.3L164.2,419.9M162.7,410.3L167.7,418.9M151.0,414.6L156.0,423.3M154.6,414.7L159.6,423.4M157.8,414.3L162.8,423.0M161.7,414.6L166.7,423.2M165.0,415.2L170.0,423.8M152.8,418.1L157.8,426.8M156.6,418.6L161.6,427.2M159.5,418.3L164.5,427.0" fill="none" stroke="#111" stroke-width="0.40"/>
<path d="M154.0,401.5L154.0,403.2L152.6,402.3M158.0,401.6L158.0,403.3L156.6,402.4M161.8,402.2L161.8,403.9L160.4,403.0M156.4,405.8L156.4,407.4L155.0,406.6M159.6,405.8L159.7,407.4L158.3,406.6M162.4,405.7L162.4,407.4L161.0,406.5M166.1,405.6L166.2,407.2L164.7,406.4M154.7,409.2L154.7,410.8L153.3,410.0M157.8,409.1L157.8,410.8L156.4,409.9M161.0,409.3L161.1,410.9L159.7,410.1M165.2,410.0L165.2,411.6L163.8,410.8M156.0,414.2L156.0,415.8L154.6,415.0M159.6,413.4L159.6,415.1L158.2,414.2M163.2,413.7L163.3,415.3L161.8,414.5M166.1,413.8L166.2,415.5L164.7,414.6M154.3,417.1L154.3,418.7L152.9,417.9M157.9,417.2L157.9,418.8L156.5,418.0M161.4,417.5L161.4,419.1L160.0,418.3M164.2,418.3L164.2,419.9L162.8,419.1M167.7,417.3L167.7,418.9L166.3,418.1M156.0,421.7L156.0,423.3L154.6,422.5M159.6,421.7L159.6,423.4L158.2,422.5M162.7,421.3L162.8,423.0L161.3,422.1M166.7,421.6L166.7,423.2L165.3,422.4M170.0,422.2L170.0,423.8L168.6,423.0M157.8,425.1L157.8,426.8L156.4,425.9M161.5,425.6L161.6,427.2L160.1,426.4M164.5,425.3L164.5,427.0L163.1,426.1" fill="none" stroke="#111" stroke-width="0.75"/>
<path d="M283.3,354.1L274.6,359.1M287.4,353.2L278.8,358.2M291.5,353.5L282.8,358.5M294.9,353.5L286.2,358.5M284.8,357.5L276.1,362.5M289.0,357.8L280.4,362.8M293.8,357.0L285.1,362.0M297.7,357.3L289.0,362.3M300.9,357.4L292.3,362.4M287.0,361.4L278.4,366.4M291.6,361.1L282.9,366.1M295.2,361.2L286.5,366.2M299.6,361.2L290.9,366.2M293.6,365.5L285.0,370.5M297.8,365.6L289.1,370.6M301.1,366.0L292.5,371.0M299.7,369.1L291.0,374.1" fill="none" stroke="#111" stroke-width="0.40"/>
<path d="M276.3,359.0L274.6,359.1L275.5,357.6M280.4,358.1L278.8,358.2L279.6,356.8M284.5,358.5L282.8,358.5L283.7,357.1M287.9,358.5L286.2,358.5L287.1,357.1M277.7,362.4L276.1,362.5L276.9,361.1M282.0,362.8L280.4,362.8L281.2,361.4M286.8,362.0L285.1,362.0L286.0,360.6M290.6,362.2L289.0,362.3L289.8,360.8M293.9,362.4L292.3,362.4L293.1,361.0M280.0,366.4L278.4,366.4L279.2,365.0M284.5,366.1L282.9,366.1L283.7,364.7M288.2,366.2L286.5,366.2L287.4,364.8M292.6,366.2L290.9,366.2L291.8,364.8M286.6,370.5L285.0,370.5L285.8,369.1M290.8,370.6L289.1,370.6L290.0,369.2M294.1,371.0L292.5,371.0L293.3,369.6M292.7,374.0L291.0,374.1L291.9,372.7" fill="none" stroke="#111" stroke-width="0.75"/>
<path d="M200.0,336.0L191.1,334.4M192.5,335.5L191.1,334.4L192.8,333.9M202.0,341.0L193.1,339.4M194.5,340.5L193.1,339.4L194.8,338.9M228.0,288.0L219.1,286.4M220.5,287.5L219.1,286.4L220.8,285.9M222.0,300.0L214.1,298.6M215.5,299.7L214.1,298.6L215.8,298.0M232.0,305.0L225.1,303.8M226.5,304.9L225.1,303.8L226.8,303.2" fill="none" stroke="#111" stroke-width="0.55"/>
<circle cx="195.4" cy="425.5" r="1.35" fill="#000"/>
<circle cx="195.0" cy="429.8" r="1.35" fill="#000"/>
<circle cx="193.7" cy="433.8" r="1.35" fill="#000"/>
<circle cx="191.7" cy="437.6" r="1.35" fill="#000"/>
<circle cx="189.0" cy="440.9" r="1.35" fill="#000"/>
<circle cx="185.7" cy="443.6" r="1.35" fill="#000"/>
<circle cx="181.9" cy="445.6" r="1.35" fill="#000"/>
<circle cx="177.9" cy="446.9" r="1.35" fill="#000"/>
<circle cx="173.6" cy="447.3" r="1.35" fill="#000"/>
<circle cx="169.3" cy="446.9" r="1.35" fill="#000"/>
<circle cx="165.3" cy="445.6" r="1.35" fill="#000"/>
<circle cx="161.5" cy="443.6" r="1.35" fill="#000"/>
<circle cx="158.2" cy="440.9" r="1.35" fill="#000"/>
<circle cx="155.5" cy="437.6" r="1.35" fill="#000"/>
<circle cx="153.5" cy="433.8" r="1.35" fill="#000"/>
<circle cx="152.2" cy="429.8" r="1.35" fill="#000"/>
<circle cx="151.8" cy="425.5" r="1.35" fill="#000"/>
<circle cx="152.2" cy="421.2" r="1.35" fill="#000"/>
<circle cx="153.5" cy="417.2" r="1.35" fill="#000"/>
<circle cx="155.5" cy="413.4" r="1.35" fill="#000"/>
<circle cx="158.2" cy="410.1" r="1.35" fill="#000"/>
<circle cx="161.5" cy="407.4" r="1.35" fill="#000"/>
<circle cx="165.3" cy="405.4" r="1.35" fill="#000"/>
<circle cx="169.3" cy="404.1" r="1.35" fill="#000"/>
<circle cx="173.6" cy="403.7" r="1.35" fill="#000"/>
<circle cx="177.9" cy="404.1" r="1.35" fill="#000"/>
<circle cx="181.9" cy="405.4" r="1.35" fill="#000"/>
<circle cx="185.7" cy="407.4" r="1.35" fill="#000"/>
<circle cx="189.0" cy="410.1" r="1.35" fill="#000"/>
<circle cx="191.7" cy="413.4" r="1.35" fill="#000"/>
<circle cx="193.7" cy="417.2" r="1.35" fill="#000"/>
<circle cx="195.0" cy="421.2" r="1.35" fill="#000"/>
</g>
<path d="M131.9,250.5V465.0M193.8,250.5V465.0M255.6,250.5V465.0M70.0,286.2H317.5M70.0,322.0H317.5M70.0,357.8H317.5M70.0,393.5H317.5M70.0,429.2H317.5" stroke="#b4b4b4" stroke-width="0.9" stroke-dasharray="1.2,2.2" fill="none"/>
<rect x="70.0" y="250.5" width="247.5" height="214.5" fill="none" stroke="#444" stroke-width="0.9"/>
<path d="M66.8,250.5H70.0M66.8,286.2H70.0M66.8,322.0H70.0M66.8,357.8H70.0M66.8,393.5H70.0M66.8,429.2H70.0M66.8,465.0H70.0M70.0,465.0V467.5M131.9,465.0V467.5M193.8,465.0V467.5M255.6,465.0V467.5M317.5,465.0V467.5" stroke="#3a3a3a" stroke-width="0.9" fill="none"/>
<text x="64.5" y="254.2" font-size="10.3" fill="#4a4a4a" text-anchor="end" textLength="31.0" lengthAdjust="spacingAndGlyphs">21.52N</text>
<text x="64.5" y="289.9" font-size="10.3" fill="#4a4a4a" text-anchor="end" textLength="31.0" lengthAdjust="spacingAndGlyphs">21.51N</text>
<text x="64.5" y="325.7" font-size="10.3" fill="#4a4a4a" text-anchor="end" textLength="25.5" lengthAdjust="spacingAndGlyphs">21.5N</text>
<text x="64.5" y="361.4" font-size="10.3" fill="#4a4a4a" text-anchor="end" textLength="31.0" lengthAdjust="spacingAndGlyphs">21.49N</text>
<text x="64.5" y="397.2" font-size="10.3" fill="#4a4a4a" text-anchor="end" textLength="31.0" lengthAdjust="spacingAndGlyphs">21.48N</text>
<text x="64.5" y="432.9" font-size="10.3" fill="#4a4a4a" text-anchor="end" textLength="31.0" lengthAdjust="spacingAndGlyphs">21.47N</text>
<text x="64.5" y="468.7" font-size="10.3" fill="#4a4a4a" text-anchor="end" textLength="31.0" lengthAdjust="spacingAndGlyphs">21.46N</text>
<text x="70.0" y="477.4" font-size="10.0" fill="#4a4a4a" text-anchor="middle" textLength="36.5" lengthAdjust="spacingAndGlyphs">158.06W</text>
<text x="131.9" y="477.4" font-size="10.0" fill="#4a4a4a" text-anchor="middle" textLength="36.5" lengthAdjust="spacingAndGlyphs">158.04W</text>
<text x="193.8" y="477.4" font-size="10.0" fill="#4a4a4a" text-anchor="middle" textLength="36.5" lengthAdjust="spacingAndGlyphs">158.02W</text>
<text x="255.6" y="477.4" font-size="10.0" fill="#4a4a4a" text-anchor="middle" textLength="22.5" lengthAdjust="spacingAndGlyphs">158W</text>
<text x="317.5" y="477.4" font-size="10.0" fill="#4a4a4a" text-anchor="middle" textLength="36.5" lengthAdjust="spacingAndGlyphs">157.98W</text>
<path d="M253.1,481.0H269.6 M267.1,479.6L269.6,481.0L267.1,482.4" stroke="#555" stroke-width="0.8" fill="none"/>
<text x="261.1" y="487.0" font-size="6.3" fill="#555" text-anchor="middle">10</text>
<g clip-path="url(#clipd)">
<path d="M581.0,240.0 L580.8,250.8 C579.6,252.2 576.6,256.1 573.9,259.5 C571.2,262.9 566.6,267.9 564.7,271.0 C562.8,274.1 562.0,275.6 562.4,277.9 C562.8,280.2 565.5,282.0 567.0,284.7 C568.5,287.4 570.8,290.8 571.6,293.9 C572.4,297.0 572.0,300.0 571.6,303.1 C571.2,306.2 569.3,308.9 569.3,312.3 C569.3,315.8 570.5,320.4 571.6,323.8 C572.8,327.2 574.7,329.9 576.2,333.0 C577.7,336.1 578.5,339.3 580.8,342.2 C583.1,345.1 586.8,347.6 590.0,350.2 C593.2,352.8 596.7,356.1 600.0,358.0 C603.3,359.9 606.7,360.5 610.0,361.5 C613.3,362.5 616.8,363.2 620.0,364.0 C623.2,364.8 627.5,366.1 629.0,366.5 L640.0,368.0 L640.0,240.0 L581.0,240.0 Z" fill="#00ecec"/>
<path d="M585.4,240.0 L585.4,250.8 C584.2,252.2 581.2,256.1 578.5,259.5 C575.8,262.9 571.2,267.9 569.3,271.0 C567.4,274.1 566.6,275.6 567.0,277.9 C567.4,280.2 570.1,282.0 571.6,284.7 C573.1,287.4 575.4,290.8 576.2,293.9 C577.0,297.0 576.6,300.0 576.2,303.1 C575.8,306.2 573.9,308.9 573.9,312.3 C573.9,315.8 575.1,320.4 576.2,323.8 C577.4,327.2 578.9,329.8 580.8,333.0 C582.7,336.2 585.0,340.1 587.7,343.1 C590.4,346.1 593.5,348.6 596.9,350.8 C600.3,353.0 604.6,355.1 608.4,356.4 C612.2,357.7 615.8,357.9 619.8,358.7 C623.8,359.4 630.6,360.5 632.7,360.9 L640.0,361.0 L640.0,240.0 L585.4,240.0 Z" fill="#01a0f6"/>
<path d="M590.0,240.0 L590.0,250.8 C588.9,252.2 585.8,256.5 583.1,259.5 C580.4,262.5 575.8,266.0 573.9,268.7 C572.0,271.4 571.2,273.3 571.6,275.6 C572.0,277.9 574.7,280.2 576.2,282.5 C577.7,284.8 580.0,286.7 580.8,289.3 C581.6,291.9 581.4,294.9 581.0,298.0 C580.6,301.1 578.9,304.6 578.5,307.7 C578.1,310.8 578.1,313.8 578.5,316.9 C578.9,320.0 579.3,322.9 580.8,326.1 C582.3,329.3 585.0,332.9 587.7,336.2 C590.4,339.5 593.5,343.6 596.9,346.2 C600.3,348.8 604.6,350.5 608.4,351.8 C612.2,353.1 615.8,353.2 619.8,354.0 C623.8,354.8 630.6,356.0 632.7,356.4 L640.0,356.5 L640.0,240.0 L590.0,240.0 Z" fill="#0000f6"/>
<path d="M594.6,240.0 L594.6,250.8 C593.8,252.2 591.9,256.9 590.0,259.5 C588.1,262.1 585.0,264.1 583.1,266.4 C581.2,268.7 578.5,271.0 578.5,273.3 C578.5,275.6 581.2,277.9 583.1,280.2 C585.0,282.5 589.2,285.0 590.0,287.0 C590.8,289.0 588.8,290.5 588.0,292.0 C587.2,293.5 586.2,293.6 585.4,296.2 C584.6,298.8 583.1,304.2 583.1,307.7 C583.1,311.2 583.9,313.5 585.4,317.0 C586.9,320.5 589.6,325.0 592.3,328.5 C595.0,332.0 598.1,335.6 601.5,338.0 C604.9,340.4 609.1,341.5 612.9,342.6 C616.7,343.8 621.1,344.1 624.4,344.9 C627.7,345.7 631.3,346.8 632.7,347.2 L640.0,347.0 L640.0,240.0 L594.6,240.0 Z" fill="#00ff00"/>
<path d="M599.2,240.0 L599.2,250.8 C598.8,252.2 598.0,256.5 596.9,259.5 C595.8,262.5 593.4,266.1 592.3,268.7 C591.1,271.3 589.7,272.8 590.0,275.0 C590.3,277.2 593.7,279.7 594.0,282.0 C594.3,284.3 592.9,286.7 592.0,289.0 C591.1,291.3 589.3,292.8 588.5,296.0 C587.7,299.2 586.8,304.9 587.0,308.4 C587.2,311.8 588.3,313.8 590.0,316.7 C591.7,319.6 594.2,323.3 597.0,326.0 C599.8,328.7 603.5,331.2 607.0,333.0 C610.5,334.8 613.7,335.7 618.0,337.0 C622.3,338.3 630.2,340.3 632.7,341.0 L640.0,341.0 L640.0,240.0 L599.2,240.0 Z" fill="#00c800"/>
<path d="M612.9,240.0 L612.9,250.8 C612.1,252.2 609.9,256.5 608.4,259.5 C606.9,262.5 604.9,265.6 603.8,268.7 C602.6,271.8 602.6,274.5 601.5,277.9 C600.4,281.3 598.4,285.9 596.9,289.3 C595.4,292.7 593.4,295.1 592.3,298.5 C591.1,301.9 589.6,306.2 590.0,309.4 C590.4,312.6 592.3,315.3 594.6,317.8 C596.9,320.3 600.4,322.0 603.8,324.2 C607.2,326.4 611.0,328.8 615.2,331.1 C619.4,333.4 626.7,336.9 629.0,338.0 L640.0,339.0 L640.0,240.0 L612.9,240.0 Z" fill="#009000"/>
<path d="M617.5,240.0 L617.5,250.8 C617.9,251.9 619.0,254.6 619.8,257.2 C620.6,259.8 622.1,262.9 622.1,266.4 C622.1,269.8 621.7,274.5 619.8,277.9 C617.9,281.3 613.6,283.9 610.6,287.0 C607.6,290.1 603.8,292.5 601.5,296.2 C599.2,299.9 596.9,305.5 596.9,309.4 C596.9,313.3 598.8,316.8 601.5,319.6 C604.2,322.5 609.1,324.2 612.9,326.5 C616.7,328.8 621.1,331.9 624.4,333.4 C627.7,334.9 631.3,335.3 632.7,335.7 L640.0,336.0 L640.0,240.0 L617.5,240.0 Z" fill="#ffff00"/>
<path d="M606.1,296.2 C607.6,294.3 610.2,293.9 612.9,293.9 C615.6,293.9 620.2,294.7 622.1,296.2 C624.0,297.7 624.8,300.8 624.4,303.1 C624.0,305.4 622.1,308.9 619.8,310.0 C617.5,311.1 613.3,310.8 610.6,310.0 C607.9,309.2 604.5,307.7 603.8,305.4 C603.0,303.1 604.6,298.1 606.1,296.2 Z" fill="#e7c000"/>
<path d="M640.0,389.0 L632.7,389.5 C632.1,389.9 630.4,389.8 629.0,391.7 C627.6,393.6 626.3,397.4 624.4,400.9 C622.5,404.3 620.2,409.3 617.5,412.4 C614.8,415.5 610.7,417.4 608.4,419.3 C606.1,421.2 604.2,422.0 603.8,423.9 C603.4,425.8 604.6,428.5 606.1,430.8 C607.6,433.1 610.3,435.8 613.0,437.7 C615.7,439.6 619.4,441.1 622.1,442.3 C624.8,443.5 627.2,444.0 629.0,444.6 C630.8,445.2 632.1,445.5 632.7,445.7 L640.0,446.0 L640.0,389.0 Z" fill="#00ecec"/>
<path d="M640.0,391.0 L632.7,391.8 C631.8,392.8 628.9,395.5 627.0,398.0 C625.1,400.5 623.8,404.0 621.5,407.0 C619.2,410.0 616.0,413.6 613.5,416.0 C611.0,418.4 607.9,420.0 606.5,421.5 C605.1,423.0 604.5,422.9 605.0,425.0 C605.5,427.1 607.4,431.6 609.5,434.0 C611.6,436.4 614.8,438.1 617.5,439.5 C620.2,440.9 624.2,442.0 625.5,442.5 L640.0,444.0 L640.0,391.0 Z" fill="#01a0f6"/>
<path d="M640.0,393.0 L632.7,394.0 C631.7,395.9 628.9,402.1 626.7,405.5 C624.6,408.9 622.5,412.0 619.8,414.7 C617.1,417.4 612.5,419.7 610.6,421.6 C608.7,423.5 607.6,424.3 608.4,426.2 C609.2,428.1 612.5,431.0 615.2,433.1 C617.9,435.2 621.5,437.5 624.4,438.8 C627.3,440.1 631.3,440.7 632.7,441.1 L640.0,441.0 L640.0,393.0 Z" fill="#0000f6"/>
<path d="M640.0,397.0 L632.7,398.6 C631.9,400.2 629.8,405.0 628.0,408.0 C626.2,411.0 624.3,414.0 622.0,416.5 C619.7,419.0 615.5,421.2 614.0,423.0 C612.5,424.8 612.2,425.5 613.0,427.0 C613.8,428.5 616.7,430.5 619.0,432.0 C621.3,433.5 625.7,435.3 627.0,436.0 L640.0,437.0 L640.0,397.0 Z" fill="#00ff00"/>
<path d="M640.0,402.0 L633.0,404.0 C632.3,405.3 630.5,409.5 629.0,412.0 C627.5,414.5 625.7,417.0 624.0,419.0 C622.3,421.0 619.7,422.5 619.0,424.0 C618.3,425.5 618.8,426.8 620.0,428.0 C621.2,429.2 625.0,430.9 626.0,431.5 L640.0,433.0 L640.0,402.0 Z" fill="#00c800"/>
<path d="M640.0,407.0 L634.0,409.0 C633.3,410.0 631.3,413.0 630.0,415.0 C628.7,417.0 626.8,419.2 626.0,421.0 C625.2,422.8 624.5,424.6 625.0,426.0 C625.5,427.4 628.3,428.9 629.0,429.5 L640.0,431.0 L640.0,407.0 Z" fill="#009000"/>
<path d="M640.0,412.0 L633.0,415.0 C632.2,415.8 629.0,418.3 628.0,420.0 C627.0,421.7 626.5,423.6 627.0,425.0 C627.5,426.4 630.3,427.9 631.0,428.5 L640.0,429.0 L640.0,412.0 Z" fill="#ffff00"/>
<path d="M640.0,417.0 L636.0,418.0 L633.0,422.0 C633.2,422.5 633.8,424.5 634.0,425.0 L640.0,426.0 L640.0,417.0 Z" fill="#e7c000"/>
<path d="M412.0,240.0 L412.3,250.8 C412.5,252.2 413.0,256.1 413.4,259.5 C413.8,262.9 414.0,267.2 414.6,271.0 C415.2,274.8 416.1,278.7 416.9,282.5 C417.7,286.3 418.1,290.1 419.2,293.9 C420.3,297.7 422.2,302.4 423.7,305.4 C425.2,308.4 426.8,309.9 428.0,312.0 C429.2,314.1 430.0,315.7 431.0,318.0 C432.0,320.3 433.2,323.3 434.0,326.0 C434.8,328.7 435.2,331.7 436.0,334.0 C436.8,336.3 437.8,338.2 438.5,340.0 C439.2,341.8 439.4,343.5 440.2,345.0 C441.0,346.5 442.1,347.4 443.3,349.1 C444.5,350.8 446.2,352.8 447.4,355.2 C448.6,357.6 450.1,361.3 450.5,363.4 C450.9,365.4 450.2,366.2 449.5,367.5 C448.8,368.8 447.9,370.2 446.4,371.1 C444.8,372.0 442.6,372.5 440.2,372.7 C437.8,372.9 434.9,372.4 432.0,372.2 C429.1,372.0 425.7,371.5 422.8,371.6 C419.9,371.7 417.7,372.5 414.6,372.7 C411.5,372.9 407.8,372.9 404.4,372.7 C401.0,372.5 396.7,372.5 394.1,371.6 C391.5,370.7 389.9,368.2 389.0,367.5 L380.0,366.0 L380.0,470.0 L551.0,470.0 L550.9,460.6 C550.1,459.1 548.2,454.6 546.3,451.5 C544.4,448.4 542.5,445.4 539.5,442.3 C536.5,439.2 531.1,435.2 528.0,433.1 C524.9,431.1 521.3,431.2 521.0,430.0 C520.7,428.8 524.3,427.8 526.0,426.0 C527.7,424.2 530.2,421.5 531.0,419.0 C531.8,416.5 531.8,413.3 531.0,411.0 C530.2,408.7 528.2,406.6 526.0,405.0 C523.8,403.4 521.0,402.3 518.0,401.5 C515.0,400.7 510.8,399.8 508.0,400.0 C505.2,400.2 503.1,403.2 501.4,402.7 C499.6,402.2 498.2,398.9 497.5,397.0 C496.8,395.1 496.7,392.8 497.0,391.0 C497.3,389.2 498.5,387.7 499.5,386.0 C500.5,384.3 502.1,383.3 503.0,381.0 C503.9,378.7 504.4,375.0 505.0,372.0 C505.6,369.0 505.9,365.5 506.5,363.0 C507.1,360.5 507.6,359.1 508.5,357.0 C509.4,354.9 510.2,352.8 512.0,350.7 C513.8,348.6 516.8,346.7 519.3,344.6 C521.8,342.6 524.2,340.4 526.7,338.4 C529.2,336.3 532.2,335.0 534.1,332.3 C536.0,329.6 536.9,324.6 537.8,322.0 C538.7,319.4 538.9,319.3 539.4,316.9 C539.9,314.5 540.0,310.8 540.6,307.7 C541.2,304.6 542.7,301.6 542.9,298.5 C543.1,295.4 542.3,292.4 541.7,289.3 C541.1,286.2 539.6,283.2 539.4,280.2 C539.2,277.1 541.0,274.1 540.6,271.0 C540.2,267.9 538.9,265.2 537.2,261.8 C535.5,258.4 531.4,252.6 530.3,250.8 L530.0,240.0 L412.0,240.0 Z" fill="#00ecec"/>
<path d="M412.0,240.0 L412.3,250.8 C412.5,252.2 413.0,256.1 413.4,259.5 C413.8,262.9 414.0,267.2 414.6,271.0 C415.2,274.8 416.1,278.7 416.9,282.5 C417.7,286.3 418.1,290.1 419.2,293.9 C420.3,297.7 422.2,302.4 423.7,305.4 C425.2,308.4 426.8,309.9 428.0,312.0 C429.2,314.1 430.0,315.7 431.0,318.0 C432.0,320.3 433.2,323.3 434.0,326.0 C434.8,328.7 435.2,331.7 436.0,334.0 C436.8,336.3 437.8,338.2 438.5,340.0 C439.2,341.8 439.4,343.5 440.2,345.0 C441.0,346.5 442.1,347.4 443.3,349.1 C444.5,350.8 446.2,352.8 447.4,355.2 C448.6,357.6 450.1,361.3 450.5,363.4 C450.9,365.4 450.2,366.2 449.5,367.5 C448.8,368.8 447.9,370.2 446.4,371.1 C444.8,372.0 442.6,372.5 440.2,372.7 C437.8,372.9 434.9,372.4 432.0,372.2 C429.1,372.0 425.7,371.5 422.8,371.6 C419.9,371.7 417.7,372.5 414.6,372.7 C411.5,372.9 407.8,372.9 404.4,372.7 C401.0,372.5 396.7,372.5 394.1,371.6 C391.5,370.7 389.9,368.2 389.0,367.5 L380.0,366.0 L380.0,470.0 L551.0,470.0 L550.9,460.6 C550.1,459.1 548.2,454.6 546.3,451.5 C544.4,448.4 542.5,445.4 539.5,442.3 C536.5,439.2 531.1,435.2 528.0,433.1 C524.9,431.1 521.3,431.2 521.0,430.0 C520.7,428.8 524.3,427.8 526.0,426.0 C527.7,424.2 530.2,421.5 531.0,419.0 C531.8,416.5 531.8,413.3 531.0,411.0 C530.2,408.7 528.2,406.6 526.0,405.0 C523.8,403.4 521.0,402.3 518.0,401.5 C515.0,400.7 510.8,399.8 508.0,400.0 C505.2,400.2 503.1,403.2 501.4,402.7 C499.6,402.2 498.2,398.9 497.5,397.0 C496.8,395.1 496.7,392.8 497.0,391.0 C497.3,389.2 498.5,387.7 499.5,386.0 C500.5,384.3 502.1,383.3 503.0,381.0 C503.9,378.7 504.4,375.0 505.0,372.0 C505.6,369.0 505.9,365.5 506.5,363.0 C507.1,360.5 507.6,359.1 508.5,357.0 C509.4,354.9 510.2,352.8 512.0,350.7 C513.8,348.6 516.8,346.7 519.3,344.6 C521.8,342.6 524.2,340.4 526.7,338.4 C529.2,336.3 532.2,335.0 534.1,332.3 C536.0,329.6 536.9,324.6 537.8,322.0 C538.7,319.4 538.9,319.3 539.4,316.9 C539.9,314.5 540.0,310.8 540.6,307.7 C541.2,304.6 542.7,301.6 542.9,298.5 C543.1,295.4 542.3,292.4 541.7,289.3 C541.1,286.2 539.6,283.2 539.4,280.2 C539.2,277.1 541.0,274.1 540.6,271.0 C540.2,267.9 538.9,265.2 537.2,261.8 C535.5,258.4 531.4,252.6 530.3,250.8 L530.0,240.0 L412.0,240.0 Z" fill="#01a0f6"/>
<path d="M412.0,240.0 L412.3,250.8 C412.5,252.2 413.0,256.1 413.4,259.5 C413.8,262.9 414.0,267.2 414.6,271.0 C415.2,274.8 416.1,278.7 416.9,282.5 C417.7,286.3 418.1,290.1 419.2,293.9 C420.3,297.7 422.2,302.4 423.7,305.4 C425.2,308.4 426.8,309.9 428.0,312.0 C429.2,314.1 430.0,315.7 431.0,318.0 C432.0,320.3 433.2,323.3 434.0,326.0 C434.8,328.7 435.2,331.7 436.0,334.0 C436.8,336.3 437.8,338.2 438.5,340.0 C439.2,341.8 439.4,343.5 440.2,345.0 C441.0,346.5 442.1,347.4 443.3,349.1 C444.5,350.8 446.2,352.8 447.4,355.2 C448.6,357.6 450.1,361.3 450.5,363.4 C450.9,365.4 450.2,366.2 449.5,367.5 C448.8,368.8 447.9,370.2 446.4,371.1 C444.8,372.0 442.6,372.5 440.2,372.7 C437.8,372.9 434.9,372.4 432.0,372.2 C429.1,372.0 425.7,371.5 422.8,371.6 C419.9,371.7 417.7,372.5 414.6,372.7 C411.5,372.9 407.8,372.9 404.4,372.7 C401.0,372.5 396.7,372.5 394.1,371.6 C391.5,370.7 389.9,368.2 389.0,367.5 L380.0,366.0 L380.0,470.0 L551.0,470.0 L550.9,460.6 C550.1,459.1 548.2,454.6 546.3,451.5 C544.4,448.4 542.5,445.4 539.5,442.3 C536.5,439.2 531.1,435.2 528.0,433.1 C524.9,431.1 521.3,431.2 521.0,430.0 C520.7,428.8 524.3,427.8 526.0,426.0 C527.7,424.2 530.2,421.5 531.0,419.0 C531.8,416.5 531.8,413.3 531.0,411.0 C530.2,408.7 528.2,406.6 526.0,405.0 C523.8,403.4 521.0,402.3 518.0,401.5 C515.0,400.7 510.8,399.8 508.0,400.0 C505.2,400.2 503.1,403.2 501.4,402.7 C499.6,402.2 498.2,398.9 497.5,397.0 C496.8,395.1 496.7,392.8 497.0,391.0 C497.3,389.2 498.5,387.7 499.5,386.0 C500.5,384.3 502.1,383.3 503.0,381.0 C503.9,378.7 504.4,375.0 505.0,372.0 C505.6,369.0 505.9,365.5 506.5,363.0 C507.1,360.5 507.6,359.1 508.5,357.0 C509.4,354.9 510.2,352.8 512.0,350.7 C513.8,348.6 516.8,346.7 519.3,344.6 C521.8,342.6 524.2,340.4 526.7,338.4 C529.2,336.3 532.2,335.0 534.1,332.3 C536.0,329.6 536.9,324.6 537.8,322.0 C538.7,319.4 538.9,319.3 539.4,316.9 C539.9,314.5 540.0,310.8 540.6,307.7 C541.2,304.6 542.7,301.6 542.9,298.5 C543.1,295.4 542.3,292.4 541.7,289.3 C541.1,286.2 539.6,283.2 539.4,280.2 C539.2,277.1 541.0,274.1 540.6,271.0 C540.2,267.9 538.9,265.2 537.2,261.8 C535.5,258.4 531.4,252.6 530.3,250.8 L530.0,240.0 L412.0,240.0 Z" fill="none" stroke="#00ecec" stroke-width="3.2" stroke-linejoin="round"/>
<path d="M418.5,240.0 L418.5,250.8 C418.6,254.2 418.5,263.8 419.0,271.0 C419.5,278.2 420.0,287.7 421.5,293.9 C423.0,300.1 425.8,303.8 428.0,308.0 C430.2,312.2 433.2,315.3 435.0,319.0 C436.8,322.7 437.8,326.5 439.0,330.0 C440.2,333.5 441.0,337.3 442.0,340.0 C443.0,342.7 443.9,343.8 445.0,346.0 C446.1,348.2 447.3,350.3 448.5,353.0 C449.7,355.7 451.7,359.3 452.0,362.0 C452.3,364.7 451.7,366.8 450.5,369.0 C449.3,371.2 447.1,373.7 445.0,375.0 C442.9,376.3 440.2,376.6 438.0,376.8 C435.8,377.1 434.5,376.6 432.0,376.5 C429.5,376.4 425.7,375.9 422.8,376.0 C419.9,376.1 417.7,377.0 414.6,377.2 C411.5,377.4 407.8,377.4 404.4,377.2 C401.0,377.0 396.7,376.9 394.1,376.0 C391.5,375.1 389.9,372.7 389.0,372.0 L380.0,371.0 L380.0,470.0 L547.0,470.0 L546.0,460.0 C545.2,458.3 543.0,453.2 541.0,450.0 C539.0,446.8 536.8,443.7 534.0,441.0 C531.2,438.3 526.8,435.5 524.0,434.0 C521.2,432.5 517.7,433.0 517.0,432.0 C516.3,431.0 518.5,429.8 520.0,428.0 C521.5,426.2 524.8,423.5 526.0,421.0 C527.2,418.5 527.7,415.2 527.0,413.0 C526.3,410.8 524.0,409.3 522.0,408.0 C520.0,406.7 517.5,405.7 515.0,405.0 C512.5,404.3 509.5,404.2 507.0,404.0 C504.5,403.8 502.0,404.8 500.0,404.0 C498.0,403.2 495.9,401.0 495.0,399.0 C494.1,397.0 494.2,394.2 494.5,392.0 C494.8,389.8 496.0,388.0 497.0,386.0 C498.0,384.0 499.4,382.4 500.5,380.0 C501.6,377.6 502.8,374.2 503.5,371.6 C504.2,369.0 504.2,366.7 504.8,364.3 C505.4,361.9 506.2,359.6 507.0,357.0 C507.8,354.4 508.2,350.9 509.5,348.5 C510.8,346.1 512.4,344.5 514.5,342.5 C516.6,340.5 519.5,338.6 522.0,336.5 C524.5,334.4 527.7,332.6 529.5,330.0 C531.3,327.4 532.7,324.7 533.0,321.0 C533.3,317.3 531.7,312.2 531.4,307.7 C531.1,303.2 531.4,299.2 531.4,293.9 C531.4,288.5 531.6,281.0 531.4,275.6 C531.2,270.2 531.4,265.9 530.3,261.8 C529.1,257.7 525.5,252.6 524.5,250.8 L524.5,240.0 L418.5,240.0 Z" fill="#0000f6"/>
<path d="M418.5,240.0 L418.5,250.8 C418.6,254.2 418.5,263.8 419.0,271.0 C419.5,278.2 420.0,287.7 421.5,293.9 C423.0,300.1 425.8,303.8 428.0,308.0 C430.2,312.2 433.2,315.3 435.0,319.0 C436.8,322.7 437.8,326.5 439.0,330.0 C440.2,333.5 441.0,337.3 442.0,340.0 C443.0,342.7 443.9,343.8 445.0,346.0 C446.1,348.2 447.3,350.3 448.5,353.0 C449.7,355.7 451.7,359.3 452.0,362.0 C452.3,364.7 451.7,366.8 450.5,369.0 C449.3,371.2 447.1,373.7 445.0,375.0 C442.9,376.3 440.2,376.6 438.0,376.8 C435.8,377.1 434.5,376.6 432.0,376.5 C429.5,376.4 425.7,375.9 422.8,376.0 C419.9,376.1 417.7,377.0 414.6,377.2 C411.5,377.4 407.8,377.4 404.4,377.2 C401.0,377.0 396.7,376.9 394.1,376.0 C391.5,375.1 389.9,372.7 389.0,372.0 L380.0,371.0 L380.0,470.0 L547.0,470.0 L546.0,460.0 C545.2,458.3 543.0,453.2 541.0,450.0 C539.0,446.8 536.8,443.7 534.0,441.0 C531.2,438.3 526.8,435.5 524.0,434.0 C521.2,432.5 517.7,433.0 517.0,432.0 C516.3,431.0 518.5,429.8 520.0,428.0 C521.5,426.2 524.8,423.5 526.0,421.0 C527.2,418.5 527.7,415.2 527.0,413.0 C526.3,410.8 524.0,409.3 522.0,408.0 C520.0,406.7 517.5,405.7 515.0,405.0 C512.5,404.3 509.5,404.2 507.0,404.0 C504.5,403.8 502.0,404.8 500.0,404.0 C498.0,403.2 495.9,401.0 495.0,399.0 C494.1,397.0 494.2,394.2 494.5,392.0 C494.8,389.8 496.0,388.0 497.0,386.0 C498.0,384.0 499.4,382.4 500.5,380.0 C501.6,377.6 502.8,374.2 503.5,371.6 C504.2,369.0 504.2,366.7 504.8,364.3 C505.4,361.9 506.2,359.6 507.0,357.0 C507.8,354.4 508.2,350.9 509.5,348.5 C510.8,346.1 512.4,344.5 514.5,342.5 C516.6,340.5 519.5,338.6 522.0,336.5 C524.5,334.4 527.7,332.6 529.5,330.0 C531.3,327.4 532.7,324.7 533.0,321.0 C533.3,317.3 531.7,312.2 531.4,307.7 C531.1,303.2 531.4,299.2 531.4,293.9 C531.4,288.5 531.6,281.0 531.4,275.6 C531.2,270.2 531.4,265.9 530.3,261.8 C529.1,257.7 525.5,252.6 524.5,250.8 L524.5,240.0 L418.5,240.0 Z" fill="none" stroke="#01a0f6" stroke-width="3" stroke-linejoin="round"/>
<path d="M423.0,240.0 L423.0,250.8 C423.1,254.2 423.0,263.8 423.5,271.0 C424.0,278.2 424.7,287.9 426.0,293.9 C427.3,299.9 429.5,303.0 431.5,307.0 C433.5,311.0 436.2,314.3 438.0,318.0 C439.8,321.7 440.8,325.5 442.0,329.0 C443.2,332.5 443.8,336.0 445.0,339.0 C446.2,342.0 448.2,344.5 449.5,347.0 C450.8,349.5 452.1,351.5 453.0,354.0 C453.9,356.5 455.0,359.0 455.0,362.0 C455.0,365.0 454.5,368.7 453.0,372.0 C451.5,375.3 448.5,379.8 446.0,382.0 C443.5,384.2 440.3,384.5 438.0,385.0 C435.7,385.5 434.7,384.9 432.0,385.0 C429.3,385.1 424.9,385.2 422.0,385.5 C419.1,385.8 417.5,386.4 414.6,386.5 C411.7,386.6 407.8,386.3 404.4,386.0 C401.0,385.7 396.5,385.0 394.0,384.5 C391.5,384.0 390.1,383.2 389.3,383.0 L380.0,383.0 L380.0,470.0 L544.0,470.0 L543.0,460.0 C542.2,458.5 540.0,453.8 538.0,451.0 C536.0,448.2 533.8,445.5 531.0,443.0 C528.2,440.5 523.8,437.5 521.0,436.0 C518.2,434.5 514.8,435.2 514.0,434.0 C513.2,432.8 514.8,430.8 516.0,429.0 C517.2,427.2 520.0,425.3 521.0,423.0 C522.0,420.7 522.5,417.2 522.0,415.0 C521.5,412.8 519.7,411.2 518.0,410.0 C516.3,408.8 514.2,408.5 512.0,408.0 C509.8,407.5 507.3,407.3 505.0,407.0 C502.7,406.7 500.2,407.2 498.0,406.0 C495.8,404.8 493.2,402.3 492.0,400.0 C490.8,397.7 490.8,394.3 491.0,392.0 C491.2,389.7 492.1,388.0 493.0,386.0 C493.9,384.0 495.5,382.4 496.5,380.0 C497.5,377.6 498.3,374.2 499.0,371.6 C499.7,369.0 499.8,366.7 500.5,364.3 C501.2,361.9 502.1,359.6 503.0,357.0 C503.9,354.4 504.8,350.9 506.0,348.5 C507.2,346.1 508.6,344.5 510.5,342.5 C512.4,340.5 515.1,338.6 517.5,336.5 C519.9,334.4 523.2,332.5 525.0,330.0 C526.8,327.5 528.2,325.2 528.5,321.5 C528.8,317.8 527.1,312.3 526.8,307.7 C526.5,303.1 526.8,299.2 526.8,293.9 C526.8,288.5 527.0,281.0 526.8,275.6 C526.6,270.2 526.7,265.9 525.7,261.8 C524.8,257.7 521.9,252.6 521.1,250.8 L521.1,240.0 L423.0,240.0 Z" fill="#00ff00"/>
<path d="M428.0,240.0 L428.0,250.8 C427.8,254.2 426.8,263.8 427.0,271.0 C427.2,278.2 428.2,288.1 429.5,293.9 C430.8,299.7 433.1,302.1 435.0,306.0 C436.9,309.9 439.3,313.3 441.0,317.0 C442.7,320.7 443.8,324.5 445.0,328.0 C446.2,331.5 446.8,335.0 448.0,338.0 C449.2,341.0 450.8,343.5 452.0,346.0 C453.2,348.5 454.6,350.5 455.5,353.0 C456.4,355.5 457.5,357.8 457.5,361.0 C457.5,364.2 457.1,368.2 455.5,372.0 C453.9,375.8 450.9,381.2 448.0,384.0 C445.1,386.8 440.7,387.7 438.0,388.5 C435.3,389.3 434.7,388.8 432.0,389.0 C429.3,389.2 424.9,389.7 422.0,390.0 C419.1,390.3 417.6,390.9 414.6,391.0 C411.6,391.1 407.4,390.8 404.0,390.5 C400.6,390.2 396.4,389.4 394.0,389.0 C391.6,388.6 390.1,388.2 389.3,388.0 L380.0,388.0 L380.0,470.0 L540.0,470.0 L539.0,460.0 C538.2,458.7 536.0,454.5 534.0,452.0 C532.0,449.5 529.8,447.2 527.0,445.0 C524.2,442.8 519.8,440.3 517.0,439.0 C514.2,437.7 511.0,438.2 510.0,437.0 C509.0,435.8 510.3,433.8 511.0,432.0 C511.7,430.2 513.5,428.2 514.0,426.0 C514.5,423.8 514.7,421.0 514.0,419.0 C513.3,417.0 511.8,415.3 510.0,414.0 C508.2,412.7 505.5,411.8 503.0,411.0 C500.5,410.2 497.3,410.2 495.0,409.0 C492.7,407.8 490.2,406.2 489.0,404.0 C487.8,401.8 487.5,398.7 487.5,396.0 C487.5,393.3 488.2,390.7 489.0,388.0 C489.8,385.3 491.0,382.7 492.0,380.0 C493.0,377.3 494.2,374.2 495.0,371.6 C495.8,369.0 496.2,366.7 497.0,364.3 C497.8,361.9 498.6,359.6 499.5,357.0 C500.4,354.4 501.2,350.9 502.5,348.5 C503.8,346.1 505.1,344.5 507.0,342.5 C508.9,340.5 511.6,338.6 514.0,336.5 C516.4,334.4 519.8,332.5 521.5,330.0 C523.2,327.5 524.6,325.2 524.5,321.5 C524.4,317.8 521.7,312.3 521.1,307.7 C520.5,303.1 520.9,299.2 521.1,293.9 C521.3,288.5 522.0,281.0 522.2,275.6 C522.4,270.2 522.8,265.9 522.2,261.8 C521.6,257.7 519.4,252.6 518.8,250.8 L518.8,240.0 L428.0,240.0 Z" fill="#00c800"/>
<path d="M441.0,240.0 L441.0,250.8 C440.4,252.6 438.5,258.4 437.5,261.8 C436.5,265.2 435.8,267.6 435.2,271.0 C434.6,274.4 433.9,278.7 434.1,282.5 C434.3,286.3 435.4,290.5 436.4,293.9 C437.3,297.3 438.5,300.0 439.8,303.1 C441.1,306.2 442.9,309.2 444.4,312.3 C445.9,315.4 447.6,318.6 449.0,321.5 C450.4,324.4 451.9,326.9 453.0,330.0 C454.1,333.1 455.3,336.7 455.9,340.0 C456.5,343.3 456.3,347.0 456.5,350.0 C456.7,353.0 457.2,355.2 457.0,358.0 C456.8,360.8 456.5,363.2 455.5,366.5 C454.5,369.8 452.9,374.2 451.0,378.0 C449.1,381.8 447.4,386.1 444.4,389.5 C441.4,392.9 437.1,395.9 432.9,398.6 C428.7,401.3 423.0,402.8 419.2,405.5 C415.4,408.2 411.9,410.9 410.0,414.7 C408.1,418.5 406.9,424.3 407.7,428.5 C408.5,432.7 411.6,436.9 414.6,440.0 C417.7,443.1 422.9,444.2 426.0,446.9 C429.1,449.6 431.4,453.8 432.9,456.1 C434.4,458.4 434.8,459.9 435.2,460.6 L436.0,470.0 L493.0,470.0 L492.6,460.6 C493.4,459.2 495.9,454.8 497.5,452.0 C499.1,449.2 500.4,446.3 502.0,444.0 C503.6,441.7 505.3,440.0 507.0,438.0 C508.7,436.0 510.7,434.3 512.0,432.0 C513.3,429.7 514.7,426.3 515.0,424.0 C515.3,421.7 515.0,419.8 514.0,418.0 C513.0,416.2 511.0,414.5 509.0,413.0 C507.0,411.5 504.5,410.3 502.0,409.0 C499.5,407.7 496.7,406.8 494.0,405.0 C491.3,403.2 487.8,400.8 486.0,398.0 C484.2,395.2 483.8,391.3 483.0,388.0 C482.2,384.7 481.8,380.7 481.5,378.0 C481.2,375.3 480.9,374.5 481.5,371.6 C482.1,368.7 483.5,364.1 484.9,360.6 C486.3,357.1 488.1,354.0 489.8,350.7 C491.5,347.4 492.8,344.4 494.8,340.9 C496.9,337.4 499.5,333.3 502.1,329.8 C504.8,326.3 508.9,322.5 510.7,320.0 C512.5,317.5 512.4,317.4 513.0,315.0 C513.6,312.6 514.2,308.9 514.2,305.4 C514.2,301.9 513.0,298.9 513.0,293.9 C513.0,288.9 513.8,281.0 514.2,275.6 C514.6,270.2 515.3,265.9 515.3,261.8 C515.3,257.7 514.4,252.6 514.2,250.8 L514.2,240.0 L441.0,240.0 Z" fill="#009000" stroke="#009000" stroke-width="5" stroke-linejoin="round"/>
<path d="M441.0,240.0 L441.0,250.8 C440.4,252.6 438.5,258.4 437.5,261.8 C436.5,265.2 435.8,267.6 435.2,271.0 C434.6,274.4 433.9,278.7 434.1,282.5 C434.3,286.3 435.4,290.5 436.4,293.9 C437.3,297.3 438.5,300.0 439.8,303.1 C441.1,306.2 442.9,309.2 444.4,312.3 C445.9,315.4 447.6,318.6 449.0,321.5 C450.4,324.4 451.9,326.9 453.0,330.0 C454.1,333.1 455.3,336.7 455.9,340.0 C456.5,343.3 456.3,347.0 456.5,350.0 C456.7,353.0 457.2,355.2 457.0,358.0 C456.8,360.8 456.5,363.2 455.5,366.5 C454.5,369.8 452.9,374.2 451.0,378.0 C449.1,381.8 447.4,386.1 444.4,389.5 C441.4,392.9 437.1,395.9 432.9,398.6 C428.7,401.3 423.0,402.8 419.2,405.5 C415.4,408.2 411.9,410.9 410.0,414.7 C408.1,418.5 406.9,424.3 407.7,428.5 C408.5,432.7 411.6,436.9 414.6,440.0 C417.7,443.1 422.9,444.2 426.0,446.9 C429.1,449.6 431.4,453.8 432.9,456.1 C434.4,458.4 434.8,459.9 435.2,460.6 L436.0,470.0 L493.0,470.0 L492.6,460.6 C493.4,459.2 495.9,454.8 497.5,452.0 C499.1,449.2 500.4,446.3 502.0,444.0 C503.6,441.7 505.3,440.0 507.0,438.0 C508.7,436.0 510.7,434.3 512.0,432.0 C513.3,429.7 514.7,426.3 515.0,424.0 C515.3,421.7 515.0,419.8 514.0,418.0 C513.0,416.2 511.0,414.5 509.0,413.0 C507.0,411.5 504.5,410.3 502.0,409.0 C499.5,407.7 496.7,406.8 494.0,405.0 C491.3,403.2 487.8,400.8 486.0,398.0 C484.2,395.2 483.8,391.3 483.0,388.0 C482.2,384.7 481.8,380.7 481.5,378.0 C481.2,375.3 480.9,374.5 481.5,371.6 C482.1,368.7 483.5,364.1 484.9,360.6 C486.3,357.1 488.1,354.0 489.8,350.7 C491.5,347.4 492.8,344.4 494.8,340.9 C496.9,337.4 499.5,333.3 502.1,329.8 C504.8,326.3 508.9,322.5 510.7,320.0 C512.5,317.5 512.4,317.4 513.0,315.0 C513.6,312.6 514.2,308.9 514.2,305.4 C514.2,301.9 513.0,298.9 513.0,293.9 C513.0,288.9 513.8,281.0 514.2,275.6 C514.6,270.2 515.3,265.9 515.3,261.8 C515.3,257.7 514.4,252.6 514.2,250.8 L514.2,240.0 L441.0,240.0 Z" fill="#ffff00"/>
<path d="M446.7,240.0 L446.7,250.8 C446.3,252.6 444.8,258.4 444.4,261.8 C444.0,265.2 444.3,267.6 444.5,271.0 C444.7,274.4 444.9,278.7 445.5,282.5 C446.1,286.3 447.1,290.5 448.0,293.9 C448.9,297.3 449.8,300.0 451.0,303.0 C452.2,306.0 453.8,309.2 455.0,312.0 C456.2,314.8 457.2,317.0 458.0,320.0 C458.8,323.0 459.5,326.7 460.0,330.0 C460.5,333.3 460.8,336.7 461.0,340.0 C461.2,343.3 461.3,347.0 461.5,350.0 C461.7,353.0 462.2,354.9 462.0,358.0 C461.8,361.1 461.5,364.7 460.5,368.8 C459.5,372.9 458.2,379.2 455.9,382.6 C453.6,386.1 449.8,386.6 446.7,389.5 C443.6,392.4 439.3,397.3 437.0,400.0 C434.7,402.7 434.7,403.1 432.9,405.5 C431.1,407.9 427.5,411.6 426.0,414.7 C424.5,417.8 423.7,421.0 423.7,423.9 C423.7,426.8 424.6,429.3 426.0,432.0 C427.4,434.7 429.7,437.3 432.0,440.0 C434.3,442.7 437.8,445.5 440.0,448.0 C442.2,450.5 443.8,452.8 445.0,455.0 C446.2,457.2 446.7,460.0 447.0,461.0 L448.0,470.0 L488.0,470.0 L488.0,461.0 C488.7,459.5 490.8,455.2 492.0,452.0 C493.2,448.8 494.5,445.7 495.0,442.0 C495.5,438.3 495.5,434.0 495.0,430.0 C494.5,426.0 493.3,421.7 492.0,418.0 C490.7,414.3 488.7,411.3 487.0,408.0 C485.3,404.7 483.2,401.7 482.0,398.0 C480.8,394.3 480.4,389.8 480.0,386.0 C479.6,382.2 479.5,378.2 479.5,375.0 C479.5,371.8 479.5,369.8 480.0,367.0 C480.5,364.2 481.6,360.8 482.5,358.0 C483.4,355.2 484.3,353.0 485.5,350.0 C486.7,347.0 488.4,343.3 489.5,340.0 C490.6,336.7 492.2,333.3 492.0,330.0 C491.8,326.7 489.4,322.7 488.0,320.0 C486.6,317.3 483.9,316.4 483.5,314.0 C483.1,311.6 485.8,308.8 485.8,305.4 C485.8,302.0 484.3,297.8 483.5,293.9 C482.7,290.0 481.0,285.8 481.0,282.0 C481.0,278.2 482.3,274.8 483.5,271.0 C484.7,267.2 487.3,262.9 488.1,259.5 C488.9,256.1 488.1,252.2 488.1,250.8 L488.1,240.0 L446.7,240.0 Z" fill="#e7c000"/>
<path d="M453.7,293.0 C454.9,291.4 456.9,292.4 460.0,292.5 C463.1,292.6 469.3,292.6 472.3,293.5 C475.3,294.4 476.2,296.4 478.0,298.0 C479.8,299.6 481.6,301.1 483.0,303.0 C484.4,304.9 485.9,306.8 486.7,309.3 C487.5,311.8 487.7,314.6 488.0,318.0 C488.3,321.4 488.5,326.3 488.5,330.0 C488.5,333.7 488.5,337.0 488.0,340.0 C487.5,343.0 486.5,345.3 485.5,348.0 C484.5,350.7 482.9,353.3 482.0,356.0 C481.1,358.7 480.5,361.3 480.0,364.0 C479.5,366.7 479.1,369.0 479.0,372.0 C478.9,375.0 479.0,378.7 479.5,382.0 C480.0,385.3 481.2,389.0 482.0,392.0 C482.8,395.0 483.0,397.8 484.0,400.0 C485.0,402.2 486.6,402.9 488.1,405.0 C489.6,407.1 491.9,409.2 493.0,412.4 C494.1,415.5 495.4,420.4 495.0,423.9 C494.6,427.3 492.3,430.4 490.4,433.1 C488.5,435.8 485.8,438.5 483.5,440.0 C481.2,441.5 479.7,442.3 476.6,442.3 C473.5,442.3 469.3,441.1 465.1,440.0 C460.9,438.9 455.5,437.7 451.3,435.4 C447.1,433.1 442.5,429.3 439.8,426.2 C437.1,423.1 435.6,420.1 435.2,417.0 C434.8,413.9 435.6,410.9 437.5,407.8 C439.4,404.7 444.1,401.6 446.7,398.6 C449.3,395.6 450.9,392.8 453.0,390.0 C455.1,387.2 457.3,385.0 459.0,382.0 C460.7,379.0 462.0,375.2 463.0,372.0 C464.0,368.8 465.0,366.5 465.0,362.8 C465.0,359.1 463.6,354.1 463.0,350.0 C462.4,345.9 462.0,342.2 461.3,338.0 C460.6,333.8 459.9,329.3 459.0,325.0 C458.1,320.7 457.0,315.8 456.0,312.0 C455.0,308.2 453.4,305.2 453.0,302.0 C452.6,298.8 452.5,294.6 453.7,293.0 Z" fill="#ff9000"/>
<path d="M481.5,323.7 C482.4,321.9 483.7,320.9 484.5,322.0 C485.3,323.1 486.2,327.0 486.5,330.0 C486.8,333.0 486.5,336.8 486.0,340.0 C485.5,343.2 484.3,347.2 483.5,349.0 C482.7,350.8 481.7,351.8 481.0,351.0 C480.3,350.2 479.6,347.0 479.3,344.0 C479.0,341.0 478.9,336.4 479.3,333.0 C479.7,329.6 480.6,325.5 481.5,323.7 Z" fill="#ff0000"/>
<path d="M449.0,419.3 C450.1,417.9 453.2,416.6 455.9,414.7 C458.6,412.8 462.4,410.1 465.1,407.8 C467.8,405.5 470.1,402.2 472.0,400.9 C473.9,399.6 475.3,399.0 476.6,399.8 C477.9,400.6 479.4,403.0 480.0,405.5 C480.6,408.0 480.9,412.4 480.0,414.7 C479.1,417.0 476.8,418.1 474.3,419.3 C471.8,420.5 467.4,420.1 465.1,421.6 C462.8,423.1 462.4,427.7 460.5,428.5 C458.6,429.3 455.5,427.1 453.6,426.2 C451.7,425.2 449.8,423.9 449.0,422.8 C448.2,421.7 447.9,420.7 449.0,419.3 Z" fill="#ff0000"/>
<path d="M405.0,444.0 C405.7,443.6 408.0,445.0 410.0,446.0 C412.0,447.0 415.1,448.5 417.0,450.0 C418.9,451.5 421.2,453.8 421.5,455.0 C421.8,456.2 420.6,457.3 419.0,457.0 C417.4,456.7 414.2,454.4 412.0,453.0 C409.8,451.6 407.2,450.0 406.0,448.5 C404.8,447.0 404.3,444.4 405.0,444.0 Z" fill="#0000f6"/>
<path d="M389.0,394.0 C389.8,393.1 392.8,394.2 394.0,395.0 C395.2,395.8 396.2,398.0 396.0,399.0 C395.8,400.0 394.2,400.8 393.0,401.0 C391.8,401.2 389.7,401.7 389.0,400.5 C388.3,399.3 388.2,394.9 389.0,394.0 Z" fill="#0000f6"/>
<path d="M539.5,413.6 C540.8,412.5 544.2,411.8 546.3,412.4 C548.4,413.0 551.1,415.1 552.1,417.0 C553.1,418.9 553.1,422.2 552.1,423.9 C551.1,425.6 548.2,427.1 546.3,427.3 C544.4,427.5 541.9,426.3 540.6,425.0 C539.3,423.7 538.5,421.2 538.3,419.3 C538.1,417.4 538.2,414.8 539.5,413.6 Z" fill="#00ecec"/>
<path d="M516.5,435.4 C516.8,434.4 518.8,436.4 520.0,438.0 C521.2,439.6 523.0,442.4 524.0,445.0 C525.0,447.6 526.0,452.6 525.7,453.8 C525.4,455.0 523.3,453.6 522.0,452.0 C520.7,450.4 518.9,446.8 518.0,444.0 C517.1,441.2 516.2,436.4 516.5,435.4 Z" fill="#0000f6"/>
<path d="M515.8,394.0 C516.5,392.1 519.6,392.5 522.0,392.3 C524.4,392.1 527.5,392.1 530.0,393.0 C532.5,393.9 535.7,396.0 536.7,398.0 C537.7,400.0 537.0,402.9 536.0,405.0 C535.0,407.1 533.0,410.0 531.0,410.7 C529.0,411.4 526.2,410.1 524.0,409.0 C521.8,407.9 519.4,406.5 518.0,404.0 C516.6,401.5 515.1,395.9 515.8,394.0 Z" fill="#00ecec"/>
<path d="M541.5,416.5 C542.3,415.6 544.7,415.1 546.0,415.5 C547.3,415.9 549.1,417.6 549.5,419.0 C549.9,420.4 549.4,423.0 548.5,424.0 C547.6,425.0 545.2,425.5 544.0,425.0 C542.8,424.5 541.4,422.4 541.0,421.0 C540.6,419.6 540.7,417.4 541.5,416.5 Z" fill="#01a0f6"/>
<path d="M444.0,342.0 C445.0,340.0 447.7,339.3 450.0,339.0 C452.3,338.7 455.7,339.2 458.0,340.0 C460.3,340.8 463.2,342.0 464.0,344.0 C464.8,346.0 464.2,349.9 463.0,352.0 C461.8,354.1 459.3,355.8 457.0,356.5 C454.7,357.2 451.2,356.9 449.0,356.0 C446.8,355.1 444.8,353.3 444.0,351.0 C443.2,348.7 443.0,344.0 444.0,342.0 Z" fill="#009000"/>
<path d="M447.0,346.0 C447.8,344.8 450.3,343.6 452.0,343.5 C453.7,343.4 456.3,344.2 457.0,345.5 C457.7,346.8 457.0,349.8 456.0,351.0 C455.0,352.2 452.5,352.6 451.0,352.5 C449.5,352.4 447.7,351.6 447.0,350.5 C446.3,349.4 446.2,347.2 447.0,346.0 Z" fill="#0000f6"/>
<path d="M520.0,397.0 C520.7,395.7 525.0,395.5 527.0,396.0 C529.0,396.5 531.7,398.5 532.0,400.0 C532.3,401.5 530.5,404.3 529.0,405.0 C527.5,405.7 524.5,405.3 523.0,404.0 C521.5,402.7 519.3,398.3 520.0,397.0 Z" fill="#01a0f6"/>
<path d="M476.0,318.0 C476.7,315.3 478.3,314.3 480.0,314.0 C481.7,313.7 484.3,314.3 486.0,316.0 C487.7,317.7 489.3,320.7 490.0,324.0 C490.7,327.3 490.2,332.0 490.0,336.0 C489.8,340.0 489.7,344.3 489.0,348.0 C488.3,351.7 487.2,355.7 486.0,358.0 C484.8,360.3 483.3,362.3 482.0,362.0 C480.7,361.7 479.0,359.0 478.0,356.0 C477.0,353.0 476.3,348.3 476.0,344.0 C475.7,339.7 476.0,334.3 476.0,330.0 C476.0,325.7 475.3,320.7 476.0,318.0 Z" fill="none" stroke="#7080c0" stroke-width="0.80" stroke-dasharray="1.5,1.3"/>
<path d="M470.0,320.0 C471.0,318.7 473.7,314.0 476.0,312.0 C478.3,310.0 481.3,308.0 484.0,308.0 C486.7,308.0 490.7,311.3 492.0,312.0" fill="none" stroke="#7080c0" stroke-width="0.80" stroke-dasharray="1.5,1.3"/>
<path d="M440.0,400.0 C441.3,399.3 445.0,396.3 448.0,396.0 C451.0,395.7 454.7,398.0 458.0,398.0 C461.3,398.0 464.3,396.0 468.0,396.0 C471.7,396.0 476.3,396.7 480.0,398.0 C483.7,399.3 488.3,403.0 490.0,404.0" fill="none" stroke="#7080c0" stroke-width="0.80" stroke-dasharray="1.5,1.3"/>
<path d="M442.0,410.0 C443.3,411.0 447.0,414.3 450.0,416.0 C453.0,417.7 456.7,418.7 460.0,420.0 C463.3,421.3 466.7,423.0 470.0,424.0 C473.3,425.0 478.3,425.7 480.0,426.0" fill="none" stroke="#7080c0" stroke-width="0.80" stroke-dasharray="1.5,1.3"/>
<path d="M452.0,262.0 C453.3,261.3 457.0,259.0 460.0,258.0 C463.0,257.0 467.0,255.7 470.0,256.0 C473.0,256.3 476.7,259.3 478.0,260.0" fill="none" stroke="#7080c0" stroke-width="0.80" stroke-dasharray="1.5,1.3"/>
<path d="M456.0,280.0 C457.0,281.7 460.3,286.7 462.0,290.0 C463.7,293.3 465.3,298.3 466.0,300.0" fill="none" stroke="#7080c0" stroke-width="0.80" stroke-dasharray="1.5,1.3"/>
<path d="M389.0,258.0 C390.2,259.3 393.5,263.0 396.0,266.0 C398.5,269.0 401.3,272.3 404.0,276.0 C406.7,279.7 409.3,284.0 412.0,288.0 C414.7,292.0 417.7,296.0 420.0,300.0 C422.3,304.0 424.0,308.3 426.0,312.0 C428.0,315.7 431.0,320.3 432.0,322.0" fill="none" stroke="#f08585" stroke-width="0.80"/>
<path d="M389.0,261.0 C390.2,262.3 393.5,266.0 396.0,269.0 C398.5,272.0 401.3,275.3 404.0,279.0 C406.7,282.7 409.3,287.0 412.0,291.0 C414.7,295.0 417.7,299.0 420.0,303.0 C422.3,307.0 424.0,311.3 426.0,315.0 C428.0,318.7 431.0,323.3 432.0,325.0" fill="none" stroke="#f08585" stroke-width="0.80"/>
<path d="M389.0,264.0 C390.2,265.3 393.5,269.0 396.0,272.0 C398.5,275.0 401.3,278.3 404.0,282.0 C406.7,285.7 409.3,290.0 412.0,294.0 C414.7,298.0 417.7,302.0 420.0,306.0 C422.3,310.0 424.0,314.3 426.0,318.0 C428.0,321.7 431.0,326.3 432.0,328.0" fill="none" stroke="#f08585" stroke-width="0.80"/>
<path d="M389.0,300.0 C390.5,301.3 394.8,305.0 398.0,308.0 C401.2,311.0 404.7,314.3 408.0,318.0 C411.3,321.7 415.0,326.3 418.0,330.0 C421.0,333.7 423.7,336.7 426.0,340.0 C428.3,343.3 430.3,346.7 432.0,350.0 C433.7,353.3 435.3,358.3 436.0,360.0" fill="none" stroke="#f08585" stroke-width="0.80"/>
<path d="M389.0,303.0 C390.5,304.3 394.8,308.0 398.0,311.0 C401.2,314.0 404.7,317.3 408.0,321.0 C411.3,324.7 415.0,329.3 418.0,333.0 C421.0,336.7 423.7,339.7 426.0,343.0 C428.3,346.3 430.3,349.7 432.0,353.0 C433.7,356.3 435.3,361.3 436.0,363.0" fill="none" stroke="#f08585" stroke-width="0.80"/>
<path d="M389.0,306.0 C390.5,307.3 394.8,311.0 398.0,314.0 C401.2,317.0 404.7,320.3 408.0,324.0 C411.3,327.7 415.0,332.3 418.0,336.0 C421.0,339.7 423.7,342.7 426.0,346.0 C428.3,349.3 430.3,352.7 432.0,356.0 C433.7,359.3 435.3,364.3 436.0,366.0" fill="none" stroke="#f08585" stroke-width="0.80"/>
<path d="M389.0,309.0 C390.5,310.3 394.8,314.0 398.0,317.0 C401.2,320.0 404.7,323.3 408.0,327.0 C411.3,330.7 415.0,335.3 418.0,339.0 C421.0,342.7 423.7,345.7 426.0,349.0 C428.3,352.3 430.3,355.7 432.0,359.0 C433.7,362.3 435.3,367.3 436.0,369.0" fill="none" stroke="#f08585" stroke-width="0.80"/>
<path d="M392.0,252.0 C393.0,252.7 396.0,254.0 398.0,256.0 C400.0,258.0 403.0,262.7 404.0,264.0" fill="none" stroke="#f08585" stroke-width="0.80"/>
<path d="M400.0,252.0 C401.0,253.0 404.3,255.7 406.0,258.0 C407.7,260.3 409.3,264.7 410.0,266.0" fill="none" stroke="#f08585" stroke-width="0.80"/>
<ellipse cx="401.0" cy="265.0" rx="4.0" ry="7.0" fill="none" stroke="#f08585" stroke-width="0.80" transform="rotate(-30.0 401.0 265.0)"/>
<ellipse cx="401.0" cy="265.0" rx="2.0" ry="3.5" fill="none" stroke="#f08585" stroke-width="0.80" transform="rotate(-30.0 401.0 265.0)"/>
<ellipse cx="412.0" cy="298.0" rx="3.0" ry="5.0" fill="none" stroke="#f08585" stroke-width="0.80" transform="rotate(-35.0 412.0 298.0)"/>
<path d="M396.0,334.0 L400.0,336.0" fill="none" stroke="#7a86ff" stroke-width="0.80" stroke-dasharray="1.6,1.4"/>
<ellipse cx="398.5" cy="336.0" rx="2.5" ry="1.5" fill="none" stroke="#7a86ff" stroke-width="0.80" stroke-dasharray="1.6,1.4"/>
<path d="M520.0,378.0 C521.0,377.7 524.0,375.7 526.0,376.0 C528.0,376.3 530.3,378.3 532.0,380.0 C533.7,381.7 534.7,384.0 536.0,386.0 C537.3,388.0 539.3,391.0 540.0,392.0" fill="none" stroke="#f08585" stroke-width="0.80"/>
<path d="M530.0,372.0 C531.0,372.3 534.3,372.7 536.0,374.0 C537.7,375.3 539.3,379.0 540.0,380.0" fill="none" stroke="#f08585" stroke-width="0.80"/>
<path d="M536.0,396.0 C538.0,397.0 544.0,400.0 548.0,402.0 C552.0,404.0 556.0,405.7 560.0,408.0 C564.0,410.3 568.0,413.0 572.0,416.0 C576.0,419.0 580.3,422.7 584.0,426.0 C587.7,429.3 591.3,433.0 594.0,436.0 C596.7,439.0 599.0,442.7 600.0,444.0" fill="none" stroke="#f08585" stroke-width="0.80"/>
<path d="M536.0,398.5 C538.0,399.5 544.0,402.5 548.0,404.5 C552.0,406.5 556.0,408.2 560.0,410.5 C564.0,412.8 568.0,415.5 572.0,418.5 C576.0,421.5 580.3,425.2 584.0,428.5 C587.7,431.8 591.3,435.5 594.0,438.5 C596.7,441.5 599.0,445.2 600.0,446.5" fill="none" stroke="#f08585" stroke-width="0.80"/>
<path d="M536.0,401.0 C538.0,402.0 544.0,405.0 548.0,407.0 C552.0,409.0 556.0,410.7 560.0,413.0 C564.0,415.3 568.0,418.0 572.0,421.0 C576.0,424.0 580.3,427.7 584.0,431.0 C587.7,434.3 591.3,438.0 594.0,441.0 C596.7,444.0 599.0,447.7 600.0,449.0" fill="none" stroke="#f08585" stroke-width="0.80"/>
<path d="M536.0,403.5 C538.0,404.5 544.0,407.5 548.0,409.5 C552.0,411.5 556.0,413.2 560.0,415.5 C564.0,417.8 568.0,420.5 572.0,423.5 C576.0,426.5 580.3,430.2 584.0,433.5 C587.7,436.8 591.3,440.5 594.0,443.5 C596.7,446.5 599.0,450.2 600.0,451.5" fill="none" stroke="#f08585" stroke-width="0.80"/>
<path d="M560.0,404.0 C562.0,405.0 568.0,407.7 572.0,410.0 C576.0,412.3 580.3,415.0 584.0,418.0 C587.7,421.0 592.3,426.3 594.0,428.0" fill="none" stroke="#f08585" stroke-width="0.80"/>
<path d="M590.0,432.0 C591.0,430.7 594.0,426.7 596.0,424.0 C598.0,421.3 599.7,418.3 602.0,416.0 C604.3,413.7 607.0,411.3 610.0,410.0 C613.0,408.7 617.3,409.0 620.0,408.0 C622.7,407.0 625.0,404.7 626.0,404.0" fill="none" stroke="#f08585" stroke-width="0.80"/>
<path d="M600.0,420.0 C601.0,419.0 604.0,415.3 606.0,414.0 C608.0,412.7 611.0,412.3 612.0,412.0" fill="none" stroke="#f08585" stroke-width="0.80"/>
<path d="M526.0,446.0 C527.7,446.7 532.3,449.0 536.0,450.0 C539.7,451.0 544.0,451.3 548.0,452.0 C552.0,452.7 556.0,453.0 560.0,454.0 C564.0,455.0 570.0,457.3 572.0,458.0" fill="none" stroke="#f08585" stroke-width="0.80"/>
<path d="M520.0,436.0 C521.3,436.3 525.7,436.7 528.0,438.0 C530.3,439.3 533.0,443.0 534.0,444.0" fill="none" stroke="#f08585" stroke-width="0.80"/>
<path d="M540.0,390.0 C540.8,388.8 543.7,387.7 546.0,387.0 C548.3,386.3 552.0,386.0 554.0,386.0 C556.0,386.0 558.0,386.3 558.0,387.0 C558.0,387.7 556.0,389.0 554.0,390.0 C552.0,391.0 548.2,392.3 546.0,393.0 C543.8,393.7 542.0,394.5 541.0,394.0 C540.0,393.5 539.2,391.2 540.0,390.0 Z" fill="none" stroke="#a035d0" stroke-width="1.00"/>
<path d="M596.0,460.0 C596.7,458.7 598.3,454.3 600.0,452.0 C601.7,449.7 604.3,448.0 606.0,446.0 C607.7,444.0 608.3,440.3 610.0,440.0 C611.7,439.7 615.0,443.3 616.0,444.0" fill="none" stroke="#a035d0" stroke-width="1.00"/>
<path d="M620.0,460.0 C620.7,458.7 622.3,454.0 624.0,452.0 C625.7,450.0 629.0,448.7 630.0,448.0" fill="none" stroke="#a035d0" stroke-width="1.00"/>
<ellipse cx="591.5" cy="404.5" rx="1.5" ry="1.5" fill="none" stroke="#7a86ff" stroke-width="0.80" stroke-dasharray="1,1"/>
<text x="591.8" y="455.5" font-size="8.6" fill="#a035d0" text-anchor="start" textLength="27.0" lengthAdjust="spacingAndGlyphs">1014.4</text>
<ellipse cx="514.6" cy="409.5" rx="7.2" ry="6.6" fill="none" stroke="#a035d0" stroke-width="1.00"/>
<ellipse cx="514.6" cy="409.5" rx="4.5" ry="4.2" fill="none" stroke="#e0308a" stroke-width="1.00"/>
<circle cx="514.6" cy="409.5" r="2.2" fill="#20d030"/>
<path d="M397.7,305.1L407.5,311.9M403.2,304.8L413.0,311.7M395.8,309.3L405.6,316.2M400.1,309.5L409.9,316.4M405.0,309.6L414.9,316.5M411.0,308.8L420.8,315.7M415.9,309.4L425.7,316.3M398.2,313.9L408.1,320.8M402.7,314.2L412.5,321.1M408.5,313.5L418.3,320.4M412.7,314.0L422.5,320.8M418.0,314.0L427.8,320.8M423.1,313.6L432.9,320.5M395.5,318.7L405.3,325.5M400.6,318.8L410.5,325.7M405.8,318.1L415.6,325.0M410.2,317.8L420.0,324.7M415.0,318.8L424.9,325.7M421.0,318.7L430.9,325.5M425.1,318.6L434.9,325.4M403.5,323.5L413.3,330.4M407.8,322.9L417.6,329.8M413.4,323.2L423.2,330.1M418.0,322.9L427.8,329.8M423.6,322.7L433.5,329.6M427.7,323.2L437.6,330.1M432.8,323.4L442.6,330.3M405.9,327.8L415.7,334.7M410.2,327.2L420.1,334.0M415.0,327.2L424.9,334.1M420.8,327.0L430.6,333.9M425.3,327.6L435.1,334.5M430.2,327.4L440.0,334.2M413.6,332.6L423.5,339.5M418.5,331.6L428.3,338.5M423.2,332.7L433.0,339.6M428.3,332.2L438.1,339.1M433.3,331.8L443.1,338.7" fill="none" stroke="#111" stroke-width="0.40"/>
<path d="M406.8,310.5L407.5,311.9L405.9,311.8M412.3,310.2L413.0,311.7L411.4,311.5M404.9,314.7L405.6,316.2L404.0,316.0M409.2,314.9L409.9,316.4L408.2,316.2M414.1,315.0L414.9,316.5L413.2,316.3M420.1,314.2L420.8,315.7L419.2,315.5M425.0,314.8L425.7,316.3L424.0,316.1M407.3,319.3L408.1,320.8L406.4,320.6M411.8,319.6L412.5,321.1L410.9,320.9M417.6,318.9L418.3,320.4L416.7,320.2M421.8,319.4L422.5,320.8L420.9,320.7M427.1,319.4L427.8,320.8L426.2,320.7M432.2,319.0L432.9,320.5L431.3,320.3M404.6,324.1L405.3,325.5L403.7,325.4M409.7,324.2L410.5,325.7L408.8,325.5M414.9,323.5L415.6,325.0L414.0,324.9M419.3,323.2L420.0,324.7L418.3,324.5M424.1,324.2L424.9,325.7L423.2,325.5M430.1,324.1L430.9,325.5L429.2,325.4M434.2,324.0L434.9,325.4L433.3,325.3M412.6,328.9L413.3,330.4L411.7,330.2M416.9,328.3L417.6,329.8L416.0,329.6M422.5,328.6L423.2,330.1L421.6,329.9M427.1,328.3L427.8,329.8L426.2,329.6M432.8,328.1L433.5,329.6L431.8,329.4M436.8,328.6L437.6,330.1L435.9,329.9M441.9,328.8L442.6,330.3L441.0,330.1M415.0,333.2L415.7,334.7L414.1,334.5M419.4,332.6L420.1,334.0L418.4,333.9M424.1,332.6L424.9,334.1L423.2,333.9M429.9,332.4L430.6,333.9L429.0,333.7M434.4,333.0L435.1,334.5L433.5,334.4M439.3,332.8L440.0,334.2L438.4,334.1M422.8,338.0L423.5,339.5L421.8,339.3M427.6,337.0L428.3,338.5L426.7,338.3M432.3,338.1L433.0,339.6L431.4,339.4M437.4,337.6L438.1,339.1L436.4,338.9M442.4,337.2L443.1,338.7L441.5,338.5" fill="none" stroke="#111" stroke-width="0.75"/>
<path d="M416.2,346.9L406.3,345.5M408.9,350.9L399.0,349.5M413.1,350.5L403.2,349.1M418.4,350.9L408.5,349.6M422.4,351.0L412.5,349.6M407.3,354.5L397.4,353.1M411.8,355.3L401.9,353.9M415.8,354.7L405.9,353.3M421.0,354.9L411.1,353.5M424.5,354.6L414.6,353.2M409.6,359.4L399.7,358.0M414.1,359.6L404.2,358.2M422.6,359.4L412.7,358.0" fill="none" stroke="#111" stroke-width="0.40"/>
<path d="M407.6,346.5L406.3,345.5L407.9,344.9M400.3,350.5L399.0,349.5L400.5,348.9M404.5,350.1L403.2,349.1L404.8,348.6M409.8,350.6L408.5,349.6L410.0,349.0M413.8,350.6L412.5,349.6L414.0,349.0M398.7,354.1L397.4,353.1L399.0,352.5M403.2,354.9L401.9,353.9L403.5,353.4M407.2,354.3L405.9,353.3L407.4,352.7M412.4,354.5L411.1,353.5L412.6,352.9M415.9,354.2L414.6,353.2L416.1,352.6M401.0,359.0L399.7,358.0L401.3,357.4M405.5,359.2L404.2,358.2L405.7,357.6M414.0,359.0L412.7,358.0L414.2,357.4" fill="none" stroke="#111" stroke-width="0.75"/>
<path d="M405.2,362.8L393.2,361.9M419.8,362.8L407.9,362.0M425.0,362.7L413.1,361.9M397.4,366.3L385.4,365.5M402.9,367.1L390.9,366.3M407.3,366.2L395.4,365.4M412.5,366.7L400.5,365.9M417.8,366.8L405.8,366.0M422.5,366.8L410.5,366.0M399.5,371.5L387.5,370.7M405.4,370.8L393.4,369.9M410.5,371.0L398.5,370.2M414.5,371.4L402.5,370.6M420.1,371.5L408.1,370.7M425.2,370.5L413.2,369.7M397.6,375.7L385.7,374.8M403.0,375.1L391.0,374.3M407.5,375.6L395.5,374.7M412.1,375.7L400.1,374.9M417.8,374.8L405.9,373.9M422.6,375.2L410.6,374.3M400.5,379.7L388.6,378.8M404.5,379.6L392.6,378.8M410.3,380.2L398.3,379.3M415.2,379.1L403.3,378.2M420.5,379.7L408.6,378.9M424.5,379.2L412.5,378.3M397.0,384.1L385.0,383.3M402.1,384.3L390.1,383.5M407.0,384.0L395.0,383.1M412.4,383.4L400.4,382.5M416.9,384.4L404.9,383.6M423.1,383.5L411.1,382.6M420.4,388.1L408.4,387.2M425.2,387.7L413.3,386.9" fill="none" stroke="#111" stroke-width="0.40"/>
<path d="M394.6,362.8L393.2,361.9L394.7,361.2M409.2,362.9L407.9,362.0L409.4,361.3M414.5,362.8L413.1,361.9L414.6,361.2M386.8,366.4L385.4,365.5L386.9,364.8M392.3,367.2L390.9,366.3L392.4,365.6M396.7,366.3L395.4,365.4L396.9,364.7M401.9,366.8L400.5,365.9L402.0,365.2M407.2,366.9L405.8,366.0L407.3,365.3M411.9,366.9L410.5,366.0L412.0,365.3M388.9,371.6L387.5,370.7L389.0,370.0M394.8,370.8L393.4,369.9L394.9,369.2M399.9,371.1L398.5,370.2L400.0,369.5M403.9,371.5L402.5,370.6L404.0,369.9M409.5,371.6L408.1,370.7L409.6,370.0M414.6,370.6L413.2,369.7L414.7,369.0M387.0,375.7L385.7,374.8L387.2,374.1M392.4,375.2L391.0,374.3L392.5,373.6M396.9,375.6L395.5,374.7L397.0,374.0M401.5,375.8L400.1,374.9L401.6,374.2M407.2,374.8L405.9,373.9L407.3,373.2M412.0,375.2L410.6,374.3L412.1,373.6M390.0,379.7L388.6,378.8L390.1,378.1M393.9,379.7L392.6,378.8L394.0,378.1M399.7,380.2L398.3,379.3L399.8,378.6M404.7,379.1L403.3,378.2L404.8,377.5M410.0,379.8L408.6,378.9L410.1,378.2M413.9,379.2L412.5,378.3L414.0,377.6M386.4,384.2L385.0,383.3L386.5,382.6M391.5,384.3L390.1,383.5L391.6,382.8M396.4,384.0L395.0,383.1L396.5,382.4M401.8,383.4L400.4,382.5L401.9,381.8M406.3,384.5L404.9,383.6L406.4,382.9M412.5,383.5L411.1,382.6L412.6,381.9M409.8,388.1L408.4,387.2L409.9,386.5M414.7,387.8L413.3,386.9L414.8,386.2" fill="none" stroke="#111" stroke-width="0.75"/>
<path d="M501.1,385.5L490.1,384.5M506.6,385.7L495.6,384.8M485.2,389.7L474.3,388.7M490.4,388.8L479.4,387.9M494.2,388.8L483.3,387.8M499.8,388.8L488.8,387.8M503.9,389.8L492.9,388.9M507.7,389.1L496.7,388.2M488.2,393.5L477.2,392.5M492.4,392.5L481.4,391.6M497.2,393.4L486.3,392.4M501.7,392.9L490.7,391.9M506.4,393.2L495.4,392.3M510.6,393.1L499.6,392.2M486.1,397.1L475.1,396.1M490.0,397.3L479.1,396.3M495.1,396.3L484.2,395.4M498.8,396.5L487.9,395.6M503.1,397.2L492.2,396.2M508.4,396.9L497.4,396.0M488.1,400.2L477.1,399.2M492.4,400.1L481.4,399.2M497.1,400.2L486.2,399.3M501.1,400.9L490.1,399.9M506.4,400.8L495.4,399.9M510.2,400.9L499.3,399.9M485.5,404.7L474.5,403.7M490.4,404.1L479.4,403.2M495.1,404.9L484.2,403.9M499.0,405.0L488.0,404.1M503.4,404.0L492.5,403.0M508.2,404.9L497.3,404.0M512.8,404.5L501.9,403.6M488.0,408.8L477.1,407.9M492.0,408.0L481.0,407.0M497.5,408.5L486.6,407.5M501.0,408.2L490.0,407.3M506.2,408.8L495.2,407.8M510.0,408.8L499.0,407.8M485.8,412.5L474.8,411.5M489.9,412.3L479.0,411.4M494.8,411.6L483.8,410.6M499.0,412.0L488.0,411.0M503.3,412.6L492.3,411.7M507.9,411.8L497.0,410.8M512.8,412.1L501.9,411.2M487.5,416.4L476.5,415.4M493.0,416.1L482.0,415.1M497.3,415.7L486.4,414.8M502.0,416.2L491.1,415.2M506.2,415.8L495.2,414.9M510.1,416.1L499.2,415.2M515.3,415.3L504.3,414.3M485.5,419.7L474.5,418.8M489.9,419.2L478.9,418.3M494.4,419.1L483.4,418.1M498.8,419.5L487.8,418.6M503.7,419.8L492.8,418.9M508.0,419.2L497.0,418.3M513.2,419.8L502.3,418.9M487.8,423.7L476.8,422.7M492.9,422.9L481.9,421.9M497.3,423.0L486.4,422.1M500.9,423.0L489.9,422.0M506.1,423.9L495.1,422.9M511.0,423.1L500.0,422.1M514.9,424.0L503.9,423.1M489.9,427.0L479.0,426.1M494.3,427.0L483.3,426.0M499.1,427.6L488.2,426.7M503.9,426.9L493.0,425.9M507.8,427.2L496.9,426.3M513.2,427.2L502.2,426.3M492.8,430.8L481.9,429.9M496.6,431.5L485.7,430.5M501.5,431.2L490.5,430.3M505.6,430.5L494.6,429.6M510.1,431.0L499.2,430.0M514.4,430.8L503.5,429.8M489.6,435.2L478.7,434.3M494.5,434.5L483.5,433.5M499.4,435.1L488.4,434.1M503.5,435.1L492.6,434.2M508.7,434.7L497.7,433.7M512.7,434.3L501.8,433.3M493.0,438.3L482.1,437.3M497.3,438.7L486.4,437.7M502.0,438.2L491.1,437.2M505.8,438.3L494.9,437.3M510.2,439.1L499.2,438.2M494.8,442.9L483.8,441.9M499.2,443.0L488.3,442.1M503.5,442.2L492.6,441.2M508.7,442.5L497.7,441.6M512.2,441.9L501.2,440.9M492.6,446.4L481.7,445.4M496.9,446.5L485.9,445.6M501.3,446.8L490.4,445.8M506.1,446.5L495.1,445.5M511.0,446.9L500.0,445.9M494.5,449.8L483.5,448.8M499.6,450.1L488.6,449.2M503.2,450.1L492.3,449.1M508.5,449.5L497.5,448.6M512.4,449.5L501.4,448.5M496.8,453.3L485.8,452.4M501.3,454.0L490.3,453.1M506.0,454.0L495.1,453.0M510.1,453.3L499.1,452.4" fill="none" stroke="#111" stroke-width="0.40"/>
<path d="M491.5,385.5L490.1,384.5L491.6,383.9M497.0,385.7L495.6,384.8L497.1,384.1M475.6,389.7L474.3,388.7L475.8,388.1M480.8,388.8L479.4,387.9L480.9,387.2M484.6,388.8L483.3,387.8L484.8,387.2M490.2,388.8L488.8,387.8L490.3,387.2M494.3,389.8L492.9,388.9L494.4,388.2M498.1,389.1L496.7,388.2L498.2,387.5M478.6,393.4L477.2,392.5L478.7,391.8M482.8,392.5L481.4,391.6L482.9,390.9M487.6,393.3L486.3,392.4L487.8,391.7M492.1,392.8L490.7,391.9L492.2,391.2M496.8,393.2L495.4,392.3L496.9,391.6M501.0,393.1L499.6,392.2L501.1,391.5M476.5,397.1L475.1,396.1L476.6,395.5M480.5,397.2L479.1,396.3L480.6,395.6M485.5,396.3L484.2,395.4L485.7,394.7M489.2,396.5L487.9,395.6L489.4,394.9M493.6,397.1L492.2,396.2L493.7,395.6M498.8,396.9L497.4,396.0L499.0,395.3M478.5,400.1L477.1,399.2L478.7,398.5M482.8,400.1L481.4,399.2L482.9,398.5M487.5,400.2L486.2,399.3L487.7,398.6M491.5,400.8L490.1,399.9L491.6,399.2M496.8,400.8L495.4,399.9L496.9,399.2M500.6,400.8L499.3,399.9L500.8,399.2M475.9,404.7L474.5,403.7L476.0,403.1M480.8,404.1L479.4,403.2L480.9,402.5M485.5,404.8L484.2,403.9L485.7,403.2M489.4,405.0L488.0,404.1L489.5,403.4M493.9,403.9L492.5,403.0L494.0,402.3M498.7,404.9L497.3,404.0L498.8,403.3M503.3,404.5L501.9,403.6L503.4,402.9M478.4,408.8L477.1,407.9L478.6,407.2M482.4,407.9L481.0,407.0L482.5,406.4M487.9,408.4L486.6,407.5L488.1,406.8M491.4,408.2L490.0,407.3L491.5,406.6M496.6,408.7L495.2,407.8L496.7,407.1M500.4,408.7L499.0,407.8L500.5,407.1M476.2,412.4L474.8,411.5L476.3,410.8M480.3,412.3L479.0,411.4L480.5,410.7M485.2,411.5L483.8,410.6L485.3,409.9M489.4,411.9L488.0,411.0L489.5,410.3M493.7,412.6L492.3,411.7L493.8,411.0M498.3,411.7L497.0,410.8L498.5,410.1M503.3,412.1L501.9,411.2L503.4,410.5M477.9,416.3L476.5,415.4L478.0,414.7M483.4,416.1L482.0,415.1L483.6,414.5M487.7,415.7L486.4,414.8L487.9,414.1M492.4,416.1L491.1,415.2L492.6,414.5M496.6,415.8L495.2,414.9L496.7,414.2M500.6,416.1L499.2,415.2L500.7,414.5M505.7,415.2L504.3,414.3L505.8,413.7M475.9,419.7L474.5,418.8L476.0,418.1M480.3,419.2L478.9,418.3L480.4,417.6M484.8,419.1L483.4,418.1L484.9,417.5M489.2,419.5L487.8,418.6L489.3,417.9M494.1,419.8L492.8,418.9L494.3,418.2M498.4,419.2L497.0,418.3L498.5,417.6M503.6,419.8L502.3,418.9L503.8,418.2M478.2,423.6L476.8,422.7L478.3,422.0M483.3,422.9L481.9,421.9L483.4,421.3M487.7,423.0L486.4,422.1L487.9,421.4M491.3,422.9L489.9,422.0L491.4,421.3M496.5,423.9L495.1,422.9L496.6,422.3M501.4,423.0L500.0,422.1L501.5,421.4M505.3,424.0L503.9,423.1L505.4,422.4M480.3,427.0L479.0,426.1L480.5,425.4M484.7,427.0L483.3,426.0L484.9,425.4M489.5,427.6L488.2,426.7L489.7,426.0M494.3,426.8L493.0,425.9L494.5,425.3M498.3,427.2L496.9,426.3L498.4,425.6M503.6,427.2L502.2,426.3L503.7,425.6M483.2,430.8L481.9,429.9L483.4,429.2M487.0,431.4L485.7,430.5L487.2,429.9M491.9,431.2L490.5,430.3L492.0,429.6M496.0,430.5L494.6,429.6L496.1,428.9M500.6,431.0L499.2,430.0L500.7,429.4M504.8,430.8L503.5,429.8L505.0,429.2M480.0,435.2L478.7,434.3L480.2,433.6M484.9,434.5L483.5,433.5L485.0,432.9M489.8,435.0L488.4,434.1L489.9,433.4M493.9,435.1L492.6,434.2L494.1,433.5M499.1,434.7L497.7,433.7L499.2,433.1M503.1,434.2L501.8,433.3L503.3,432.7M483.4,438.2L482.1,437.3L483.6,436.7M487.7,438.6L486.4,437.7L487.9,437.0M492.4,438.1L491.1,437.2L492.6,436.5M496.2,438.2L494.9,437.3L496.4,436.6M500.6,439.1L499.2,438.2L500.7,437.5M485.2,442.8L483.8,441.9L485.3,441.2M489.6,443.0L488.3,442.1L489.8,441.4M493.9,442.1L492.6,441.2L494.1,440.5M499.1,442.5L497.7,441.6L499.2,440.9M502.6,441.9L501.2,440.9L502.7,440.3M483.0,446.3L481.7,445.4L483.2,444.7M487.3,446.5L485.9,445.6L487.4,444.9M491.8,446.8L490.4,445.8L491.9,445.2M496.5,446.5L495.1,445.5L496.6,444.9M501.4,446.8L500.0,445.9L501.5,445.2M484.9,449.7L483.5,448.8L485.0,448.1M490.0,450.1L488.6,449.2L490.1,448.5M493.6,450.1L492.3,449.1L493.8,448.5M498.9,449.5L497.5,448.6L499.0,447.9M502.8,449.5L501.4,448.5L502.9,447.9M487.2,453.3L485.8,452.4L487.3,451.7M491.7,454.0L490.3,453.1L491.8,452.4M496.4,453.9L495.1,453.0L496.6,452.4M500.5,453.3L499.1,452.4L500.6,451.7" fill="none" stroke="#111" stroke-width="0.75"/>
<path d="M454.1,311.2L452.3,321.1M457.7,311.4L455.9,321.3M461.9,310.7L460.2,320.6M456.6,315.6L454.9,325.4M459.5,314.8L457.7,324.6M463.7,315.6L462.0,325.5M454.9,318.9L453.2,328.7M458.0,319.5L456.2,329.4M461.9,319.3L460.2,329.1M456.5,322.5L454.7,332.4M460.4,323.6L458.6,333.4M463.2,323.2L461.5,333.1M458.0,327.5L456.3,337.3M461.2,327.0L459.5,336.9M464.6,326.9L462.9,336.8M455.8,331.5L454.1,341.4M460.1,331.1L458.3,340.9M463.1,330.8L461.4,340.7M457.6,335.2L455.9,345.1M461.7,334.9L460.0,344.8M464.9,335.0L463.1,344.9M456.5,339.1L454.8,348.9M460.1,339.1L458.3,348.9M462.9,338.5L461.2,348.4M458.5,343.5L456.7,353.4M461.1,342.6L459.4,352.5" fill="none" stroke="#111" stroke-width="0.40"/>
<path d="M453.4,319.8L452.3,321.1L451.8,319.5M457.0,320.0L455.9,321.3L455.4,319.7M461.2,319.3L460.2,320.6L459.6,319.0M455.9,324.2L454.9,325.4L454.3,323.9M458.8,323.3L457.7,324.6L457.2,323.1M463.0,324.2L462.0,325.5L461.4,323.9M454.2,327.4L453.2,328.7L452.6,327.1M457.3,328.1L456.2,329.4L455.7,327.8M461.2,327.8L460.2,329.1L459.6,327.6M455.8,331.1L454.7,332.4L454.2,330.8M459.7,332.1L458.6,333.4L458.1,331.9M462.5,331.8L461.5,333.1L460.9,331.5M457.3,336.0L456.3,337.3L455.7,335.8M460.5,335.6L459.5,336.9L458.9,335.3M463.9,335.5L462.9,336.8L462.3,335.2M455.1,340.1L454.1,341.4L453.5,339.8M459.4,339.7L458.3,340.9L457.8,339.4M462.4,339.4L461.4,340.7L460.8,339.1M456.9,343.8L455.9,345.1L455.4,343.5M461.0,343.5L460.0,344.8L459.4,343.2M464.2,343.6L463.1,344.9L462.6,343.3M455.8,347.7L454.8,348.9L454.3,347.4M459.4,347.6L458.3,348.9L457.8,347.4M462.2,347.1L461.2,348.4L460.7,346.8M457.8,352.1L456.7,353.4L456.2,351.8M460.4,351.2L459.4,352.5L458.8,350.9" fill="none" stroke="#111" stroke-width="0.75"/>
<path d="M508.9,399.3L513.4,391.5M511.4,398.9L515.9,391.1M514.9,399.4L519.4,391.6M520.5,399.3L525.0,391.5M507.8,402.4L512.3,394.6M509.8,402.5L514.3,394.7M513.2,401.5L517.7,393.7M516.2,401.4L520.7,393.6M519.5,402.0L524.0,394.2M521.8,401.6L526.3,393.8M508.6,404.4L513.1,396.6M511.6,405.3L516.1,397.5M514.4,404.7L518.9,396.9M518.1,404.5L522.6,396.7M520.3,404.6L524.8,396.8M523.9,405.2L528.4,397.4M510.3,407.7L514.8,399.9M513.6,408.0L518.1,400.2M516.3,407.5L520.8,399.7M519.3,407.4L523.8,399.6M521.8,408.3L526.3,400.5M508.5,411.0L513.0,403.2M512.3,410.3L516.8,402.5M514.9,410.3L519.4,402.5M518.1,410.7L522.6,402.9M520.3,410.8L524.8,403.0M523.9,410.5L528.4,402.7M510.2,414.1L514.7,406.3M512.8,413.8L517.3,406.0M516.0,413.5L520.5,405.7M518.7,413.4L523.2,405.6M522.8,413.8L527.3,406.0M525.0,414.1L529.5,406.3M509.2,416.4L513.7,408.6M511.4,416.8L515.9,409.0M514.5,417.0L519.0,409.2M517.4,417.4L521.9,409.6M520.5,417.4L525.0,409.6M524.3,417.1L528.8,409.3M510.2,419.4L514.7,411.6M513.6,419.6L518.1,411.9M516.2,420.5L520.7,412.7M519.8,420.3L524.3,412.5M521.7,420.1L526.2,412.3M525.4,420.2L529.9,412.4M511.9,423.2L516.4,415.4M515.0,422.4L519.5,414.6M517.4,423.0L521.9,415.2M520.9,423.2L525.4,415.4M523.2,423.1L527.7,415.3M526.4,422.7L530.9,414.9" fill="none" stroke="#111" stroke-width="0.40"/>
<path d="M511.9,392.4L513.4,391.5L513.3,393.2M514.5,392.0L515.9,391.1L515.9,392.8M517.9,392.5L519.4,391.6L519.3,393.3M523.6,392.3L525.0,391.5L525.0,393.1M510.9,395.5L512.3,394.6L512.3,396.3M512.8,395.5L514.3,394.7L514.2,396.3M516.3,394.5L517.7,393.7L517.7,395.3M519.3,394.4L520.7,393.6L520.7,395.2M522.6,395.0L524.0,394.2L524.0,395.8M524.9,394.6L526.3,393.8L526.3,395.4M511.7,397.4L513.1,396.6L513.0,398.2M514.6,398.4L516.1,397.5L516.0,399.2M517.5,397.7L518.9,396.9L518.8,398.5M521.2,397.6L522.6,396.7L522.6,398.4M523.4,397.6L524.8,396.8L524.8,398.4M527.0,398.2L528.4,397.4L528.4,399.0M513.4,400.8L514.8,399.9L514.8,401.6M516.6,401.0L518.1,400.2L518.0,401.8M519.4,400.6L520.8,399.7L520.8,401.4M522.4,400.4L523.8,399.6L523.8,401.2M524.9,401.4L526.3,400.5L526.2,402.2M511.6,404.0L513.0,403.2L513.0,404.8M515.4,403.4L516.8,402.5L516.8,404.2M518.0,403.4L519.4,402.5L519.4,404.2M521.2,403.8L522.6,402.9L522.6,404.6M523.3,403.8L524.8,403.0L524.7,404.6M527.0,403.5L528.4,402.7L528.4,404.3M513.3,407.2L514.7,406.3L514.7,408.0M515.9,406.8L517.3,406.0L517.3,407.6M519.1,406.5L520.5,405.7L520.5,407.3M521.8,406.4L523.2,405.6L523.2,407.2M525.9,406.8L527.3,406.0L527.3,407.6M528.1,407.1L529.5,406.3L529.5,407.9M512.3,409.4L513.7,408.6L513.7,410.2M514.5,409.8L515.9,409.0L515.9,410.6M517.6,410.0L519.0,409.2L519.0,410.8M520.5,410.4L521.9,409.6L521.9,411.2M523.6,410.4L525.0,409.6L525.0,411.2M527.3,410.1L528.8,409.3L528.7,410.9M513.3,412.4L514.7,411.6L514.7,413.2M516.7,412.7L518.1,411.9L518.0,413.5M519.3,413.5L520.7,412.7L520.6,414.3M522.8,413.4L524.3,412.5L524.2,414.2M524.8,413.1L526.2,412.3L526.2,413.9M528.5,413.2L529.9,412.4L529.8,414.0M515.0,416.2L516.4,415.4L516.4,417.0M518.1,415.5L519.5,414.6L519.5,416.3M520.5,416.0L521.9,415.2L521.9,416.8M524.0,416.2L525.4,415.4L525.3,417.0M526.3,416.1L527.7,415.3L527.6,416.9M529.5,415.8L530.9,414.9L530.9,416.6" fill="none" stroke="#111" stroke-width="0.75"/>
<path d="M593.4,323.8L582.5,322.3M598.2,323.3L587.3,321.8M603.2,323.7L592.3,322.2M607.3,322.9L596.4,321.4M596.5,327.2L585.6,325.7M600.3,328.0L589.4,326.5M605.1,327.8L594.2,326.3M594.1,332.8L583.2,331.2M597.6,332.1L586.7,330.5M602.5,332.1L591.6,330.6M607.2,332.0L596.4,330.4M596.5,337.2L585.6,335.6M600.1,337.1L589.2,335.5M605.3,336.9L594.4,335.4M594.0,341.0L583.1,339.4M598.3,341.0L587.4,339.4M602.7,340.7L591.8,339.2M607.0,341.6L596.1,340.1" fill="none" stroke="#111" stroke-width="0.40"/>
<path d="M583.8,323.3L582.5,322.3L584.1,321.7M588.6,322.8L587.3,321.8L588.8,321.2M593.6,323.2L592.3,322.2L593.8,321.6M597.7,322.4L596.4,321.4L597.9,320.8M586.9,326.7L585.6,325.7L587.1,325.1M590.7,327.5L589.4,326.5L590.9,325.9M595.5,327.3L594.2,326.3L595.7,325.7M584.5,332.2L583.2,331.2L584.7,330.6M588.1,331.5L586.7,330.5L588.3,329.9M593.0,331.6L591.6,330.6L593.2,330.0M597.7,331.4L596.4,330.4L597.9,329.8M586.9,336.6L585.6,335.6L587.1,335.1M590.5,336.5L589.2,335.5L590.8,334.9M595.7,336.4L594.4,335.4L595.9,334.8M584.4,340.4L583.1,339.4L584.7,338.8M588.7,340.4L587.4,339.4L588.9,338.9M593.2,340.2L591.8,339.2L593.4,338.6M597.4,341.1L596.1,340.1L597.6,339.5" fill="none" stroke="#111" stroke-width="0.75"/>
<circle cx="539.8" cy="409.5" r="1.35" fill="#000"/>
<circle cx="539.4" cy="413.7" r="1.35" fill="#000"/>
<circle cx="538.2" cy="417.7" r="1.35" fill="#000"/>
<circle cx="536.2" cy="421.4" r="1.35" fill="#000"/>
<circle cx="533.5" cy="424.7" r="1.35" fill="#000"/>
<circle cx="530.2" cy="427.4" r="1.35" fill="#000"/>
<circle cx="526.5" cy="429.4" r="1.35" fill="#000"/>
<circle cx="522.5" cy="430.6" r="1.35" fill="#000"/>
<circle cx="518.3" cy="431.0" r="1.35" fill="#000"/>
<circle cx="514.1" cy="430.6" r="1.35" fill="#000"/>
<circle cx="510.1" cy="429.4" r="1.35" fill="#000"/>
<circle cx="506.4" cy="427.4" r="1.35" fill="#000"/>
<circle cx="503.1" cy="424.7" r="1.35" fill="#000"/>
<circle cx="500.4" cy="421.4" r="1.35" fill="#000"/>
<circle cx="498.4" cy="417.7" r="1.35" fill="#000"/>
<circle cx="497.2" cy="413.7" r="1.35" fill="#000"/>
<circle cx="496.8" cy="409.5" r="1.35" fill="#000"/>
<circle cx="497.2" cy="405.3" r="1.35" fill="#000"/>
<circle cx="498.4" cy="401.3" r="1.35" fill="#000"/>
<circle cx="500.4" cy="397.6" r="1.35" fill="#000"/>
<circle cx="503.1" cy="394.3" r="1.35" fill="#000"/>
<circle cx="506.4" cy="391.6" r="1.35" fill="#000"/>
<circle cx="510.1" cy="389.6" r="1.35" fill="#000"/>
<circle cx="514.1" cy="388.4" r="1.35" fill="#000"/>
<circle cx="518.3" cy="388.0" r="1.35" fill="#000"/>
<circle cx="522.5" cy="388.4" r="1.35" fill="#000"/>
<circle cx="526.5" cy="389.6" r="1.35" fill="#000"/>
<circle cx="530.2" cy="391.6" r="1.35" fill="#000"/>
<circle cx="533.5" cy="394.3" r="1.35" fill="#000"/>
<circle cx="536.2" cy="397.6" r="1.35" fill="#000"/>
<circle cx="538.2" cy="401.3" r="1.35" fill="#000"/>
<circle cx="539.4" cy="405.3" r="1.35" fill="#000"/>
</g>
<path d="M449.7,250.5V460.5M510.4,250.5V460.5M571.0,250.5V460.5M389.0,285.5H631.7M389.0,320.5H631.7M389.0,355.5H631.7M389.0,390.5H631.7M389.0,425.5H631.7" stroke="#b4b4b4" stroke-width="0.9" stroke-dasharray="1.2,2.2" fill="none"/>
<rect x="389.0" y="250.5" width="242.7" height="210.0" fill="none" stroke="#444" stroke-width="0.9"/>
<path d="M385.8,250.5H389.0M385.8,285.5H389.0M385.8,320.5H389.0M385.8,355.5H389.0M385.8,390.5H389.0M385.8,425.5H389.0M385.8,460.5H389.0M389.0,460.5V463.0M449.7,460.5V463.0M510.4,460.5V463.0M571.0,460.5V463.0M631.7,460.5V463.0" stroke="#3a3a3a" stroke-width="0.9" fill="none"/>
<text x="383.5" y="254.2" font-size="10.3" fill="#4a4a4a" text-anchor="end" textLength="31.0" lengthAdjust="spacingAndGlyphs">21.52N</text>
<text x="383.5" y="289.2" font-size="10.3" fill="#4a4a4a" text-anchor="end" textLength="31.0" lengthAdjust="spacingAndGlyphs">21.51N</text>
<text x="383.5" y="324.2" font-size="10.3" fill="#4a4a4a" text-anchor="end" textLength="25.5" lengthAdjust="spacingAndGlyphs">21.5N</text>
<text x="383.5" y="359.2" font-size="10.3" fill="#4a4a4a" text-anchor="end" textLength="31.0" lengthAdjust="spacingAndGlyphs">21.49N</text>
<text x="383.5" y="394.2" font-size="10.3" fill="#4a4a4a" text-anchor="end" textLength="31.0" lengthAdjust="spacingAndGlyphs">21.48N</text>
<text x="383.5" y="429.2" font-size="10.3" fill="#4a4a4a" text-anchor="end" textLength="31.0" lengthAdjust="spacingAndGlyphs">21.47N</text>
<text x="383.5" y="464.2" font-size="10.3" fill="#4a4a4a" text-anchor="end" textLength="31.0" lengthAdjust="spacingAndGlyphs">21.46N</text>
<text x="389.0" y="472.9" font-size="10.0" fill="#4a4a4a" text-anchor="middle" textLength="36.5" lengthAdjust="spacingAndGlyphs">158.06W</text>
<text x="449.7" y="472.9" font-size="10.0" fill="#4a4a4a" text-anchor="middle" textLength="36.5" lengthAdjust="spacingAndGlyphs">158.04W</text>
<text x="510.4" y="472.9" font-size="10.0" fill="#4a4a4a" text-anchor="middle" textLength="36.5" lengthAdjust="spacingAndGlyphs">158.02W</text>
<text x="571.0" y="472.9" font-size="10.0" fill="#4a4a4a" text-anchor="middle" textLength="22.5" lengthAdjust="spacingAndGlyphs">158W</text>
<text x="631.7" y="472.9" font-size="10.0" fill="#4a4a4a" text-anchor="middle" textLength="36.5" lengthAdjust="spacingAndGlyphs">157.98W</text>
<path d="M568.5,476.5H585.0 M582.5,475.1L585.0,476.5L582.5,477.9" stroke="#555" stroke-width="0.8" fill="none"/>
<text x="576.5" y="482.5" font-size="6.3" fill="#555" text-anchor="middle">10</text>
<text x="0.5" y="15.9" font-size="19.5" fill="#111" stroke="#111" stroke-width="0.35" textLength="21.5" lengthAdjust="spacingAndGlyphs">(<tspan font-size="17.8">a</tspan>)</text>
<text x="316.0" y="15.6" font-size="19.5" fill="#111" stroke="#111" stroke-width="0.35" textLength="21.5" lengthAdjust="spacingAndGlyphs">(<tspan font-size="17.8">b</tspan>)</text>
<text x="0.8" y="268.9" font-size="19.5" fill="#111" stroke="#111" stroke-width="0.35" textLength="21.5" lengthAdjust="spacingAndGlyphs">(<tspan font-size="17.8">c</tspan>)</text>
<text x="324.0" y="268.4" font-size="19.5" fill="#111" stroke="#111" stroke-width="0.35" textLength="21.5" lengthAdjust="spacingAndGlyphs">(<tspan font-size="17.8">d</tspan>)</text>
<rect x="661.2" y="87.00" width="10.1" height="18.95" fill="#9955c9"/>
<rect x="661.2" y="105.95" width="10.1" height="18.95" fill="#ff00ff"/>
<rect x="661.2" y="124.90" width="10.1" height="18.95" fill="#c00000"/>
<rect x="661.2" y="143.85" width="10.1" height="18.95" fill="#d60000"/>
<rect x="661.2" y="162.80" width="10.1" height="18.95" fill="#ff0000"/>
<rect x="661.2" y="181.75" width="10.1" height="18.95" fill="#ff9000"/>
<rect x="661.2" y="200.70" width="10.1" height="18.95" fill="#e7c000"/>
<rect x="661.2" y="219.65" width="10.1" height="18.95" fill="#ffff00"/>
<rect x="661.2" y="238.60" width="10.1" height="18.95" fill="#009000"/>
<rect x="661.2" y="257.55" width="10.1" height="18.95" fill="#00c800"/>
<rect x="661.2" y="276.50" width="10.1" height="18.95" fill="#00ff00"/>
<rect x="661.2" y="295.45" width="10.1" height="18.95" fill="#0000f6"/>
<rect x="661.2" y="314.40" width="10.1" height="18.95" fill="#01a0f6"/>
<rect x="661.2" y="333.35" width="10.1" height="18.95" fill="#00ecec"/>
<path d="M661.2,87.0L666.2,66.8L671.3,87.0Z" fill="#a8a8a8" stroke="#333" stroke-width="0.8"/>
<path d="M661.2,352.3L666.2,371.0L671.3,352.3Z" fill="#fff" stroke="#333" stroke-width="0.8"/>
<rect x="661.2" y="87.0" width="10.1" height="265.3" fill="none" stroke="#333" stroke-width="0.8"/>
<path d="M661.2,105.95H671.3M661.2,124.90H671.3M661.2,143.85H671.3M661.2,162.80H671.3M661.2,181.75H671.3M661.2,200.70H671.3M661.2,219.65H671.3M661.2,238.60H671.3M661.2,257.55H671.3M661.2,276.50H671.3M661.2,295.45H671.3M661.2,314.40H671.3M661.2,333.35H671.3" stroke="#333" stroke-width="0.6" fill="none"/>
<text x="673.6" y="90.8" font-size="10.5" fill="#222" text-anchor="start">70</text>
<text x="673.6" y="109.8" font-size="10.5" fill="#222" text-anchor="start">65</text>
<text x="673.6" y="128.7" font-size="10.5" fill="#222" text-anchor="start">60</text>
<text x="673.6" y="147.7" font-size="10.5" fill="#222" text-anchor="start">55</text>
<text x="673.6" y="166.6" font-size="10.5" fill="#222" text-anchor="start">50</text>
<text x="673.6" y="185.6" font-size="10.5" fill="#222" text-anchor="start">45</text>
<text x="673.6" y="204.5" font-size="10.5" fill="#222" text-anchor="start">40</text>
<text x="673.6" y="223.5" font-size="10.5" fill="#222" text-anchor="start">35</text>
<text x="673.6" y="242.4" font-size="10.5" fill="#222" text-anchor="start">30</text>
<text x="673.6" y="261.3" font-size="10.5" fill="#222" text-anchor="start">25</text>
<text x="673.6" y="280.3" font-size="10.5" fill="#222" text-anchor="start">20</text>
<text x="673.6" y="299.2" font-size="10.5" fill="#222" text-anchor="start">15</text>
<text x="673.6" y="318.2" font-size="10.5" fill="#222" text-anchor="start">10</text>
<text x="673.6" y="337.2" font-size="10.5" fill="#222" text-anchor="start">5</text>
<text x="673.6" y="356.1" font-size="10.5" fill="#222" text-anchor="start">0</text>
</svg>
</body></html>
